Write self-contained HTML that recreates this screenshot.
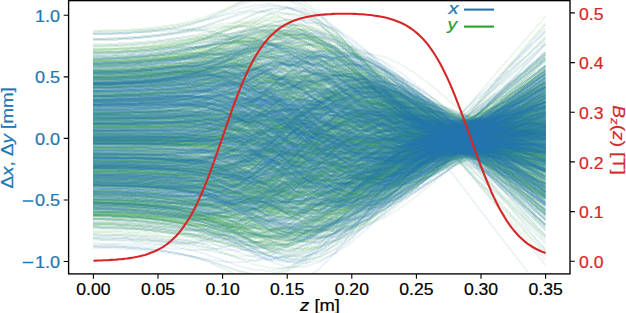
<!DOCTYPE html>
<html><head><meta charset="utf-8"><style>
html,body{margin:0;padding:0;background:#fff;}
svg{display:block;}
.L path{vector-effect:non-scaling-stroke;}
text{font-family:"Liberation Sans",sans-serif;stroke:currentColor;stroke-width:0.2px;}
</style></head><body>
<svg width="626" height="313" viewBox="0 0 626 313">
<rect x="0" y="0" width="626" height="313" fill="#fff"/>
<defs><clipPath id="ax"><rect x="68.6" y="0.65" width="501.4" height="273.25"/></clipPath></defs>
<g clip-path="url(#ax)" fill="none" stroke-width="2.0" stroke-opacity="0.085" stroke-linejoin="round" stroke-linecap="butt" class="L" shape-rendering="crispEdges">
<g stroke="#2ca02c" transform="translate(93.4 138.4) scale(16.1500 0.25)">
<path d="M0 -132l1 0 1-2 1-3 1-4 1-7 1-10 1-16 1-21 1-26 1-27 1-24 1-17 1-8 1 1 1 12 1 20 1 29 1 34 1 36 1 36 1 33 1 27 1 22 1 18 1 15 1 16 1 15 1 17"/>
<path d="M0 -26l1-1 1-1 1 0 1-1 1-1 1 0 1 2 1 5 1 6 1 10 1 12 1 12 1 12 1 12 1 9 1 6 1 3 1-1 1-5 1-7 1-10 1-11 1-11 1-12 1-12 1-12 1-12 1-13"/>
<path d="M0 -169l1-1 1-3 1-3 1-5 1-7 1-8 1-10 1-10 1-9 1-4 1 4 1 13 1 22 1 29 1 34 1 36 1 35 1 31 1 24 1 16 1 7 1-2 1-8 1-13 1-14 1-14 1-13 1-13"/>
<path d="M0 -101l1 0 1-2 1-2 1-2 1-4 1-4 1-5 1-5 1-3 1 1 1 5 1 10 1 13 1 16 1 18 1 18 1 16 1 14 1 10 1 6 1 1 1-3 1-5 1-8 1-8 1-9 1-8 1-8"/>
<path d="M0 255l1 2 1 3 1 5 1 7 1 10 1 14 1 18 1 24 1 24 1 22 1 14 1 1 1-10 1-23 1-34 1-42 1-48 1-48 1-46 1-39 1-30 1-19 1-9 1-3 1 1 1 1 1 2 1 0"/>
<path d="M0 -182l1-1 1-2 1-4 1-5 1-7 1-9 1-11 1-13 1-12 1-9 1-2 1 7 1 16 1 22 1 28 1 32 1 33 1 33 1 28 1 23 1 16 1 8 1 2 1-2 1-5 1-5 1-5 1-5"/>
<path d="M0 -63l1 0 1-1 1-1 1-1 1-2 1-2 1-2 1-1 1 3 1 6 1 9 1 12 1 13 1 13 1 11 1 9 1 7 1 3 1-1 1-3 1-7 1-9 1-10 1-10 1-11 1-10 1-10 1-9"/>
<path d="M0 -296l1-1 1-3 1-5 1-7 1-9 1-11 1-14 1-13 1-13 1-6 1 2 1 12 1 23 1 33 1 40 1 46 1 46 1 44 1 37 1 29 1 18 1 6 1-5 1-13 1-17 1-20 1-21 1-21"/>
<path d="M0 18l1 0 1 1 1 1 1 2 1 2 1 3 1 6 1 7 1 8 1 7 1 6 1 2 1 0 1-3 1-6 1-8 1-9 1-10 1-10 1-10 1-7 1-7 1-6 1-5 1-6 1-6 1-8 1-8"/>
<path d="M0 154l1 1 1 2 1 3 1 5 1 7 1 10 1 16 1 20 1 23 1 24 1 19 1 11 1 1 1-9 1-20 1-27 1-35 1-38 1-39 1-36 1-32 1-25 1-19 1-13 1-12 1-10 1-11 1-12"/>
<path d="M0 88l1 0 1 1 1 1 1 1 1 0 1-2 1-6 1-13 1-20 1-30 1-36 1-40 1-40 1-37 1-31 1-21 1-11 1 0 1 11 1 21 1 29 1 33 1 35 1 34 1 34 1 33 1 33 1 33"/>
<path d="M0 -368l1-1 1-3 1-5 1-6 1-7 1-6 1-4 1 2 1 12 1 26 1 41 1 55 1 65 1 69 1 69 1 62 1 50 1 35 1 17 1-3 1-20 1-35 1-46 1-51 1-54 1-55 1-54 1-54"/>
<path d="M0 -130l1 0 1-2 1-2 1-2 1-2 1 0 1 3 1 10 1 18 1 28 1 35 1 41 1 42 1 40 1 34 1 25 1 13 1 1 1-11 1-22 1-30 1-35 1-37 1-38 1-38 1-38 1-37 1-38"/>
<path d="M0 -320l1-2 1-4 1-6 1-8 1-10 1-15 1-18 1-22 1-23 1-17 1-6 1 8 1 24 1 38 1 50 1 58 1 60 1 58 1 51 1 39 1 25 1 11 1-3 1-11 1-15 1-15 1-16 1-14"/>
<path d="M0 -218l1-1 1-3 1-4 1-6 1-8 1-12 1-16 1-21 1-23 1-22 1-14 1-3 1 10 1 24 1 36 1 45 1 51 1 53 1 51 1 44 1 35 1 24 1 14 1 8 1 4 1 2 1 2 1 2"/>
<path d="M0 58l1 0 1 1 1 1 1 0 1 0 1-2 1-5 1-10 1-15 1-21 1-25 1-27 1-28 1-25 1-23 1-17 1-10 1-3 1 4 1 11 1 16 1 20 1 22 1 23 1 24 1 24 1 24 1 25"/>
<path d="M0 -79l1 0 1-1 1-1 1-2 1-2 1-1 1 1 1 3 1 8 1 14 1 18 1 22 1 24 1 24 1 21 1 18 1 12 1 6 1 0 1-6 1-11 1-15 1-16 1-17 1-17 1-17 1-17 1-16"/>
<path d="M0 -22l1 1 1 0 1 1 1 2 1 3 1 8 1 15 1 24 1 36 1 46 1 51 1 51 1 46 1 34 1 21 1 5 1-12 1-26 1-40 1-48 1-53 1-53 1-51 1-46 1-44 1-42 1-42 1-42"/>
<path d="M0 282l1 1 1 3 1 5 1 8 1 10 1 13 1 18 1 22 1 25 1 21 1 13 1 1 1-15 1-31 1-43 1-53 1-59 1-60 1-56 1-47 1-37 1-23 1-11 1-2 1 3 1 4 1 5 1 4"/>
<path d="M0 201l1 0 1 2 1 3 1 4 1 5 1 3 1 2 1-3 1-12 1-23 1-32 1-41 1-45 1-44 1-41 1-33 1-25 1-13 1 0 1 11 1 21 1 28 1 34 1 35 1 35 1 36 1 34 1 35"/>
<path d="M0 -416l1-1 1-2 1-5 1-6 1-10 1-15 1-23 1-30 1-33 1-28 1-14 1 6 1 28 1 50 1 67 1 79 1 85 1 83 1 75 1 61 1 44 1 25 1 11 1 2 1 0 1 1 1 3 1 5"/>
<path d="M0 -269l1-1 1-2 1-4 1-5 1-6 1-6 1-3 1 0 1 8 1 17 1 27 1 36 1 42 1 46 1 47 1 42 1 36 1 26 1 15 1 2 1-10 1-21 1-29 1-35 1-38 1-39 1-40 1-41"/>
<path d="M0 63l1 0 1 1 1 1 1 0 1 0 1-2 1-7 1-13 1-20 1-28 1-33 1-34 1-33 1-28 1-21 1-11 1-1 1 10 1 18 1 26 1 31 1 32 1 32 1 32 1 30 1 30 1 29 1 30"/>
<path d="M0 -147l1 0 1-2 1-2 1-2 1-1 1 1 1 5 1 13 1 23 1 34 1 42 1 47 1 45 1 41 1 33 1 21 1 8 1-5 1-19 1-29 1-37 1-41 1-43 1-44 1-43 1-43 1-42 1-43"/>
<path d="M0 -13l1 0 1 1 1 1 1 1 1 3 1 5 1 10 1 16 1 25 1 31 1 34 1 34 1 29 1 22 1 11 1 1 1-10 1-19 1-28 1-34 1-36 1-36 1-34 1-31 1-29 1-28 1-27 1-27"/>
<path d="M0 174l1 1 1 2 1 3 1 6 1 8 1 13 1 20 1 29 1 37 1 41 1 36 1 26 1 11 1-7 1-23 1-40 1-52 1-61 1-65 1-64 1-59 1-50 1-41 1-34 1-29 1-28 1-28 1-28"/>
<path d="M0 -270l1 0 1-2 1-4 1-5 1-5 1-4 1-3 1 4 1 11 1 22 1 34 1 43 1 49 1 52 1 50 1 45 1 36 1 24 1 11 1-3 1-16 1-26 1-35 1-39 1-41 1-43 1-42 1-43"/>
<path d="M0 19l1 0 1 1 1 1 1 1 1 3 1 6 1 9 1 14 1 20 1 23 1 23 1 19 1 11 1 4 1-6 1-14 1-22 1-27 1-31 1-31 1-29 1-27 1-22 1-21 1-19 1-19 1-19 1-20"/>
<path d="M0 38l1-1 1 1 1 1 1 2 1 5 1 8 1 15 1 22 1 31 1 37 1 38 1 35 1 28 1 20 1 8 1-4 1-16 1-27 1-34 1-39 1-42 1-39 1-37 1-33 1-32 1-31 1-32 1-31"/>
<path d="M0 -233l1-1 1-2 1-4 1-6 1-8 1-9 1-12 1-12 1-8 1-3 1 6 1 16 1 25 1 32 1 36 1 38 1 36 1 31 1 24 1 14 1 5 1-4 1-13 1-17 1-19 1-20 1-19 1-19"/>
<path d="M0 -268l1-1 1-2 1-3 1-4 1-4 1-2 1 2 1 11 1 23 1 36 1 50 1 59 1 64 1 64 1 59 1 48 1 35 1 19 1 2 1-15 1-30 1-41 1-48 1-51 1-53 1-52 1-52 1-52"/>
<path d="M0 244l1 0 1 2 1 4 1 5 1 9 1 15 1 23 1 32 1 41 1 42 1 38 1 24 1 8 1-11 1-31 1-47 1-59 1-68 1-68 1-65 1-55 1-44 1-31 1-24 1-19 1-19 1-20 1-21"/>
<path d="M0 92l1 0 1 1 1 2 1 2 1 2 1 3 1 3 1 2 1-1 1-3 1-8 1-11 1-14 1-16 1-16 1-16 1-13 1-11 1-7 1-2 1 2 1 6 1 8 1 11 1 12 1 12 1 13 1 12"/>
<path d="M0 159l1 1 1 2 1 3 1 5 1 8 1 11 1 14 1 21 1 25 1 25 1 20 1 10 1-3 1-16 1-30 1-40 1-47 1-50 1-49 1-43 1-35 1-24 1-16 1-9 1-5 1-4 1-4 1-4"/>
<path d="M0 -308l1-2 1-3 1-5 1-7 1-10 1-14 1-18 1-21 1-21 1-16 1-5 1 9 1 25 1 37 1 49 1 56 1 59 1 57 1 50 1 41 1 29 1 15 1 4 1-3 1-6 1-8 1-6 1-6"/>
<path d="M0 -289l1-1 1-3 1-4 1-7 1-9 1-13 1-18 1-24 1-28 1-26 1-18 1-6 1 12 1 29 1 46 1 57 1 66 1 67 1 64 1 56 1 43 1 28 1 15 1 4 1-1 1-4 1-4 1-4"/>
<path d="M0 256l1 1 1 2 1 5 1 6 1 8 1 10 1 11 1 11 1 8 1 1 1-10 1-22 1-33 1-40 1-46 1-47 1-44 1-38 1-29 1-17 1-5 1 7 1 15 1 21 1 23 1 24 1 22 1 23"/>
<path d="M0 -168l1-1 1-2 1-3 1-5 1-6 1-8 1-11 1-12 1-13 1-9 1-5 1 2 1 10 1 16 1 23 1 27 1 28 1 28 1 25 1 20 1 14 1 6 1 0 1-6 1-7 1-9 1-9 1-9"/>
<path d="M0 164l1 1 1 2 1 3 1 4 1 7 1 8 1 11 1 14 1 15 1 14 1 10 1 3 1-6 1-15 1-24 1-30 1-34 1-35 1-33 1-28 1-21 1-13 1-6 1 1 1 4 1 5 1 6 1 6"/>
<path d="M0 33l1 0 1 0 1 0 1-2 1-2 1-7 1-12 1-22 1-32 1-39 1-43 1-39 1-33 1-20 1-8 1 6 1 20 1 32 1 41 1 46 1 47 1 46 1 43 1 39 1 39 1 38 1 38 1 38"/>
<path d="M0 -220l1-1 1-2 1-3 1-6 1-9 1-13 1-20 1-27 1-33 1-34 1-28 1-17 1 0 1 16 1 32 1 46 1 56 1 61 1 62 1 56 1 49 1 36 1 26 1 19 1 14 1 13 1 13 1 13"/>
<path d="M0 131l1 0 1 1 1 2 1 4 1 7 1 9 1 16 1 22 1 31 1 34 1 33 1 26 1 15 1-1 1-16 1-30 1-41 1-50 1-53 1-51 1-47 1-38 1-28 1-21 1-17 1-14 1-14 1-14"/>
<path d="M0 129l1 1 1 2 1 3 1 5 1 7 1 11 1 16 1 21 1 26 1 26 1 20 1 11 1 0 1-12 1-22 1-32 1-38 1-41 1-42 1-37 1-32 1-24 1-17 1-12 1-11 1-11 1-12 1-12"/>
<path d="M0 110l1 0 1 2 1 3 1 3 1 5 1 6 1 8 1 8 1 9 1 8 1 3 1-1 1-7 1-12 1-17 1-19 1-21 1-21 1-19 1-16 1-11 1-7 1-1 1 1 1 4 1 4 1 4 1 5"/>
<path d="M0 34l1 0 1 0 1 0 1-1 1-2 1-6 1-11 1-19 1-29 1-37 1-42 1-43 1-39 1-32 1-22 1-10 1 3 1 16 1 26 1 35 1 40 1 42 1 41 1 39 1 37 1 36 1 37 1 36"/>
<path d="M0 -291l1-1 1-3 1-4 1-6 1-6 1-7 1-4 1 0 1 7 1 17 1 27 1 35 1 42 1 45 1 46 1 42 1 34 1 26 1 13 1 1 1-11 1-22 1-31 1-37 1-41 1-42 1-43 1-43"/>
<path d="M0 129l1 1 1 2 1 3 1 5 1 6 1 7 1 10 1 13 1 15 1 15 1 11 1 5 1-4 1-12 1-20 1-27 1-31 1-34 1-34 1-31 1-26 1-20 1-14 1-8 1-6 1-3 1-3 1-2"/>
<path d="M0 9l1 0 1-1 1-1 1-1 1-2 1-3 1-6 1-10 1-15 1-19 1-21 1-22 1-18 1-13 1-6 1 0 1 7 1 13 1 19 1 21 1 24 1 23 1 21 1 19 1 17 1 17 1 15 1 16"/>
<path d="M0 316l1 1 1 2 1 3 1 4 1 3 1 0 1-5 1-13 1-26 1-38 1-52 1-61 1-66 1-67 1-61 1-51 1-37 1-20 1-2 1 17 1 32 1 46 1 53 1 59 1 61 1 62 1 63 1 63"/>
<path d="M0 58l1 0 1 1 1 0 1-1 1-3 1-6 1-14 1-23 1-36 1-47 1-55 1-57 1-55 1-46 1-34 1-19 1-3 1 14 1 28 1 41 1 50 1 54 1 55 1 53 1 50 1 50 1 48 1 49"/>
<path d="M0 -204l1-1 1-3 1-3 1-6 1-8 1-12 1-16 1-20 1-24 1-23 1-18 1-9 1 2 1 14 1 25 1 34 1 41 1 44 1 44 1 39 1 31 1 23 1 14 1 6 1 3 1 1 1 0 1 1"/>
<path d="M0 21l1 0 1 1 1 0 1 1 1 1 1 1 1 0 1 1 1 1 1 0 1 0 1 0 1 0 1-1 1-2 1-2 1-2 1-3 1-3 1-2 1-1 1-1 1 0 1 1 1 2 1 2 1 3 1 3"/>
<path d="M0 -102l1-1 1-1 1-2 1-1 1-1 1 1 1 5 1 13 1 23 1 33 1 41 1 43 1 41 1 34 1 24 1 12 1-1 1-14 1-26 1-34 1-40 1-43 1-42 1-40 1-39 1-37 1-37 1-36"/>
<path d="M0 -169l1-2 1-2 1-5 1-6 1-8 1-13 1-19 1-25 1-30 1-30 1-25 1-15 1-3 1 9 1 22 1 33 1 41 1 46 1 47 1 43 1 37 1 28 1 19 1 14 1 11 1 10 1 11 1 11"/>
<path d="M0 -59l1-1 1-1 1-1 1-2 1-2 1-2 1-1 1 0 1 2 1 5 1 9 1 11 1 14 1 16 1 17 1 17 1 14 1 12 1 7 1 4 1 0 1-4 1-7 1-8 1-10 1-10 1-10 1-10"/>
<path d="M0 129l1 2 1 2 1 4 1 5 1 7 1 11 1 14 1 21 1 26 1 28 1 28 1 22 1 13 1 1 1-11 1-23 1-31 1-39 1-42 1-42 1-38 1-31 1-23 1-17 1-12 1-10 1-9 1-8"/>
<path d="M0 -45l1 0 1 0 1 0 1 0 1 0 1 3 1 7 1 10 1 16 1 20 1 22 1 22 1 21 1 19 1 14 1 9 1 2 1-4 1-10 1-15 1-19 1-21 1-21 1-22 1-23 1-24 1-24 1-25"/>
<path d="M0 0l1 0 1 0 1-1 1-1 1-2 1-3 1-7 1-10 1-14 1-20 1-22 1-23 1-22 1-19 1-13 1-7 1 0 1 7 1 13 1 17 1 21 1 21 1 20 1 18 1 16 1 15 1 15 1 14"/>
<path d="M0 -98l1 0 1-1 1-2 1-1 1-2 1-2 1 1 1 3 1 8 1 14 1 18 1 21 1 22 1 22 1 19 1 15 1 10 1 3 1-3 1-9 1-13 1-18 1-19 1-21 1-21 1-21 1-22 1-22"/>
<path d="M0 40l1 0 1 0 1 1 1 1 1 3 1 5 1 8 1 12 1 17 1 19 1 18 1 15 1 9 1 3 1-5 1-12 1-17 1-22 1-25 1-26 1-24 1-23 1-20 1-17 1-16 1-16 1-16 1-16"/>
<path d="M0 -216l1-1 1-2 1-4 1-4 1-5 1-3 1-1 1 4 1 12 1 21 1 30 1 38 1 43 1 45 1 44 1 40 1 32 1 22 1 12 1 0 1-11 1-20 1-28 1-31 1-34 1-35 1-36 1-36"/>
<path d="M0 173l1 1 1 2 1 3 1 5 1 6 1 7 1 7 1 8 1 6 1 1 1-6 1-14 1-21 1-29 1-33 1-35 1-35 1-32 1-27 1-20 1-12 1-3 1 2 1 8 1 9 1 11 1 11 1 12"/>
<path d="M0 -240l1-1 1-2 1-4 1-5 1-7 1-6 1-6 1-4 1 0 1 7 1 14 1 22 1 27 1 32 1 33 1 33 1 30 1 25 1 17 1 8 1-1 1-10 1-17 1-24 1-27 1-29 1-30 1-30"/>
<path d="M0 -344l1-1 1-3 1-4 1-7 1-10 1-14 1-19 1-25 1-26 1-22 1-10 1 7 1 24 1 41 1 55 1 64 1 69 1 67 1 61 1 48 1 35 1 19 1 6 1-2 1-5 1-5 1-4 1-3"/>
<path d="M0 148l1 1 1 3 1 3 1 4 1 5 1 6 1 6 1 4 1 1 1-6 1-12 1-19 1-23 1-26 1-27 1-25 1-21 1-15 1-9 1-3 1 5 1 11 1 15 1 17 1 19 1 18 1 18 1 17"/>
<path d="M0 83l1 1 1 1 1 3 1 2 1 4 1 3 1 4 1 3 1 1 1 0 1-3 1-4 1-5 1-6 1-8 1-7 1-8 1-6 1-5 1-3 1-1 1 3 1 5 1 7 1 10 1 11 1 11 1 12"/>
<path d="M0 -214l1-1 1-3 1-4 1-5 1-6 1-7 1-6 1-5 1 0 1 8 1 16 1 26 1 34 1 40 1 42 1 41 1 36 1 28 1 17 1 7 1-5 1-15 1-23 1-27 1-29 1-30 1-31 1-30"/>
<path d="M0 41l1 0 1 0 1 1 1 2 1 4 1 7 1 12 1 20 1 27 1 34 1 35 1 34 1 28 1 20 1 9 1-3 1-13 1-24 1-31 1-37 1-38 1-38 1-35 1-30 1-29 1-27 1-27 1-27"/>
<path d="M0 -272l1-1 1-4 1-5 1-7 1-9 1-12 1-14 1-16 1-13 1-7 1 3 1 16 1 28 1 38 1 45 1 50 1 48 1 43 1 35 1 23 1 10 1-2 1-12 1-19 1-22 1-23 1-22 1-22"/>
<path d="M0 187l1 1 1 1 1 4 1 4 1 6 1 6 1 8 1 9 1 8 1 6 1 0 1-7 1-15 1-24 1-31 1-36 1-37 1-35 1-30 1-24 1-15 1-6 1 3 1 9 1 14 1 15 1 16 1 17"/>
<path d="M0 224l1 0 1 2 1 4 1 5 1 9 1 12 1 17 1 24 1 30 1 32 1 28 1 19 1 6 1-10 1-26 1-39 1-50 1-56 1-57 1-54 1-46 1-36 1-24 1-15 1-9 1-6 1-5 1-5"/>
<path d="M0 -95l1-2 1-1 1-3 1-4 1-5 1-7 1-10 1-12 1-16 1-17 1-15 1-10 1-5 1 4 1 10 1 18 1 23 1 26 1 28 1 26 1 24 1 19 1 13 1 9 1 6 1 4 1 4 1 4"/>
<path d="M0 30l1 0 1 0 1 0 1 0 1 0 1-2 1-4 1-8 1-14 1-17 1-18 1-17 1-14 1-8 1-2 1 5 1 11 1 16 1 19 1 22 1 23 1 22 1 21 1 19 1 19 1 19 1 18 1 19"/>
<path d="M0 4l1 0 1 0 1-1 1 0 1-1 1-3 1-5 1-7 1-12 1-14 1-17 1-18 1-18 1-17 1-13 1-9 1-5 1 1 1 6 1 9 1 13 1 14 1 14 1 14 1 13 1 12 1 12 1 13"/>
<path d="M0 -265l1-2 1-3 1-5 1-7 1-10 1-12 1-16 1-18 1-20 1-16 1-8 1 3 1 16 1 28 1 39 1 46 1 51 1 50 1 45 1 37 1 27 1 15 1 3 1-5 1-9 1-12 1-11 1-12"/>
<path d="M0 165l1 1 1 2 1 3 1 4 1 4 1 2 1 1 1-5 1-11 1-20 1-29 1-36 1-41 1-44 1-41 1-38 1-30 1-20 1-9 1 1 1 12 1 21 1 26 1 30 1 31 1 31 1 32 1 32"/>
<path d="M0 307l1 1 1 4 1 5 1 7 1 9 1 9 1 10 1 8 1 3 1-7 1-21 1-34 1-48 1-58 1-63 1-62 1-58 1-47 1-33 1-17 1 0 1 14 1 26 1 33 1 36 1 37 1 37 1 36"/>
<path d="M0 -89l1 0 1-1 1-1 1-2 1-3 1-2 1-1 1 0 1 6 1 11 1 17 1 22 1 25 1 25 1 23 1 19 1 15 1 8 1 1 1-5 1-11 1-14 1-16 1-17 1-16 1-15 1-14 1-14"/>
<path d="M0 -92l1-1 1-1 1-1 1-2 1-3 1-2 1-1 1 2 1 6 1 11 1 14 1 17 1 17 1 16 1 13 1 9 1 5 1 0 1-6 1-9 1-13 1-16 1-17 1-19 1-18 1-19 1-19 1-19"/>
<path d="M0 -343l1-1 1-3 1-5 1-5 1-5 1-4 1 1 1 9 1 22 1 35 1 50 1 59 1 63 1 63 1 57 1 47 1 34 1 17 1 0 1-17 1-31 1-42 1-51 1-55 1-57 1-57 1-57 1-56"/>
<path d="M0 -138l1 0 1-1 1-1 1-1 1 0 1 4 1 11 1 20 1 32 1 43 1 51 1 55 1 53 1 48 1 37 1 23 1 8 1-8 1-23 1-36 1-45 1-51 1-52 1-53 1-52 1-53 1-52 1-53"/>
<path d="M0 -19l1 0 1 1 1 0 1 2 1 3 1 5 1 11 1 17 1 26 1 31 1 33 1 30 1 22 1 13 1 2 1-10 1-20 1-30 1-35 1-39 1-40 1-37 1-34 1-33 1-30 1-31 1-30 1-30"/>
<path d="M0 229l1 1 1 3 1 4 1 6 1 9 1 13 1 20 1 26 1 30 1 31 1 25 1 14 1 2 1-11 1-25 1-37 1-45 1-50 1-52 1-48 1-42 1-34 1-24 1-17 1-14 1-12 1-13 1-13"/>
<path d="M0 -214l1 0 1-2 1-1 1-2 1-1 1 2 1 7 1 17 1 28 1 39 1 48 1 52 1 52 1 48 1 40 1 28 1 15 1 0 1-15 1-28 1-38 1-46 1-49 1-53 1-53 1-55 1-55 1-56"/>
<path d="M0 -301l1-2 1-3 1-5 1-7 1-11 1-14 1-19 1-24 1-27 1-23 1-13 1 1 1 16 1 33 1 46 1 57 1 62 1 63 1 59 1 49 1 37 1 24 1 11 1 3 1-1 1-3 1-3 1-2"/>
<path d="M0 -316l1-2 1-4 1-6 1-7 1-10 1-11 1-13 1-12 1-9 1-2 1 7 1 17 1 29 1 39 1 46 1 50 1 49 1 46 1 38 1 27 1 15 1 1 1-10 1-19 1-25 1-27 1-28 1-29"/>
<path d="M0 -60l1-1 1-1 1-2 1-3 1-5 1-6 1-10 1-14 1-16 1-16 1-12 1-7 1 1 1 8 1 15 1 20 1 24 1 26 1 25 1 23 1 19 1 14 1 11 1 8 1 8 1 8 1 9 1 10"/>
<path d="M0 -260l1-1 1-3 1-6 1-7 1-10 1-14 1-19 1-24 1-27 1-25 1-17 1-4 1 13 1 27 1 42 1 52 1 58 1 61 1 57 1 50 1 39 1 26 1 14 1 7 1 2 1 0 1 1 1 1"/>
<path d="M0 -221l1-1 1-2 1-4 1-4 1-6 1-6 1-4 1-2 1 6 1 14 1 25 1 34 1 41 1 45 1 44 1 40 1 34 1 23 1 13 1 0 1-11 1-21 1-27 1-30 1-32 1-33 1-32 1-31"/>
<path d="M0 221l1 1 1 2 1 3 1 4 1 4 1 3 1 0 1-7 1-16 1-28 1-40 1-50 1-57 1-58 1-54 1-47 1-34 1-20 1-4 1 12 1 25 1 36 1 43 1 45 1 45 1 46 1 45 1 45"/>
<path d="M0 -274l1-1 1-3 1-4 1-6 1-6 1-7 1-4 1 1 1 11 1 24 1 36 1 48 1 53 1 55 1 51 1 45 1 33 1 20 1 5 1-9 1-22 1-33 1-39 1-42 1-44 1-43 1-42 1-42"/>
<path d="M0 -205l1-1 1-2 1-3 1-4 1-5 1-5 1-4 1 0 1 7 1 16 1 27 1 37 1 46 1 49 1 49 1 45 1 37 1 25 1 13 1-1 1-13 1-23 1-29 1-33 1-33 1-33 1-33 1-32"/>
<path d="M0 233l1 2 1 3 1 4 1 6 1 6 1 8 1 6 1 3 1-3 1-11 1-23 1-31 1-40 1-43 1-45 1-41 1-36 1-27 1-16 1-4 1 7 1 17 1 24 1 29 1 31 1 31 1 32 1 31"/>
<path d="M0 302l1 1 1 3 1 4 1 5 1 7 1 7 1 5 1 1 1-6 1-16 1-26 1-35 1-42 1-46 1-47 1-44 1-38 1-29 1-17 1-5 1 7 1 19 1 27 1 34 1 38 1 39 1 40 1 40"/>
<path d="M0 -247l1-1 1-2 1-3 1-4 1-4 1-3 1 1 1 7 1 17 1 28 1 39 1 49 1 53 1 55 1 52 1 44 1 33 1 20 1 5 1-9 1-23 1-33 1-41 1-44 1-46 1-47 1-47 1-46"/>
<path d="M0 -139l1 0 1-2 1-2 1-3 1-4 1-5 1-4 1-4 1 0 1 6 1 13 1 20 1 26 1 29 1 31 1 30 1 27 1 21 1 15 1 8 1 0 1-6 1-11 1-12 1-14 1-14 1-13 1-13"/>
<path d="M0 -244l1 0 1-3 1-4 1-6 1-8 1-10 1-13 1-14 1-14 1-9 1 0 1 10 1 22 1 33 1 41 1 46 1 47 1 45 1 40 1 31 1 20 1 9 1 0 1-7 1-10 1-12 1-13 1-12"/>
<path d="M0 -62l1-1 1-1 1 0 1-1 1 0 1 1 1 5 1 10 1 19 1 27 1 32 1 37 1 34 1 30 1 22 1 13 1 2 1-9 1-19 1-26 1-31 1-33 1-33 1-30 1-29 1-27 1-27 1-26"/>
<path d="M0 -124l1-1 1-1 1-3 1-4 1-5 1-9 1-11 1-16 1-17 1-17 1-10 1-2 1 9 1 18 1 27 1 33 1 36 1 37 1 35 1 30 1 23 1 16 1 10 1 6 1 4 1 4 1 6 1 5"/>
<path d="M0 39l1 0 1 0 1 0 1 0 1-2 1-5 1-10 1-18 1-27 1-34 1-37 1-36 1-28 1-19 1-7 1 5 1 18 1 28 1 36 1 40 1 42 1 41 1 38 1 35 1 35 1 33 1 34 1 34"/>
<path d="M0 -345l1-1 1-2 1-5 1-7 1-10 1-14 1-18 1-22 1-23 1-17 1-6 1 11 1 29 1 45 1 59 1 68 1 71 1 69 1 60 1 47 1 31 1 15 1 2 1-7 1-11 1-13 1-12 1-11"/>
<path d="M0 222l1 1 1 3 1 4 1 7 1 9 1 14 1 21 1 28 1 36 1 36 1 31 1 17 1 1 1-18 1-36 1-50 1-62 1-68 1-69 1-65 1-56 1-44 1-34 1-25 1-20 1-19 1-18 1-18"/>
<path d="M0 -357l1-2 1-3 1-5 1-7 1-10 1-14 1-19 1-26 1-29 1-27 1-18 1-3 1 14 1 33 1 50 1 63 1 71 1 73 1 68 1 59 1 45 1 30 1 14 1 3 1-3 1-5 1-6 1-5"/>
<path d="M0 259l1 1 1 3 1 4 1 7 1 7 1 10 1 11 1 11 1 11 1 7 1-1 1-10 1-20 1-31 1-40 1-44 1-46 1-44 1-39 1-31 1-20 1-8 1 3 1 10 1 16 1 19 1 20 1 21"/>
<path d="M0 194l1 1 1 2 1 3 1 4 1 5 1 5 1 3 1 0 1-5 1-15 1-24 1-33 1-41 1-44 1-44 1-41 1-36 1-27 1-16 1-5 1 6 1 14 1 22 1 24 1 27 1 26 1 26 1 26"/>
<path d="M0 120l1 1 1 1 1 3 1 4 1 5 1 9 1 12 1 16 1 19 1 19 1 15 1 7 1-3 1-14 1-22 1-30 1-35 1-37 1-36 1-32 1-25 1-18 1-12 1-8 1-5 1-5 1-5 1-5"/>
<path d="M0 -246l1-1 1-2 1-5 1-5 1-7 1-7 1-7 1-6 1-2 1 6 1 17 1 28 1 39 1 48 1 52 1 53 1 49 1 41 1 30 1 18 1 3 1-9 1-19 1-25 1-29 1-29 1-30 1-29"/>
<path d="M0 112l1 0 1 2 1 3 1 4 1 5 1 7 1 9 1 11 1 11 1 9 1 7 1 2 1-2 1-7 1-10 1-14 1-16 1-17 1-16 1-14 1-10 1-6 1-1 1 2 1 3 1 4 1 4 1 4"/>
<path d="M0 -275l1 0 1-2 1-4 1-6 1-9 1-14 1-22 1-30 1-36 1-35 1-28 1-14 1 4 1 22 1 39 1 54 1 63 1 69 1 68 1 63 1 53 1 42 1 30 1 23 1 19 1 19 1 20 1 21"/>
<path d="M0 135l1 1 1 1 1 3 1 4 1 4 1 6 1 7 1 8 1 6 1 4 1-1 1-5 1-11 1-14 1-19 1-20 1-21 1-19 1-17 1-13 1-8 1-3 1 3 1 6 1 8 1 10 1 9 1 10"/>
<path d="M0 180l1 0 1 2 1 3 1 4 1 4 1 4 1 3 1 0 1-4 1-10 1-17 1-25 1-30 1-35 1-36 1-36 1-30 1-25 1-16 1-8 1 3 1 10 1 17 1 21 1 23 1 25 1 25 1 26"/>
<path d="M0 -242l1-1 1-3 1-4 1-7 1-10 1-13 1-19 1-25 1-30 1-29 1-22 1-9 1 8 1 25 1 40 1 53 1 61 1 64 1 62 1 55 1 45 1 32 1 20 1 12 1 7 1 5 1 5 1 6"/>
<path d="M0 -236l1-1 1-3 1-3 1-5 1-5 1-4 1-1 1 4 1 12 1 20 1 29 1 35 1 39 1 41 1 39 1 34 1 26 1 16 1 6 1-6 1-16 1-25 1-32 1-37 1-40 1-41 1-43 1-43"/>
<path d="M0 -18l1-1 1-1 1-1 1-2 1-3 1-4 1-6 1-9 1-10 1-13 1-13 1-13 1-12 1-10 1-6 1-2 1 1 1 5 1 9 1 11 1 12 1 11 1 11 1 9 1 8 1 8 1 8 1 7"/>
<path d="M0 -56l1 0 1-1 1-1 1-3 1-4 1-7 1-12 1-19 1-26 1-30 1-31 1-28 1-21 1-12 1 0 1 10 1 20 1 28 1 35 1 38 1 38 1 35 1 31 1 27 1 24 1 23 1 23 1 22"/>
<path d="M0 256l1 1 1 2 1 5 1 6 1 9 1 13 1 17 1 22 1 24 1 19 1 10 1-4 1-22 1-37 1-49 1-59 1-61 1-60 1-53 1-41 1-27 1-13 1-1 1 6 1 10 1 10 1 10 1 8"/>
<path d="M0 -69l1 0 1 0 1-2 1-2 1-4 1-6 1-10 1-16 1-21 1-25 1-26 1-22 1-17 1-7 1 2 1 12 1 20 1 27 1 32 1 33 1 33 1 29 1 25 1 20 1 17 1 16 1 15 1 15"/>
<path d="M0 124l1 0 1 1 1 2 1 2 1 2 1 1 1-1 1-4 1-10 1-16 1-21 1-25 1-28 1-28 1-25 1-22 1-17 1-9 1-2 1 5 1 11 1 17 1 20 1 22 1 23 1 24 1 25 1 24"/>
<path d="M0 -287l1 0 1-1 1-1 1 0 1 1 1 6 1 14 1 27 1 43 1 58 1 70 1 75 1 73 1 65 1 50 1 30 1 9 1-13 1-34 1-52 1-64 1-72 1-75 1-75 1-76 1-75 1-76 1-75"/>
<path d="M0 -307l1-1 1-3 1-4 1-7 1-8 1-10 1-10 1-9 1-3 1 6 1 18 1 29 1 40 1 47 1 50 1 50 1 46 1 37 1 27 1 14 1 1 1-12 1-20 1-27 1-30 1-31 1-31 1-30"/>
<path d="M0 -13l1 0 1 0 1 1 1 1 1 3 1 6 1 12 1 19 1 27 1 34 1 37 1 37 1 33 1 26 1 18 1 6 1-4 1-16 1-24 1-32 1-36 1-36 1-36 1-34 1-33 1-32 1-33 1-32"/>
<path d="M0 176l1 1 1 2 1 3 1 4 1 6 1 6 1 7 1 7 1 3 1-2 1-10 1-18 1-25 1-29 1-32 1-33 1-30 1-26 1-19 1-11 1-3 1 4 1 10 1 14 1 16 1 16 1 15 1 15"/>
<path d="M0 -3l1 0 1 1 1 0 1 0 1 0 1-1 1-2 1-3 1-5 1-6 1-7 1-9 1-9 1-9 1-8 1-6 1-3 1-2 1 2 1 4 1 5 1 6 1 7 1 6 1 5 1 6 1 5 1 6"/>
<path d="M0 -12l1 0 1-1 1 0 1 0 1 1 1 1 1 2 1 4 1 4 1 5 1 5 1 4 1 3 1 3 1 1 1 0 1-2 1-2 1-3 1-4 1-5 1-4 1-6 1-5 1-7 1-8 1-8 1-8"/>
<path d="M0 116l1 0 1 1 1 2 1 2 1 1 1 1 1-3 1-8 1-14 1-23 1-30 1-35 1-37 1-37 1-33 1-26 1-18 1-8 1 2 1 12 1 19 1 26 1 28 1 30 1 29 1 29 1 29 1 29"/>
<path d="M0 -146l1-1 1-1 1-2 1-2 1-1 1 2 1 7 1 16 1 29 1 41 1 51 1 55 1 54 1 47 1 35 1 20 1 3 1-13 1-28 1-41 1-49 1-52 1-53 1-51 1-50 1-48 1-48 1-48"/>
<path d="M0 294l1 1 1 3 1 5 1 7 1 10 1 13 1 17 1 21 1 23 1 20 1 11 1-2 1-18 1-34 1-47 1-57 1-63 1-63 1-57 1-49 1-35 1-22 1-8 1 0 1 6 1 8 1 8 1 8"/>
<path d="M0 -71l1-1 1-1 1-2 1-2 1-2 1-2 1-1 1 1 1 5 1 7 1 11 1 12 1 13 1 12 1 11 1 8 1 5 1 1 1-3 1-6 1-9 1-11 1-13 1-14 1-15 1-15 1-16 1-16"/>
<path d="M0 338l1 1 1 3 1 6 1 7 1 11 1 13 1 17 1 20 1 22 1 17 1 6 1-7 1-24 1-40 1-53 1-63 1-66 1-65 1-58 1-48 1-33 1-17 1-4 1 7 1 12 1 14 1 15 1 15"/>
<path d="M0 266l1 1 1 2 1 4 1 7 1 8 1 12 1 16 1 19 1 20 1 15 1 5 1-9 1-23 1-36 1-46 1-53 1-57 1-55 1-48 1-40 1-28 1-15 1-5 1 1 1 5 1 6 1 5 1 4"/>
<path d="M0 224l1 1 1 2 1 4 1 6 1 7 1 9 1 10 1 10 1 7 1 0 1-9 1-19 1-29 1-36 1-41 1-41 1-39 1-33 1-25 1-14 1-4 1 7 1 14 1 20 1 21 1 22 1 21 1 21"/>
<path d="M0 -53l1 0 1-1 1-1 1-2 1-1 1-1 1 0 1 1 1 3 1 5 1 6 1 7 1 9 1 10 1 11 1 10 1 9 1 7 1 5 1 3 1-1 1-3 1-6 1-8 1-9 1-10 1-12 1-11"/>
<path d="M0 -136l1-1 1-1 1-2 1-2 1-2 1-1 1 2 1 8 1 15 1 23 1 32 1 37 1 39 1 39 1 35 1 27 1 18 1 7 1-4 1-15 1-22 1-29 1-32 1-33 1-33 1-33 1-33 1-32"/>
<path d="M0 -170l1-1 1-1 1-4 1-5 1-7 1-10 1-14 1-17 1-19 1-17 1-10 1-2 1 8 1 17 1 25 1 32 1 35 1 37 1 34 1 30 1 24 1 15 1 9 1 4 1 2 1 2 1 2 1 2"/>
<path d="M0 177l1 0 1 2 1 4 1 5 1 7 1 10 1 14 1 17 1 18 1 16 1 10 1 1 1-6 1-16 1-22 1-29 1-32 1-33 1-30 1-27 1-19 1-13 1-6 1-1 1 1 1 2 1 1 1 0"/>
<path d="M0 -145l1-1 1-2 1-2 1-3 1-4 1-2 1-1 1 3 1 10 1 17 1 23 1 27 1 29 1 27 1 24 1 18 1 12 1 5 1-4 1-10 1-17 1-22 1-25 1-26 1-28 1-28 1-27 1-28"/>
<path d="M0 251l1 1 1 2 1 4 1 6 1 9 1 13 1 18 1 25 1 31 1 31 1 27 1 18 1 5 1-9 1-23 1-35 1-46 1-52 1-55 1-52 1-47 1-37 1-28 1-19 1-14 1-11 1-11 1-11"/>
<path d="M0 -216l1-2 1-2 1-4 1-6 1-7 1-9 1-9 1-8 1-6 1 0 1 9 1 18 1 27 1 33 1 37 1 39 1 37 1 32 1 24 1 16 1 6 1-4 1-11 1-17 1-19 1-20 1-20 1-20"/>
<path d="M0 123l1 1 1 1 1 3 1 3 1 5 1 6 1 6 1 7 1 4 1 1 1-4 1-8 1-13 1-15 1-17 1-17 1-16 1-14 1-10 1-6 1-1 1 3 1 8 1 9 1 11 1 11 1 11 1 11"/>
<path d="M0 8l1 0 1 1 1 1 1 2 1 4 1 9 1 15 1 25 1 36 1 46 1 51 1 51 1 45 1 34 1 21 1 5 1-11 1-25 1-39 1-48 1-53 1-53 1-51 1-47 1-43 1-41 1-41 1-41"/>
<path d="M0 109l1 1 1 1 1 3 1 3 1 5 1 7 1 10 1 14 1 18 1 19 1 18 1 13 1 6 1-2 1-11 1-18 1-25 1-30 1-31 1-31 1-28 1-23 1-18 1-12 1-10 1-7 1-7 1-6"/>
<path d="M0 253l1 1 1 3 1 5 1 6 1 9 1 12 1 15 1 18 1 19 1 16 1 9 1-3 1-15 1-27 1-39 1-46 1-50 1-51 1-47 1-40 1-29 1-19 1-7 1 0 1 5 1 7 1 8 1 7"/>
<path d="M0 338l1 1 1 3 1 4 1 6 1 8 1 7 1 5 1 1 1-9 1-22 1-36 1-50 1-59 1-64 1-64 1-58 1-48 1-34 1-16 1 0 1 18 1 31 1 40 1 46 1 48 1 48 1 48 1 48"/>
<path d="M0 295l1 1 1 2 1 3 1 5 1 5 1 6 1 2 1-2 1-10 1-21 1-32 1-43 1-50 1-55 1-56 1-50 1-43 1-30 1-17 1-1 1 13 1 25 1 35 1 40 1 44 1 44 1 46 1 45"/>
<path d="M0 307l1 1 1 4 1 5 1 8 1 10 1 14 1 19 1 22 1 24 1 19 1 8 1-6 1-23 1-38 1-51 1-59 1-64 1-62 1-56 1-45 1-31 1-18 1-4 1 3 1 8 1 8 1 8 1 8"/>
<path d="M0 -252l1-1 1-3 1-4 1-7 1-8 1-11 1-13 1-13 1-12 1-5 1 4 1 15 1 26 1 35 1 41 1 44 1 45 1 41 1 34 1 26 1 15 1 6 1-4 1-9 1-11 1-12 1-12 1-12"/>
<path d="M0 -284l1-1 1-3 1-5 1-7 1-9 1-14 1-18 1-23 1-26 1-24 1-15 1-1 1 15 1 32 1 46 1 57 1 64 1 65 1 62 1 53 1 41 1 28 1 15 1 6 1 1 1-1 1-1 1 0"/>
<path d="M0 -190l1-1 1-2 1-3 1-5 1-7 1-9 1-11 1-15 1-17 1-17 1-14 1-8 1 1 1 10 1 19 1 27 1 32 1 36 1 36 1 34 1 29 1 21 1 14 1 6 1 2 1-1 1-3 1-2"/>
<path d="M0 -201l1-1 1-2 1-4 1-4 1-5 1-3 1-1 1 4 1 10 1 18 1 26 1 30 1 34 1 35 1 34 1 30 1 23 1 15 1 5 1-4 1-13 1-21 1-27 1-31 1-35 1-36 1-38 1-37"/>
<path d="M0 -55l1 0 1 0 1-1 1-2 1-1 1-3 1-3 1-2 1 1 1 3 1 7 1 11 1 12 1 13 1 13 1 11 1 8 1 6 1 3 1 0 1-4 1-5 1-7 1-6 1-6 1-6 1-4 1-4"/>
<path d="M0 146l1 0 1 2 1 2 1 5 1 5 1 9 1 12 1 16 1 19 1 19 1 14 1 6 1-5 1-14 1-25 1-33 1-38 1-41 1-40 1-38 1-32 1-24 1-18 1-13 1-10 1-8 1-9 1-8"/>
<path d="M0 162l1 1 1 1 1 3 1 4 1 7 1 9 1 15 1 19 1 23 1 23 1 18 1 10 1-1 1-12 1-22 1-31 1-38 1-40 1-41 1-37 1-32 1-24 1-17 1-12 1-10 1-9 1-9 1-9"/>
<path d="M0 -212l1-1 1-2 1-4 1-5 1-7 1-9 1-11 1-11 1-10 1-6 1 3 1 12 1 22 1 30 1 36 1 40 1 40 1 38 1 32 1 25 1 16 1 7 1 0 1-7 1-9 1-10 1-11 1-10"/>
<path d="M0 118l1 0 1 1 1 2 1 3 1 3 1 3 1 2 1 0 1-3 1-7 1-11 1-17 1-20 1-22 1-24 1-22 1-19 1-14 1-8 1-2 1 4 1 10 1 14 1 16 1 19 1 19 1 20 1 20"/>
<path d="M0 -265l1 0 1-3 1-3 1-6 1-6 1-7 1-6 1-3 1 4 1 12 1 23 1 31 1 39 1 42 1 43 1 41 1 34 1 26 1 15 1 4 1-8 1-18 1-25 1-30 1-34 1-33 1-35 1-33"/>
<path d="M0 308l1 1 1 3 1 3 1 5 1 5 1 3 1 0 1-9 1-20 1-35 1-49 1-59 1-63 1-63 1-57 1-46 1-31 1-15 1 4 1 20 1 35 1 46 1 52 1 56 1 57 1 57 1 56 1 56"/>
<path d="M0 -74l1 0 1-1 1-1 1-3 1-6 1-9 1-15 1-22 1-30 1-33 1-32 1-26 1-16 1-5 1 8 1 20 1 31 1 38 1 42 1 43 1 40 1 35 1 29 1 25 1 24 1 22 1 24 1 24"/>
<path d="M0 13l1 0 1-1 1-1 1-3 1-5 1-9 1-18 1-30 1-42 1-53 1-58 1-54 1-45 1-29 1-13 1 7 1 26 1 42 1 54 1 62 1 64 1 62 1 57 1 51 1 49 1 48 1 47 1 48"/>
<path d="M0 345l1 1 1 4 1 6 1 8 1 10 1 13 1 15 1 17 1 15 1 8 1-4 1-19 1-34 1-47 1-57 1-63 1-63 1-59 1-50 1-37 1-22 1-8 1 6 1 14 1 19 1 20 1 21 1 20"/>
<path d="M0 323l1 2 1 3 1 6 1 7 1 10 1 13 1 16 1 17 1 14 1 7 1-6 1-23 1-39 1-51 1-62 1-66 1-65 1-60 1-49 1-36 1-19 1-5 1 7 1 15 1 18 1 19 1 18 1 18"/>
<path d="M0 -62l1 0 1-1 1-1 1-2 1-3 1-4 1-6 1-8 1-9 1-9 1-5 1-1 1 4 1 9 1 12 1 16 1 17 1 18 1 18 1 15 1 12 1 9 1 6 1 5 1 4 1 4 1 4 1 4"/>
<path d="M0 -214l1 0 1-2 1-3 1-3 1-4 1-2 1 3 1 10 1 21 1 35 1 44 1 50 1 51 1 45 1 37 1 25 1 11 1-4 1-18 1-31 1-40 1-46 1-49 1-50 1-49 1-48 1-48 1-48"/>
<path d="M0 -124l1 0 1-2 1-1 1-2 1-1 1 1 1 6 1 13 1 25 1 36 1 45 1 50 1 51 1 45 1 36 1 24 1 11 1-5 1-18 1-30 1-39 1-44 1-45 1-44 1-43 1-41 1-40 1-40"/>
<path d="M0 -200l1-1 1-2 1-4 1-6 1-7 1-8 1-10 1-10 1-7 1-2 1 6 1 15 1 23 1 30 1 34 1 35 1 34 1 30 1 24 1 15 1 7 1-1 1-9 1-13 1-16 1-16 1-16 1-16"/>
<path d="M0 -244l1 0 1-2 1-4 1-4 1-5 1-5 1-2 1 2 1 10 1 21 1 30 1 40 1 46 1 49 1 49 1 43 1 36 1 25 1 13 1 0 1-12 1-23 1-30 1-34 1-36 1-38 1-37 1-38"/>
<path d="M0 84l1 0 1 1 1 1 1 3 1 4 1 7 1 10 1 14 1 16 1 18 1 16 1 12 1 6 1 0 1-6 1-13 1-18 1-21 1-23 1-23 1-21 1-17 1-13 1-11 1-9 1-8 1-9 1-10"/>
<path d="M0 -257l1-1 1-3 1-5 1-6 1-9 1-12 1-16 1-18 1-21 1-17 1-9 1 2 1 17 1 30 1 43 1 51 1 55 1 56 1 51 1 43 1 32 1 19 1 7 1 0 1-6 1-7 1-8 1-8"/>
<path d="M0 73l1 0 1 1 1 1 1 3 1 3 1 6 1 9 1 14 1 17 1 20 1 18 1 12 1 5 1-4 1-13 1-21 1-28 1-31 1-33 1-33 1-28 1-24 1-20 1-15 1-13 1-12 1-12 1-12"/>
<path d="M0 303l1 1 1 3 1 5 1 7 1 9 1 11 1 13 1 14 1 11 1 3 1-10 1-23 1-38 1-49 1-56 1-60 1-57 1-51 1-39 1-26 1-10 1 3 1 15 1 22 1 25 1 26 1 25 1 25"/>
<path d="M0 113l1 0 1 1 1 2 1 3 1 5 1 8 1 12 1 17 1 22 1 22 1 18 1 10 1-1 1-11 1-21 1-30 1-37 1-40 1-40 1-38 1-31 1-26 1-19 1-15 1-13 1-12 1-13 1-13"/>
<path d="M0 232l1 1 1 3 1 4 1 6 1 7 1 8 1 9 1 8 1 5 1-2 1-11 1-20 1-29 1-36 1-40 1-41 1-38 1-32 1-25 1-14 1-3 1 6 1 15 1 20 1 23 1 24 1 24 1 24"/>
<path d="M0 -47l1 0 1 0 1 0 1-2 1-3 1-5 1-8 1-14 1-18 1-22 1-21 1-17 1-10 1 0 1 8 1 17 1 24 1 30 1 32 1 33 1 30 1 27 1 22 1 19 1 17 1 16 1 16 1 16"/>
<path d="M0 287l1 1 1 3 1 5 1 6 1 7 1 7 1 7 1 5 1 1 1-7 1-16 1-25 1-34 1-42 1-47 1-47 1-45 1-38 1-29 1-19 1-6 1 7 1 16 1 25 1 29 1 33 1 33 1 34"/>
<path d="M0 304l1 0 1 2 1 3 1 3 1 1 1-1 1-7 1-17 1-31 1-44 1-56 1-63 1-66 1-61 1-54 1-40 1-25 1-7 1 11 1 28 1 41 1 52 1 58 1 61 1 63 1 64 1 65 1 64"/>
<path d="M0 190l1 1 1 1 1 2 1 1 1 1 1-4 1-10 1-22 1-35 1-49 1-58 1-59 1-54 1-45 1-31 1-14 1 3 1 21 1 35 1 48 1 56 1 60 1 61 1 61 1 60 1 59 1 60 1 59"/>
<path d="M0 -168l1 0 1-2 1-3 1-5 1-7 1-11 1-15 1-22 1-25 1-25 1-20 1-9 1 3 1 15 1 28 1 38 1 45 1 49 1 48 1 43 1 37 1 28 1 20 1 14 1 11 1 10 1 11 1 11"/>
<path d="M0 215l1 0 1 1 1 2 1 2 1 2 1-1 1-7 1-18 1-31 1-47 1-58 1-66 1-66 1-60 1-48 1-33 1-14 1 4 1 23 1 39 1 50 1 58 1 60 1 59 1 59 1 57 1 57 1 56"/>
<path d="M0 105l1 0 1 2 1 2 1 3 1 5 1 6 1 9 1 10 1 12 1 10 1 8 1 2 1-2 1-8 1-12 1-15 1-19 1-19 1-18 1-16 1-13 1-8 1-4 1-1 1 1 1 1 1 1 1 1"/>
<path d="M0 71l1 1 1 1 1 3 1 4 1 7 1 12 1 19 1 29 1 39 1 46 1 46 1 41 1 31 1 17 1 2 1-13 1-28 1-41 1-49 1-55 1-55 1-52 1-47 1-42 1-39 1-38 1-39 1-38"/>
<path d="M0 306l1 1 1 3 1 5 1 7 1 10 1 15 1 20 1 28 1 31 1 28 1 18 1 2 1-17 1-36 1-52 1-65 1-72 1-74 1-69 1-60 1-46 1-30 1-18 1-9 1-5 1-3 1-4 1-5"/>
<path d="M0 -77l1 0 1-1 1-2 1-3 1-5 1-9 1-15 1-24 1-33 1-39 1-40 1-36 1-26 1-13 1 1 1 16 1 30 1 40 1 48 1 51 1 50 1 45 1 39 1 32 1 28 1 27 1 26 1 26"/>
<path d="M0 110l1 0 1 2 1 2 1 3 1 3 1 3 1 3 1 1 1-3 1-8 1-13 1-17 1-20 1-20 1-19 1-16 1-13 1-8 1-3 1 3 1 7 1 12 1 14 1 15 1 17 1 16 1 16 1 16"/>
<path d="M0 7l1-1 1 0 1 0 1 0 1 0 1 0 1 1 1 1 1 1 1 0 1 1 1 1 1 1 1 0 1 0 1-1 1-1 1-1 1-1 1-1 1-1 1-1 1-1 1 0 1 0 1 0 1 0 1 0"/>
<path d="M0 -266l1 0 1-1 1-1 1-1 1 1 1 4 1 13 1 24 1 40 1 55 1 66 1 73 1 71 1 63 1 50 1 33 1 13 1-8 1-27 1-44 1-57 1-65 1-68 1-70 1-69 1-68 1-69 1-68"/>
<path d="M0 112l1 0 1 1 1 2 1 3 1 5 1 5 1 7 1 9 1 8 1 6 1 1 1-6 1-15 1-20 1-26 1-29 1-30 1-27 1-24 1-17 1-10 1-4 1 2 1 5 1 6 1 6 1 7 1 6"/>
<path d="M0 -234l1-1 1-2 1-5 1-5 1-7 1-9 1-8 1-7 1-3 1 6 1 18 1 29 1 39 1 47 1 49 1 49 1 43 1 35 1 24 1 11 1-2 1-12 1-21 1-25 1-27 1-27 1-27 1-26"/>
<path d="M0 160l1 1 1 2 1 3 1 5 1 7 1 9 1 13 1 16 1 18 1 17 1 11 1 4 1-5 1-14 1-22 1-28 1-33 1-33 1-32 1-28 1-21 1-14 1-8 1-2 1 0 1 1 1 0 1 1"/>
<path d="M0 361l1 1 1 2 1 4 1 6 1 5 1 5 1 2 1-5 1-16 1-29 1-45 1-56 1-65 1-68 1-65 1-57 1-44 1-28 1-10 1 8 1 24 1 38 1 48 1 52 1 55 1 55 1 54 1 55"/>
<path d="M0 -205l1-1 1-2 1-3 1-5 1-6 1-6 1-7 1-5 1-1 1 4 1 12 1 19 1 25 1 30 1 33 1 32 1 30 1 25 1 17 1 10 1 0 1-8 1-15 1-19 1-23 1-23 1-24 1-24"/>
<path d="M0 -299l1-1 1-2 1-5 1-7 1-9 1-12 1-15 1-15 1-14 1-5 1 6 1 22 1 35 1 47 1 54 1 58 1 56 1 51 1 42 1 29 1 14 1 2 1-9 1-15 1-18 1-19 1-17 1-17"/>
<path d="M0 -294l1 0 1-3 1-5 1-6 1-8 1-9 1-9 1-7 1-2 1 7 1 17 1 28 1 35 1 41 1 44 1 42 1 39 1 31 1 22 1 11 1 0 1-11 1-20 1-26 1-28 1-30 1-30 1-29"/>
<path d="M0 -254l1-1 1-2 1-3 1-4 1-4 1-2 1 3 1 11 1 24 1 38 1 51 1 62 1 66 1 64 1 58 1 45 1 30 1 13 1-7 1-23 1-38 1-48 1-54 1-55 1-56 1-55 1-54 1-54"/>
<path d="M0 296l1 0 1 2 1 3 1 4 1 3 1 1 1-5 1-13 1-28 1-43 1-56 1-66 1-68 1-65 1-56 1-43 1-28 1-9 1 10 1 26 1 41 1 51 1 56 1 59 1 59 1 59 1 58 1 58"/>
<path d="M0 175l1 1 1 2 1 4 1 4 1 6 1 6 1 6 1 7 1 5 1 1 1-4 1-10 1-17 1-24 1-29 1-31 1-31 1-29 1-25 1-18 1-10 1-2 1 5 1 10 1 14 1 16 1 17 1 17"/>
<path d="M0 -218l1 0 1-2 1-3 1-4 1-4 1-3 1-1 1 5 1 12 1 23 1 32 1 41 1 46 1 48 1 45 1 40 1 30 1 19 1 7 1-6 1-18 1-27 1-33 1-37 1-38 1-38 1-39 1-38"/>
<path d="M0 256l1 2 1 3 1 5 1 7 1 10 1 14 1 20 1 26 1 30 1 27 1 19 1 3 1-13 1-29 1-45 1-57 1-63 1-65 1-61 1-53 1-40 1-27 1-15 1-7 1-3 1-2 1-2 1-3"/>
<path d="M0 -19l1 0 1 0 1 0 1 0 1 1 1 3 1 5 1 10 1 16 1 21 1 23 1 24 1 20 1 14 1 7 1 0 1-8 1-16 1-20 1-25 1-26 1-26 1-24 1-22 1-21 1-19 1-19 1-19"/>
<path d="M0 -173l1-1 1-2 1-2 1-3 1-2 1-1 1 4 1 11 1 22 1 32 1 43 1 49 1 52 1 49 1 43 1 33 1 20 1 7 1-8 1-21 1-31 1-39 1-43 1-44 1-44 1-44 1-43 1-44"/>
<path d="M0 -40l1 0 1 0 1 0 1-1 1 0 1 0 1 1 1 3 1 6 1 8 1 11 1 11 1 10 1 9 1 6 1 2 1-1 1-4 1-7 1-10 1-11 1-11 1-12 1-11 1-12 1-10 1-11 1-11"/>
<path d="M0 146l1 0 1 1 1 1 1 1 1 1 1-3 1-7 1-16 1-28 1-39 1-50 1-54 1-54 1-48 1-38 1-25 1-10 1 7 1 21 1 34 1 43 1 49 1 49 1 49 1 47 1 47 1 46 1 45"/>
<path d="M0 94l1 1 1 0 1 1 1 1 1-1 1-5 1-10 1-19 1-31 1-42 1-51 1-54 1-53 1-46 1-35 1-21 1-6 1 9 1 25 1 36 1 45 1 50 1 50 1 49 1 47 1 46 1 46 1 45"/>
<path d="M0 94l1 0 1 2 1 2 1 3 1 5 1 8 1 12 1 16 1 21 1 23 1 23 1 20 1 14 1 7 1 0 1-9 1-17 1-22 1-27 1-28 1-28 1-25 1-22 1-17 1-14 1-13 1-13 1-12"/>
<path d="M0 75l1 0 1 2 1 2 1 4 1 6 1 12 1 18 1 28 1 37 1 43 1 42 1 34 1 23 1 9 1-6 1-22 1-35 1-46 1-52 1-54 1-52 1-47 1-40 1-36 1-33 1-32 1-33 1-34"/>
<path d="M0 -218l1-1 1-2 1-5 1-6 1-9 1-14 1-19 1-25 1-32 1-33 1-28 1-19 1-5 1 10 1 26 1 39 1 50 1 55 1 56 1 51 1 44 1 32 1 21 1 12 1 7 1 5 1 4 1 5"/>
<path d="M0 96l1 1 1 1 1 2 1 2 1 2 1 1 1 0 1-4 1-8 1-14 1-21 1-26 1-29 1-31 1-29 1-26 1-21 1-14 1-6 1 2 1 9 1 14 1 18 1 20 1 20 1 20 1 20 1 19"/>
<path d="M0 -74l1-1 1-1 1-1 1-3 1-4 1-7 1-10 1-14 1-17 1-18 1-17 1-12 1-8 1-1 1 5 1 12 1 17 1 21 1 22 1 23 1 20 1 17 1 13 1 11 1 9 1 8 1 10 1 9"/>
<path d="M0 162l1 0 1 2 1 2 1 4 1 4 1 5 1 4 1 2 1-1 1-5 1-12 1-17 1-23 1-26 1-27 1-28 1-24 1-21 1-14 1-8 1 0 1 6 1 12 1 15 1 18 1 19 1 19 1 19"/>
<path d="M0 279l1 1 1 3 1 4 1 6 1 7 1 7 1 6 1 3 1-5 1-16 1-26 1-35 1-42 1-45 1-45 1-41 1-33 1-24 1-13 1 0 1 11 1 21 1 29 1 33 1 36 1 36 1 37 1 35"/>
<path d="M0 -285l1-1 1-3 1-5 1-7 1-10 1-12 1-17 1-20 1-23 1-20 1-14 1-3 1 10 1 24 1 36 1 46 1 52 1 53 1 51 1 45 1 33 1 22 1 10 1 0 1-6 1-8 1-10 1-9"/>
<path d="M0 -241l1-1 1-3 1-4 1-6 1-7 1-9 1-11 1-11 1-8 1-1 1 9 1 20 1 30 1 38 1 43 1 44 1 43 1 37 1 29 1 19 1 7 1-2 1-11 1-16 1-19 1-19 1-18 1-19"/>
<path d="M0 17l1 0 1 1 1 1 1 1 1 3 1 5 1 9 1 14 1 21 1 27 1 28 1 27 1 20 1 10 1 1 1-11 1-20 1-28 1-33 1-35 1-35 1-32 1-27 1-23 1-20 1-19 1-19 1-18"/>
<path d="M0 38l1 1 1 0 1 1 1 1 1 3 1 4 1 7 1 12 1 17 1 20 1 22 1 20 1 14 1 7 1-2 1-10 1-18 1-24 1-28 1-30 1-29 1-27 1-23 1-19 1-16 1-15 1-13 1-14"/>
<path d="M0 -61l1 1 1-1 1 0 1 1 1 2 1 6 1 11 1 21 1 34 1 44 1 51 1 54 1 50 1 40 1 28 1 12 1-5 1-21 1-34 1-45 1-52 1-53 1-51 1-47 1-45 1-43 1-42 1-42"/>
<path d="M0 24l1 1 1 0 1-1 1-2 1-5 1-9 1-19 1-31 1-45 1-57 1-63 1-60 1-51 1-35 1-17 1 3 1 24 1 41 1 56 1 65 1 70 1 69 1 64 1 60 1 57 1 56 1 55 1 54"/>
<path d="M0 -57l1 0 1-1 1-1 1-1 1 0 1 0 1 3 1 6 1 10 1 14 1 18 1 18 1 17 1 16 1 12 1 8 1 2 1-2 1-8 1-12 1-15 1-17 1-18 1-18 1-18 1-18 1-19 1-19"/>
<path d="M0 132l1 0 1 1 1 2 1 2 1 3 1 3 1 1 1-2 1-5 1-9 1-14 1-18 1-20 1-21 1-20 1-18 1-14 1-10 1-4 1 2 1 7 1 12 1 16 1 18 1 21 1 21 1 23 1 22"/>
<path d="M0 -91l1-1 1-2 1-2 1-4 1-7 1-9 1-15 1-21 1-25 1-27 1-24 1-17 1-8 1 2 1 13 1 21 1 29 1 34 1 35 1 35 1 30 1 25 1 20 1 16 1 15 1 15 1 16 1 17"/>
<path d="M0 -225l1-1 1-2 1-4 1-6 1-9 1-12 1-19 1-25 1-30 1-31 1-26 1-18 1-5 1 8 1 22 1 33 1 43 1 48 1 51 1 47 1 42 1 32 1 23 1 15 1 11 1 8 1 9 1 9"/>
<path d="M0 184l1 1 1 2 1 4 1 5 1 7 1 10 1 14 1 17 1 20 1 18 1 12 1 3 1-10 1-22 1-33 1-41 1-45 1-45 1-42 1-35 1-26 1-15 1-5 1 0 1 4 1 6 1 5 1 5"/>
<path d="M0 248l1 0 1 2 1 3 1 3 1 3 1 1 1-4 1-13 1-24 1-38 1-49 1-58 1-59 1-57 1-49 1-37 1-22 1-5 1 11 1 27 1 39 1 48 1 52 1 54 1 55 1 55 1 54 1 55"/>
<path d="M0 301l1 0 1 3 1 3 1 5 1 5 1 5 1 1 1-5 1-13 1-24 1-35 1-46 1-53 1-57 1-56 1-52 1-44 1-32 1-18 1-4 1 12 1 24 1 34 1 40 1 44 1 46 1 47 1 47"/>
<path d="M0 -261l1 0 1-2 1-4 1-7 1-9 1-12 1-18 1-24 1-28 1-27 1-20 1-7 1 10 1 26 1 41 1 53 1 62 1 64 1 62 1 54 1 44 1 31 1 18 1 10 1 5 1 3 1 2 1 3"/>
<path d="M0 200l1 1 1 3 1 4 1 6 1 9 1 12 1 17 1 24 1 29 1 30 1 24 1 15 1 0 1-16 1-31 1-43 1-53 1-58 1-57 1-52 1-43 1-32 1-21 1-12 1-6 1-5 1-5 1-4"/>
<path d="M0 258l1 1 1 3 1 5 1 6 1 10 1 15 1 20 1 28 1 33 1 32 1 26 1 13 1-1 1-18 1-34 1-46 1-55 1-61 1-60 1-56 1-47 1-35 1-24 1-17 1-11 1-11 1-11 1-11"/>
<path d="M0 9l1 0 1 0 1 1 1 1 1 2 1 5 1 9 1 14 1 21 1 26 1 26 1 24 1 18 1 10 1 0 1-8 1-18 1-24 1-29 1-32 1-32 1-30 1-26 1-25 1-23 1-22 1-22 1-23"/>
<path d="M0 -220l1-1 1-2 1-4 1-6 1-9 1-12 1-16 1-21 1-22 1-20 1-13 1-1 1 10 1 22 1 32 1 41 1 45 1 46 1 44 1 38 1 29 1 19 1 10 1 4 1 0 1 0 1 0 1 1"/>
<path d="M0 214l1 1 1 2 1 3 1 4 1 4 1 3 1 0 1-5 1-12 1-21 1-31 1-39 1-45 1-48 1-47 1-41 1-32 1-21 1-9 1 5 1 17 1 27 1 35 1 38 1 41 1 42 1 43 1 43"/>
<path d="M0 -2l1 0 1-1 1-1 1-2 1-3 1-7 1-11 1-20 1-29 1-37 1-41 1-40 1-36 1-25 1-14 1-1 1 13 1 25 1 35 1 41 1 44 1 44 1 40 1 36 1 32 1 30 1 30 1 29"/>
<path d="M0 -53l1 0 1-1 1-1 1-1 1 0 1 0 1 3 1 5 1 10 1 14 1 17 1 19 1 20 1 19 1 17 1 12 1 7 1 2 1-4 1-9 1-13 1-15 1-17 1-17 1-17 1-17 1-17 1-18"/>
<path d="M0 6l1 1 1 0 1 1 1 1 1 3 1 5 1 11 1 15 1 22 1 24 1 25 1 21 1 17 1 11 1 3 1-5 1-11 1-18 1-23 1-26 1-27 1-25 1-25 1-23 1-23 1-24 1-24 1-25"/>
<path d="M0 87l1 0 1 0 1 1 1 0 1 0 1-2 1-6 1-12 1-19 1-25 1-28 1-29 1-25 1-22 1-14 1-7 1 2 1 10 1 17 1 23 1 27 1 29 1 29 1 30 1 31 1 31 1 32 1 32"/>
<path d="M0 178l1 0 1 1 1 2 1 3 1 3 1 2 1-1 1-5 1-11 1-19 1-26 1-31 1-36 1-38 1-35 1-31 1-24 1-15 1-5 1 6 1 14 1 23 1 28 1 31 1 34 1 35 1 35 1 36"/>
<path d="M0 -175l1 0 1-2 1-2 1-2 1-2 1 1 1 6 1 14 1 27 1 40 1 49 1 54 1 52 1 46 1 36 1 22 1 6 1-9 1-24 1-37 1-45 1-50 1-51 1-51 1-50 1-49 1-49 1-48"/>
<path d="M0 95l1 1 1 2 1 2 1 3 1 4 1 5 1 4 1 4 1 4 1 1 1-2 1-4 1-6 1-9 1-11 1-12 1-12 1-11 1-9 1-6 1-4 1 1 1 4 1 7 1 9 1 10 1 11 1 11"/>
<path d="M0 216l1 2 1 2 1 4 1 6 1 6 1 6 1 5 1 2 1-3 1-11 1-20 1-29 1-36 1-41 1-42 1-41 1-34 1-26 1-16 1-5 1 7 1 17 1 24 1 29 1 31 1 33 1 33 1 33"/>
<path d="M0 9l1 0 1 0 1 1 1 1 1 2 1 3 1 7 1 10 1 13 1 16 1 15 1 13 1 7 1 2 1-5 1-10 1-14 1-19 1-20 1-22 1-20 1-18 1-17 1-15 1-15 1-15 1-15 1-15"/>
<path d="M0 86l1 0 1 2 1 2 1 3 1 6 1 9 1 14 1 21 1 29 1 33 1 33 1 29 1 19 1 8 1-5 1-18 1-28 1-38 1-43 1-45 1-44 1-39 1-34 1-28 1-24 1-23 1-22 1-22"/>
<path d="M0 -25l1 0 1-1 1 0 1-2 1-2 1-3 1-5 1-6 1-9 1-9 1-10 1-10 1-10 1-8 1-6 1-3 1-1 1 2 1 5 1 7 1 8 1 8 1 7 1 7 1 5 1 6 1 6 1 5"/>
<path d="M0 -187l1-2 1-2 1-4 1-5 1-6 1-8 1-8 1-9 1-6 1 0 1 6 1 15 1 23 1 29 1 32 1 34 1 32 1 27 1 21 1 12 1 3 1-5 1-12 1-16 1-19 1-19 1-19 1-18"/>
<path d="M0 -112l1-1 1-1 1-3 1-4 1-6 1-9 1-14 1-19 1-23 1-23 1-19 1-12 1-2 1 7 1 17 1 24 1 32 1 35 1 35 1 34 1 30 1 24 1 18 1 15 1 13 1 13 1 14 1 14"/>
<path d="M0 317l1 2 1 3 1 6 1 7 1 10 1 13 1 14 1 16 1 16 1 11 1 2 1-10 1-23 1-35 1-45 1-52 1-55 1-54 1-48 1-39 1-27 1-14 1-1 1 8 1 14 1 18 1 18 1 18"/>
<path d="M0 307l1 0 1 2 1 2 1 4 1 2 1 1 1-5 1-13 1-28 1-42 1-56 1-66 1-70 1-68 1-61 1-49 1-33 1-16 1 4 1 21 1 36 1 48 1 54 1 58 1 58 1 58 1 58 1 57"/>
<path d="M0 352l1 1 1 4 1 6 1 8 1 10 1 11 1 13 1 11 1 5 1-4 1-17 1-30 1-42 1-52 1-56 1-56 1-51 1-43 1-30 1-16 1-1 1 14 1 25 1 32 1 36 1 36 1 37 1 35"/>
<path d="M0 247l1 1 1 4 1 4 1 7 1 8 1 9 1 10 1 8 1 5 1-4 1-14 1-26 1-37 1-45 1-49 1-50 1-47 1-39 1-29 1-17 1-3 1 8 1 17 1 23 1 25 1 26 1 26 1 26"/>
<path d="M0 262l1 1 1 2 1 4 1 7 1 9 1 14 1 20 1 28 1 35 1 36 1 31 1 20 1 4 1-14 1-30 1-46 1-57 1-64 1-65 1-62 1-53 1-41 1-29 1-20 1-14 1-12 1-11 1-12"/>
<path d="M0 -216l1-1 1-2 1-4 1-6 1-9 1-14 1-22 1-31 1-38 1-39 1-33 1-21 1-4 1 13 1 29 1 45 1 56 1 64 1 66 1 63 1 57 1 47 1 38 1 32 1 28 1 27 1 28 1 29"/>
<path d="M0 -6l1-1 1 0 1 0 1 1 1 2 1 5 1 9 1 14 1 21 1 24 1 27 1 25 1 21 1 15 1 9 1 1 1-7 1-14 1-19 1-24 1-26 1-27 1-25 1-24 1-24 1-24 1-25 1-25"/>
<path d="M0 261l1 1 1 1 1 1 1 1 1-2 1-6 1-14 1-28 1-44 1-59 1-69 1-72 1-67 1-56 1-40 1-20 1 1 1 22 1 41 1 56 1 66 1 72 1 74 1 74 1 73 1 72 1 73 1 72"/>
<path d="M0 -130l1-1 1-1 1-1 1-2 1 0 1 3 1 8 1 17 1 30 1 41 1 48 1 51 1 48 1 40 1 28 1 15 1-1 1-15 1-28 1-39 1-46 1-49 1-50 1-49 1-48 1-48 1-47 1-47"/>
<path d="M0 69l1 1 1 1 1 2 1 3 1 5 1 9 1 14 1 21 1 28 1 31 1 31 1 26 1 18 1 8 1-3 1-13 1-24 1-31 1-37 1-39 1-39 1-35 1-32 1-28 1-26 1-25 1-25 1-26"/>
<path d="M0 -135l1-1 1-2 1-3 1-5 1-6 1-8 1-11 1-15 1-16 1-16 1-9 1 0 1 12 1 23 1 33 1 39 1 43 1 41 1 38 1 31 1 21 1 12 1 4 1-1 1-4 1-4 1-4 1-3"/>
<path d="M0 38l1-1 1 0 1-1 1-1 1-3 1-6 1-12 1-21 1-28 1-36 1-39 1-38 1-34 1-26 1-17 1-5 1 6 1 18 1 26 1 34 1 38 1 39 1 39 1 37 1 36 1 37 1 36 1 38"/>
<path d="M0 209l1 1 1 3 1 4 1 6 1 9 1 13 1 20 1 25 1 29 1 28 1 22 1 11 1-2 1-15 1-28 1-38 1-45 1-48 1-48 1-42 1-35 1-25 1-16 1-9 1-7 1-7 1-7 1-8"/>
<path d="M0 98l1 0 1 2 1 2 1 3 1 6 1 7 1 11 1 16 1 19 1 22 1 19 1 14 1 6 1-4 1-14 1-22 1-29 1-33 1-35 1-34 1-30 1-24 1-19 1-14 1-11 1-10 1-10 1-9"/>
<path d="M0 104l1 1 1 2 1 2 1 4 1 4 1 5 1 6 1 6 1 4 1-1 1-5 1-10 1-14 1-16 1-17 1-18 1-16 1-14 1-10 1-6 1-1 1 2 1 6 1 8 1 9 1 8 1 8 1 8"/>
<path d="M0 -299l1-1 1-3 1-4 1-7 1-8 1-9 1-9 1-8 1-3 1 6 1 17 1 31 1 44 1 53 1 60 1 61 1 59 1 51 1 39 1 26 1 10 1-4 1-16 1-23 1-28 1-29 1-30 1-29"/>
<path d="M0 205l1 1 1 3 1 4 1 5 1 7 1 8 1 9 1 8 1 5 1 0 1-9 1-17 1-25 1-31 1-35 1-36 1-34 1-29 1-22 1-14 1-4 1 4 1 12 1 16 1 19 1 20 1 20 1 20"/>
<path d="M0 -44l1-1 1 0 1-1 1-1 1-1 1 1 1 2 1 5 1 10 1 13 1 17 1 20 1 20 1 19 1 16 1 11 1 7 1 0 1-5 1-10 1-13 1-16 1-17 1-16 1-16 1-16 1-16 1-15"/>
<path d="M0 273l1 0 1 0 1 1 1 1 1-1 1-6 1-13 1-25 1-41 1-55 1-64 1-66 1-63 1-54 1-39 1-21 1-3 1 17 1 34 1 49 1 59 1 65 1 69 1 69 1 70 1 69 1 70 1 70"/>
<path d="M0 -9l1 0 1-1 1-1 1 0 1 1 1 2 1 4 1 9 1 12 1 16 1 19 1 18 1 17 1 14 1 9 1 4 1-2 1-7 1-11 1-15 1-18 1-17 1-18 1-16 1-15 1-16 1-16 1-15"/>
<path d="M0 15l1 0 1 0 1 0 1 2 1 3 1 6 1 11 1 19 1 27 1 33 1 35 1 33 1 26 1 15 1 3 1-10 1-21 1-31 1-38 1-42 1-42 1-39 1-35 1-32 1-28 1-28 1-27 1-27"/>
<path d="M0 56l1 0 1 0 1 0 1 1 1-1 1-3 1-7 1-13 1-21 1-27 1-30 1-31 1-26 1-20 1-13 1-2 1 6 1 16 1 23 1 28 1 32 1 32 1 32 1 31 1 29 1 30 1 29 1 30"/>
<path d="M0 -162l1-1 1-2 1-3 1-5 1-6 1-9 1-12 1-14 1-15 1-13 1-7 1 2 1 12 1 20 1 28 1 33 1 36 1 37 1 33 1 28 1 22 1 13 1 7 1 3 1 0 1-1 1 0 1 0"/>
<path d="M0 -184l1-1 1-3 1-4 1-5 1-9 1-11 1-17 1-22 1-27 1-29 1-27 1-22 1-12 1-1 1 11 1 22 1 31 1 38 1 42 1 43 1 40 1 34 1 27 1 20 1 15 1 13 1 11 1 11"/>
<path d="M0 7l1 0 1 0 1 0 1 0 1-1 1-2 1-5 1-8 1-12 1-14 1-15 1-14 1-13 1-10 1-7 1-2 1 1 1 6 1 10 1 12 1 14 1 14 1 14 1 13 1 14 1 14 1 14 1 15"/>
<path d="M0 -287l1-1 1-2 1-4 1-6 1-10 1-14 1-21 1-31 1-37 1-39 1-30 1-16 1 4 1 26 1 45 1 62 1 73 1 78 1 76 1 69 1 57 1 42 1 28 1 18 1 13 1 12 1 13 1 13"/>
<path d="M0 144l1 0 1 1 1 1 1 2 1 0 1-2 1-9 1-16 1-25 1-35 1-43 1-45 1-46 1-42 1-35 1-24 1-12 1 1 1 14 1 26 1 34 1 40 1 44 1 45 1 46 1 47 1 47 1 48"/>
<path d="M0 -141l1-1 1-1 1-1 1-1 1 1 1 4 1 10 1 20 1 32 1 44 1 51 1 55 1 51 1 44 1 33 1 19 1 4 1-12 1-27 1-38 1-46 1-51 1-52 1-52 1-52 1-51 1-52 1-51"/>
<path d="M0 -298l1-1 1-3 1-5 1-7 1-9 1-13 1-16 1-19 1-19 1-16 1-7 1 5 1 17 1 29 1 40 1 48 1 51 1 52 1 48 1 41 1 31 1 19 1 8 1 0 1-5 1-6 1-8 1-7"/>
<path d="M0 184l1 0 1 1 1 2 1 2 1 1 1-1 1-7 1-15 1-27 1-40 1-50 1-58 1-60 1-56 1-47 1-35 1-20 1-3 1 13 1 29 1 41 1 48 1 52 1 52 1 52 1 51 1 51 1 50"/>
<path d="M0 21l1 0 1 1 1 0 1 0 1 1 1 0 1 0 1 0 1 0 1-1 1 0 1 2 1 3 1 4 1 5 1 6 1 5 1 4 1 4 1 3 1 2 1 1 1 2 1 2 1 3 1 4 1 4 1 4"/>
<path d="M0 -294l1-2 1-3 1-4 1-7 1-7 1-8 1-7 1-4 1 2 1 11 1 21 1 32 1 41 1 49 1 52 1 51 1 46 1 38 1 27 1 14 1 0 1-12 1-23 1-30 1-34 1-36 1-37 1-37"/>
<path d="M0 -251l1-2 1-3 1-5 1-6 1-9 1-12 1-16 1-19 1-19 1-18 1-10 1 0 1 12 1 23 1 34 1 42 1 46 1 46 1 44 1 37 1 27 1 17 1 6 1-2 1-6 1-9 1-9 1-9"/>
<path d="M0 -101l1-1 1-1 1-2 1-2 1-3 1-1 1-1 1 3 1 4 1 9 1 12 1 14 1 17 1 19 1 19 1 18 1 16 1 11 1 7 1 1 1-4 1-8 1-12 1-16 1-18 1-19 1-20 1-21"/>
<path d="M0 273l1 1 1 3 1 4 1 7 1 9 1 13 1 17 1 19 1 21 1 18 1 9 1-2 1-15 1-26 1-37 1-45 1-48 1-49 1-44 1-37 1-27 1-15 1-4 1 3 1 7 1 9 1 9 1 9"/>
<path d="M0 -277l1-1 1-2 1-4 1-3 1-3 1-1 1 6 1 13 1 25 1 37 1 48 1 54 1 58 1 57 1 51 1 42 1 29 1 14 1-2 1-17 1-31 1-42 1-49 1-54 1-57 1-59 1-59 1-60"/>
<path d="M0 94l1 0 1 1 1 1 1 1 1-1 1-2 1-8 1-16 1-28 1-37 1-45 1-47 1-44 1-37 1-26 1-13 1 1 1 14 1 27 1 36 1 43 1 45 1 45 1 43 1 42 1 40 1 40 1 39"/>
<path d="M0 277l1 1 1 2 1 5 1 7 1 9 1 12 1 16 1 18 1 20 1 17 1 7 1-5 1-19 1-34 1-45 1-54 1-59 1-59 1-54 1-45 1-34 1-20 1-9 1 0 1 5 1 7 1 8 1 8"/>
<path d="M0 -111l1 0 1-1 1-1 1-1 1 1 1 3 1 9 1 18 1 30 1 42 1 50 1 54 1 50 1 42 1 30 1 15 1-1 1-18 1-31 1-43 1-49 1-52 1-51 1-48 1-47 1-45 1-44 1-44"/>
<path d="M0 -128l1-1 1-2 1-3 1-4 1-6 1-7 1-11 1-13 1-14 1-13 1-9 1-3 1 6 1 12 1 19 1 25 1 28 1 29 1 28 1 25 1 20 1 14 1 9 1 5 1 3 1 2 1 2 1 2"/>
<path d="M0 -392l1-2 1-3 1-6 1-7 1-9 1-11 1-11 1-9 1-2 1 9 1 24 1 40 1 54 1 63 1 68 1 69 1 64 1 55 1 42 1 26 1 9 1-7 1-18 1-26 1-29 1-31 1-30 1-29"/>
<path d="M0 -14l1 0 1 1 1 0 1 0 1-1 1-1 1-2 1-4 1-5 1-5 1-5 1-4 1-1 1 1 1 3 1 5 1 6 1 8 1 8 1 8 1 8 1 6 1 6 1 4 1 5 1 5 1 4 1 5"/>
<path d="M0 -102l1 0 1-2 1-2 1-4 1-7 1-10 1-16 1-24 1-30 1-35 1-32 1-24 1-14 1 0 1 13 1 26 1 36 1 44 1 48 1 48 1 45 1 38 1 31 1 26 1 24 1 22 1 22 1 23"/>
<path d="M0 -213l1-1 1-2 1-4 1-6 1-9 1-10 1-15 1-17 1-17 1-13 1-4 1 9 1 20 1 31 1 39 1 45 1 46 1 45 1 39 1 31 1 20 1 10 1 3 1-4 1-5 1-5 1-5 1-4"/>
<path d="M0 157l1 0 1 2 1 2 1 3 1 3 1 3 1 2 1-1 1-5 1-12 1-17 1-23 1-27 1-28 1-27 1-25 1-20 1-14 1-6 1 1 1 8 1 15 1 18 1 22 1 24 1 24 1 25 1 24"/>
<path d="M0 88l1 0 1 1 1 1 1 1 1 0 1-3 1-7 1-14 1-24 1-32 1-38 1-39 1-35 1-28 1-19 1-7 1 4 1 16 1 25 1 33 1 37 1 40 1 38 1 38 1 37 1 37 1 36 1 37"/>
<path d="M0 141l1 0 1 2 1 2 1 5 1 7 1 10 1 15 1 21 1 26 1 27 1 24 1 16 1 4 1-7 1-19 1-29 1-37 1-42 1-44 1-42 1-36 1-29 1-23 1-16 1-14 1-13 1-13 1-13"/>
<path d="M0 -2l1 0 1 0 1 1 1 1 1 3 1 5 1 8 1 15 1 23 1 30 1 34 1 34 1 31 1 24 1 14 1 4 1-6 1-17 1-26 1-32 1-34 1-35 1-33 1-29 1-26 1-25 1-23 1-24"/>
<path d="M0 -207l1-1 1-2 1-4 1-6 1-7 1-10 1-13 1-15 1-17 1-13 1-5 1 4 1 17 1 28 1 38 1 43 1 47 1 45 1 41 1 32 1 21 1 11 1 1 1-5 1-9 1-10 1-10 1-10"/>
<path d="M0 -181l1-1 1-1 1-3 1-4 1-5 1-5 1-6 1-5 1-2 1 3 1 10 1 19 1 27 1 34 1 37 1 38 1 36 1 30 1 24 1 15 1 5 1-3 1-10 1-14 1-17 1-18 1-17 1-18"/>
<path d="M0 33l1 0 1 0 1 0 1 1 1-1 1-1 1-3 1-6 1-8 1-10 1-12 1-13 1-14 1-13 1-12 1-10 1-7 1-3 1 1 1 5 1 7 1 9 1 11 1 12 1 12 1 13 1 14 1 14"/>
<path d="M0 -165l1-1 1-2 1-2 1-4 1-4 1-4 1-3 1 1 1 6 1 15 1 24 1 32 1 38 1 40 1 40 1 35 1 29 1 20 1 9 1-1 1-10 1-18 1-23 1-25 1-25 1-25 1-24 1-24"/>
<path d="M0 -374l1 0 1-3 1-5 1-6 1-7 1-8 1-6 1-1 1 8 1 22 1 38 1 52 1 64 1 70 1 71 1 65 1 54 1 40 1 23 1 3 1-14 1-29 1-39 1-46 1-47 1-48 1-47 1-46"/>
<path d="M0 311l1 1 1 3 1 4 1 7 1 9 1 12 1 13 1 13 1 9 1 3 1-9 1-20 1-30 1-40 1-44 1-47 1-46 1-40 1-31 1-20 1-8 1 4 1 15 1 21 1 25 1 25 1 25 1 25"/>
<path d="M0 197l1 1 1 1 1 3 1 4 1 4 1 3 1 2 1-2 1-9 1-16 1-24 1-30 1-35 1-36 1-36 1-32 1-25 1-18 1-8 1 1 1 11 1 18 1 24 1 27 1 30 1 31 1 32 1 31"/>
<path d="M0 96l1 0 1 0 1 2 1 1 1 1 1 0 1-2 1-6 1-13 1-18 1-24 1-25 1-26 1-24 1-19 1-13 1-6 1 2 1 9 1 15 1 20 1 23 1 24 1 25 1 25 1 25 1 24 1 25"/>
<path d="M0 274l1 1 1 3 1 5 1 7 1 9 1 15 1 20 1 26 1 29 1 26 1 15 1 0 1-16 1-33 1-46 1-56 1-62 1-61 1-57 1-46 1-34 1-21 1-9 1-2 1 0 1 1 1-1 1-2"/>
<path d="M0 247l1 0 1 3 1 5 1 6 1 9 1 12 1 16 1 20 1 23 1 20 1 11 1-1 1-15 1-30 1-42 1-51 1-56 1-56 1-52 1-43 1-31 1-19 1-7 1 1 1 5 1 6 1 6 1 7"/>
<path d="M0 123l1 1 1 1 1 2 1 3 1 5 1 6 1 7 1 9 1 8 1 6 1-1 1-9 1-17 1-24 1-29 1-33 1-32 1-31 1-26 1-21 1-13 1-6 1 0 1 2 1 4 1 4 1 3 1 4"/>
<path d="M0 -428l1-1 1-2 1-2 1-3 1-3 1 0 1 6 1 17 1 33 1 52 1 70 1 84 1 88 1 86 1 75 1 58 1 36 1 11 1-14 1-38 1-56 1-70 1-76 1-79 1-78 1-77 1-75 1-75"/>
<path d="M0 165l1 0 1 2 1 3 1 4 1 7 1 8 1 10 1 13 1 11 1 8 1 1 1-8 1-16 1-23 1-28 1-32 1-32 1-32 1-27 1-22 1-15 1-8 1-2 1 1 1 3 1 3 1 2 1 2"/>
<path d="M0 261l1 1 1 3 1 4 1 4 1 5 1 4 1 0 1-7 1-19 1-32 1-45 1-55 1-61 1-59 1-55 1-46 1-32 1-17 1-1 1 15 1 28 1 39 1 44 1 48 1 48 1 48 1 47 1 47"/>
<path d="M0 -128l1-1 1-1 1-1 1-1 1-1 1 3 1 8 1 17 1 26 1 35 1 41 1 43 1 40 1 35 1 27 1 15 1 3 1-10 1-21 1-30 1-37 1-41 1-43 1-43 1-44 1-44 1-46 1-45"/>
<path d="M0 -164l1-1 1-2 1-4 1-4 1-5 1-6 1-7 1-6 1-3 1 2 1 8 1 16 1 21 1 27 1 30 1 30 1 28 1 24 1 18 1 10 1 2 1-5 1-11 1-16 1-17 1-18 1-18 1-18"/>
<path d="M0 -92l1 0 1-1 1-1 1-1 1 0 1 2 1 6 1 11 1 17 1 23 1 27 1 29 1 28 1 27 1 22 1 16 1 9 1 0 1-7 1-14 1-21 1-24 1-27 1-28 1-30 1-31 1-32 1-32"/>
<path d="M0 254l1 1 1 2 1 5 1 6 1 8 1 11 1 12 1 14 1 12 1 7 1-1 1-12 1-23 1-31 1-39 1-43 1-44 1-41 1-35 1-26 1-16 1-6 1 3 1 11 1 13 1 16 1 15 1 15"/>
<path d="M0 80l1 1 1 1 1 1 1 1 1 0 1-3 1-6 1-14 1-22 1-32 1-38 1-41 1-39 1-34 1-25 1-15 1-4 1 9 1 18 1 28 1 34 1 37 1 37 1 36 1 35 1 34 1 33 1 34"/>
<path d="M0 217l1 2 1 3 1 4 1 6 1 9 1 12 1 17 1 22 1 26 1 25 1 22 1 12 1 0 1-13 1-25 1-36 1-45 1-49 1-49 1-47 1-40 1-30 1-21 1-13 1-8 1-5 1-5 1-4"/>
<path d="M0 -354l1-1 1-3 1-6 1-7 1-10 1-13 1-16 1-18 1-17 1-11 1 0 1 13 1 26 1 38 1 48 1 54 1 56 1 53 1 47 1 37 1 25 1 12 1 0 1-8 1-14 1-14 1-15 1-15"/>
<path d="M0 -174l1-1 1-2 1-3 1-6 1-8 1-12 1-19 1-27 1-32 1-34 1-30 1-20 1-7 1 7 1 22 1 35 1 45 1 52 1 53 1 51 1 44 1 35 1 26 1 19 1 15 1 15 1 15 1 15"/>
<path d="M0 7l1 0 1 0 1-1 1-1 1-3 1-5 1-10 1-17 1-24 1-29 1-32 1-31 1-27 1-20 1-10 1-1 1 9 1 19 1 26 1 31 1 34 1 32 1 31 1 28 1 27 1 26 1 26 1 27"/>
<path d="M0 -250l1-1 1-3 1-4 1-6 1-7 1-7 1-7 1-3 1 2 1 11 1 21 1 30 1 37 1 42 1 43 1 41 1 35 1 28 1 17 1 5 1-6 1-16 1-23 1-29 1-32 1-32 1-33 1-33"/>
<path d="M0 64l1 1 1 1 1 2 1 3 1 5 1 8 1 11 1 18 1 22 1 25 1 25 1 21 1 13 1 5 1-4 1-14 1-22 1-29 1-32 1-33 1-31 1-28 1-23 1-19 1-17 1-17 1-16 1-16"/>
<path d="M0 -31l1 0 1-1 1-1 1-2 1-4 1-6 1-11 1-18 1-27 1-33 1-34 1-32 1-23 1-12 1 1 1 15 1 26 1 35 1 42 1 44 1 42 1 39 1 32 1 28 1 25 1 22 1 23 1 22"/>
<path d="M0 -65l1-1 1 0 1-1 1-1 1 0 1 1 1 5 1 10 1 17 1 25 1 30 1 33 1 30 1 26 1 18 1 9 1-1 1-11 1-19 1-26 1-30 1-31 1-31 1-29 1-27 1-26 1-26 1-26"/>
<path d="M0 159l1 1 1 1 1 3 1 4 1 5 1 5 1 6 1 6 1 5 1 2 1-2 1-8 1-15 1-21 1-26 1-28 1-28 1-27 1-23 1-17 1-10 1-3 1 4 1 9 1 12 1 14 1 15 1 15"/>
<path d="M0 193l1 1 1 1 1 2 1 2 1 3 1 0 1-4 1-11 1-19 1-29 1-38 1-43 1-46 1-46 1-41 1-32 1-23 1-10 1 3 1 15 1 25 1 33 1 39 1 41 1 43 1 44 1 45 1 44"/>
<path d="M0 166l1 1 1 3 1 4 1 6 1 8 1 12 1 18 1 25 1 31 1 33 1 30 1 22 1 10 1-6 1-20 1-34 1-45 1-52 1-55 1-53 1-48 1-39 1-29 1-22 1-17 1-14 1-14 1-13"/>
<path d="M0 -152l1-1 1-2 1-4 1-4 1-7 1-8 1-12 1-13 1-15 1-11 1-6 1 2 1 12 1 20 1 27 1 33 1 35 1 35 1 33 1 28 1 22 1 15 1 8 1 4 1 2 1 2 1 1 1 2"/>
<path d="M0 177l1 1 1 1 1 4 1 5 1 8 1 11 1 18 1 25 1 32 1 34 1 30 1 23 1 10 1-4 1-18 1-31 1-42 1-49 1-53 1-52 1-47 1-39 1-31 1-23 1-20 1-17 1-17 1-18"/>
<path d="M0 -110l1 0 1-2 1-2 1-4 1-5 1-7 1-10 1-13 1-14 1-14 1-12 1-7 1-2 1 4 1 10 1 16 1 19 1 22 1 22 1 21 1 17 1 13 1 8 1 5 1 2 1 2 1 2 1 2"/>
<path d="M0 -123l1 0 1 0 1-2 1-2 1-3 1-4 1-3 1-1 1 1 1 6 1 10 1 15 1 18 1 19 1 20 1 19 1 16 1 12 1 7 1 2 1-4 1-8 1-12 1-14 1-16 1-16 1-16 1-16"/>
<path d="M0 128l1 0 1 2 1 2 1 4 1 6 1 10 1 14 1 20 1 26 1 28 1 27 1 22 1 12 1 2 1-11 1-21 1-31 1-37 1-41 1-41 1-38 1-31 1-24 1-19 1-14 1-13 1-12 1-13"/>
<path d="M0 297l1 1 1 4 1 5 1 7 1 9 1 12 1 15 1 17 1 17 1 13 1 6 1-4 1-17 1-30 1-41 1-48 1-52 1-52 1-47 1-40 1-28 1-16 1-3 1 6 1 13 1 15 1 17 1 17"/>
<path d="M0 -307l1-2 1-3 1-4 1-6 1-7 1-5 1-3 1 4 1 12 1 24 1 36 1 47 1 55 1 59 1 58 1 52 1 41 1 28 1 12 1-4 1-19 1-32 1-42 1-47 1-51 1-51 1-53 1-52"/>
<path d="M0 -39l1-1 1 0 1 0 1 0 1 2 1 4 1 10 1 17 1 27 1 35 1 39 1 37 1 30 1 21 1 9 1-4 1-16 1-27 1-36 1-41 1-44 1-42 1-41 1-37 1-36 1-35 1-35 1-35"/>
<path d="M0 110l1 1 1 1 1 2 1 2 1 3 1 1 1-1 1-5 1-11 1-19 1-26 1-31 1-34 1-33 1-29 1-22 1-13 1-4 1 6 1 15 1 21 1 26 1 28 1 28 1 28 1 26 1 27 1 26"/>
<path d="M0 -306l1-1 1-3 1-5 1-7 1-9 1-12 1-14 1-16 1-12 1-4 1 8 1 23 1 35 1 46 1 54 1 56 1 55 1 50 1 41 1 28 1 15 1 2 1-8 1-14 1-17 1-18 1-17 1-16"/>
<path d="M0 -311l1-2 1-3 1-5 1-7 1-10 1-12 1-14 1-16 1-15 1-8 1 2 1 14 1 29 1 40 1 50 1 56 1 57 1 54 1 48 1 36 1 24 1 11 1-2 1-9 1-14 1-16 1-17 1-16"/>
<path d="M0 262l1 1 1 2 1 4 1 7 1 9 1 13 1 17 1 22 1 25 1 23 1 16 1 4 1-10 1-26 1-39 1-49 1-56 1-57 1-55 1-47 1-36 1-24 1-12 1-3 1 2 1 3 1 4 1 4"/>
<path d="M0 -101l1 0 1-2 1-2 1-4 1-5 1-7 1-12 1-17 1-22 1-26 1-26 1-22 1-14 1-3 1 8 1 19 1 28 1 34 1 39 1 40 1 38 1 32 1 26 1 20 1 15 1 13 1 12 1 11"/>
<path d="M0 -53l1 0 1 0 1 0 1 1 1 1 1 4 1 8 1 15 1 22 1 27 1 30 1 28 1 24 1 18 1 11 1 2 1-7 1-15 1-22 1-27 1-29 1-30 1-30 1-30 1-30 1-31 1-31 1-32"/>
<path d="M0 265l1 1 1 3 1 5 1 6 1 6 1 7 1 5 1 0 1-8 1-21 1-33 1-45 1-51 1-53 1-50 1-44 1-34 1-21 1-7 1 8 1 21 1 31 1 38 1 41 1 42 1 42 1 41 1 40"/>
<path d="M0 0l1 1 1 0 1 0 1 0 1 1 1 0 1 1 1 1 1 3 1 3 1 4 1 5 1 4 1 3 1 2 1-1 1-2 1-3 1-5 1-5 1-5 1-5 1-4 1-4 1-2 1-2 1-1 1-1"/>
<path d="M0 247l1 1 1 2 1 4 1 4 1 5 1 5 1 1 1-3 1-9 1-20 1-28 1-37 1-43 1-47 1-46 1-42 1-33 1-24 1-11 1 2 1 14 1 24 1 33 1 37 1 40 1 42 1 43 1 43"/>
<path d="M0 270l1 1 1 3 1 5 1 6 1 10 1 14 1 20 1 26 1 31 1 31 1 25 1 14 1-2 1-18 1-33 1-47 1-56 1-61 1-61 1-56 1-47 1-35 1-22 1-14 1-7 1-6 1-5 1-6"/>
<path d="M0 -75l1 0 1 0 1-1 1-2 1-2 1-2 1-2 1-1 1 0 1 4 1 6 1 11 1 13 1 15 1 16 1 15 1 14 1 11 1 7 1 3 1-1 1-5 1-7 1-8 1-10 1-10 1-9 1-10"/>
<path d="M0 64l1 0 1 1 1 0 1-1 1-3 1-6 1-13 1-23 1-34 1-44 1-49 1-49 1-43 1-33 1-20 1-5 1 10 1 24 1 37 1 45 1 50 1 51 1 50 1 47 1 46 1 46 1 45 1 46"/>
<path d="M0 300l1 0 1 2 1 3 1 3 1 2 1 0 1-6 1-15 1-28 1-42 1-55 1-64 1-69 1-68 1-61 1-49 1-33 1-16 1 5 1 22 1 38 1 50 1 57 1 61 1 62 1 63 1 62 1 63"/>
<path d="M0 288l1 1 1 3 1 5 1 6 1 9 1 10 1 11 1 11 1 7 1 1 1-10 1-22 1-35 1-45 1-52 1-54 1-52 1-47 1-36 1-24 1-11 1 3 1 14 1 21 1 25 1 26 1 27 1 27"/>
<path d="M0 251l1 0 1 2 1 3 1 4 1 4 1 2 1-3 1-10 1-21 1-32 1-43 1-49 1-52 1-50 1-43 1-34 1-22 1-7 1 7 1 20 1 32 1 41 1 46 1 49 1 51 1 52 1 52 1 52"/>
<path d="M0 -108l1-1 1 0 1-1 1-1 1 1 1 4 1 10 1 19 1 30 1 41 1 48 1 49 1 47 1 39 1 29 1 14 1 0 1-15 1-28 1-38 1-45 1-48 1-48 1-47 1-47 1-45 1-46 1-46"/>
<path d="M0 115l1 0 1 1 1 2 1 2 1 1 1 1 1-2 1-7 1-13 1-20 1-28 1-32 1-34 1-33 1-29 1-22 1-14 1-5 1 5 1 13 1 20 1 25 1 27 1 28 1 27 1 28 1 26 1 27"/>
<path d="M0 -158l1 0 1-2 1-2 1-4 1-3 1-2 1 0 1 4 1 11 1 18 1 26 1 31 1 34 1 35 1 32 1 26 1 19 1 11 1 1 1-8 1-17 1-22 1-27 1-29 1-30 1-31 1-30 1-31"/>
<path d="M0 -50l1 1 1-1 1-1 1-2 1-4 1-6 1-12 1-18 1-25 1-31 1-31 1-29 1-24 1-14 1-5 1 6 1 16 1 25 1 31 1 35 1 36 1 35 1 30 1 27 1 24 1 24 1 23 1 22"/>
<path d="M0 378l1 2 1 3 1 6 1 7 1 8 1 10 1 10 1 7 1 1 1-11 1-27 1-42 1-56 1-66 1-70 1-70 1-61 1-50 1-32 1-14 1 5 1 21 1 34 1 41 1 45 1 46 1 45 1 45"/>
<path d="M0 124l1 1 1 2 1 3 1 5 1 7 1 11 1 17 1 24 1 31 1 35 1 31 1 24 1 13 1-1 1-15 1-28 1-38 1-46 1-49 1-50 1-45 1-38 1-30 1-25 1-21 1-20 1-20 1-20"/>
<path d="M0 42l1 0 1 0 1 1 1 1 1 2 1 2 1 2 1 3 1 4 1 3 1 2 1-2 1-4 1-7 1-10 1-12 1-13 1-13 1-11 1-10 1-7 1-5 1-3 1-1 1 0 1 0 1 0 1 0"/>
<path d="M0 75l1 1 1 1 1 3 1 3 1 6 1 8 1 14 1 19 1 23 1 26 1 26 1 22 1 17 1 9 1 1 1-8 1-16 1-22 1-28 1-29 1-29 1-27 1-23 1-20 1-18 1-18 1-18 1-18"/>
<path d="M0 264l1 1 1 2 1 5 1 6 1 9 1 11 1 15 1 17 1 17 1 13 1 6 1-5 1-15 1-26 1-34 1-40 1-43 1-42 1-39 1-31 1-22 1-11 1-2 1 5 1 10 1 11 1 11 1 12"/>
<path d="M0 323l1 1 1 4 1 4 1 6 1 6 1 5 1 2 1-5 1-15 1-28 1-40 1-49 1-56 1-57 1-55 1-47 1-36 1-22 1-7 1 9 1 23 1 34 1 43 1 49 1 52 1 53 1 53 1 54"/>
<path d="M0 -73l1-1 1-1 1-1 1 0 1 0 1 4 1 8 1 15 1 23 1 32 1 37 1 38 1 36 1 32 1 22 1 12 1 1 1-10 1-21 1-29 1-34 1-37 1-36 1-36 1-35 1-36 1-35 1-36"/>
<path d="M0 23l1 0 1 0 1 1 1 1 1 1 1 1 1 2 1 4 1 5 1 6 1 6 1 7 1 6 1 3 1 2 1-2 1-3 1-5 1-7 1-8 1-8 1-7 1-5 1-4 1-3 1-2 1-2 1-1"/>
<path d="M0 -148l1 0 1 0 1-2 1-1 1 0 1 2 1 7 1 16 1 24 1 34 1 40 1 42 1 41 1 37 1 29 1 19 1 9 1-4 1-15 1-25 1-32 1-38 1-40 1-42 1-44 1-44 1-44 1-46"/>
<path d="M0 270l1 1 1 2 1 5 1 6 1 9 1 12 1 15 1 17 1 16 1 10 1 2 1-9 1-21 1-30 1-39 1-43 1-45 1-42 1-38 1-29 1-20 1-9 1 1 1 7 1 11 1 11 1 11 1 11"/>
<path d="M0 -326l1-1 1-3 1-5 1-7 1-8 1-11 1-11 1-11 1-8 1 1 1 14 1 28 1 42 1 53 1 61 1 64 1 63 1 55 1 45 1 32 1 16 1 1 1-11 1-19 1-23 1-25 1-26 1-25"/>
<path d="M0 -72l1 0 1-1 1-1 1-2 1-1 1-1 1 1 1 3 1 6 1 9 1 11 1 11 1 13 1 12 1 12 1 9 1 7 1 3 1 1 1-4 1-6 1-9 1-11 1-13 1-14 1-16 1-16 1-16"/>
<path d="M0 106l1 1 1 1 1 3 1 3 1 4 1 5 1 5 1 5 1 2 1-2 1-9 1-16 1-23 1-27 1-30 1-30 1-27 1-23 1-16 1-9 1-2 1 5 1 9 1 11 1 12 1 11 1 11 1 11"/>
<path d="M0 -156l1 0 1-1 1-1 1-1 1 0 1 4 1 11 1 21 1 33 1 43 1 50 1 50 1 46 1 38 1 26 1 13 1-3 1-18 1-30 1-40 1-48 1-51 1-52 1-53 1-53 1-54 1-55 1-54"/>
<path d="M0 -99l1-1 1-1 1-1 1-2 1-1 1-1 1 3 1 6 1 13 1 18 1 24 1 26 1 27 1 25 1 21 1 15 1 8 1 0 1-7 1-14 1-19 1-22 1-25 1-25 1-26 1-26 1-27 1-26"/>
<path d="M0 384l1 1 1 1 1 3 1 3 1 2 1 0 1-5 1-17 1-31 1-48 1-63 1-74 1-77 1-73 1-63 1-48 1-30 1-9 1 12 1 32 1 47 1 60 1 65 1 69 1 69 1 68 1 67 1 67"/>
<path d="M0 -183l1-1 1-2 1-3 1-5 1-6 1-7 1-10 1-9 1-6 1-2 1 6 1 13 1 19 1 25 1 27 1 28 1 27 1 23 1 17 1 11 1 2 1-4 1-11 1-14 1-16 1-16 1-16 1-15"/>
<path d="M0 -248l1-1 1-2 1-3 1-5 1-5 1-4 1-2 1 4 1 12 1 23 1 32 1 40 1 43 1 44 1 40 1 33 1 24 1 13 1 1 1-11 1-22 1-29 1-36 1-40 1-41 1-42 1-42 1-42"/>
<path d="M0 -13l1 0 1-1 1 0 1-2 1-3 1-4 1-9 1-14 1-19 1-22 1-25 1-25 1-22 1-17 1-11 1-4 1 4 1 12 1 17 1 22 1 23 1 25 1 22 1 21 1 20 1 19 1 19 1 19"/>
<path d="M0 -149l1-1 1-2 1-3 1-5 1-7 1-12 1-17 1-23 1-29 1-30 1-25 1-16 1-5 1 8 1 21 1 31 1 40 1 45 1 47 1 45 1 40 1 32 1 26 1 20 1 18 1 17 1 18 1 18"/>
<path d="M0 -253l1-1 1-3 1-3 1-3 1-3 1 0 1 6 1 15 1 28 1 42 1 54 1 61 1 64 1 61 1 52 1 39 1 22 1 4 1-14 1-30 1-44 1-52 1-58 1-60 1-60 1-61 1-60 1-61"/>
<path d="M0 -37l1-1 1 0 1 0 1 0 1 2 1 3 1 8 1 12 1 18 1 22 1 25 1 24 1 22 1 18 1 13 1 7 1 0 1-8 1-13 1-19 1-22 1-23 1-23 1-24 1-25 1-25 1-26 1-26"/>
<path d="M0 -76l1 0 1 0 1-1 1-1 1-1 1 1 1 1 1 5 1 9 1 11 1 14 1 14 1 12 1 10 1 7 1 4 1 0 1-4 1-8 1-10 1-13 1-15 1-15 1-17 1-19 1-18 1-20 1-20"/>
<path d="M0 -317l1-2 1-3 1-6 1-7 1-10 1-11 1-12 1-11 1-9 1 1 1 12 1 28 1 41 1 54 1 61 1 63 1 61 1 53 1 41 1 26 1 10 1-6 1-19 1-26 1-31 1-32 1-32 1-32"/>
<path d="M0 73l1 0 1 1 1 2 1 3 1 5 1 7 1 12 1 17 1 22 1 26 1 24 1 19 1 8 1-2 1-15 1-24 1-33 1-39 1-40 1-39 1-34 1-27 1-21 1-16 1-14 1-12 1-12 1-13"/>
<path d="M0 88l1 1 1 1 1 3 1 4 1 6 1 9 1 15 1 21 1 29 1 31 1 29 1 22 1 9 1-4 1-18 1-30 1-40 1-46 1-49 1-46 1-41 1-34 1-26 1-20 1-18 1-17 1-17 1-17"/>
<path d="M0 63l1 1 1 1 1 2 1 3 1 4 1 8 1 12 1 18 1 24 1 29 1 29 1 25 1 17 1 6 1-5 1-16 1-26 1-34 1-39 1-40 1-38 1-35 1-29 1-25 1-21 1-20 1-20 1-19"/>
<path d="M0 4l1 1 1 0 1 1 1 1 1 1 1 1 1 3 1 2 1 3 1 2 1 1 1 0 1-2 1-3 1-4 1-5 1-4 1-4 1-4 1-3 1-2 1-2 1-1 1-2 1-1 1-3 1-2 1-3"/>
<path d="M0 285l1 1 1 3 1 5 1 7 1 9 1 13 1 16 1 18 1 19 1 15 1 5 1-8 1-23 1-37 1-47 1-55 1-59 1-56 1-51 1-41 1-29 1-15 1-4 1 5 1 8 1 10 1 11 1 10"/>
<path d="M0 -357l1-1 1-2 1-5 1-6 1-9 1-9 1-10 1-8 1-1 1 9 1 23 1 38 1 51 1 59 1 62 1 62 1 55 1 44 1 30 1 13 1-3 1-17 1-29 1-35 1-39 1-38 1-39 1-38"/>
<path d="M0 70l1 1 1 1 1 1 1 0 1 0 1-3 1-7 1-13 1-22 1-28 1-33 1-33 1-30 1-25 1-17 1-8 1 3 1 12 1 20 1 27 1 31 1 32 1 33 1 32 1 33 1 32 1 32 1 33"/>
<path d="M0 46l1 1 1 0 1 1 1 0 1-1 1-3 1-7 1-14 1-22 1-28 1-33 1-34 1-32 1-26 1-19 1-8 1 1 1 12 1 20 1 27 1 32 1 33 1 32 1 30 1 30 1 29 1 30 1 29"/>
<path d="M0 46l1 0 1 0 1-1 1-1 1-3 1-7 1-13 1-24 1-35 1-47 1-52 1-53 1-46 1-35 1-21 1-5 1 12 1 28 1 40 1 50 1 55 1 55 1 53 1 49 1 46 1 44 1 44 1 43"/>
<path d="M0 242l1 1 1 2 1 4 1 5 1 6 1 6 1 4 1 1 1-6 1-16 1-26 1-35 1-40 1-42 1-42 1-37 1-31 1-22 1-11 1 0 1 11 1 19 1 27 1 30 1 31 1 33 1 32 1 32"/>
<path d="M0 282l1 2 1 2 1 5 1 5 1 6 1 5 1 2 1-4 1-15 1-30 1-43 1-56 1-63 1-64 1-61 1-52 1-38 1-22 1-5 1 14 1 28 1 41 1 47 1 50 1 52 1 50 1 51 1 49"/>
<path d="M0 -237l1-1 1-3 1-3 1-4 1-4 1-3 1 1 1 9 1 20 1 30 1 40 1 46 1 48 1 45 1 40 1 31 1 20 1 7 1-5 1-18 1-28 1-36 1-41 1-45 1-46 1-47 1-48 1-47"/>
<path d="M0 16l1-1 1 0 1 0 1-1 1 0 1-2 1-3 1-6 1-9 1-12 1-13 1-12 1-9 1-4 1 0 1 5 1 10 1 14 1 16 1 17 1 17 1 17 1 14 1 14 1 12 1 12 1 12 1 11"/>
<path d="M0 9l1-1 1 0 1 0 1-1 1-1 1-2 1-3 1-6 1-9 1-12 1-16 1-17 1-19 1-17 1-15 1-12 1-7 1-2 1 3 1 7 1 10 1 12 1 13 1 11 1 11 1 10 1 9 1 9"/>
<path d="M0 218l1 1 1 2 1 4 1 6 1 7 1 11 1 14 1 17 1 18 1 15 1 5 1-6 1-19 1-31 1-40 1-47 1-51 1-48 1-44 1-36 1-25 1-14 1-5 1 1 1 4 1 4 1 4 1 4"/>
<path d="M0 57l1 1 1 1 1 2 1 3 1 5 1 10 1 16 1 26 1 37 1 43 1 46 1 40 1 29 1 14 1-3 1-20 1-36 1-47 1-56 1-58 1-57 1-51 1-43 1-38 1-33 1-31 1-31 1-31"/>
<path d="M0 132l1 0 1 2 1 3 1 3 1 4 1 5 1 4 1 2 1-1 1-6 1-10 1-16 1-20 1-22 1-23 1-22 1-19 1-15 1-9 1-3 1 4 1 9 1 13 1 17 1 18 1 19 1 20 1 19"/>
<path d="M0 187l1 1 1 2 1 3 1 4 1 3 1 3 1-1 1-7 1-16 1-27 1-37 1-43 1-45 1-42 1-37 1-28 1-17 1-4 1 9 1 20 1 30 1 36 1 40 1 41 1 41 1 41 1 41 1 41"/>
<path d="M0 307l1 1 1 3 1 5 1 7 1 8 1 9 1 9 1 7 1 0 1-9 1-21 1-34 1-43 1-50 1-54 1-53 1-49 1-40 1-29 1-17 1-3 1 10 1 19 1 25 1 29 1 30 1 30 1 30"/>
<path d="M0 247l1 0 1 1 1 2 1 2 1 1 1-2 1-8 1-19 1-32 1-47 1-57 1-65 1-66 1-60 1-51 1-34 1-17 1 3 1 21 1 38 1 51 1 58 1 63 1 63 1 64 1 63 1 64 1 64"/>
<path d="M0 13l1 0 1 0 1 0 1 1 1 2 1 2 1 5 1 6 1 9 1 9 1 9 1 7 1 4 1 2 1-1 1-4 1-6 1-9 1-10 1-10 1-10 1-10 1-8 1-8 1-8 1-8 1-9 1-9"/>
<path d="M0 -102l1 0 1-2 1-2 1-3 1-5 1-5 1-6 1-5 1-4 1 1 1 4 1 10 1 13 1 15 1 16 1 16 1 14 1 12 1 8 1 3 1-1 1-4 1-8 1-9 1-10 1-10 1-9 1-9"/>
<path d="M0 190l1 0 1 1 1 1 1 2 1 0 1-3 1-8 1-18 1-30 1-41 1-49 1-51 1-51 1-44 1-36 1-23 1-9 1 6 1 19 1 31 1 41 1 47 1 50 1 51 1 52 1 53 1 54 1 53"/>
<path d="M0 -242l1 0 1-2 1-4 1-6 1-7 1-8 1-9 1-9 1-6 1 1 1 12 1 22 1 34 1 42 1 48 1 49 1 48 1 42 1 34 1 22 1 11 1-1 1-10 1-15 1-18 1-20 1-19 1-19"/>
<path d="M0 404l1 1 1 2 1 3 1 3 1 2 1 0 1-6 1-16 1-30 1-46 1-62 1-72 1-77 1-76 1-68 1-55 1-37 1-17 1 4 1 25 1 43 1 55 1 63 1 69 1 69 1 70 1 69 1 69"/>
<path d="M0 271l1 1 1 3 1 4 1 6 1 7 1 8 1 6 1 4 1-2 1-11 1-21 1-33 1-43 1-50 1-54 1-53 1-48 1-39 1-28 1-13 1 0 1 13 1 24 1 30 1 33 1 35 1 36 1 36"/>
<path d="M0 168l1 2 1 2 1 4 1 4 1 5 1 5 1 4 1 1 1-5 1-11 1-21 1-29 1-36 1-40 1-40 1-39 1-33 1-25 1-16 1-5 1 4 1 14 1 19 1 23 1 24 1 25 1 25 1 24"/>
<path d="M0 -329l1-2 1-3 1-5 1-7 1-9 1-9 1-9 1-7 1-2 1 7 1 18 1 30 1 43 1 51 1 57 1 59 1 55 1 48 1 36 1 23 1 9 1-7 1-18 1-27 1-32 1-34 1-35 1-35"/>
<path d="M0 -245l1-1 1-2 1-4 1-6 1-9 1-15 1-21 1-30 1-35 1-36 1-29 1-17 1-2 1 15 1 31 1 44 1 55 1 60 1 60 1 55 1 47 1 35 1 25 1 17 1 13 1 13 1 14 1 15"/>
<path d="M0 -106l1 0 1-1 1-2 1-3 1-5 1-6 1-8 1-10 1-11 1-10 1-5 1 2 1 10 1 17 1 24 1 28 1 30 1 29 1 27 1 22 1 17 1 10 1 4 1 2 1 0 1-1 1 0 1 0"/>
<path d="M0 -160l1-1 1-2 1-2 1-3 1-3 1-2 1 1 1 7 1 15 1 24 1 30 1 36 1 37 1 35 1 30 1 23 1 14 1 4 1-7 1-16 1-25 1-29 1-33 1-35 1-36 1-37 1-36 1-37"/>
<path d="M0 228l1 1 1 3 1 3 1 5 1 4 1 4 1-1 1-8 1-20 1-32 1-43 1-51 1-53 1-51 1-43 1-32 1-18 1-2 1 14 1 27 1 39 1 45 1 50 1 51 1 51 1 51 1 51 1 50"/>
<path d="M0 50l1-1 1 0 1 1 1 2 1 3 1 6 1 10 1 16 1 22 1 25 1 25 1 20 1 13 1 3 1-5 1-16 1-23 1-30 1-33 1-34 1-33 1-29 1-25 1-22 1-20 1-20 1-20 1-21"/>
<path d="M0 -87l1 0 1-1 1-1 1 0 1 0 1 4 1 9 1 18 1 29 1 40 1 47 1 51 1 49 1 42 1 32 1 19 1 4 1-11 1-25 1-36 1-44 1-47 1-47 1-45 1-44 1-42 1-42 1-42"/>
<path d="M0 -261l1 0 1-1 1-1 1 0 1 1 1 5 1 14 1 25 1 40 1 54 1 63 1 66 1 64 1 54 1 42 1 25 1 7 1-11 1-29 1-44 1-55 1-62 1-65 1-68 1-68 1-68 1-68 1-68"/>
<path d="M0 223l1 0 1 3 1 4 1 6 1 8 1 10 1 12 1 13 1 12 1 6 1-2 1-12 1-21 1-29 1-35 1-38 1-38 1-36 1-29 1-21 1-12 1-2 1 5 1 11 1 13 1 14 1 14 1 13"/>
<path d="M0 -80l1-1 1-1 1-1 1-3 1-3 1-4 1-4 1-4 1-2 1 2 1 7 1 13 1 18 1 21 1 22 1 22 1 20 1 16 1 11 1 5 1 0 1-4 1-7 1-8 1-8 1-8 1-7 1-6"/>
<path d="M0 -1l1 0 1 1 1 1 1 1 1 2 1 2 1 4 1 6 1 8 1 10 1 10 1 9 1 6 1 3 1 0 1-5 1-7 1-10 1-12 1-12 1-12 1-11 1-9 1-9 1-7 1-8 1-8 1-7"/>
<path d="M0 191l1 1 1 2 1 2 1 3 1 3 1 2 1-3 1-9 1-19 1-29 1-39 1-46 1-49 1-47 1-42 1-33 1-22 1-10 1 4 1 17 1 27 1 35 1 39 1 41 1 42 1 42 1 43 1 42"/>
<path d="M0 -431l1-1 1-2 1-5 1-6 1-10 1-13 1-20 1-25 1-28 1-21 1-8 1 13 1 35 1 55 1 73 1 83 1 89 1 85 1 77 1 62 1 43 1 24 1 9 1-1 1-5 1-6 1-4 1-4"/>
<path d="M0 -206l1 0 1-2 1-2 1-3 1-2 1 0 1 4 1 11 1 23 1 34 1 46 1 53 1 56 1 54 1 47 1 38 1 25 1 10 1-6 1-19 1-32 1-40 1-45 1-47 1-47 1-47 1-47 1-47"/>
<path d="M0 104l1 0 1 1 1 3 1 3 1 5 1 8 1 12 1 16 1 22 1 22 1 19 1 12 1 1 1-9 1-20 1-29 1-36 1-39 1-39 1-37 1-31 1-25 1-18 1-14 1-11 1-10 1-11 1-11"/>
<path d="M0 249l1 1 1 1 1 4 1 4 1 4 1 3 1-1 1-7 1-18 1-30 1-42 1-50 1-55 1-54 1-49 1-39 1-27 1-12 1 3 1 18 1 31 1 39 1 45 1 48 1 49 1 48 1 48 1 48"/>
<path d="M0 356l1 1 1 3 1 5 1 6 1 6 1 7 1 5 1-1 1-10 1-23 1-38 1-51 1-61 1-65 1-65 1-59 1-49 1-35 1-18 1-1 1 16 1 30 1 40 1 45 1 49 1 49 1 48 1 48"/>
<path d="M0 124l1 0 1 1 1 2 1 4 1 5 1 8 1 11 1 16 1 20 1 20 1 18 1 10 1 0 1-9 1-19 1-28 1-34 1-38 1-37 1-36 1-30 1-23 1-17 1-12 1-9 1-9 1-8 1-8"/>
<path d="M0 63l1 0 1 1 1 1 1 2 1 3 1 3 1 3 1 3 1 2 1-3 1-7 1-13 1-17 1-20 1-21 1-21 1-18 1-15 1-9 1-4 1 1 1 5 1 8 1 8 1 8 1 8 1 7 1 7"/>
<path d="M0 88l1 1 1 1 1 2 1 3 1 5 1 6 1 8 1 10 1 11 1 8 1 5 1 0 1-5 1-10 1-14 1-18 1-18 1-19 1-17 1-14 1-11 1-6 1-3 1 0 1 0 1 0 1 0 1 0"/>
<path d="M0 130l1 0 1 1 1 1 1 1 1 1 1 0 1-3 1-10 1-17 1-26 1-32 1-35 1-34 1-31 1-25 1-18 1-7 1 1 1 12 1 19 1 26 1 30 1 32 1 33 1 33 1 33 1 32 1 33"/>
<path d="M0 156l1 0 1 1 1 2 1 1 1 0 1-2 1-9 1-18 1-31 1-44 1-53 1-56 1-53 1-45 1-33 1-18 1-2 1 15 1 29 1 41 1 50 1 53 1 54 1 53 1 53 1 51 1 51 1 51"/>
<path d="M0 -135l1 0 1-2 1-3 1-5 1-6 1-9 1-13 1-17 1-20 1-20 1-15 1-7 1 3 1 14 1 23 1 31 1 36 1 38 1 38 1 33 1 28 1 19 1 13 1 8 1 6 1 4 1 5 1 5"/>
<path d="M0 10l1 1 1 0 1 0 1 0 1 0 1-1 1-2 1-5 1-10 1-14 1-16 1-19 1-17 1-13 1-9 1-3 1 2 1 8 1 13 1 16 1 18 1 18 1 16 1 14 1 13 1 11 1 10 1 10"/>
<path d="M0 207l1 1 1 2 1 4 1 5 1 6 1 7 1 6 1 4 1 2 1-5 1-11 1-20 1-27 1-34 1-39 1-39 1-38 1-32 1-26 1-17 1-6 1 3 1 11 1 18 1 22 1 23 1 25 1 25"/>
<path d="M0 -242l1 0 1-3 1-3 1-3 1-4 1-2 1 3 1 11 1 24 1 38 1 49 1 58 1 61 1 57 1 49 1 36 1 21 1 3 1-14 1-29 1-41 1-50 1-54 1-55 1-55 1-55 1-54 1-53"/>
<path d="M0 179l1 1 1 2 1 3 1 4 1 6 1 6 1 7 1 7 1 4 1 0 1-5 1-11 1-16 1-20 1-23 1-24 1-22 1-20 1-15 1-9 1-3 1 3 1 10 1 14 1 17 1 18 1 18 1 18"/>
<path d="M0 -47l1 0 1-1 1-2 1-3 1-4 1-7 1-13 1-19 1-27 1-31 1-34 1-31 1-25 1-16 1-6 1 7 1 16 1 27 1 33 1 38 1 38 1 36 1 33 1 28 1 25 1 24 1 24 1 23"/>
<path d="M0 158l1 1 1 2 1 3 1 5 1 5 1 6 1 7 1 6 1 5 1 0 1-6 1-13 1-20 1-25 1-29 1-31 1-29 1-25 1-20 1-12 1-4 1 3 1 9 1 13 1 16 1 17 1 17 1 16"/>
<path d="M0 -221l1-1 1-2 1-3 1-5 1-6 1-7 1-8 1-5 1 0 1 8 1 18 1 30 1 39 1 44 1 47 1 47 1 42 1 34 1 24 1 13 1 1 1-8 1-16 1-20 1-22 1-22 1-21 1-21"/>
<path d="M0 227l1 1 1 2 1 4 1 4 1 5 1 4 1 0 1-5 1-15 1-26 1-36 1-44 1-47 1-47 1-42 1-35 1-23 1-11 1 3 1 15 1 26 1 34 1 40 1 43 1 44 1 44 1 44 1 45"/>
<path d="M0 -16l1 0 1-1 1 0 1-2 1-2 1-5 1-9 1-14 1-18 1-21 1-22 1-20 1-16 1-10 1-5 1 3 1 9 1 15 1 20 1 22 1 23 1 22 1 21 1 18 1 19 1 18 1 19 1 19"/>
<path d="M0 -242l1 0 1-2 1-4 1-6 1-6 1-8 1-9 1-8 1-6 1-1 1 6 1 16 1 26 1 34 1 40 1 43 1 43 1 38 1 31 1 21 1 10 1-1 1-11 1-18 1-22 1-25 1-25 1-25"/>
<path d="M0 74l1 0 1 1 1 1 1 1 1 1 1 1 1-1 1-3 1-8 1-14 1-19 1-24 1-27 1-27 1-26 1-22 1-17 1-10 1-4 1 4 1 9 1 14 1 16 1 17 1 17 1 16 1 15 1 16"/>
<path d="M0 134l1 1 1 1 1 2 1 2 1 2 1 0 1-3 1-9 1-17 1-25 1-31 1-33 1-33 1-30 1-23 1-15 1-6 1 4 1 14 1 21 1 28 1 31 1 34 1 34 1 35 1 36 1 35 1 36"/>
<path d="M0 323l1 2 1 4 1 5 1 8 1 10 1 14 1 16 1 20 1 18 1 13 1 3 1-13 1-27 1-41 1-52 1-59 1-61 1-57 1-50 1-37 1-23 1-9 1 5 1 13 1 18 1 19 1 19 1 19"/>
<path d="M0 -144l1-1 1-2 1-2 1-4 1-5 1-6 1-7 1-6 1-6 1-1 1 4 1 10 1 16 1 22 1 25 1 27 1 26 1 23 1 18 1 12 1 5 1-2 1-7 1-11 1-13 1-14 1-14 1-14"/>
<path d="M0 -304l1-1 1-2 1-5 1-6 1-8 1-9 1-9 1-7 1 0 1 8 1 21 1 31 1 40 1 46 1 49 1 47 1 42 1 34 1 22 1 10 1-3 1-15 1-24 1-30 1-34 1-34 1-34 1-33"/>
<path d="M0 21l1 0 1 0 1 0 1-1 1-1 1-3 1-5 1-8 1-11 1-13 1-14 1-11 1-10 1-7 1-4 1 0 1 3 1 7 1 10 1 12 1 13 1 13 1 13 1 13 1 14 1 15 1 16 1 17"/>
<path d="M0 41l1 0 1 0 1 1 1 1 1 1 1 2 1 1 1 1 1 1 1 0 1 0 1-1 1-2 1-1 1-3 1-2 1-3 1-3 1-2 1-2 1-1 1 0 1 2 1 3 1 5 1 5 1 5 1 6"/>
<path d="M0 17l1 1 1 0 1 1 1 2 1 2 1 4 1 5 1 9 1 13 1 14 1 14 1 11 1 5 1 0 1-7 1-12 1-17 1-20 1-21 1-21 1-19 1-17 1-13 1-12 1-11 1-10 1-11 1-10"/>
<path d="M0 -296l1-1 1-3 1-4 1-7 1-7 1-9 1-9 1-6 1-2 1 6 1 19 1 32 1 43 1 53 1 58 1 58 1 55 1 47 1 36 1 22 1 7 1-6 1-18 1-24 1-29 1-30 1-30 1-30"/>
<path d="M0 -177l1 0 1-2 1-3 1-3 1-3 1-2 1 1 1 8 1 18 1 29 1 39 1 48 1 50 1 49 1 44 1 33 1 22 1 7 1-6 1-20 1-30 1-38 1-40 1-42 1-41 1-41 1-39 1-40"/>
<path d="M0 152l1 1 1 2 1 3 1 5 1 7 1 9 1 12 1 16 1 19 1 21 1 17 1 10 1 1 1-9 1-21 1-29 1-36 1-40 1-41 1-37 1-33 1-24 1-17 1-10 1-6 1-3 1-3 1-2"/>
<path d="M0 248l1 1 1 3 1 5 1 6 1 9 1 10 1 14 1 14 1 14 1 8 1-1 1-13 1-25 1-36 1-43 1-48 1-49 1-45 1-38 1-28 1-16 1-4 1 5 1 11 1 15 1 15 1 16 1 15"/>
<path d="M0 -30l1-1 1-1 1-1 1-1 1-1 1-2 1-1 1 0 1 1 1 2 1 4 1 5 1 5 1 3 1 3 1 1 1 1 1-2 1-2 1-4 1-5 1-5 1-5 1-6 1-6 1-6 1-6 1-5"/>
<path d="M0 133l1 0 1 2 1 3 1 4 1 6 1 8 1 11 1 14 1 16 1 16 1 12 1 6 1 0 1-7 1-14 1-19 1-23 1-26 1-25 1-24 1-19 1-14 1-8 1-4 1-2 1-1 1-2 1-1"/>
<path d="M0 26l1 0 1 0 1 0 1-2 1-2 1-7 1-12 1-21 1-31 1-41 1-43 1-42 1-34 1-22 1-8 1 8 1 22 1 34 1 44 1 48 1 50 1 47 1 43 1 39 1 37 1 36 1 35 1 36"/>
<path d="M0 -4l1 0 1 0 1 0 1-1 1-1 1-2 1-5 1-7 1-11 1-15 1-17 1-16 1-14 1-10 1-4 1 1 1 8 1 12 1 16 1 19 1 19 1 18 1 16 1 14 1 12 1 11 1 10 1 10"/>
<path d="M0 -152l1 0 1-2 1-2 1-3 1-2 1-2 1 1 1 5 1 12 1 20 1 25 1 30 1 31 1 30 1 27 1 21 1 14 1 6 1-3 1-10 1-17 1-23 1-26 1-29 1-30 1-31 1-31 1-31"/>
<path d="M0 395l1 1 1 3 1 6 1 7 1 9 1 12 1 14 1 14 1 9 1-1 1-14 1-31 1-45 1-56 1-63 1-65 1-63 1-57 1-45 1-31 1-16 1 0 1 11 1 19 1 23 1 23 1 23 1 22"/>
<path d="M0 139l1 2 1 1 1 3 1 2 1 2 1-1 1-6 1-15 1-26 1-39 1-48 1-54 1-53 1-47 1-38 1-24 1-9 1 8 1 22 1 34 1 44 1 49 1 49 1 49 1 47 1 47 1 46 1 45"/>
<path d="M0 169l1 1 1 2 1 3 1 2 1 3 1 0 1-4 1-12 1-24 1-38 1-48 1-56 1-56 1-52 1-43 1-30 1-14 1 2 1 17 1 32 1 42 1 48 1 50 1 49 1 48 1 47 1 45 1 45"/>
<path d="M0 75l1 1 1 2 1 2 1 3 1 5 1 7 1 10 1 15 1 21 1 23 1 24 1 21 1 14 1 7 1-3 1-12 1-20 1-26 1-30 1-31 1-30 1-27 1-21 1-16 1-13 1-11 1-10 1-11"/>
<path d="M0 109l1 1 1 2 1 3 1 4 1 6 1 10 1 14 1 19 1 24 1 24 1 22 1 16 1 8 1-1 1-11 1-20 1-26 1-32 1-33 1-32 1-28 1-23 1-17 1-12 1-10 1-10 1-10 1-11"/>
<path d="M0 30l1 1 1 0 1 0 1 0 1-1 1-4 1-8 1-16 1-23 1-31 1-33 1-31 1-26 1-17 1-7 1 4 1 14 1 24 1 31 1 35 1 38 1 37 1 35 1 33 1 32 1 32 1 31 1 30"/>
<path d="M0 -82l1-1 1-1 1-2 1-2 1-2 1-1 1 0 1 4 1 9 1 11 1 15 1 15 1 15 1 13 1 11 1 7 1 4 1-1 1-5 1-8 1-12 1-14 1-17 1-18 1-20 1-20 1-22 1-21"/>
<path d="M0 150l1 0 1 2 1 2 1 2 1 2 1 0 1-4 1-11 1-21 1-32 1-42 1-49 1-50 1-48 1-40 1-30 1-16 1-3 1 12 1 25 1 34 1 40 1 43 1 43 1 41 1 41 1 40 1 39"/>
<path d="M0 -232l1-1 1-2 1-5 1-6 1-9 1-13 1-18 1-22 1-25 1-24 1-17 1-8 1 3 1 15 1 27 1 35 1 42 1 45 1 44 1 40 1 33 1 24 1 14 1 8 1 4 1 2 1 3 1 3"/>
<path d="M0 151l1 1 1 2 1 3 1 5 1 6 1 9 1 12 1 16 1 17 1 16 1 12 1 4 1-5 1-14 1-22 1-28 1-33 1-34 1-32 1-27 1-21 1-14 1-6 1-1 1 2 1 3 1 2 1 3"/>
<path d="M0 297l1 1 1 3 1 6 1 7 1 10 1 13 1 15 1 18 1 15 1 11 1 0 1-11 1-23 1-33 1-42 1-47 1-49 1-46 1-41 1-33 1-22 1-10 1 0 1 7 1 12 1 13 1 12 1 13"/>
<path d="M0 267l1 1 1 3 1 5 1 7 1 10 1 13 1 18 1 23 1 26 1 23 1 14 1 1 1-16 1-31 1-45 1-56 1-62 1-63 1-59 1-51 1-39 1-26 1-14 1-6 1-1 1 0 1 1 1 0"/>
<path d="M0 141l1 1 1 1 1 3 1 4 1 5 1 7 1 8 1 11 1 10 1 7 1 2 1-7 1-16 1-23 1-30 1-33 1-35 1-34 1-31 1-24 1-18 1-10 1-5 1 0 1 1 1 2 1 2 1 2"/>
<path d="M0 295l1 1 1 3 1 4 1 5 1 6 1 5 1 2 1-5 1-14 1-27 1-40 1-49 1-55 1-57 1-53 1-47 1-35 1-23 1-7 1 7 1 22 1 32 1 40 1 44 1 47 1 47 1 47 1 47"/>
<path d="M0 -73l1-1 1 0 1-1 1-1 1 0 1 3 1 8 1 15 1 24 1 32 1 38 1 41 1 38 1 32 1 24 1 13 1 1 1-11 1-22 1-31 1-36 1-38 1-38 1-36 1-36 1-36 1-35 1-36"/>
<path d="M0 159l1 0 1 2 1 2 1 2 1 3 1 2 1-2 1-7 1-15 1-25 1-33 1-38 1-39 1-37 1-31 1-23 1-13 1-2 1 8 1 19 1 26 1 32 1 34 1 35 1 36 1 35 1 34 1 35"/>
<path d="M0 62l1 1 1 1 1 3 1 3 1 4 1 7 1 10 1 15 1 18 1 20 1 18 1 13 1 6 1-4 1-11 1-19 1-26 1-29 1-31 1-31 1-27 1-23 1-19 1-15 1-13 1-12 1-13 1-12"/>
<path d="M0 312l1 0 1 3 1 4 1 6 1 10 1 12 1 15 1 18 1 20 1 15 1 5 1-9 1-25 1-40 1-52 1-61 1-65 1-63 1-57 1-47 1-33 1-19 1-7 1 3 1 8 1 10 1 10 1 10"/>
<path d="M0 310l1 2 1 3 1 5 1 6 1 7 1 8 1 5 1 0 1-10 1-22 1-37 1-51 1-59 1-63 1-62 1-55 1-44 1-29 1-12 1 5 1 22 1 34 1 43 1 47 1 49 1 49 1 48 1 48"/>
<path d="M0 -52l1 0 1-1 1-1 1-2 1-4 1-5 1-8 1-13 1-17 1-20 1-20 1-18 1-12 1-5 1 2 1 11 1 17 1 22 1 26 1 28 1 25 1 23 1 19 1 14 1 13 1 11 1 11 1 10"/>
<path d="M0 246l1 0 1 3 1 4 1 6 1 10 1 13 1 19 1 25 1 27 1 24 1 15 1 1 1-15 1-29 1-41 1-52 1-56 1-57 1-52 1-44 1-32 1-20 1-10 1-3 1 0 1 0 1-1 1-3"/>
<path d="M0 119l1 1 1 1 1 2 1 3 1 2 1 2 1 1 1-5 1-11 1-18 1-26 1-32 1-33 1-31 1-28 1-21 1-14 1-5 1 4 1 12 1 19 1 24 1 25 1 27 1 25 1 25 1 25 1 24"/>
<path d="M0 60l1 1 1 1 1 2 1 2 1 2 1 3 1 1 1 1 1-2 1-6 1-10 1-14 1-18 1-20 1-20 1-19 1-17 1-13 1-8 1-2 1 2 1 6 1 9 1 10 1 10 1 11 1 10 1 11"/>
<path d="M0 301l1 0 1 2 1 4 1 5 1 5 1 5 1 3 1-3 1-13 1-24 1-35 1-45 1-51 1-54 1-53 1-47 1-39 1-27 1-13 1 0 1 14 1 25 1 33 1 39 1 41 1 43 1 43 1 43"/>
<path d="M0 175l1 0 1 2 1 1 1 0 1-1 1-5 1-13 1-26 1-42 1-58 1-68 1-71 1-66 1-54 1-36 1-17 1 6 1 26 1 45 1 59 1 69 1 71 1 71 1 68 1 65 1 64 1 63 1 62"/>
<path d="M0 5l1-1 1 0 1 0 1 1 1 3 1 6 1 11 1 19 1 29 1 35 1 37 1 34 1 25 1 13 1 0 1-13 1-25 1-36 1-42 1-45 1-45 1-41 1-37 1-33 1-31 1-30 1-30 1-30"/>
<path d="M0 114l1 0 1 1 1 1 1 1 1 1 1-1 1-4 1-10 1-18 1-26 1-33 1-38 1-40 1-38 1-33 1-25 1-16 1-6 1 6 1 15 1 23 1 29 1 31 1 32 1 32 1 32 1 31 1 31"/>
<path d="M0 89l1 0 1 2 1 2 1 3 1 4 1 8 1 10 1 15 1 18 1 19 1 16 1 10 1 2 1-6 1-14 1-21 1-27 1-30 1-30 1-29 1-26 1-20 1-15 1-12 1-11 1-10 1-10 1-10"/>
<path d="M0 374l1 0 1 3 1 4 1 6 1 10 1 13 1 19 1 25 1 27 1 24 1 14 1 1 1-16 1-33 1-48 1-59 1-65 1-67 1-61 1-53 1-39 1-24 1-10 1-1 1 5 1 6 1 6 1 5"/>
<path d="M0 -214l1-2 1-3 1-4 1-7 1-9 1-13 1-17 1-24 1-28 1-29 1-22 1-11 1 4 1 21 1 36 1 48 1 57 1 62 1 60 1 54 1 45 1 33 1 21 1 13 1 7 1 5 1 5 1 5"/>
<path d="M0 301l1 1 1 3 1 5 1 7 1 10 1 14 1 19 1 25 1 26 1 23 1 14 1 0 1-16 1-30 1-43 1-53 1-59 1-60 1-57 1-49 1-38 1-26 1-14 1-7 1-3 1-3 1-2 1-4"/>
<path d="M0 -283l1 0 1-2 1-4 1-5 1-5 1-6 1-4 1 2 1 11 1 21 1 33 1 42 1 48 1 49 1 48 1 41 1 32 1 20 1 7 1-6 1-19 1-28 1-36 1-41 1-42 1-43 1-43 1-43"/>
<path d="M0 -358l1-1 1-1 1-3 1-2 1-2 1 2 1 9 1 21 1 37 1 54 1 67 1 76 1 77 1 70 1 57 1 40 1 19 1-4 1-25 1-45 1-59 1-69 1-74 1-75 1-76 1-75 1-74 1-74"/>
<path d="M0 -272l1-2 1-3 1-5 1-7 1-10 1-14 1-19 1-26 1-31 1-30 1-25 1-12 1 3 1 20 1 37 1 50 1 60 1 64 1 64 1 59 1 49 1 36 1 23 1 14 1 7 1 5 1 5 1 4"/>
<path d="M0 -206l1 0 1-2 1-2 1-3 1-2 1-2 1 3 1 9 1 19 1 30 1 38 1 44 1 45 1 44 1 38 1 29 1 19 1 7 1-6 1-17 1-26 1-34 1-38 1-41 1-41 1-42 1-43 1-42"/>
<path d="M0 243l1 0 1 2 1 4 1 4 1 6 1 5 1 4 1 1 1-7 1-16 1-26 1-37 1-44 1-48 1-48 1-43 1-34 1-23 1-10 1 3 1 17 1 26 1 34 1 37 1 40 1 40 1 40 1 40"/>
<path d="M0 430l1 1 1 3 1 5 1 7 1 10 1 13 1 17 1 22 1 21 1 14 1-1 1-19 1-40 1-59 1-72 1-82 1-84 1-79 1-69 1-54 1-35 1-17 1-1 1 8 1 13 1 14 1 13 1 12"/>
<path d="M0 221l1 1 1 3 1 5 1 7 1 9 1 14 1 20 1 28 1 35 1 37 1 33 1 24 1 8 1-8 1-27 1-42 1-53 1-61 1-64 1-60 1-52 1-41 1-28 1-19 1-14 1-10 1-10 1-10"/>
<path d="M0 80l1 1 1 1 1 2 1 2 1 3 1 3 1 2 1 0 1 0 1-4 1-8 1-11 1-15 1-18 1-20 1-20 1-19 1-15 1-12 1-7 1-1 1 3 1 7 1 9 1 12 1 12 1 13 1 13"/>
<path d="M0 117l1 0 1 0 1 1 1 1 1 0 1-2 1-6 1-14 1-24 1-33 1-39 1-40 1-38 1-32 1-23 1-13 1-1 1 11 1 21 1 29 1 36 1 38 1 40 1 40 1 39 1 39 1 38 1 39"/>
<path d="M0 124l1 0 1 1 1 3 1 3 1 5 1 7 1 10 1 14 1 16 1 15 1 12 1 5 1-4 1-11 1-19 1-24 1-30 1-31 1-31 1-28 1-24 1-19 1-13 1-9 1-8 1-7 1-7 1-7"/>
<path d="M0 147l1 0 1 0 1 1 1 1 1 0 1-2 1-9 1-18 1-30 1-42 1-50 1-53 1-50 1-43 1-32 1-19 1-4 1 11 1 24 1 36 1 44 1 49 1 50 1 49 1 49 1 48 1 48 1 47"/>
<path d="M0 -276l1-1 1-3 1-4 1-6 1-6 1-6 1-5 1-1 1 6 1 16 1 27 1 36 1 46 1 50 1 53 1 50 1 44 1 35 1 23 1 11 1-3 1-15 1-24 1-31 1-34 1-35 1-37 1-36"/>
<path d="M0 -309l1 0 1-2 1-4 1-3 1-4 1-2 1 4 1 13 1 28 1 45 1 59 1 69 1 71 1 67 1 57 1 40 1 22 1 1 1-20 1-37 1-52 1-61 1-65 1-66 1-66 1-63 1-63 1-63"/>
<path d="M0 -121l1-1 1-2 1-2 1-4 1-5 1-7 1-9 1-13 1-16 1-16 1-15 1-11 1-4 1 5 1 13 1 20 1 25 1 29 1 30 1 28 1 24 1 18 1 11 1 6 1 1 1-1 1-1 1-2"/>
<path d="M0 -176l1-1 1-2 1-3 1-6 1-7 1-11 1-15 1-22 1-25 1-28 1-23 1-16 1-4 1 9 1 21 1 33 1 42 1 46 1 49 1 45 1 40 1 32 1 22 1 15 1 11 1 9 1 8 1 8"/>
<path d="M0 20l1 0 1 1 1 1 1 3 1 4 1 9 1 16 1 25 1 36 1 43 1 44 1 40 1 30 1 18 1 3 1-12 1-25 1-38 1-47 1-51 1-53 1-50 1-45 1-42 1-40 1-38 1-39 1-39"/>
<path d="M0 -93l1 0 1-1 1-1 1-1 1-1 1 0 1 3 1 8 1 13 1 17 1 22 1 22 1 21 1 17 1 14 1 8 1 1 1-5 1-10 1-16 1-19 1-22 1-23 1-24 1-25 1-26 1-26 1-27"/>
<path d="M0 24l1 0 1 0 1 1 1 1 1 2 1 4 1 5 1 8 1 12 1 15 1 16 1 15 1 10 1 6 1-1 1-7 1-12 1-17 1-20 1-21 1-21 1-19 1-16 1-14 1-12 1-10 1-10 1-10"/>
<path d="M0 9l1 0 1 1 1 0 1 1 1 0 1-1 1-2 1-4 1-8 1-12 1-13 1-13 1-12 1-9 1-4 1 0 1 4 1 8 1 12 1 13 1 15 1 15 1 14 1 13 1 12 1 10 1 10 1 10"/>
<path d="M0 259l1 1 1 2 1 4 1 5 1 5 1 4 1 0 1-5 1-13 1-24 1-34 1-41 1-47 1-50 1-48 1-44 1-35 1-24 1-12 1 1 1 15 1 25 1 34 1 39 1 43 1 46 1 45 1 47"/>
<path d="M0 -85l1 0 1-1 1-1 1 0 1 0 1 2 1 7 1 14 1 24 1 34 1 41 1 47 1 45 1 41 1 33 1 21 1 9 1-4 1-16 1-27 1-35 1-40 1-40 1-39 1-37 1-36 1-35 1-35"/>
<path d="M0 189l1 1 1 2 1 3 1 6 1 7 1 9 1 13 1 17 1 19 1 18 1 13 1 4 1-6 1-18 1-28 1-36 1-41 1-43 1-41 1-35 1-28 1-17 1-9 1-2 1 2 1 4 1 4 1 5"/>
<path d="M0 64l1 1 1 0 1 1 1 1 1-1 1-2 1-6 1-11 1-19 1-27 1-33 1-36 1-36 1-33 1-27 1-19 1-10 1 1 1 10 1 18 1 25 1 29 1 30 1 30 1 28 1 29 1 27 1 28"/>
<path d="M0 347l1 0 1 1 1 3 1 2 1 1 1-1 1-8 1-18 1-31 1-46 1-57 1-63 1-65 1-61 1-51 1-36 1-20 1-1 1 17 1 35 1 47 1 58 1 63 1 66 1 68 1 69 1 69 1 69"/>
<path d="M0 6l1-1 1 0 1 0 1 0 1-1 1 0 1 0 1 0 1 0 1 1 1 1 1 2 1 1 1 2 1 2 1 2 1 1 1 1 1 0 1 0 1-1 1-1 1 0 1 0 1 0 1 0 1 1 1 1"/>
<path d="M0 79l1 0 1 2 1 1 1 2 1 1 1 1 1-2 1-6 1-10 1-17 1-21 1-24 1-26 1-26 1-22 1-18 1-11 1-4 1 4 1 11 1 17 1 20 1 22 1 22 1 23 1 23 1 24 1 23"/>
<path d="M0 -99l1 0 1-2 1-1 1-3 1-3 1-3 1-3 1-1 1 1 1 6 1 10 1 17 1 20 1 23 1 24 1 23 1 20 1 14 1 9 1 2 1-4 1-9 1-12 1-15 1-15 1-15 1-16 1-15"/>
<path d="M0 152l1 0 1 2 1 3 1 5 1 6 1 9 1 12 1 17 1 21 1 22 1 20 1 13 1 4 1-7 1-18 1-28 1-34 1-39 1-41 1-38 1-33 1-25 1-18 1-11 1-7 1-5 1-4 1-3"/>
<path d="M0 114l1 0 1 2 1 1 1 3 1 1 1 1 1-2 1-8 1-15 1-21 1-27 1-29 1-27 1-24 1-17 1-11 1-3 1 5 1 13 1 19 1 24 1 27 1 29 1 30 1 30 1 30 1 30 1 30"/>
<path d="M0 181l1 0 1 2 1 2 1 5 1 7 1 10 1 15 1 19 1 23 1 21 1 15 1 5 1-6 1-19 1-29 1-38 1-43 1-45 1-43 1-37 1-29 1-20 1-11 1-6 1-3 1-2 1-3 1-4"/>
<path d="M0 209l1 1 1 3 1 5 1 6 1 8 1 10 1 11 1 12 1 10 1 7 1-1 1-8 1-17 1-24 1-30 1-33 1-34 1-31 1-26 1-20 1-11 1-2 1 6 1 12 1 16 1 16 1 17 1 17"/>
<path d="M0 111l1 1 1 1 1 3 1 4 1 6 1 10 1 15 1 22 1 30 1 35 1 33 1 26 1 15 1 2 1-14 1-27 1-39 1-47 1-51 1-52 1-48 1-41 1-33 1-27 1-22 1-20 1-19 1-19"/>
<path d="M0 240l1 1 1 3 1 4 1 6 1 7 1 8 1 9 1 8 1 2 1-5 1-15 1-24 1-32 1-37 1-38 1-37 1-32 1-25 1-17 1-5 1 4 1 14 1 21 1 26 1 27 1 28 1 27 1 27"/>
<path d="M0 -49l1 0 1 0 1 0 1 1 1 3 1 6 1 12 1 20 1 29 1 36 1 39 1 36 1 30 1 22 1 11 1-1 1-12 1-24 1-32 1-37 1-40 1-41 1-39 1-38 1-37 1-38 1-39 1-39"/>
<path d="M0 -22l1 1 1 0 1 0 1 0 1 2 1 3 1 6 1 11 1 17 1 23 1 27 1 30 1 28 1 24 1 18 1 10 1 1 1-8 1-16 1-22 1-26 1-27 1-25 1-24 1-21 1-21 1-20 1-19"/>
<path d="M0 -269l1-1 1-2 1-4 1-6 1-7 1-8 1-9 1-6 1-2 1 6 1 16 1 27 1 35 1 42 1 46 1 45 1 43 1 35 1 27 1 15 1 4 1-7 1-16 1-21 1-25 1-25 1-26 1-26"/>
<path d="M0 40l1 0 1 1 1 0 1 2 1 1 1 2 1 1 1 3 1 2 1 3 1 0 1-1 1-5 1-8 1-10 1-13 1-13 1-12 1-12 1-9 1-7 1-3 1-2 1 1 1 1 1 3 1 3 1 3"/>
<path d="M0 -201l1-1 1-3 1-4 1-6 1-8 1-11 1-14 1-19 1-21 1-21 1-16 1-7 1 5 1 18 1 29 1 39 1 45 1 49 1 48 1 44 1 36 1 26 1 17 1 8 1 4 1 2 1 0 1 0"/>
<path d="M0 -398l1-1 1-3 1-5 1-7 1-9 1-11 1-13 1-11 1-7 1 4 1 17 1 32 1 44 1 52 1 58 1 59 1 53 1 45 1 33 1 17 1 2 1-13 1-24 1-31 1-35 1-34 1-34 1-33"/>
<path d="M0 -22l1 0 1 0 1-1 1 0 1-1 1-2 1-2 1-2 1-2 1-3 1-2 1-2 1-3 1-3 1-2 1-2 1-2 1-1 1 0 1 0 1 1 1 1 1 0 1 0 1-1 1-1 1-1 1 0"/>
<path d="M0 2l1 0 1 0 1 0 1 1 1 1 1 4 1 6 1 11 1 17 1 21 1 23 1 21 1 16 1 10 1 1 1-6 1-14 1-21 1-25 1-28 1-27 1-27 1-24 1-21 1-19 1-19 1-18 1-18"/>
<path d="M0 -47l1-1 1-1 1 0 1-1 1 0 1 1 1 5 1 9 1 17 1 22 1 26 1 27 1 23 1 18 1 11 1 2 1-6 1-13 1-21 1-25 1-27 1-28 1-28 1-26 1-25 1-25 1-24 1-23"/>
<path d="M0 -342l1-2 1-3 1-5 1-7 1-10 1-12 1-16 1-15 1-13 1-4 1 10 1 26 1 40 1 51 1 60 1 62 1 61 1 54 1 43 1 30 1 14 1-1 1-11 1-19 1-22 1-22 1-21 1-20"/>
<path d="M0 -87l1-1 1-2 1-2 1-3 1-4 1-5 1-7 1-8 1-8 1-6 1-3 1 2 1 6 1 11 1 14 1 16 1 18 1 18 1 16 1 13 1 10 1 5 1 2 1-1 1-2 1-3 1-2 1-3"/>
<path d="M0 -45l1 0 1 0 1 0 1 0 1-1 1 1 1 1 1 4 1 8 1 11 1 15 1 15 1 16 1 13 1 11 1 6 1 2 1-2 1-7 1-10 1-13 1-14 1-15 1-14 1-13 1-13 1-13 1-12"/>
<path d="M0 325l1 1 1 3 1 5 1 7 1 9 1 11 1 13 1 13 1 8 1-2 1-15 1-29 1-41 1-49 1-54 1-55 1-50 1-41 1-30 1-15 1 0 1 13 1 23 1 29 1 32 1 31 1 30 1 30"/>
<path d="M0 211l1 1 1 1 1 2 1 2 1 0 1-3 1-11 1-22 1-38 1-53 1-65 1-70 1-68 1-59 1-44 1-27 1-7 1 14 1 33 1 48 1 59 1 66 1 67 1 66 1 64 1 64 1 63 1 62"/>
<path d="M0 -232l1-2 1-2 1-5 1-7 1-9 1-12 1-15 1-20 1-23 1-20 1-13 1-2 1 12 1 24 1 37 1 46 1 51 1 53 1 49 1 42 1 31 1 20 1 10 1 1 1-3 1-4 1-5 1-5"/>
<path d="M0 146l1 1 1 1 1 3 1 5 1 6 1 10 1 15 1 21 1 24 1 24 1 19 1 10 1-2 1-12 1-24 1-32 1-39 1-42 1-42 1-39 1-33 1-26 1-19 1-14 1-13 1-12 1-12 1-13"/>
<path d="M0 136l1 0 1 2 1 2 1 3 1 3 1 3 1 1 1-1 1-3 1-9 1-13 1-18 1-22 1-25 1-26 1-24 1-22 1-16 1-10 1-4 1 4 1 10 1 15 1 18 1 21 1 22 1 23 1 23"/>
<path d="M0 -9l1 0 1 1 1 1 1 1 1 5 1 8 1 14 1 25 1 36 1 45 1 47 1 43 1 33 1 19 1 3 1-14 1-29 1-43 1-50 1-55 1-55 1-50 1-44 1-40 1-38 1-36 1-37 1-36"/>
<path d="M0 -10l1 0 1 0 1 0 1 0 1 0 1 0 1 2 1 3 1 7 1 9 1 9 1 9 1 6 1 3 1-1 1-6 1-8 1-12 1-13 1-15 1-14 1-13 1-11 1-11 1-9 1-9 1-8 1-8"/>
<path d="M0 -81l1-1 1-1 1-1 1-2 1-2 1-2 1 0 1 2 1 5 1 9 1 12 1 15 1 17 1 17 1 16 1 13 1 11 1 6 1 2 1-3 1-7 1-10 1-13 1-14 1-16 1-15 1-16 1-17"/>
<path d="M0 -118l1 0 1-1 1-2 1-1 1-2 1 0 1 4 1 9 1 17 1 24 1 30 1 33 1 32 1 27 1 22 1 13 1 5 1-5 1-14 1-21 1-27 1-31 1-31 1-33 1-32 1-33 1-32 1-32"/>
<path d="M0 -223l1-1 1-3 1-4 1-6 1-9 1-13 1-20 1-27 1-32 1-34 1-27 1-15 1 2 1 20 1 37 1 51 1 60 1 65 1 64 1 57 1 47 1 33 1 22 1 13 1 8 1 7 1 7 1 7"/>
<path d="M0 225l1 1 1 3 1 4 1 5 1 7 1 7 1 7 1 5 1-2 1-10 1-19 1-29 1-34 1-38 1-37 1-35 1-29 1-22 1-12 1-2 1 8 1 16 1 23 1 26 1 28 1 28 1 27 1 27"/>
<path d="M0 214l1 0 1 2 1 3 1 5 1 6 1 6 1 7 1 4 1 0 1-7 1-16 1-23 1-29 1-34 1-34 1-33 1-29 1-23 1-14 1-6 1 3 1 11 1 17 1 22 1 24 1 24 1 25 1 24"/>
<path d="M0 -262l1-1 1-3 1-5 1-7 1-10 1-13 1-17 1-23 1-25 1-24 1-16 1-4 1 10 1 26 1 40 1 50 1 57 1 59 1 56 1 49 1 39 1 26 1 14 1 6 1 1 1-2 1-2 1-2"/>
<path d="M0 294l1 1 1 3 1 4 1 7 1 7 1 8 1 6 1 3 1-3 1-13 1-25 1-36 1-47 1-54 1-57 1-54 1-48 1-38 1-24 1-9 1 6 1 19 1 30 1 36 1 39 1 41 1 41 1 41"/>
<path d="M0 246l1 1 1 2 1 3 1 4 1 4 1 3 1 0 1-6 1-16 1-25 1-36 1-43 1-47 1-48 1-46 1-38 1-29 1-18 1-5 1 8 1 20 1 29 1 35 1 40 1 42 1 44 1 43 1 44"/>
<path d="M0 184l1 1 1 2 1 4 1 4 1 5 1 6 1 6 1 5 1 2 1-3 1-8 1-14 1-19 1-23 1-27 1-27 1-25 1-23 1-17 1-11 1-4 1 3 1 10 1 14 1 18 1 19 1 20 1 20"/>
<path d="M0 238l1 1 1 2 1 4 1 5 1 6 1 6 1 4 1 1 1-5 1-14 1-24 1-32 1-40 1-43 1-43 1-40 1-33 1-24 1-12 1-1 1 11 1 21 1 28 1 33 1 35 1 35 1 36 1 36"/>
<path d="M0 -38l1 0 1-1 1-1 1-1 1-1 1 0 1 1 1 2 1 2 1 4 1 4 1 4 1 5 1 4 1 5 1 4 1 4 1 3 1 1 1 1 1-2 1-3 1-5 1-6 1-8 1-10 1-10 1-11"/>
<path d="M0 -3l1 0 1-1 1 0 1-1 1-1 1-4 1-6 1-10 1-16 1-21 1-23 1-23 1-20 1-16 1-9 1-2 1 6 1 12 1 17 1 22 1 24 1 23 1 22 1 20 1 18 1 17 1 16 1 16"/>
<path d="M0 -260l1-1 1-3 1-5 1-7 1-9 1-11 1-15 1-15 1-14 1-7 1 1 1 13 1 23 1 31 1 38 1 42 1 41 1 37 1 31 1 22 1 11 1 1 1-9 1-14 1-18 1-17 1-17 1-17"/>
<path d="M0 107l1 0 1 0 1 1 1 1 1 0 1-3 1-7 1-15 1-24 1-34 1-41 1-45 1-46 1-40 1-32 1-22 1-8 1 6 1 19 1 29 1 37 1 41 1 41 1 41 1 41 1 40 1 39 1 40"/>
<path d="M0 164l1 0 1 1 1 3 1 4 1 7 1 9 1 14 1 17 1 20 1 19 1 14 1 6 1-4 1-12 1-21 1-27 1-33 1-35 1-34 1-31 1-25 1-18 1-12 1-6 1-5 1-4 1-5 1-5"/>
<path d="M0 124l1 0 1 1 1 2 1 1 1 2 1-1 1-4 1-10 1-18 1-26 1-31 1-32 1-32 1-26 1-21 1-12 1-3 1 6 1 15 1 22 1 28 1 31 1 33 1 34 1 35 1 35 1 36 1 36"/>
<path d="M0 -151l1-1 1-1 1-2 1-2 1 0 1 3 1 10 1 20 1 33 1 46 1 56 1 61 1 60 1 55 1 43 1 28 1 10 1-8 1-25 1-39 1-50 1-56 1-58 1-57 1-57 1-56 1-57 1-56"/>
<path d="M0 -51l1 0 1-1 1-1 1-1 1-3 1-4 1-5 1-8 1-12 1-12 1-12 1-8 1-4 1 3 1 10 1 14 1 19 1 22 1 23 1 23 1 19 1 17 1 12 1 10 1 7 1 7 1 5 1 6"/>
<path d="M0 282l1 1 1 3 1 4 1 5 1 7 1 6 1 4 1-1 1-10 1-22 1-33 1-43 1-49 1-50 1-47 1-41 1-32 1-19 1-6 1 7 1 20 1 30 1 37 1 41 1 43 1 43 1 43 1 43"/>
<path d="M0 65l1 0 1 1 1 2 1 2 1 4 1 6 1 9 1 14 1 16 1 18 1 16 1 12 1 6 1 0 1-7 1-13 1-19 1-22 1-24 1-24 1-22 1-19 1-15 1-13 1-12 1-11 1-12 1-12"/>
<path d="M0 168l1 2 1 2 1 4 1 6 1 9 1 14 1 20 1 28 1 35 1 36 1 31 1 21 1 5 1-10 1-25 1-39 1-51 1-56 1-59 1-57 1-51 1-41 1-33 1-26 1-24 1-22 1-22 1-24"/>
<path d="M0 -31l1 0 1-1 1 0 1 0 1 2 1 4 1 8 1 15 1 23 1 28 1 33 1 32 1 29 1 22 1 14 1 4 1-6 1-16 1-24 1-29 1-33 1-32 1-31 1-30 1-28 1-28 1-28 1-29"/>
<path d="M0 259l1 1 1 2 1 5 1 5 1 7 1 7 1 7 1 4 1-3 1-11 1-22 1-31 1-39 1-42 1-42 1-40 1-33 1-23 1-13 1 0 1 10 1 21 1 29 1 33 1 35 1 37 1 36 1 35"/>
<path d="M0 -355l1-1 1-2 1-5 1-6 1-8 1-8 1-8 1-5 1 4 1 14 1 27 1 39 1 50 1 56 1 58 1 55 1 49 1 39 1 25 1 10 1-4 1-18 1-29 1-35 1-38 1-40 1-39 1-40"/>
<path d="M0 -233l1-1 1-2 1-4 1-3 1-4 1-1 1 3 1 12 1 22 1 33 1 43 1 49 1 50 1 49 1 43 1 33 1 22 1 7 1-6 1-20 1-30 1-40 1-44 1-48 1-50 1-51 1-52 1-52"/>
<path d="M0 -344l1-1 1-4 1-5 1-8 1-10 1-12 1-15 1-15 1-14 1-8 1 4 1 17 1 31 1 44 1 53 1 60 1 60 1 56 1 47 1 35 1 20 1 5 1-9 1-17 1-23 1-26 1-26 1-25"/>
<path d="M0 -201l1 0 1-2 1-4 1-6 1-8 1-13 1-18 1-26 1-33 1-36 1-31 1-21 1-6 1 12 1 29 1 44 1 56 1 62 1 64 1 60 1 52 1 41 1 30 1 21 1 15 1 13 1 12 1 12"/>
<path d="M0 187l1 0 1 2 1 3 1 3 1 4 1 3 1 1 1-5 1-14 1-25 1-34 1-42 1-45 1-46 1-41 1-34 1-26 1-13 1-2 1 9 1 20 1 27 1 32 1 34 1 34 1 33 1 33 1 33"/>
<path d="M0 158l1 0 1 2 1 2 1 3 1 3 1 2 1 0 1-4 1-10 1-18 1-26 1-34 1-39 1-42 1-41 1-37 1-31 1-22 1-12 1-1 1 9 1 17 1 24 1 26 1 29 1 28 1 29 1 29"/>
<path d="M0 5l1 0 1 0 1-1 1-2 1-4 1-8 1-14 1-26 1-37 1-47 1-51 1-50 1-40 1-28 1-13 1 5 1 20 1 36 1 47 1 54 1 58 1 56 1 52 1 47 1 45 1 43 1 42 1 42"/>
<path d="M0 -252l1-1 1-3 1-5 1-7 1-9 1-12 1-17 1-19 1-21 1-18 1-9 1 3 1 17 1 31 1 42 1 51 1 55 1 55 1 51 1 41 1 30 1 18 1 7 1-1 1-6 1-7 1-7 1-7"/>
<path d="M0 195l1 2 1 2 1 3 1 4 1 4 1 2 1-1 1-6 1-13 1-21 1-29 1-35 1-39 1-41 1-40 1-36 1-28 1-20 1-10 1 1 1 12 1 20 1 28 1 33 1 36 1 38 1 39 1 40"/>
<path d="M0 103l1 0 1 1 1 2 1 2 1 3 1 3 1 2 1 1 1-3 1-6 1-9 1-12 1-12 1-11 1-11 1-9 1-5 1-3 1 1 1 4 1 8 1 10 1 13 1 15 1 16 1 16 1 17 1 16"/>
<path d="M0 -92l1 0 1-1 1-2 1-3 1-4 1-7 1-10 1-14 1-16 1-15 1-12 1-6 1 2 1 10 1 17 1 22 1 26 1 29 1 28 1 25 1 21 1 16 1 12 1 9 1 8 1 8 1 8 1 9"/>
<path d="M0 -126l1-1 1-2 1-3 1-5 1-8 1-12 1-18 1-27 1-36 1-41 1-40 1-34 1-21 1-5 1 12 1 28 1 42 1 52 1 57 1 58 1 54 1 46 1 37 1 29 1 24 1 22 1 21 1 22"/>
<path d="M0 -32l1-1 1-2 1-1 1-3 1-3 1-5 1-7 1-11 1-16 1-19 1-22 1-20 1-15 1-9 1-1 1 6 1 15 1 20 1 25 1 27 1 27 1 24 1 21 1 17 1 14 1 12 1 10 1 11"/>
<path d="M0 -233l1-1 1-3 1-5 1-6 1-9 1-12 1-16 1-19 1-21 1-17 1-9 1 4 1 18 1 31 1 42 1 51 1 55 1 55 1 51 1 42 1 32 1 20 1 10 1 3 1-1 1-2 1-3 1-2"/>
<path d="M0 -324l1-1 1-2 1-3 1-4 1-4 1-3 1 2 1 9 1 20 1 34 1 48 1 60 1 68 1 70 1 66 1 59 1 45 1 30 1 11 1-7 1-24 1-38 1-47 1-52 1-54 1-55 1-54 1-55"/>
<path d="M0 -263l1-2 1-2 1-5 1-7 1-10 1-14 1-20 1-26 1-30 1-29 1-21 1-7 1 9 1 26 1 41 1 53 1 61 1 63 1 62 1 54 1 43 1 29 1 19 1 9 1 6 1 4 1 4 1 4"/>
<path d="M0 -298l1-1 1-3 1-5 1-7 1-10 1-13 1-17 1-20 1-22 1-18 1-7 1 8 1 23 1 39 1 51 1 60 1 65 1 63 1 57 1 47 1 34 1 20 1 7 1-1 1-5 1-7 1-8 1-7"/>
<path d="M0 23l1 0 1 0 1 0 1 1 1 1 1 3 1 4 1 4 1 5 1 5 1 4 1 3 1 2 1 2 1 1 1 0 1-1 1-1 1-3 1-3 1-2 1-3 1-3 1-2 1-2 1-3 1-4 1-4"/>
<path d="M0 -45l1-1 1-1 1-2 1-2 1-2 1-3 1-3 1-5 1-4 1-5 1-1 1 2 1 6 1 12 1 15 1 18 1 19 1 18 1 17 1 12 1 9 1 5 1 1 1-2 1-2 1-3 1-4 1-3"/>
<path d="M0 -16l1 0 1 1 1 0 1 0 1 1 1 1 1 3 1 5 1 9 1 14 1 17 1 20 1 20 1 19 1 14 1 10 1 5 1-2 1-7 1-12 1-15 1-17 1-15 1-14 1-12 1-11 1-10 1-9"/>
<path d="M0 83l1 0 1 2 1 1 1 1 1 0 1-3 1-8 1-16 1-27 1-35 1-41 1-42 1-39 1-31 1-21 1-9 1 4 1 15 1 26 1 34 1 40 1 42 1 41 1 41 1 40 1 40 1 39 1 40"/>
<path d="M0 110l1 1 1 1 1 3 1 3 1 5 1 8 1 9 1 14 1 16 1 18 1 15 1 12 1 6 1-2 1-10 1-17 1-22 1-26 1-28 1-27 1-23 1-18 1-12 1-7 1-4 1-3 1-1 1-2"/>
<path d="M0 135l1 0 1 2 1 3 1 5 1 7 1 10 1 15 1 22 1 26 1 28 1 24 1 15 1 3 1-11 1-23 1-35 1-43 1-47 1-48 1-44 1-37 1-28 1-21 1-14 1-12 1-10 1-11 1-11"/>
<path d="M0 189l1 1 1 2 1 4 1 6 1 8 1 10 1 14 1 17 1 20 1 17 1 10 1 1 1-12 1-24 1-35 1-42 1-47 1-48 1-45 1-39 1-30 1-20 1-11 1-5 1-1 1 0 1 1 1 1"/>
<path d="M0 -40l1 0 1-1 1-1 1-3 1-5 1-7 1-14 1-21 1-29 1-36 1-36 1-31 1-23 1-12 1 2 1 14 1 26 1 36 1 42 1 46 1 45 1 41 1 37 1 32 1 30 1 29 1 28 1 29"/>
<path d="M0 226l1 1 1 2 1 4 1 6 1 6 1 8 1 7 1 6 1 1 1-6 1-17 1-26 1-36 1-42 1-46 1-45 1-41 1-34 1-25 1-13 1-2 1 8 1 16 1 21 1 24 1 24 1 24 1 24"/>
<path d="M0 12l1 1 1 0 1 1 1 1 1 4 1 5 1 11 1 17 1 23 1 29 1 31 1 29 1 26 1 19 1 11 1 1 1-7 1-16 1-23 1-29 1-31 1-31 1-29 1-27 1-26 1-25 1-25 1-25"/>
<path d="M0 284l1 1 1 3 1 5 1 7 1 9 1 11 1 12 1 14 1 10 1 3 1-8 1-23 1-36 1-47 1-54 1-58 1-55 1-50 1-39 1-27 1-12 1 1 1 12 1 18 1 21 1 22 1 21 1 21"/>
<path d="M0 -147l1-1 1-1 1-2 1-4 1-4 1-5 1-6 1-5 1-3 1 2 1 9 1 17 1 24 1 29 1 33 1 33 1 31 1 26 1 21 1 12 1 5 1-2 1-8 1-11 1-12 1-12 1-13 1-11"/>
<path d="M0 -35l1-1 1-1 1-1 1-2 1-3 1-3 1-5 1-5 1-6 1-6 1-6 1-6 1-4 1-4 1-2 1 0 1 1 1 2 1 4 1 5 1 5 1 4 1 3 1 2 1 1 1 1 1 1 1 1"/>
<path d="M0 -68l1-1 1 0 1-1 1-1 1 0 1 2 1 5 1 10 1 18 1 25 1 30 1 31 1 31 1 26 1 19 1 12 1 1 1-7 1-16 1-23 1-27 1-30 1-29 1-29 1-28 1-27 1-27 1-27"/>
<path d="M0 298l1 1 1 4 1 5 1 7 1 10 1 12 1 14 1 16 1 14 1 8 1-1 1-12 1-24 1-35 1-42 1-47 1-48 1-46 1-38 1-29 1-18 1-6 1 6 1 13 1 17 1 19 1 19 1 19"/>
<path d="M0 -46l1-1 1-1 1-1 1-2 1-3 1-3 1-3 1-3 1-5 1-3 1-3 1 0 1 2 1 4 1 7 1 9 1 11 1 10 1 10 1 8 1 6 1 4 1 1 1-1 1-3 1-4 1-4 1-4"/>
<path d="M0 209l1 1 1 3 1 4 1 6 1 9 1 13 1 18 1 25 1 29 1 31 1 25 1 16 1 3 1-12 1-26 1-39 1-48 1-53 1-54 1-50 1-42 1-31 1-21 1-12 1-8 1-6 1-5 1-5"/>
<path d="M0 -226l1-1 1-1 1-3 1-4 1-3 1-4 1 0 1 6 1 14 1 26 1 38 1 49 1 54 1 55 1 53 1 45 1 33 1 20 1 6 1-10 1-22 1-33 1-38 1-41 1-42 1-42 1-41 1-40"/>
<path d="M0 65l1 0 1 1 1 1 1 3 1 3 1 6 1 7 1 11 1 11 1 12 1 9 1 6 1 1 1-4 1-8 1-12 1-15 1-16 1-16 1-15 1-13 1-10 1-6 1-5 1-3 1-4 1-4 1-5"/>
<path d="M0 84l1 0 1 1 1 2 1 1 1 2 1 0 1-2 1-6 1-12 1-17 1-21 1-23 1-21 1-19 1-13 1-8 1 0 1 5 1 12 1 17 1 20 1 22 1 24 1 23 1 24 1 25 1 24 1 25"/>
<path d="M0 -191l1 0 1-2 1-2 1-3 1-3 1-1 1 2 1 10 1 20 1 32 1 41 1 48 1 48 1 43 1 35 1 24 1 11 1-4 1-17 1-29 1-37 1-43 1-45 1-46 1-45 1-44 1-43 1-43"/>
<path d="M0 244l1 0 1 2 1 3 1 4 1 5 1 3 1 1 1-4 1-13 1-24 1-34 1-44 1-51 1-54 1-51 1-45 1-35 1-22 1-7 1 8 1 21 1 32 1 39 1 43 1 44 1 46 1 45 1 45"/>
<path d="M0 -349l1-2 1-3 1-5 1-7 1-10 1-13 1-17 1-22 1-22 1-19 1-7 1 9 1 26 1 44 1 59 1 69 1 73 1 72 1 65 1 53 1 38 1 21 1 6 1-4 1-9 1-11 1-12 1-11"/>
<path d="M0 292l1 1 1 2 1 3 1 4 1 4 1 2 1-2 1-11 1-23 1-38 1-50 1-59 1-63 1-62 1-55 1-43 1-29 1-12 1 5 1 22 1 36 1 47 1 52 1 56 1 57 1 58 1 57 1 57"/>
<path d="M0 276l1 1 1 3 1 4 1 7 1 9 1 11 1 14 1 17 1 18 1 15 1 6 1-7 1-20 1-35 1-46 1-54 1-57 1-55 1-48 1-37 1-24 1-9 1 3 1 12 1 18 1 19 1 21 1 19"/>
<path d="M0 -52l1 0 1 0 1 0 1 0 1 1 1 4 1 7 1 12 1 20 1 27 1 30 1 32 1 29 1 24 1 16 1 7 1-3 1-13 1-20 1-27 1-30 1-31 1-30 1-28 1-28 1-27 1-26 1-27"/>
<path d="M0 123l1 0 1 2 1 2 1 4 1 6 1 9 1 14 1 18 1 22 1 22 1 21 1 14 1 8 1 0 1-9 1-17 1-23 1-28 1-30 1-30 1-27 1-23 1-18 1-13 1-12 1-11 1-10 1-12"/>
<path d="M0 135l1 1 1 1 1 2 1 3 1 3 1 2 1 2 1-3 1-9 1-16 1-23 1-29 1-30 1-30 1-26 1-22 1-15 1-7 1 1 1 8 1 16 1 20 1 23 1 24 1 24 1 24 1 23 1 24"/>
<path d="M0 259l1 0 1 3 1 4 1 6 1 10 1 13 1 18 1 24 1 25 1 21 1 10 1-5 1-20 1-36 1-48 1-57 1-59 1-59 1-52 1-41 1-28 1-15 1-4 1 3 1 5 1 5 1 3 1 3"/>
<path d="M0 274l1 1 1 3 1 5 1 6 1 10 1 12 1 16 1 20 1 22 1 19 1 10 1-3 1-19 1-34 1-49 1-57 1-63 1-63 1-58 1-48 1-36 1-21 1-8 1 0 1 6 1 8 1 9 1 8"/>
<path d="M0 -184l1-1 1-2 1-3 1-5 1-5 1-5 1-6 1-4 1-1 1 5 1 13 1 22 1 30 1 38 1 41 1 43 1 39 1 34 1 25 1 15 1 4 1-5 1-14 1-18 1-21 1-23 1-22 1-23"/>
<path d="M0 -65l1-1 1 0 1-1 1 0 1 2 1 4 1 10 1 19 1 29 1 40 1 46 1 48 1 43 1 35 1 22 1 8 1-7 1-21 1-33 1-42 1-47 1-47 1-46 1-44 1-41 1-39 1-39 1-40"/>
<path d="M0 -212l1-1 1-3 1-3 1-6 1-6 1-8 1-9 1-8 1-5 1 1 1 8 1 16 1 23 1 30 1 32 1 34 1 32 1 28 1 21 1 14 1 4 1-4 1-11 1-17 1-19 1-20 1-21 1-20"/>
<path d="M0 -80l1 0 1 0 1-1 1-1 1 0 1 0 1 3 1 6 1 12 1 16 1 19 1 19 1 18 1 16 1 11 1 7 1 0 1-5 1-10 1-14 1-18 1-19 1-21 1-21 1-22 1-23 1-23 1-23"/>
<path d="M0 119l1 1 1 1 1 2 1 2 1 3 1 2 1 0 1-3 1-8 1-12 1-18 1-21 1-26 1-27 1-26 1-24 1-20 1-14 1-6 1 0 1 7 1 13 1 17 1 19 1 22 1 22 1 23 1 23"/>
<path d="M0 -57l1 0 1-1 1-1 1-2 1-2 1-3 1-4 1-4 1-3 1-2 1-1 1 2 1 5 1 6 1 8 1 8 1 9 1 8 1 7 1 5 1 3 1 0 1-1 1-4 1-4 1-5 1-4 1-5"/>
<path d="M0 -249l1-1 1-2 1-4 1-4 1-5 1-4 1-2 1 5 1 15 1 27 1 40 1 50 1 57 1 59 1 54 1 47 1 34 1 21 1 4 1-11 1-25 1-35 1-42 1-44 1-45 1-44 1-44 1-44"/>
<path d="M0 255l1 1 1 2 1 4 1 5 1 5 1 4 1 0 1-4 1-13 1-25 1-35 1-46 1-54 1-57 1-56 1-51 1-42 1-28 1-14 1 1 1 16 1 28 1 37 1 42 1 44 1 46 1 46 1 46"/>
<path d="M0 103l1 0 1 1 1 2 1 2 1 2 1 1 1-1 1-4 1-7 1-11 1-16 1-20 1-24 1-25 1-26 1-24 1-20 1-15 1-8 1-2 1 4 1 11 1 14 1 18 1 19 1 20 1 21 1 22"/>
<path d="M0 -18l1-1 1 0 1 0 1 0 1 0 1 2 1 5 1 8 1 12 1 16 1 18 1 20 1 20 1 17 1 13 1 8 1 3 1-4 1-9 1-13 1-16 1-17 1-17 1-16 1-16 1-15 1-16 1-15"/>
<path d="M0 -152l1-1 1-1 1-2 1-2 1-3 1-1 1 2 1 8 1 16 1 25 1 35 1 42 1 45 1 45 1 42 1 34 1 24 1 13 1 0 1-12 1-22 1-29 1-34 1-35 1-35 1-35 1-35 1-35"/>
<path d="M0 -161l1 0 1-1 1-2 1-2 1-2 1 0 1 3 1 12 1 23 1 33 1 42 1 47 1 46 1 39 1 30 1 18 1 5 1-10 1-22 1-33 1-40 1-44 1-46 1-44 1-44 1-43 1-42 1-42"/>
<path d="M0 207l1 1 1 3 1 4 1 6 1 9 1 12 1 19 1 23 1 28 1 29 1 23 1 15 1 4 1-8 1-21 1-31 1-39 1-44 1-45 1-42 1-36 1-27 1-19 1-11 1-8 1-6 1-6 1-7"/>
<path d="M0 280l1 2 1 3 1 4 1 7 1 9 1 11 1 13 1 15 1 14 1 9 1 0 1-12 1-24 1-37 1-45 1-52 1-53 1-50 1-44 1-34 1-21 1-9 1 3 1 11 1 16 1 18 1 19 1 18"/>
<path d="M0 23l1 1 1 0 1 1 1 0 1 0 1 0 1-2 1-3 1-5 1-7 1-9 1-10 1-10 1-11 1-10 1-8 1-7 1-3 1 0 1 2 1 5 1 6 1 8 1 8 1 8 1 9 1 9 1 10"/>
<path d="M0 -170l1-2 1-2 1-4 1-5 1-8 1-11 1-14 1-20 1-21 1-22 1-18 1-9 1-1 1 11 1 20 1 28 1 35 1 38 1 39 1 36 1 31 1 23 1 16 1 9 1 6 1 5 1 4 1 4"/>
<path d="M0 -97l1 0 1-2 1-2 1-4 1-6 1-10 1-15 1-21 1-27 1-28 1-26 1-18 1-8 1 3 1 15 1 24 1 33 1 39 1 41 1 39 1 36 1 30 1 24 1 19 1 19 1 17 1 19 1 19"/>
<path d="M0 148l1 0 1 2 1 2 1 3 1 5 1 5 1 7 1 6 1 6 1 3 1-2 1-6 1-11 1-16 1-18 1-21 1-20 1-20 1-17 1-14 1-8 1-3 1 2 1 5 1 8 1 10 1 9 1 10"/>
<path d="M0 188l1 1 1 2 1 3 1 5 1 6 1 8 1 9 1 9 1 7 1 1 1-8 1-18 1-26 1-34 1-37 1-39 1-37 1-32 1-25 1-16 1-6 1 3 1 9 1 12 1 15 1 14 1 13 1 13"/>
<path d="M0 369l1 1 1 2 1 3 1 4 1 3 1 1 1-3 1-13 1-28 1-43 1-58 1-69 1-74 1-72 1-64 1-52 1-35 1-15 1 5 1 24 1 40 1 53 1 60 1 64 1 65 1 64 1 64 1 64"/>
<path d="M0 46l1 0 1 0 1 1 1 2 1 5 1 7 1 12 1 19 1 25 1 29 1 28 1 25 1 19 1 11 1 2 1-7 1-16 1-23 1-29 1-31 1-33 1-30 1-27 1-26 1-24 1-24 1-24 1-25"/>
<path d="M0 -181l1-1 1-1 1-3 1-5 1-8 1-14 1-21 1-33 1-42 1-45 1-42 1-28 1-12 1 8 1 28 1 46 1 60 1 70 1 74 1 72 1 66 1 56 1 46 1 39 1 35 1 34 1 34 1 34"/>
<path d="M0 -337l1-1 1-3 1-5 1-7 1-10 1-14 1-20 1-26 1-30 1-27 1-18 1-3 1 14 1 32 1 48 1 61 1 68 1 70 1 67 1 58 1 45 1 31 1 18 1 8 1 4 1 2 1 3 1 3"/>
<path d="M0 -144l1-1 1-3 1-3 1-5 1-7 1-9 1-13 1-16 1-17 1-16 1-10 1-1 1 7 1 16 1 23 1 29 1 33 1 34 1 32 1 28 1 23 1 16 1 9 1 6 1 3 1 4 1 3 1 5"/>
<path d="M0 -179l1-1 1-2 1-3 1-3 1-2 1-1 1 4 1 10 1 21 1 32 1 40 1 45 1 47 1 44 1 38 1 27 1 16 1 3 1-11 1-22 1-31 1-38 1-42 1-43 1-43 1-44 1-44 1-44"/>
<path d="M0 258l1 2 1 3 1 5 1 6 1 9 1 11 1 14 1 17 1 17 1 14 1 7 1-4 1-17 1-29 1-41 1-48 1-51 1-52 1-47 1-38 1-28 1-15 1-4 1 5 1 10 1 13 1 14 1 14"/>
<path d="M0 -172l1 0 1-1 1-1 1 0 1 2 1 6 1 13 1 26 1 40 1 53 1 63 1 66 1 63 1 54 1 40 1 24 1 4 1-15 1-32 1-48 1-57 1-63 1-64 1-64 1-63 1-63 1-62 1-63"/>
<path d="M0 61l1 1 1 0 1 2 1 2 1 3 1 3 1 5 1 5 1 7 1 5 1 3 1 0 1-5 1-10 1-14 1-17 1-19 1-19 1-18 1-15 1-11 1-8 1-5 1-1 1-1 1 1 1 1 1 1"/>
<path d="M0 140l1 1 1 1 1 4 1 4 1 8 1 12 1 18 1 27 1 34 1 38 1 37 1 29 1 17 1 3 1-13 1-27 1-39 1-49 1-54 1-55 1-52 1-44 1-37 1-30 1-26 1-24 1-24 1-24"/>
<path d="M0 256l1 1 1 3 1 5 1 6 1 8 1 10 1 10 1 11 1 7 1 0 1-10 1-20 1-31 1-37 1-43 1-43 1-41 1-35 1-26 1-15 1-4 1 7 1 16 1 22 1 25 1 26 1 25 1 25"/>
<path d="M0 -154l1 0 1-2 1-2 1-2 1-3 1-1 1 3 1 8 1 19 1 29 1 39 1 46 1 50 1 48 1 42 1 35 1 23 1 11 1-2 1-15 1-25 1-32 1-36 1-38 1-36 1-36 1-36 1-35"/>
<path d="M0 -23l1 1 1 0 1 1 1 1 1 1 1 3 1 5 1 9 1 13 1 16 1 19 1 18 1 17 1 13 1 9 1 3 1-2 1-8 1-12 1-15 1-18 1-18 1-18 1-17 1-16 1-16 1-15 1-16"/>
<path d="M0 -71l1-1 1-1 1-2 1-4 1-4 1-8 1-11 1-16 1-24 1-28 1-29 1-26 1-20 1-9 1 2 1 12 1 23 1 31 1 36 1 39 1 38 1 34 1 29 1 23 1 19 1 17 1 15 1 15"/>
<path d="M0 -308l1-1 1-3 1-4 1-5 1-5 1-3 1 0 1 10 1 21 1 36 1 49 1 57 1 61 1 59 1 52 1 42 1 28 1 12 1-4 1-19 1-33 1-44 1-50 1-53 1-55 1-55 1-54 1-54"/>
<path d="M0 -225l1-1 1-3 1-5 1-6 1-8 1-11 1-13 1-15 1-17 1-12 1-5 1 7 1 19 1 32 1 43 1 49 1 53 1 51 1 47 1 37 1 27 1 14 1 4 1-4 1-8 1-10 1-10 1-11"/>
<path d="M0 2l1 0 1-1 1 0 1-1 1 0 1-1 1-3 1-2 1-3 1-2 1-1 1 1 1 2 1 3 1 3 1 4 1 3 1 4 1 3 1 2 1 2 1 2 1 1 1 3 1 3 1 4 1 4 1 5"/>
<path d="M0 15l1 0 1 1 1 0 1 1 1 0 1 0 1 0 1-3 1-4 1-6 1-9 1-10 1-9 1-9 1-7 1-5 1-3 1 1 1 3 1 5 1 7 1 8 1 7 1 8 1 6 1 7 1 6 1 5"/>
<path d="M0 -194l1-1 1-2 1-4 1-5 1-8 1-9 1-12 1-14 1-16 1-15 1-10 1-3 1 6 1 15 1 23 1 31 1 36 1 37 1 36 1 33 1 26 1 18 1 10 1 4 1-1 1-4 1-4 1-5"/>
<path d="M0 -98l1-1 1-3 1-3 1-5 1-6 1-9 1-13 1-17 1-20 1-20 1-17 1-11 1-5 1 3 1 9 1 17 1 22 1 25 1 27 1 25 1 23 1 19 1 14 1 11 1 9 1 8 1 10 1 9"/>
<path d="M0 94l1 1 1 1 1 1 1 1 1 1 1-1 1-6 1-13 1-23 1-32 1-39 1-42 1-39 1-32 1-23 1-11 1 2 1 15 1 25 1 34 1 39 1 41 1 40 1 39 1 37 1 35 1 35 1 35"/>
<path d="M0 9l1 0 1 0 1 0 1 1 1 3 1 6 1 11 1 18 1 28 1 35 1 40 1 39 1 33 1 23 1 10 1-3 1-17 1-28 1-37 1-43 1-44 1-42 1-38 1-33 1-30 1-28 1-27 1-27"/>
<path d="M0 -257l1-1 1-2 1-4 1-5 1-6 1-6 1-4 1-1 1 6 1 16 1 27 1 39 1 49 1 54 1 56 1 54 1 48 1 37 1 25 1 10 1-3 1-17 1-25 1-32 1-34 1-35 1-35 1-35"/>
<path d="M0 42l1 1 1 1 1 1 1 1 1 2 1 0 1-1 1-5 1-9 1-13 1-19 1-21 1-21 1-20 1-16 1-11 1-5 1 1 1 7 1 12 1 16 1 18 1 18 1 17 1 16 1 16 1 15 1 14"/>
<path d="M0 -163l1-1 1-2 1-3 1-4 1-6 1-8 1-9 1-11 1-10 1-6 1 0 1 9 1 17 1 24 1 30 1 32 1 33 1 30 1 26 1 19 1 11 1 3 1-3 1-7 1-9 1-9 1-9 1-8"/>
<path d="M0 -111l1-1 1-1 1-3 1-5 1-7 1-10 1-16 1-24 1-31 1-36 1-37 1-32 1-24 1-13 1 0 1 14 1 25 1 36 1 43 1 46 1 46 1 41 1 36 1 29 1 26 1 23 1 22 1 22"/>
<path d="M0 -50l1 0 1 0 1 1 1 0 1 3 1 5 1 11 1 19 1 30 1 40 1 46 1 48 1 44 1 36 1 26 1 12 1-3 1-16 1-28 1-39 1-44 1-46 1-45 1-42 1-40 1-39 1-38 1-38"/>
<path d="M0 -423l1-2 1-3 1-5 1-8 1-9 1-12 1-14 1-16 1-13 1-5 1 10 1 27 1 45 1 60 1 71 1 77 1 76 1 68 1 57 1 40 1 21 1 3 1-12 1-22 1-26 1-28 1-27 1-27"/>
<path d="M0 -301l1-1 1-3 1-4 1-5 1-5 1-5 1-1 1 7 1 19 1 33 1 47 1 60 1 66 1 66 1 61 1 51 1 36 1 19 1 0 1-18 1-33 1-45 1-51 1-55 1-56 1-55 1-54 1-54"/>
<path d="M0 -81l1-1 1 0 1-1 1 0 1 1 1 4 1 11 1 19 1 29 1 39 1 45 1 47 1 44 1 37 1 28 1 15 1 1 1-11 1-24 1-34 1-41 1-44 1-45 1-44 1-43 1-43 1-43 1-43"/>
<path d="M0 -43l1 0 1-1 1-1 1-1 1-3 1-3 1-5 1-8 1-11 1-13 1-15 1-14 1-12 1-8 1-2 1 3 1 8 1 12 1 16 1 17 1 17 1 15 1 12 1 8 1 6 1 4 1 4 1 3"/>
<path d="M0 -165l1-1 1-2 1-4 1-6 1-8 1-12 1-19 1-27 1-35 1-38 1-37 1-31 1-18 1-4 1 13 1 27 1 40 1 49 1 55 1 55 1 50 1 42 1 33 1 24 1 20 1 17 1 16 1 17"/>
<path d="M0 338l1 1 1 1 1 1 1 0 1-1 1-5 1-14 1-28 1-45 1-64 1-78 1-86 1-86 1-78 1-62 1-42 1-19 1 7 1 30 1 51 1 67 1 77 1 82 1 82 1 81 1 80 1 79 1 79"/>
<path d="M0 -241l1-1 1-3 1-4 1-7 1-9 1-13 1-19 1-24 1-27 1-25 1-18 1-6 1 8 1 22 1 35 1 46 1 52 1 56 1 54 1 49 1 40 1 29 1 19 1 13 1 8 1 7 1 7 1 7"/>
<path d="M0 -370l1-2 1-3 1-6 1-7 1-10 1-12 1-14 1-13 1-11 1-3 1 10 1 24 1 38 1 51 1 58 1 62 1 60 1 54 1 43 1 29 1 13 1-2 1-15 1-24 1-29 1-31 1-31 1-30"/>
<path d="M0 129l1 1 1 2 1 3 1 4 1 6 1 8 1 12 1 15 1 19 1 20 1 18 1 11 1 3 1-7 1-16 1-24 1-31 1-35 1-35 1-34 1-28 1-23 1-15 1-10 1-6 1-5 1-4 1-3"/>
<path d="M0 50l1 1 1 1 1 2 1 4 1 6 1 10 1 19 1 29 1 39 1 47 1 50 1 46 1 37 1 24 1 8 1-9 1-25 1-38 1-49 1-56 1-56 1-54 1-48 1-44 1-40 1-38 1-39 1-39"/>
<path d="M0 61l1 0 1 0 1 2 1 3 1 5 1 9 1 15 1 23 1 31 1 36 1 35 1 28 1 16 1 3 1-12 1-26 1-38 1-45 1-50 1-51 1-46 1-40 1-34 1-28 1-27 1-25 1-26 1-26"/>
<path d="M0 -72l1-1 1-1 1-3 1-3 1-5 1-7 1-11 1-15 1-19 1-21 1-21 1-18 1-13 1-7 1-1 1 6 1 12 1 18 1 22 1 23 1 23 1 22 1 18 1 15 1 13 1 13 1 13 1 12"/>
<path d="M0 -204l1-1 1-2 1-2 1-4 1-2 1-1 1 4 1 13 1 25 1 38 1 48 1 55 1 56 1 50 1 42 1 30 1 15 1 0 1-15 1-30 1-39 1-47 1-49 1-51 1-51 1-50 1-49 1-49"/>
<path d="M0 342l1 1 1 2 1 4 1 5 1 6 1 4 1 2 1-4 1-12 1-24 1-35 1-43 1-51 1-54 1-53 1-48 1-39 1-27 1-14 1 2 1 15 1 27 1 37 1 44 1 49 1 50 1 50 1 51"/>
<path d="M0 170l1 1 1 2 1 3 1 5 1 8 1 11 1 16 1 21 1 25 1 26 1 22 1 15 1 4 1-7 1-18 1-29 1-36 1-42 1-42 1-41 1-36 1-28 1-21 1-14 1-11 1-10 1-9 1-9"/>
<path d="M0 231l1 1 1 2 1 4 1 4 1 6 1 5 1 3 1-2 1-10 1-21 1-31 1-40 1-47 1-48 1-47 1-41 1-31 1-21 1-7 1 6 1 18 1 27 1 33 1 37 1 39 1 38 1 39 1 38"/>
<path d="M0 -170l1-1 1-2 1-3 1-4 1-4 1-4 1-3 1 1 1 6 1 15 1 23 1 31 1 36 1 37 1 38 1 33 1 27 1 19 1 9 1-1 1-11 1-17 1-23 1-25 1-26 1-27 1-26 1-26"/>
<path d="M0 -100l1 0 1-1 1-1 1 0 1 1 1 5 1 11 1 22 1 34 1 46 1 54 1 56 1 52 1 43 1 31 1 15 1 0 1-17 1-31 1-42 1-50 1-54 1-54 1-52 1-51 1-49 1-49 1-48"/>
<path d="M0 92l1 0 1 0 1 1 1-1 1-2 1-5 1-13 1-24 1-36 1-48 1-55 1-54 1-49 1-37 1-22 1-5 1 12 1 28 1 41 1 51 1 57 1 58 1 55 1 54 1 51 1 51 1 50 1 50"/>
<path d="M0 51l1 0 1 1 1 1 1 2 1 2 1 3 1 2 1 3 1 3 1 2 1 0 1 0 1-3 1-5 1-6 1-8 1-8 1-8 1-7 1-6 1-4 1-1 1 0 1 3 1 4 1 5 1 6 1 5"/>
<path d="M0 86l1 1 1 1 1 2 1 4 1 6 1 11 1 17 1 27 1 35 1 40 1 38 1 29 1 16 1 0 1-16 1-31 1-43 1-52 1-57 1-55 1-51 1-43 1-35 1-30 1-27 1-26 1-26 1-27"/>
<path d="M0 134l1 1 1 2 1 3 1 5 1 5 1 8 1 11 1 12 1 13 1 10 1 5 1-3 1-11 1-19 1-25 1-30 1-32 1-32 1-30 1-25 1-19 1-13 1-8 1-5 1-2 1-3 1-2 1-3"/>
<path d="M0 29l1 0 1 1 1-1 1-1 1-3 1-6 1-13 1-22 1-31 1-39 1-43 1-40 1-36 1-26 1-15 1-1 1 13 1 24 1 34 1 41 1 44 1 43 1 40 1 39 1 37 1 37 1 38 1 38"/>
<path d="M0 -246l1-1 1-3 1-5 1-6 1-10 1-13 1-17 1-23 1-24 1-21 1-12 1-1 1 12 1 24 1 36 1 44 1 48 1 50 1 46 1 39 1 30 1 19 1 9 1 2 1-1 1-2 1-2 1 0"/>
<path d="M0 -118l1 0 1-1 1-2 1-2 1-3 1-4 1-3 1 0 1 3 1 8 1 13 1 17 1 19 1 18 1 18 1 14 1 10 1 6 1 1 1-4 1-9 1-13 1-15 1-17 1-17 1-17 1-17 1-17"/>
<path d="M0 187l1 1 1 1 1 1 1 2 1 0 1-3 1-10 1-21 1-34 1-49 1-58 1-63 1-60 1-52 1-38 1-22 1-3 1 16 1 32 1 46 1 56 1 60 1 61 1 60 1 59 1 59 1 58 1 58"/>
<path d="M0 9l1 1 1 0 1 1 1 1 1 2 1 4 1 6 1 9 1 13 1 17 1 19 1 21 1 20 1 18 1 13 1 8 1 3 1-4 1-9 1-13 1-16 1-17 1-17 1-15 1-14 1-12 1-13 1-12"/>
<path d="M0 -309l1-2 1-3 1-5 1-7 1-10 1-13 1-17 1-20 1-22 1-16 1-8 1 6 1 20 1 34 1 45 1 54 1 58 1 57 1 52 1 44 1 31 1 19 1 7 1-1 1-6 1-8 1-7 1-8"/>
<path d="M0 72l1 0 1 1 1 2 1 3 1 5 1 9 1 14 1 22 1 30 1 36 1 37 1 32 1 25 1 14 1 1 1-11 1-24 1-33 1-40 1-44 1-45 1-41 1-37 1-32 1-28 1-27 1-27 1-26"/>
<path d="M0 -81l1 0 1-1 1-1 1-2 1-2 1-3 1-2 1-1 1 0 1 2 1 5 1 6 1 8 1 10 1 11 1 11 1 11 1 9 1 6 1 4 1 1 1-3 1-5 1-8 1-10 1-11 1-11 1-12"/>
<path d="M0 -270l1-1 1-2 1-3 1-4 1-4 1-1 1 3 1 13 1 25 1 38 1 51 1 57 1 61 1 57 1 49 1 36 1 22 1 4 1-13 1-28 1-41 1-49 1-55 1-57 1-59 1-58 1-58 1-59"/>
<path d="M0 -271l1-1 1-3 1-4 1-7 1-10 1-13 1-18 1-24 1-26 1-26 1-18 1-5 1 9 1 24 1 38 1 49 1 57 1 60 1 59 1 53 1 43 1 32 1 21 1 13 1 7 1 6 1 5 1 5"/>
<path d="M0 -234l1-1 1-3 1-4 1-6 1-6 1-7 1-5 1-2 1 5 1 13 1 24 1 31 1 36 1 39 1 38 1 33 1 28 1 18 1 9 1-2 1-12 1-20 1-26 1-31 1-33 1-33 1-33 1-33"/>
<path d="M0 103l1 1 1 1 1 2 1 3 1 4 1 6 1 8 1 11 1 13 1 15 1 13 1 10 1 5 1-1 1-9 1-14 1-20 1-22 1-24 1-24 1-20 1-16 1-10 1-6 1-2 1-1 1 0 1 0"/>
<path d="M0 -5l1-1 1-1 1-1 1-2 1-3 1-6 1-11 1-17 1-25 1-33 1-36 1-36 1-30 1-22 1-10 1 3 1 14 1 25 1 33 1 39 1 40 1 39 1 35 1 31 1 28 1 25 1 24 1 24"/>
<path d="M0 -41l1 0 1-2 1-1 1-2 1-2 1-3 1-3 1-3 1-1 1 0 1 3 1 4 1 5 1 5 1 4 1 4 1 3 1 2 1 1 1-1 1-2 1-4 1-4 1-5 1-5 1-5 1-5 1-4"/>
<path d="M0 310l1 1 1 3 1 5 1 7 1 10 1 13 1 17 1 21 1 21 1 17 1 6 1-7 1-22 1-37 1-50 1-57 1-62 1-60 1-55 1-44 1-31 1-17 1-5 1 3 1 9 1 10 1 10 1 10"/>
<path d="M0 345l1 2 1 4 1 5 1 8 1 11 1 12 1 15 1 15 1 13 1 3 1-10 1-28 1-44 1-57 1-67 1-70 1-67 1-60 1-46 1-30 1-11 1 5 1 18 1 26 1 29 1 31 1 30 1 29"/>
<path d="M0 -171l1-1 1-1 1-3 1-4 1-4 1-3 1-2 1 2 1 7 1 13 1 20 1 25 1 30 1 34 1 34 1 32 1 27 1 21 1 12 1 3 1-5 1-14 1-20 1-25 1-27 1-29 1-30 1-30"/>
<path d="M0 -6l1 0 1 0 1 0 1 2 1 4 1 8 1 15 1 26 1 37 1 46 1 50 1 47 1 38 1 27 1 11 1-5 1-22 1-35 1-46 1-52 1-55 1-53 1-49 1-46 1-42 1-43 1-42 1-42"/>
<path d="M0 194l1 1 1 3 1 4 1 5 1 9 1 11 1 16 1 22 1 27 1 28 1 25 1 17 1 5 1-7 1-21 1-32 1-41 1-47 1-48 1-46 1-41 1-31 1-22 1-14 1-8 1-7 1-5 1-5"/>
<path d="M0 -58l1-1 1 0 1-2 1-2 1-2 1-4 1-5 1-7 1-10 1-10 1-10 1-7 1-2 1 4 1 8 1 14 1 17 1 20 1 20 1 20 1 16 1 13 1 9 1 6 1 4 1 2 1 1 1 1"/>
<path d="M0 0l1 0 1 0 1 0 1 0 1 0 1-2 1-2 1-4 1-7 1-9 1-11 1-12 1-13 1-10 1-8 1-6 1-1 1 2 1 6 1 8 1 10 1 10 1 9 1 9 1 7 1 7 1 6 1 6"/>
<path d="M0 11l1 0 1 1 1 1 1 3 1 5 1 10 1 18 1 30 1 41 1 50 1 53 1 50 1 42 1 28 1 12 1-6 1-23 1-38 1-50 1-57 1-59 1-57 1-52 1-48 1-45 1-44 1-45 1-46"/>
<path d="M0 302l1 1 1 3 1 5 1 6 1 8 1 10 1 9 1 8 1 3 1-6 1-18 1-33 1-45 1-54 1-60 1-61 1-58 1-50 1-39 1-25 1-11 1 4 1 15 1 22 1 25 1 27 1 27 1 27"/>
<path d="M0 318l1 1 1 3 1 5 1 6 1 6 1 7 1 4 1 1 1-7 1-17 1-29 1-39 1-49 1-54 1-56 1-54 1-48 1-38 1-25 1-10 1 4 1 17 1 29 1 36 1 40 1 43 1 44 1 43"/>
<path d="M0 352l1 2 1 3 1 6 1 7 1 9 1 9 1 8 1 5 1-1 1-11 1-24 1-37 1-47 1-55 1-59 1-57 1-52 1-42 1-29 1-14 1 1 1 17 1 28 1 35 1 41 1 42 1 42 1 43"/>
<path d="M0 -321l1-1 1-2 1-3 1-5 1-5 1-3 1 1 1 8 1 17 1 30 1 41 1 50 1 55 1 56 1 53 1 45 1 33 1 19 1 3 1-12 1-26 1-37 1-46 1-52 1-55 1-56 1-56 1-57"/>
<path d="M0 -80l1-1 1 0 1-1 1-2 1-1 1 0 1 2 1 7 1 13 1 20 1 26 1 27 1 26 1 22 1 16 1 8 1 0 1-9 1-15 1-22 1-25 1-27 1-27 1-26 1-25 1-25 1-23 1-24"/>
<path d="M0 184l1 1 1 2 1 3 1 6 1 7 1 11 1 14 1 20 1 22 1 22 1 18 1 9 1-2 1-14 1-24 1-34 1-41 1-43 1-44 1-39 1-32 1-23 1-15 1-8 1-5 1-2 1-3 1-2"/>
<path d="M0 -315l1-1 1-3 1-4 1-7 1-10 1-14 1-18 1-23 1-25 1-22 1-13 1-2 1 12 1 24 1 37 1 46 1 51 1 54 1 51 1 45 1 35 1 24 1 13 1 5 1 1 1-2 1-1 1-1"/>
<path d="M0 -225l1-1 1-2 1-5 1-6 1-8 1-10 1-14 1-17 1-19 1-17 1-10 1-1 1 12 1 25 1 36 1 44 1 49 1 50 1 45 1 38 1 28 1 16 1 6 1-3 1-8 1-9 1-11 1-10"/>
<path d="M0 -199l1 0 1-3 1-3 1-5 1-5 1-7 1-8 1-7 1-6 1-2 1 2 1 9 1 16 1 22 1 28 1 30 1 30 1 29 1 25 1 19 1 12 1 4 1-4 1-10 1-14 1-16 1-18 1-17"/>
<path d="M0 -89l1 0 1-1 1-2 1-2 1-2 1-3 1-2 1 0 1 4 1 8 1 15 1 19 1 24 1 24 1 24 1 21 1 18 1 11 1 5 1-1 1-7 1-11 1-13 1-15 1-14 1-14 1-13 1-13"/>
<path d="M0 -21l1 0 1 0 1 0 1 0 1 1 1 2 1 5 1 8 1 13 1 15 1 18 1 18 1 16 1 14 1 10 1 5 1 0 1-5 1-9 1-13 1-16 1-16 1-17 1-16 1-15 1-16 1-16 1-17"/>
</g>
<g stroke="#1f77b4" transform="translate(93.4 138.4) scale(16.1500 0.25)">
<path d="M0 241l1 1 1 3 1 4 1 5 1 5 1 5 1 2 1-2 1-10 1-18 1-27 1-34 1-37 1-39 1-37 1-33 1-25 1-17 1-6 1 5 1 14 1 23 1 29 1 35 1 37 1 39 1 39 1 40"/>
<path d="M0 -75l1 0 1-1 1-1 1-3 1-3 1-3 1-5 1-6 1-5 1-5 1-3 1 0 1 4 1 7 1 9 1 12 1 12 1 13 1 11 1 10 1 7 1 3 1 0 1-2 1-4 1-4 1-5 1-5"/>
<path d="M0 61l1 1 1 0 1 1 1 0 1 0 1-2 1-6 1-13 1-20 1-28 1-31 1-32 1-29 1-21 1-13 1-2 1 8 1 17 1 25 1 31 1 34 1 33 1 33 1 31 1 30 1 29 1 29 1 29"/>
<path d="M0 19l1 0 1 1 1 0 1 0 1-1 1-1 1-4 1-8 1-11 1-13 1-15 1-15 1-11 1-7 1-3 1 1 1 7 1 10 1 14 1 16 1 17 1 17 1 16 1 15 1 15 1 16 1 15 1 15"/>
<path d="M0 -215l1-1 1-2 1-3 1-4 1-2 1-1 1 5 1 13 1 24 1 35 1 44 1 48 1 48 1 44 1 37 1 26 1 13 1 0 1-14 1-27 1-35 1-43 1-47 1-50 1-51 1-52 1-53 1-53"/>
<path d="M0 100l1 0 1 0 1 1 1 1 1 1 1-2 1-5 1-11 1-18 1-26 1-31 1-31 1-30 1-26 1-18 1-11 1-2 1 8 1 15 1 23 1 27 1 30 1 31 1 32 1 32 1 32 1 33 1 32"/>
<path d="M0 -15l1-1 1-1 1-1 1-1 1-2 1-3 1-4 1-6 1-7 1-8 1-7 1-3 1-1 1 3 1 7 1 9 1 11 1 12 1 13 1 12 1 11 1 9 1 8 1 6 1 7 1 7 1 6 1 8"/>
<path d="M0 64l1 0 1 0 1 0 1-1 1-2 1-5 1-12 1-20 1-30 1-37 1-43 1-43 1-40 1-33 1-24 1-11 1 0 1 13 1 25 1 33 1 39 1 41 1 42 1 42 1 41 1 41 1 42 1 42"/>
<path d="M0 -79l1-1 1-1 1-2 1-2 1-3 1-3 1-2 1-2 1 2 1 5 1 8 1 10 1 11 1 10 1 9 1 7 1 4 1 1 1-2 1-4 1-7 1-9 1-11 1-13 1-13 1-12 1-13 1-13"/>
<path d="M0 -218l1 0 1-2 1-2 1-4 1-3 1-3 1 0 1 6 1 14 1 23 1 32 1 38 1 40 1 39 1 36 1 30 1 20 1 11 1-1 1-11 1-20 1-28 1-33 1-36 1-38 1-39 1-39 1-39"/>
<path d="M0 198l1 1 1 2 1 4 1 5 1 8 1 9 1 11 1 15 1 15 1 14 1 9 1 0 1-10 1-20 1-29 1-37 1-40 1-42 1-39 1-34 1-26 1-16 1-8 1 0 1 4 1 7 1 7 1 8"/>
<path d="M0 -136l1-1 1-2 1-3 1-5 1-8 1-13 1-21 1-32 1-41 1-48 1-46 1-38 1-23 1-6 1 14 1 32 1 47 1 59 1 66 1 67 1 62 1 53 1 45 1 36 1 32 1 31 1 30 1 30"/>
<path d="M0 -180l1 0 1-2 1-3 1-5 1-7 1-10 1-13 1-17 1-19 1-19 1-14 1-6 1 5 1 17 1 27 1 36 1 41 1 42 1 41 1 34 1 27 1 16 1 8 1 0 1-3 1-5 1-5 1-5"/>
<path d="M0 190l1 0 1 1 1 1 1 1 1 0 1-4 1-10 1-21 1-34 1-47 1-55 1-58 1-56 1-48 1-35 1-20 1-3 1 15 1 30 1 43 1 52 1 56 1 58 1 58 1 58 1 59 1 58 1 59"/>
<path d="M0 185l1 0 1 1 1 2 1 3 1 2 1 0 1-4 1-12 1-24 1-35 1-45 1-51 1-52 1-49 1-40 1-29 1-16 1-1 1 13 1 26 1 36 1 43 1 45 1 46 1 46 1 46 1 45 1 45"/>
<path d="M0 170l1 1 1 2 1 3 1 5 1 5 1 8 1 9 1 11 1 11 1 10 1 6 1 1 1-5 1-12 1-18 1-24 1-26 1-28 1-27 1-24 1-19 1-14 1-6 1-2 1 3 1 5 1 6 1 7"/>
<path d="M0 -78l1 0 1-1 1-2 1-3 1-4 1-5 1-7 1-10 1-12 1-12 1-10 1-6 1-1 1 6 1 11 1 17 1 21 1 23 1 24 1 22 1 19 1 15 1 11 1 8 1 5 1 5 1 4 1 3"/>
<path d="M0 -317l1-1 1-4 1-5 1-8 1-9 1-11 1-12 1-12 1-8 1-1 1 10 1 23 1 36 1 48 1 56 1 59 1 58 1 51 1 42 1 28 1 13 1-1 1-13 1-23 1-27 1-29 1-30 1-30"/>
<path d="M0 -190l1 0 1-1 1-2 1-2 1-1 1 1 1 8 1 17 1 29 1 42 1 53 1 58 1 58 1 53 1 44 1 29 1 14 1-2 1-19 1-33 1-44 1-50 1-54 1-53 1-54 1-54 1-53 1-53"/>
<path d="M0 115l1 1 1 2 1 2 1 5 1 6 1 9 1 14 1 19 1 25 1 26 1 22 1 15 1 3 1-8 1-20 1-30 1-37 1-43 1-43 1-42 1-37 1-29 1-23 1-19 1-15 1-15 1-14 1-15"/>
<path d="M0 420l1 1 1 1 1 2 1 1 1-1 1-4 1-14 1-27 1-45 1-64 1-76 1-83 1-81 1-71 1-54 1-34 1-9 1 14 1 38 1 57 1 71 1 80 1 84 1 85 1 85 1 83 1 84 1 83"/>
<path d="M0 -119l1 0 1-2 1-2 1-4 1-6 1-10 1-17 1-23 1-30 1-33 1-33 1-26 1-17 1-6 1 6 1 19 1 29 1 37 1 42 1 44 1 41 1 37 1 30 1 25 1 22 1 21 1 21 1 21"/>
<path d="M0 185l1 1 1 2 1 4 1 5 1 6 1 8 1 10 1 12 1 11 1 8 1 2 1-7 1-16 1-25 1-31 1-35 1-37 1-36 1-30 1-24 1-16 1-6 1 2 1 7 1 10 1 11 1 12 1 11"/>
<path d="M0 -221l1-1 1-2 1-4 1-6 1-8 1-10 1-15 1-18 1-19 1-16 1-9 1 2 1 15 1 26 1 37 1 44 1 47 1 47 1 44 1 36 1 26 1 16 1 6 1 0 1-4 1-4 1-5 1-4"/>
<path d="M0 -203l1-2 1-2 1-4 1-6 1-6 1-8 1-8 1-8 1-5 1 1 1 9 1 19 1 28 1 34 1 39 1 41 1 39 1 35 1 28 1 19 1 9 1 0 1-8 1-12 1-16 1-16 1-17 1-16"/>
<path d="M0 -340l1-1 1-3 1-4 1-5 1-6 1-4 1-2 1 6 1 17 1 33 1 47 1 59 1 66 1 68 1 63 1 55 1 43 1 26 1 9 1-8 1-24 1-37 1-45 1-49 1-51 1-51 1-50 1-50"/>
<path d="M0 -144l1-1 1-1 1-3 1-4 1-7 1-11 1-17 1-24 1-31 1-34 1-32 1-25 1-14 1-1 1 13 1 26 1 37 1 45 1 48 1 49 1 45 1 39 1 31 1 25 1 21 1 19 1 19 1 19"/>
<path d="M0 -167l1-1 1-3 1-3 1-4 1-5 1-6 1-5 1-4 1 2 1 9 1 17 1 25 1 30 1 33 1 32 1 29 1 23 1 17 1 7 1-1 1-9 1-16 1-20 1-23 1-24 1-23 1-22 1-22"/>
<path d="M0 -293l1-1 1-3 1-4 1-7 1-7 1-9 1-8 1-6 1-2 1 6 1 16 1 25 1 33 1 41 1 44 1 45 1 42 1 35 1 26 1 14 1 3 1-9 1-19 1-26 1-30 1-32 1-33 1-34"/>
<path d="M0 65l1 1 1 0 1 1 1 0 1-1 1-4 1-9 1-16 1-24 1-31 1-34 1-33 1-28 1-20 1-11 1-1 1 10 1 19 1 27 1 33 1 35 1 36 1 35 1 35 1 34 1 35 1 35 1 36"/>
<path d="M0 -237l1-1 1-2 1-4 1-7 1-9 1-13 1-19 1-26 1-33 1-34 1-28 1-18 1-3 1 13 1 30 1 44 1 55 1 61 1 64 1 60 1 53 1 43 1 31 1 23 1 17 1 15 1 14 1 14"/>
<path d="M0 -421l1 0 1-2 1-2 1-4 1-3 1-1 1 4 1 13 1 24 1 40 1 53 1 63 1 70 1 70 1 65 1 53 1 37 1 19 1-2 1-21 1-39 1-52 1-61 1-67 1-69 1-69 1-70 1-70"/>
<path d="M0 19l1 0 1 0 1 1 1 1 1 2 1 4 1 5 1 8 1 11 1 13 1 13 1 11 1 8 1 4 1 0 1-5 1-8 1-12 1-14 1-16 1-15 1-13 1-12 1-10 1-10 1-9 1-9 1-10"/>
<path d="M0 -182l1-1 1-1 1-3 1-4 1-3 1-2 1 1 1 8 1 18 1 29 1 40 1 47 1 51 1 48 1 42 1 32 1 19 1 5 1-10 1-22 1-33 1-40 1-42 1-44 1-43 1-42 1-42 1-41"/>
<path d="M0 191l1 0 1 2 1 2 1 3 1 1 1-2 1-8 1-19 1-31 1-44 1-54 1-56 1-54 1-46 1-34 1-21 1-4 1 12 1 27 1 40 1 48 1 53 1 56 1 56 1 57 1 56 1 56 1 56"/>
<path d="M0 206l1 0 1 2 1 2 1 2 1 2 1-1 1-8 1-17 1-30 1-45 1-56 1-65 1-67 1-61 1-52 1-37 1-20 1-1 1 18 1 35 1 47 1 56 1 59 1 59 1 59 1 57 1 57 1 57"/>
<path d="M0 -57l1 1 1 0 1 0 1 0 1 2 1 5 1 11 1 19 1 29 1 37 1 41 1 40 1 33 1 24 1 12 1-2 1-14 1-27 1-35 1-42 1-44 1-44 1-41 1-39 1-38 1-37 1-38 1-37"/>
<path d="M0 92l1 0 1 1 1 1 1 0 1 1 1-2 1-5 1-10 1-17 1-22 1-27 1-28 1-27 1-24 1-19 1-12 1-3 1 4 1 12 1 19 1 23 1 26 1 28 1 28 1 29 1 30 1 30 1 30"/>
<path d="M0 -103l1-1 1-1 1-1 1-1 1-1 1 1 1 4 1 10 1 17 1 24 1 30 1 34 1 35 1 32 1 27 1 19 1 10 1 0 1-10 1-18 1-25 1-29 1-30 1-31 1-31 1-32 1-31 1-31"/>
<path d="M0 278l1 2 1 3 1 6 1 7 1 9 1 11 1 12 1 10 1 6 1-3 1-14 1-28 1-38 1-46 1-50 1-49 1-46 1-38 1-26 1-14 1 0 1 11 1 21 1 27 1 28 1 30 1 28 1 28"/>
<path d="M0 293l1 1 1 2 1 3 1 4 1 4 1 3 1-2 1-10 1-22 1-36 1-49 1-59 1-63 1-62 1-55 1-44 1-30 1-13 1 5 1 22 1 35 1 46 1 52 1 55 1 57 1 56 1 56 1 55"/>
<path d="M0 -226l1-1 1-2 1-4 1-5 1-5 1-4 1-2 1 3 1 12 1 22 1 35 1 45 1 52 1 55 1 53 1 46 1 36 1 22 1 7 1-8 1-21 1-32 1-38 1-42 1-42 1-43 1-42 1-42"/>
<path d="M0 -231l1 0 1-2 1-3 1-5 1-4 1-4 1-1 1 4 1 14 1 24 1 33 1 41 1 42 1 42 1 37 1 29 1 19 1 7 1-6 1-16 1-27 1-34 1-38 1-42 1-42 1-43 1-42 1-42"/>
<path d="M0 -61l1 0 1-1 1 0 1-1 1-1 1 1 1 3 1 7 1 11 1 16 1 20 1 20 1 21 1 18 1 14 1 9 1 3 1-2 1-8 1-13 1-17 1-18 1-19 1-20 1-20 1-20 1-20 1-20"/>
<path d="M0 269l1 2 1 3 1 4 1 7 1 8 1 10 1 11 1 11 1 10 1 4 1-4 1-15 1-25 1-35 1-43 1-46 1-48 1-44 1-37 1-28 1-17 1-6 1 6 1 12 1 18 1 19 1 21 1 20"/>
<path d="M0 -113l1-1 1-1 1-3 1-4 1-7 1-11 1-17 1-25 1-31 1-34 1-33 1-26 1-17 1-6 1 7 1 18 1 29 1 36 1 42 1 43 1 41 1 36 1 30 1 25 1 23 1 23 1 23 1 24"/>
<path d="M0 -98l1 0 1-1 1-1 1-1 1-1 1 0 1 3 1 7 1 14 1 22 1 28 1 33 1 34 1 33 1 28 1 23 1 15 1 6 1-3 1-11 1-19 1-22 1-25 1-26 1-25 1-24 1-24 1-24"/>
<path d="M0 120l1 0 1 1 1 1 1 3 1 4 1 4 1 5 1 4 1 2 1-1 1-6 1-13 1-18 1-22 1-25 1-26 1-25 1-22 1-17 1-12 1-5 1 0 1 4 1 8 1 8 1 9 1 9 1 9"/>
<path d="M0 281l1 1 1 3 1 4 1 7 1 9 1 15 1 20 1 29 1 35 1 37 1 32 1 21 1 6 1-12 1-29 1-44 1-57 1-63 1-66 1-63 1-54 1-44 1-31 1-21 1-15 1-13 1-12 1-13"/>
<path d="M0 342l1 1 1 4 1 5 1 7 1 10 1 12 1 13 1 15 1 13 1 8 1-2 1-15 1-29 1-42 1-53 1-60 1-62 1-61 1-54 1-43 1-30 1-15 1-2 1 8 1 16 1 18 1 19 1 20"/>
<path d="M0 186l1 1 1 1 1 3 1 3 1 2 1 1 1-3 1-10 1-19 1-29 1-37 1-42 1-45 1-44 1-38 1-30 1-19 1-6 1 5 1 18 1 27 1 35 1 39 1 41 1 43 1 44 1 44 1 44"/>
<path d="M0 7l1 0 1 0 1 0 1 0 1 1 1 1 1 1 1 2 1 2 1 2 1 3 1 2 1 3 1 2 1 2 1 2 1 1 1 0 1 0 1-1 1-1 1-1 1-2 1-1 1-1 1-1 1-1 1-1"/>
<path d="M0 -191l1-1 1-3 1-4 1-6 1-8 1-10 1-12 1-15 1-15 1-11 1-1 1 9 1 22 1 32 1 41 1 45 1 46 1 44 1 38 1 29 1 18 1 8 1-1 1-5 1-8 1-9 1-8 1-7"/>
<path d="M0 262l1 1 1 2 1 3 1 5 1 4 1 4 1 0 1-7 1-16 1-27 1-37 1-44 1-48 1-47 1-44 1-35 1-25 1-11 1 2 1 15 1 27 1 35 1 42 1 47 1 48 1 49 1 49 1 50"/>
<path d="M0 -41l1-1 1-1 1-2 1-2 1-3 1-4 1-6 1-8 1-10 1-12 1-12 1-10 1-9 1-4 1 0 1 5 1 8 1 12 1 14 1 15 1 15 1 13 1 10 1 8 1 5 1 5 1 3 1 3"/>
<path d="M0 -189l1 0 1-2 1-3 1-3 1-4 1-3 1 0 1 5 1 10 1 20 1 28 1 36 1 42 1 44 1 43 1 39 1 31 1 20 1 9 1-3 1-15 1-24 1-30 1-33 1-36 1-36 1-37 1-37"/>
<path d="M0 -165l1-1 1-2 1-3 1-5 1-6 1-7 1-8 1-10 1-8 1-6 1-2 1 3 1 9 1 14 1 19 1 21 1 23 1 23 1 19 1 16 1 9 1 3 1-3 1-8 1-11 1-13 1-13 1-14"/>
<path d="M0 121l1 0 1 1 1 3 1 3 1 4 1 4 1 5 1 5 1 5 1 3 1-1 1-6 1-12 1-18 1-22 1-25 1-26 1-25 1-21 1-17 1-10 1-5 1 2 1 5 1 9 1 10 1 11 1 11"/>
<path d="M0 -82l1-1 1-1 1-2 1-3 1-5 1-6 1-8 1-11 1-13 1-12 1-10 1-4 1 0 1 7 1 12 1 17 1 20 1 22 1 22 1 19 1 17 1 11 1 8 1 4 1 3 1 3 1 2 1 3"/>
<path d="M0 -155l1 0 1-2 1-2 1-3 1-3 1-4 1-4 1-1 1 3 1 9 1 16 1 21 1 25 1 27 1 27 1 25 1 20 1 15 1 8 1 1 1-6 1-11 1-16 1-18 1-19 1-20 1-19 1-19"/>
<path d="M0 -155l1 0 1-2 1-3 1-5 1-7 1-10 1-16 1-21 1-26 1-29 1-26 1-20 1-11 1 0 1 11 1 22 1 32 1 38 1 42 1 42 1 40 1 34 1 28 1 21 1 17 1 16 1 14 1 15"/>
<path d="M0 -21l1 0 1 0 1 0 1 1 1 1 1 4 1 8 1 13 1 20 1 27 1 30 1 31 1 28 1 21 1 13 1 5 1-6 1-14 1-21 1-28 1-30 1-31 1-30 1-27 1-26 1-25 1-24 1-23"/>
<path d="M0 -50l1 0 1-1 1-2 1-2 1-5 1-7 1-13 1-19 1-25 1-28 1-29 1-24 1-19 1-12 1-3 1 5 1 15 1 22 1 27 1 30 1 30 1 29 1 27 1 23 1 23 1 23 1 23 1 24"/>
<path d="M0 276l1 1 1 1 1 2 1 2 1 0 1-2 1-10 1-22 1-36 1-51 1-62 1-67 1-64 1-57 1-43 1-27 1-7 1 12 1 31 1 46 1 57 1 63 1 67 1 67 1 67 1 67 1 66 1 67"/>
<path d="M0 4l1 0 1 1 1 0 1 1 1 2 1 4 1 7 1 12 1 17 1 20 1 20 1 18 1 11 1 6 1-2 1-9 1-15 1-21 1-24 1-25 1-25 1-23 1-20 1-20 1-18 1-19 1-19 1-19"/>
<path d="M0 18l1 0 1 0 1 0 1 1 1 2 1 2 1 5 1 7 1 8 1 8 1 8 1 7 1 5 1 4 1 2 1 1 1-2 1-3 1-5 1-6 1-6 1-7 1-6 1-6 1-7 1-7 1-7 1-9"/>
<path d="M0 -33l1-1 1 0 1-2 1-2 1-4 1-7 1-12 1-19 1-27 1-32 1-33 1-31 1-23 1-13 1-2 1 10 1 21 1 30 1 37 1 39 1 39 1 34 1 30 1 26 1 23 1 22 1 22 1 22"/>
<path d="M0 -251l1-1 1-2 1-4 1-5 1-6 1-7 1-7 1-6 1-1 1 6 1 14 1 22 1 32 1 38 1 42 1 43 1 41 1 35 1 26 1 17 1 6 1-5 1-13 1-21 1-24 1-25 1-27 1-27"/>
<path d="M0 97l1 0 1 1 1 0 1 1 1-2 1-4 1-11 1-19 1-30 1-39 1-45 1-45 1-40 1-32 1-19 1-7 1 9 1 21 1 33 1 41 1 45 1 47 1 45 1 44 1 44 1 43 1 44 1 44"/>
<path d="M0 -25l1 0 1 0 1 1 1 1 1 2 1 4 1 8 1 15 1 21 1 27 1 33 1 34 1 32 1 28 1 20 1 11 1 1 1-9 1-18 1-25 1-30 1-31 1-31 1-28 1-27 1-25 1-26 1-25"/>
<path d="M0 -221l1-1 1-2 1-3 1-4 1-3 1-2 1 3 1 10 1 20 1 32 1 44 1 52 1 58 1 58 1 54 1 45 1 31 1 17 1 0 1-15 1-29 1-40 1-46 1-49 1-51 1-51 1-50 1-51"/>
<path d="M0 102l1 1 1 1 1 2 1 2 1 3 1 2 1-1 1-3 1-9 1-15 1-20 1-25 1-28 1-29 1-27 1-23 1-17 1-11 1-3 1 5 1 11 1 17 1 19 1 21 1 22 1 21 1 22 1 22"/>
<path d="M0 109l1 1 1 1 1 2 1 3 1 4 1 5 1 5 1 6 1 2 1-1 1-8 1-14 1-19 1-22 1-24 1-22 1-21 1-17 1-11 1-6 1 0 1 4 1 8 1 9 1 10 1 8 1 8 1 8"/>
<path d="M0 98l1 1 1 2 1 3 1 4 1 4 1 5 1 5 1 6 1 6 1 4 1 2 1-1 1-5 1-11 1-14 1-17 1-19 1-19 1-18 1-15 1-11 1-7 1-2 1 3 1 5 1 8 1 8 1 8"/>
<path d="M0 138l1 0 1 1 1 1 1 1 1 0 1-3 1-9 1-17 1-27 1-38 1-46 1-49 1-48 1-43 1-34 1-22 1-8 1 6 1 20 1 31 1 39 1 44 1 46 1 47 1 46 1 46 1 47 1 47"/>
<path d="M0 139l1 1 1 2 1 3 1 4 1 6 1 9 1 13 1 18 1 24 1 26 1 24 1 19 1 10 1 0 1-12 1-23 1-31 1-38 1-41 1-40 1-38 1-32 1-24 1-18 1-13 1-11 1-10 1-10"/>
<path d="M0 18l1 0 1 0 1 1 1 3 1 4 1 9 1 15 1 26 1 38 1 47 1 51 1 49 1 40 1 25 1 9 1-9 1-26 1-41 1-51 1-58 1-59 1-56 1-49 1-43 1-40 1-37 1-37 1-37"/>
<path d="M0 -43l1 0 1 0 1-1 1-2 1-3 1-3 1-6 1-10 1-12 1-14 1-12 1-9 1-3 1 4 1 11 1 16 1 20 1 24 1 25 1 24 1 21 1 18 1 14 1 12 1 10 1 9 1 9 1 9"/>
<path d="M0 -58l1 0 1-1 1-1 1-2 1-3 1-5 1-7 1-9 1-10 1-9 1-7 1-1 1 3 1 8 1 11 1 15 1 16 1 17 1 16 1 14 1 11 1 7 1 5 1 4 1 3 1 4 1 4 1 5"/>
<path d="M0 -223l1-1 1-2 1-4 1-5 1-9 1-14 1-20 1-29 1-35 1-36 1-30 1-17 1-3 1 14 1 30 1 43 1 54 1 61 1 62 1 59 1 51 1 42 1 32 1 26 1 22 1 21 1 22 1 22"/>
<path d="M0 -313l1-2 1-3 1-6 1-7 1-11 1-13 1-16 1-20 1-20 1-17 1-8 1 4 1 19 1 32 1 45 1 52 1 57 1 56 1 50 1 41 1 28 1 15 1 1 1-8 1-14 1-16 1-17 1-17"/>
<path d="M0 -223l1-1 1-3 1-4 1-5 1-7 1-8 1-9 1-8 1-2 1 6 1 16 1 26 1 35 1 39 1 42 1 40 1 35 1 29 1 18 1 9 1-3 1-11 1-19 1-22 1-23 1-23 1-22 1-22"/>
<path d="M0 -287l1-1 1-2 1-3 1-4 1-4 1-2 1 2 1 10 1 20 1 32 1 42 1 50 1 53 1 52 1 48 1 39 1 28 1 15 1 0 1-14 1-27 1-36 1-44 1-49 1-51 1-52 1-53 1-54"/>
<path d="M0 -293l1-1 1-3 1-5 1-6 1-10 1-14 1-18 1-23 1-24 1-22 1-13 1-2 1 11 1 25 1 37 1 46 1 51 1 53 1 50 1 43 1 33 1 21 1 9 1 2 1-3 1-5 1-5 1-4"/>
<path d="M0 226l1 1 1 2 1 2 1 3 1 2 1-1 1-7 1-18 1-31 1-44 1-56 1-62 1-61 1-55 1-45 1-31 1-13 1 4 1 21 1 36 1 47 1 55 1 58 1 59 1 59 1 59 1 59 1 59"/>
<path d="M0 17l1 0 1 0 1-1 1-1 1-3 1-8 1-14 1-23 1-33 1-41 1-45 1-44 1-41 1-32 1-20 1-8 1 5 1 19 1 30 1 39 1 44 1 45 1 45 1 42 1 42 1 41 1 41 1 42"/>
<path d="M0 144l1 1 1 1 1 3 1 3 1 3 1 4 1 2 1-1 1-8 1-14 1-20 1-25 1-27 1-25 1-23 1-17 1-10 1-3 1 5 1 12 1 17 1 22 1 25 1 26 1 27 1 26 1 26 1 25"/>
<path d="M0 218l1 1 1 2 1 3 1 4 1 2 1 0 1-5 1-14 1-27 1-41 1-52 1-59 1-60 1-55 1-45 1-33 1-17 1 0 1 16 1 31 1 43 1 50 1 54 1 55 1 55 1 55 1 54 1 55"/>
<path d="M0 -66l1 0 1-2 1-2 1-4 1-5 1-8 1-14 1-20 1-28 1-31 1-31 1-25 1-17 1-5 1 7 1 19 1 30 1 37 1 41 1 43 1 40 1 35 1 29 1 25 1 21 1 21 1 20 1 21"/>
<path d="M0 167l1 1 1 2 1 4 1 5 1 8 1 12 1 16 1 24 1 31 1 33 1 31 1 23 1 10 1-6 1-22 1-35 1-47 1-54 1-57 1-54 1-48 1-38 1-27 1-19 1-14 1-11 1-10 1-10"/>
<path d="M0 -109l1 0 1-2 1-2 1-5 1-6 1-11 1-16 1-25 1-32 1-35 1-32 1-22 1-10 1 4 1 19 1 32 1 43 1 50 1 52 1 52 1 47 1 39 1 32 1 26 1 24 1 23 1 23 1 24"/>
<path d="M0 -75l1-1 1-1 1-2 1-4 1-5 1-8 1-13 1-20 1-28 1-32 1-33 1-28 1-19 1-5 1 9 1 22 1 33 1 41 1 47 1 47 1 45 1 38 1 30 1 25 1 20 1 19 1 18 1 17"/>
<path d="M0 53l1 1 1 1 1 2 1 3 1 5 1 9 1 13 1 21 1 28 1 33 1 33 1 28 1 20 1 8 1-3 1-15 1-26 1-34 1-39 1-42 1-41 1-36 1-32 1-27 1-25 1-24 1-23 1-24"/>
<path d="M0 101l1 0 1 2 1 2 1 4 1 6 1 11 1 17 1 25 1 32 1 35 1 34 1 29 1 19 1 8 1-4 1-16 1-27 1-36 1-41 1-44 1-42 1-39 1-34 1-29 1-27 1-26 1-26 1-27"/>
<path d="M0 -189l1-1 1-2 1-4 1-5 1-9 1-12 1-17 1-25 1-30 1-33 1-29 1-21 1-9 1 6 1 20 1 33 1 44 1 50 1 53 1 51 1 46 1 37 1 27 1 20 1 14 1 13 1 12 1 12"/>
<path d="M0 -12l1 0 1 0 1-1 1-1 1-2 1-4 1-7 1-12 1-17 1-22 1-23 1-21 1-16 1-9 1-1 1 7 1 15 1 21 1 26 1 29 1 29 1 26 1 25 1 21 1 20 1 18 1 18 1 18"/>
<path d="M0 87l1 1 1 0 1 1 1 1 1-1 1-3 1-8 1-17 1-26 1-36 1-42 1-45 1-41 1-36 1-25 1-13 1-1 1 12 1 24 1 34 1 39 1 42 1 42 1 41 1 39 1 39 1 39 1 38"/>
<path d="M0 -151l1-1 1-2 1-3 1-4 1-5 1-7 1-9 1-10 1-12 1-8 1-3 1 6 1 15 1 25 1 32 1 37 1 38 1 37 1 33 1 26 1 18 1 9 1 2 1-3 1-6 1-7 1-7 1-7"/>
<path d="M0 153l1 0 1 2 1 2 1 2 1 3 1 2 1-1 1-6 1-15 1-24 1-31 1-37 1-37 1-33 1-27 1-19 1-9 1 2 1 13 1 21 1 28 1 32 1 35 1 35 1 34 1 34 1 33 1 32"/>
<path d="M0 235l1 0 1 3 1 4 1 6 1 7 1 9 1 11 1 9 1 6 1-2 1-12 1-24 1-33 1-40 1-44 1-44 1-40 1-33 1-24 1-13 1 0 1 9 1 17 1 22 1 23 1 23 1 23 1 22"/>
<path d="M0 202l1 0 1 1 1 2 1 1 1 0 1-3 1-11 1-22 1-38 1-52 1-63 1-68 1-64 1-56 1-40 1-23 1-3 1 17 1 35 1 49 1 60 1 65 1 66 1 64 1 64 1 62 1 61 1 62"/>
<path d="M0 -303l1-1 1-3 1-5 1-5 1-5 1-3 1 1 1 10 1 24 1 39 1 54 1 66 1 70 1 69 1 62 1 50 1 34 1 17 1-3 1-21 1-36 1-48 1-54 1-57 1-57 1-56 1-56 1-55"/>
<path d="M0 252l1 0 1 1 1 2 1 2 1 0 1-4 1-11 1-21 1-36 1-51 1-63 1-70 1-71 1-66 1-54 1-39 1-20 1 1 1 21 1 39 1 53 1 62 1 66 1 67 1 67 1 68 1 67 1 67"/>
<path d="M0 -33l1 0 1 0 1 0 1 1 1 2 1 5 1 11 1 19 1 27 1 36 1 41 1 43 1 40 1 35 1 25 1 14 1 1 1-11 1-22 1-31 1-37 1-40 1-40 1-38 1-36 1-36 1-36 1-36"/>
<path d="M0 78l1 0 1 1 1 2 1 3 1 5 1 8 1 12 1 18 1 26 1 29 1 30 1 26 1 17 1 7 1-5 1-17 1-27 1-34 1-40 1-42 1-41 1-36 1-31 1-26 1-21 1-20 1-19 1-18"/>
<path d="M0 -154l1-1 1-1 1-3 1-3 1-3 1-2 1 0 1 6 1 13 1 22 1 30 1 36 1 37 1 35 1 31 1 23 1 14 1 2 1-7 1-18 1-25 1-30 1-33 1-34 1-34 1-33 1-34 1-33"/>
<path d="M0 -34l1 0 1 0 1-1 1-2 1-4 1-7 1-13 1-21 1-31 1-39 1-42 1-42 1-34 1-23 1-9 1 6 1 20 1 32 1 41 1 48 1 48 1 46 1 41 1 36 1 31 1 30 1 28 1 28"/>
<path d="M0 -81l1 0 1-2 1-1 1-2 1-1 1-1 1 2 1 5 1 10 1 13 1 16 1 17 1 17 1 16 1 14 1 10 1 6 1 1 1-3 1-9 1-12 1-15 1-17 1-20 1-21 1-22 1-23 1-23"/>
<path d="M0 399l1 0 1 1 1 3 1 3 1 2 1 0 1-5 1-15 1-29 1-44 1-58 1-67 1-71 1-67 1-60 1-47 1-30 1-11 1 8 1 26 1 41 1 53 1 61 1 65 1 66 1 66 1 66 1 66"/>
<path d="M0 -35l1 0 1 0 1 0 1 0 1 1 1 3 1 5 1 9 1 14 1 17 1 20 1 19 1 18 1 15 1 11 1 5 1 0 1-5 1-11 1-15 1-17 1-18 1-19 1-18 1-19 1-19 1-19 1-19"/>
<path d="M0 77l1 0 1 1 1 2 1 2 1 4 1 7 1 11 1 17 1 22 1 26 1 26 1 24 1 18 1 9 1 1 1-10 1-18 1-26 1-31 1-33 1-33 1-29 1-25 1-21 1-17 1-16 1-15 1-15"/>
<path d="M0 241l1 1 1 1 1 3 1 3 1 3 1 1 1-4 1-13 1-26 1-41 1-53 1-62 1-64 1-61 1-52 1-39 1-22 1-5 1 13 1 29 1 42 1 51 1 54 1 57 1 55 1 56 1 54 1 54"/>
<path d="M0 -155l1-1 1-2 1-3 1-5 1-7 1-11 1-17 1-22 1-27 1-28 1-24 1-18 1-8 1 2 1 12 1 23 1 30 1 36 1 38 1 38 1 34 1 27 1 21 1 16 1 13 1 12 1 13 1 13"/>
<path d="M0 87l1 1 1 1 1 2 1 3 1 3 1 4 1 3 1 3 1 1 1 0 1-2 1-6 1-8 1-11 1-14 1-15 1-14 1-14 1-11 1-8 1-4 1-1 1 4 1 7 1 9 1 11 1 12 1 12"/>
<path d="M0 215l1 1 1 3 1 4 1 5 1 7 1 6 1 6 1 4 1-2 1-10 1-19 1-28 1-35 1-39 1-42 1-40 1-36 1-28 1-20 1-10 1 1 1 10 1 18 1 21 1 25 1 25 1 26 1 25"/>
<path d="M0 -187l1 0 1-2 1-2 1-2 1-2 1 1 1 7 1 16 1 29 1 44 1 54 1 59 1 58 1 50 1 38 1 23 1 4 1-14 1-30 1-43 1-53 1-57 1-57 1-56 1-55 1-54 1-53 1-53"/>
<path d="M0 176l1 0 1 1 1 2 1 4 1 3 1 4 1 3 1 0 1-4 1-11 1-18 1-25 1-32 1-35 1-36 1-34 1-30 1-23 1-14 1-5 1 4 1 12 1 18 1 21 1 24 1 23 1 24 1 24"/>
<path d="M0 117l1 1 1 1 1 2 1 3 1 5 1 6 1 10 1 13 1 15 1 16 1 14 1 9 1 3 1-4 1-12 1-18 1-22 1-26 1-27 1-26 1-22 1-18 1-13 1-9 1-6 1-5 1-4 1-5"/>
<path d="M0 -417l1-2 1-3 1-5 1-8 1-10 1-14 1-20 1-25 1-28 1-23 1-11 1 6 1 25 1 45 1 61 1 72 1 78 1 76 1 69 1 55 1 38 1 20 1 4 1-6 1-12 1-12 1-11 1-11"/>
<path d="M0 4l1 0 1 0 1 0 1-2 1-3 1-8 1-14 1-23 1-32 1-40 1-42 1-39 1-30 1-20 1-6 1 7 1 21 1 32 1 41 1 46 1 47 1 46 1 42 1 39 1 38 1 38 1 37 1 38"/>
<path d="M0 -260l1-1 1-2 1-5 1-5 1-8 1-9 1-9 1-10 1-7 1-2 1 6 1 14 1 24 1 32 1 38 1 41 1 41 1 38 1 31 1 23 1 12 1 2 1-8 1-16 1-20 1-22 1-23 1-24"/>
<path d="M0 -15l1 0 1 0 1 1 1 1 1 2 1 4 1 8 1 14 1 20 1 25 1 27 1 26 1 21 1 14 1 6 1-3 1-12 1-19 1-26 1-29 1-30 1-30 1-27 1-26 1-25 1-24 1-24 1-24"/>
<path d="M0 52l1-1 1 1 1 0 1 2 1 1 1 2 1 2 1 2 1 4 1 3 1 2 1 2 1-1 1-3 1-5 1-8 1-9 1-9 1-9 1-8 1-6 1-3 1-1 1 2 1 3 1 5 1 5 1 6"/>
<path d="M0 -59l1 0 1-1 1-1 1-2 1-2 1-2 1-4 1-2 1-2 1-1 1 1 1 3 1 3 1 4 1 5 1 4 1 4 1 4 1 2 1 1 1 0 1-1 1-4 1-5 1-5 1-6 1-6 1-5"/>
<path d="M0 146l1 1 1 2 1 3 1 5 1 6 1 8 1 12 1 14 1 18 1 18 1 15 1 8 1 0 1-10 1-20 1-28 1-34 1-36 1-37 1-34 1-29 1-21 1-15 1-7 1-4 1-2 1-1 1-1"/>
<path d="M0 -246l1-2 1-3 1-4 1-7 1-9 1-12 1-16 1-19 1-21 1-17 1-7 1 6 1 21 1 36 1 47 1 55 1 59 1 56 1 49 1 39 1 26 1 11 1 1 1-7 1-11 1-11 1-12 1-10"/>
<path d="M0 -170l1-1 1-1 1-2 1-1 1-1 1 3 1 8 1 18 1 32 1 44 1 55 1 61 1 60 1 54 1 44 1 28 1 12 1-6 1-22 1-37 1-48 1-54 1-56 1-55 1-55 1-53 1-54 1-53"/>
<path d="M0 -56l1 0 1 0 1-1 1-2 1-3 1-4 1-6 1-7 1-8 1-8 1-6 1-2 1 1 1 5 1 8 1 10 1 11 1 13 1 12 1 11 1 8 1 6 1 4 1 3 1 2 1 2 1 3 1 3"/>
<path d="M0 -150l1-1 1-1 1-1 1-1 1 0 1 4 1 11 1 22 1 36 1 49 1 58 1 64 1 61 1 54 1 41 1 25 1 8 1-12 1-28 1-43 1-53 1-59 1-60 1-59 1-57 1-58 1-56 1-57"/>
<path d="M0 -168l1 0 1-1 1-1 1-1 1-1 1 3 1 7 1 17 1 29 1 41 1 50 1 54 1 51 1 45 1 33 1 20 1 4 1-11 1-26 1-38 1-45 1-51 1-51 1-51 1-51 1-49 1-49 1-49"/>
<path d="M0 -43l1 0 1 0 1 0 1 0 1 2 1 5 1 9 1 17 1 26 1 33 1 36 1 34 1 30 1 20 1 10 1-1 1-14 1-23 1-32 1-37 1-39 1-38 1-36 1-34 1-32 1-32 1-33 1-32"/>
<path d="M0 -57l1-1 1 0 1-2 1-2 1-3 1-4 1-5 1-7 1-8 1-8 1-7 1-7 1-5 1-3 1 0 1 3 1 5 1 7 1 9 1 9 1 9 1 7 1 5 1 3 1 1 1 0 1 1 1 0"/>
<path d="M0 -152l1-1 1-2 1-3 1-4 1-6 1-9 1-12 1-16 1-19 1-20 1-16 1-9 1 0 1 11 1 22 1 30 1 36 1 39 1 38 1 36 1 29 1 21 1 13 1 8 1 3 1 2 1 2 1 1"/>
<path d="M0 161l1 1 1 1 1 3 1 3 1 2 1 2 1-3 1-8 1-16 1-26 1-32 1-36 1-37 1-33 1-28 1-20 1-10 1 0 1 10 1 19 1 26 1 32 1 34 1 37 1 37 1 38 1 37 1 38"/>
<path d="M0 -155l1-1 1-1 1-3 1-2 1-3 1-1 1 3 1 8 1 17 1 24 1 29 1 33 1 33 1 30 1 25 1 18 1 9 1 0 1-10 1-17 1-25 1-29 1-32 1-35 1-36 1-38 1-38 1-38"/>
<path d="M0 -105l1-1 1-1 1-1 1-4 1-4 1-7 1-11 1-13 1-16 1-15 1-12 1-5 1 2 1 10 1 16 1 22 1 25 1 28 1 27 1 25 1 22 1 16 1 12 1 10 1 8 1 8 1 8 1 9"/>
<path d="M0 -262l1-1 1-2 1-3 1-4 1-3 1-2 1 4 1 10 1 21 1 32 1 44 1 50 1 56 1 56 1 52 1 44 1 32 1 19 1 5 1-11 1-24 1-35 1-43 1-48 1-51 1-51 1-53 1-53"/>
<path d="M0 18l1 0 1 0 1 0 1-1 1-2 1-5 1-9 1-17 1-24 1-31 1-33 1-32 1-28 1-20 1-10 1 0 1 11 1 20 1 28 1 33 1 35 1 35 1 33 1 30 1 29 1 29 1 29 1 29"/>
<path d="M0 -34l1 0 1 0 1 0 1 0 1 1 1 2 1 4 1 9 1 12 1 15 1 16 1 15 1 12 1 8 1 4 1 0 1-6 1-10 1-13 1-15 1-17 1-17 1-16 1-18 1-17 1-18 1-19 1-19"/>
<path d="M0 -328l1-1 1-2 1-5 1-7 1-8 1-10 1-10 1-10 1-6 1 1 1 12 1 25 1 37 1 48 1 56 1 60 1 58 1 53 1 43 1 30 1 16 1 1 1-13 1-21 1-27 1-30 1-30 1-31"/>
<path d="M0 -128l1-1 1-1 1-2 1-2 1-2 1-2 1 1 1 4 1 9 1 16 1 23 1 29 1 31 1 33 1 32 1 27 1 22 1 14 1 6 1-3 1-11 1-17 1-20 1-23 1-23 1-24 1-24 1-24"/>
<path d="M0 -131l1-1 1-1 1-1 1-1 1 0 1 2 1 7 1 16 1 26 1 37 1 46 1 49 1 49 1 43 1 36 1 23 1 11 1-4 1-17 1-29 1-37 1-43 1-45 1-44 1-44 1-44 1-44 1-43"/>
<path d="M0 100l1 1 1 1 1 3 1 4 1 7 1 11 1 19 1 29 1 39 1 45 1 45 1 36 1 24 1 7 1-11 1-28 1-43 1-53 1-61 1-61 1-58 1-51 1-42 1-36 1-32 1-30 1-31 1-30"/>
<path d="M0 131l1 1 1 2 1 4 1 5 1 7 1 12 1 19 1 26 1 35 1 38 1 38 1 32 1 20 1 7 1-8 1-23 1-36 1-45 1-51 1-53 1-49 1-44 1-35 1-29 1-24 1-22 1-22 1-23"/>
<path d="M0 -200l1-1 1-1 1-2 1-2 1-1 1 3 1 8 1 20 1 33 1 46 1 57 1 61 1 60 1 52 1 40 1 24 1 6 1-11 1-28 1-41 1-52 1-57 1-59 1-59 1-59 1-58 1-58 1-58"/>
<path d="M0 91l1 0 1 0 1 1 1 1 1-1 1-3 1-9 1-16 1-27 1-35 1-40 1-40 1-37 1-29 1-18 1-8 1 5 1 16 1 26 1 35 1 39 1 41 1 41 1 41 1 40 1 40 1 40 1 40"/>
<path d="M0 210l1 0 1 1 1 2 1 2 1 1 1-1 1-7 1-18 1-30 1-45 1-56 1-63 1-64 1-58 1-48 1-34 1-17 1 1 1 19 1 35 1 46 1 54 1 57 1 57 1 56 1 56 1 55 1 54"/>
<path d="M0 108l1 0 1 1 1 1 1 1 1 1 1-1 1-5 1-10 1-17 1-24 1-31 1-34 1-37 1-36 1-33 1-27 1-19 1-9 1 0 1 10 1 18 1 24 1 28 1 30 1 31 1 32 1 32 1 32"/>
<path d="M0 -146l1-1 1-1 1-3 1-5 1-7 1-10 1-15 1-19 1-23 1-24 1-21 1-15 1-8 1 2 1 11 1 19 1 26 1 31 1 33 1 32 1 29 1 24 1 19 1 13 1 11 1 10 1 10 1 10"/>
<path d="M0 12l1 0 1-1 1 0 1 0 1 0 1-2 1-2 1-4 1-7 1-8 1-8 1-6 1-4 1 0 1 4 1 6 1 9 1 12 1 12 1 13 1 12 1 11 1 11 1 10 1 10 1 10 1 9 1 10"/>
<path d="M0 -147l1 0 1-2 1-2 1-3 1-3 1-2 1 1 1 7 1 15 1 25 1 34 1 39 1 42 1 39 1 35 1 26 1 18 1 6 1-4 1-15 1-23 1-29 1-32 1-32 1-33 1-31 1-31 1-31"/>
<path d="M0 -202l1-1 1-2 1-2 1-4 1-4 1-2 1 0 1 7 1 15 1 25 1 33 1 40 1 42 1 41 1 36 1 29 1 19 1 8 1-3 1-15 1-23 1-31 1-35 1-38 1-39 1-39 1-40 1-39"/>
<path d="M0 60l1 1 1 0 1 1 1 0 1-1 1-3 1-7 1-15 1-23 1-31 1-36 1-36 1-34 1-28 1-19 1-9 1 2 1 13 1 22 1 29 1 34 1 36 1 35 1 34 1 33 1 32 1 32 1 32"/>
<path d="M0 59l1 0 1 0 1 1 1 2 1 2 1 5 1 8 1 11 1 15 1 17 1 17 1 15 1 11 1 5 1-1 1-8 1-13 1-18 1-21 1-21 1-21 1-18 1-14 1-11 1-8 1-8 1-8 1-8"/>
<path d="M0 -57l1-1 1-1 1-1 1-3 1-5 1-9 1-15 1-21 1-29 1-33 1-32 1-27 1-18 1-8 1 3 1 15 1 25 1 34 1 38 1 41 1 39 1 36 1 31 1 27 1 26 1 25 1 25 1 26"/>
<path d="M0 201l1 1 1 2 1 4 1 6 1 8 1 14 1 20 1 28 1 35 1 36 1 30 1 19 1 3 1-14 1-31 1-45 1-55 1-62 1-62 1-58 1-49 1-39 1-28 1-20 1-17 1-15 1-16 1-16"/>
<path d="M0 264l1 1 1 3 1 4 1 6 1 7 1 7 1 6 1 2 1-5 1-15 1-26 1-35 1-42 1-45 1-45 1-41 1-33 1-22 1-11 1 2 1 14 1 24 1 31 1 36 1 38 1 39 1 39 1 39"/>
<path d="M0 388l1 2 1 3 1 5 1 7 1 9 1 10 1 11 1 10 1 4 1-7 1-21 1-36 1-51 1-61 1-68 1-68 1-63 1-53 1-38 1-21 1-4 1 14 1 26 1 34 1 38 1 40 1 39 1 39"/>
<path d="M0 -106l1 0 1 0 1 0 1 1 1 2 1 6 1 14 1 24 1 37 1 50 1 56 1 58 1 53 1 43 1 29 1 13 1-5 1-22 1-36 1-48 1-55 1-58 1-57 1-55 1-53 1-53 1-52 1-52"/>
<path d="M0 -114l1-1 1 0 1-1 1 0 1 1 1 5 1 11 1 23 1 37 1 50 1 58 1 59 1 54 1 42 1 26 1 9 1-10 1-27 1-42 1-53 1-60 1-61 1-59 1-57 1-54 1-53 1-52 1-52"/>
<path d="M0 78l1 0 1 1 1 1 1 2 1 1 1 2 1 0 1-2 1-7 1-12 1-15 1-18 1-18 1-16 1-14 1-9 1-6 1 0 1 5 1 9 1 13 1 15 1 17 1 17 1 17 1 16 1 17 1 16"/>
<path d="M0 -195l1-1 1-2 1-3 1-5 1-8 1-12 1-16 1-22 1-24 1-22 1-14 1-2 1 13 1 25 1 37 1 46 1 51 1 51 1 48 1 40 1 29 1 19 1 10 1 5 1 2 1 2 1 3 1 4"/>
<path d="M0 -218l1-1 1-2 1-4 1-5 1-8 1-10 1-14 1-17 1-19 1-16 1-10 1 2 1 15 1 28 1 39 1 48 1 52 1 52 1 49 1 41 1 30 1 19 1 8 1 2 1-4 1-5 1-5 1-5"/>
<path d="M0 45l1 0 1 0 1 0 1 0 1-1 1-4 1-8 1-14 1-22 1-29 1-31 1-30 1-27 1-19 1-12 1-1 1 8 1 17 1 24 1 30 1 33 1 32 1 32 1 30 1 30 1 30 1 30 1 30"/>
<path d="M0 -127l1-1 1-2 1-3 1-4 1-7 1-11 1-15 1-23 1-30 1-32 1-31 1-25 1-15 1-2 1 10 1 23 1 34 1 41 1 45 1 47 1 43 1 38 1 31 1 24 1 21 1 19 1 19 1 18"/>
<path d="M0 -155l1 0 1-2 1-2 1-3 1-4 1-3 1-2 1 2 1 5 1 12 1 16 1 21 1 24 1 25 1 24 1 21 1 16 1 11 1 4 1-2 1-10 1-15 1-19 1-23 1-24 1-26 1-26 1-27"/>
<path d="M0 135l1 0 1 2 1 1 1 2 1 1 1-2 1-7 1-16 1-28 1-40 1-48 1-54 1-54 1-47 1-38 1-26 1-10 1 5 1 21 1 32 1 42 1 48 1 49 1 48 1 47 1 47 1 45 1 46"/>
<path d="M0 -139l1-1 1-1 1-2 1-2 1-3 1-3 1-2 1 2 1 8 1 16 1 23 1 30 1 34 1 33 1 32 1 27 1 20 1 12 1 2 1-6 1-14 1-19 1-23 1-24 1-23 1-24 1-22 1-22"/>
<path d="M0 -71l1 0 1 0 1 0 1 0 1 3 1 5 1 13 1 22 1 35 1 46 1 51 1 52 1 45 1 34 1 19 1 3 1-14 1-30 1-42 1-51 1-55 1-54 1-52 1-49 1-46 1-45 1-45 1-45"/>
<path d="M0 -181l1 0 1-2 1-3 1-4 1-4 1-3 1-2 1 4 1 12 1 22 1 31 1 39 1 41 1 40 1 35 1 29 1 19 1 7 1-3 1-14 1-23 1-29 1-33 1-34 1-34 1-34 1-33 1-32"/>
<path d="M0 -11l1 1 1 0 1 1 1 1 1 3 1 6 1 12 1 18 1 26 1 33 1 35 1 33 1 28 1 19 1 9 1-2 1-13 1-23 1-31 1-36 1-38 1-36 1-34 1-31 1-30 1-29 1-29 1-29"/>
<path d="M0 150l1 1 1 1 1 3 1 4 1 4 1 4 1 4 1 1 1-4 1-12 1-20 1-28 1-32 1-34 1-33 1-29 1-24 1-15 1-7 1 2 1 10 1 17 1 20 1 22 1 23 1 22 1 21 1 21"/>
<path d="M0 60l1 0 1 1 1 2 1 3 1 6 1 9 1 15 1 23 1 32 1 37 1 40 1 37 1 31 1 21 1 10 1-2 1-15 1-26 1-34 1-40 1-43 1-42 1-38 1-34 1-32 1-30 1-30 1-30"/>
<path d="M0 322l1 1 1 3 1 4 1 6 1 10 1 14 1 20 1 27 1 30 1 30 1 21 1 8 1-8 1-24 1-40 1-53 1-61 1-65 1-63 1-57 1-47 1-34 1-22 1-13 1-8 1-6 1-7 1-7"/>
<path d="M0 342l1 1 1 3 1 6 1 7 1 10 1 14 1 18 1 20 1 20 1 12 1 0 1-17 1-32 1-46 1-56 1-62 1-63 1-59 1-50 1-38 1-23 1-9 1 2 1 10 1 13 1 13 1 13 1 11"/>
<path d="M0 214l1 1 1 2 1 4 1 3 1 5 1 3 1-1 1-7 1-17 1-29 1-39 1-47 1-50 1-47 1-42 1-32 1-21 1-7 1 6 1 19 1 30 1 36 1 42 1 43 1 43 1 43 1 43 1 42"/>
<path d="M0 276l1 2 1 4 1 5 1 8 1 10 1 14 1 19 1 24 1 27 1 24 1 15 1 0 1-18 1-35 1-50 1-60 1-68 1-67 1-64 1-53 1-41 1-26 1-13 1-5 1 0 1 2 1 2 1 1"/>
<path d="M0 -92l1 0 1-1 1-2 1-1 1-2 1-1 1 2 1 4 1 9 1 14 1 17 1 19 1 20 1 18 1 16 1 12 1 7 1 2 1-4 1-9 1-13 1-17 1-19 1-20 1-21 1-23 1-23 1-23"/>
<path d="M0 -377l1-1 1-3 1-5 1-6 1-8 1-8 1-7 1-4 1 4 1 15 1 27 1 40 1 50 1 57 1 59 1 58 1 52 1 42 1 28 1 14 1-1 1-16 1-27 1-35 1-40 1-41 1-42 1-41"/>
<path d="M0 -294l1 0 1-2 1-2 1-2 1-2 1 1 1 7 1 19 1 34 1 50 1 64 1 72 1 72 1 66 1 54 1 37 1 18 1-3 1-23 1-40 1-54 1-63 1-67 1-67 1-67 1-66 1-65 1-64"/>
<path d="M0 266l1 1 1 3 1 5 1 6 1 7 1 7 1 6 1 3 1-4 1-14 1-25 1-37 1-47 1-52 1-55 1-52 1-45 1-35 1-22 1-7 1 6 1 19 1 28 1 33 1 36 1 37 1 37 1 37"/>
<path d="M0 33l1 0 1 1 1 1 1 2 1 2 1 5 1 6 1 10 1 13 1 13 1 13 1 8 1 4 1-1 1-6 1-11 1-15 1-18 1-19 1-19 1-18 1-15 1-13 1-11 1-11 1-10 1-11 1-11"/>
<path d="M0 1l1-1 1 0 1-1 1 0 1-1 1 0 1-1 1 0 1 0 1 0 1 1 1 1 1 1 1 1 1 1 1 2 1 1 1 0 1 1 1 0 1 0 1-1 1-1 1-1 1-1 1-1 1-1 1-2"/>
<path d="M0 -398l1 0 1-2 1-4 1-7 1-9 1-13 1-18 1-23 1-26 1-21 1-10 1 6 1 24 1 42 1 57 1 69 1 74 1 75 1 68 1 58 1 44 1 27 1 14 1 4 1-2 1-2 1-3 1-2"/>
<path d="M0 -56l1 0 1 0 1 0 1-1 1 0 1 1 1 4 1 8 1 15 1 21 1 25 1 27 1 26 1 21 1 15 1 7 1-2 1-10 1-18 1-22 1-26 1-27 1-26 1-24 1-23 1-22 1-21 1-21"/>
<path d="M0 -1l1-1 1 0 1-1 1-1 1-4 1-6 1-12 1-19 1-30 1-36 1-40 1-36 1-29 1-18 1-4 1 10 1 22 1 34 1 42 1 46 1 46 1 43 1 39 1 34 1 32 1 30 1 30 1 29"/>
<path d="M0 -150l1 0 1-1 1-1 1-2 1-2 1-1 1 3 1 8 1 16 1 23 1 29 1 33 1 34 1 31 1 27 1 20 1 11 1 1 1-8 1-17 1-24 1-28 1-32 1-33 1-35 1-35 1-35 1-36"/>
<path d="M0 159l1 1 1 2 1 3 1 5 1 9 1 13 1 21 1 31 1 39 1 44 1 41 1 31 1 16 1-2 1-20 1-36 1-51 1-60 1-64 1-64 1-59 1-49 1-40 1-32 1-28 1-27 1-27 1-27"/>
<path d="M0 -19l1 0 1 0 1-1 1-2 1-3 1-6 1-11 1-16 1-23 1-26 1-28 1-25 1-21 1-13 1-5 1 5 1 13 1 20 1 26 1 29 1 31 1 28 1 26 1 24 1 22 1 22 1 22 1 22"/>
<path d="M0 107l1 0 1 1 1 1 1 0 1-1 1-4 1-10 1-21 1-33 1-44 1-51 1-51 1-46 1-35 1-22 1-5 1 10 1 26 1 38 1 48 1 53 1 54 1 53 1 51 1 49 1 48 1 48 1 48"/>
<path d="M0 -9l1 0 1-1 1 0 1-2 1-4 1-8 1-13 1-22 1-30 1-35 1-36 1-32 1-24 1-15 1-4 1 8 1 19 1 28 1 35 1 40 1 40 1 39 1 37 1 34 1 33 1 34 1 33 1 35"/>
<path d="M0 -226l1-1 1-2 1-5 1-6 1-9 1-13 1-19 1-27 1-32 1-34 1-27 1-16 1 0 1 18 1 35 1 49 1 59 1 65 1 65 1 60 1 49 1 38 1 25 1 16 1 11 1 9 1 9 1 9"/>
<path d="M0 263l1 2 1 2 1 5 1 7 1 10 1 14 1 20 1 28 1 32 1 32 1 23 1 10 1-7 1-24 1-41 1-54 1-63 1-67 1-67 1-60 1-51 1-38 1-27 1-19 1-14 1-13 1-13 1-13"/>
<path d="M0 6l1 0 1 0 1 1 1 1 1 2 1 5 1 8 1 14 1 19 1 25 1 28 1 28 1 25 1 21 1 13 1 6 1-3 1-11 1-18 1-23 1-26 1-27 1-26 1-24 1-21 1-22 1-20 1-21"/>
<path d="M0 -144l1-1 1-1 1-3 1-5 1-6 1-10 1-15 1-22 1-27 1-29 1-27 1-20 1-9 1 2 1 16 1 27 1 36 1 43 1 46 1 45 1 40 1 33 1 26 1 19 1 15 1 13 1 13 1 13"/>
<path d="M0 -254l1-1 1-1 1-3 1-3 1-2 1-1 1 5 1 15 1 29 1 43 1 56 1 63 1 64 1 59 1 49 1 34 1 17 1-1 1-20 1-35 1-48 1-55 1-59 1-60 1-60 1-59 1-58 1-58"/>
<path d="M0 -125l1-1 1-1 1-2 1-4 1-4 1-6 1-6 1-6 1-4 1 1 1 6 1 13 1 20 1 25 1 27 1 29 1 27 1 24 1 18 1 12 1 5 1-2 1-6 1-8 1-10 1-11 1-9 1-10"/>
<path d="M0 -214l1-1 1-2 1-4 1-6 1-8 1-12 1-15 1-21 1-24 1-24 1-18 1-8 1 4 1 18 1 31 1 41 1 48 1 51 1 50 1 46 1 36 1 27 1 16 1 9 1 3 1 2 1 1 1 1"/>
<path d="M0 -42l1 0 1-1 1-1 1-2 1-2 1-4 1-4 1-4 1-5 1-3 1 0 1 3 1 7 1 9 1 10 1 12 1 12 1 12 1 9 1 7 1 5 1 2 1 0 1 0 1-1 1-1 1 0 1 0"/>
<path d="M0 248l1 1 1 3 1 4 1 6 1 9 1 12 1 15 1 19 1 20 1 18 1 9 1-2 1-18 1-31 1-43 1-52 1-56 1-56 1-52 1-43 1-31 1-19 1-7 1 1 1 5 1 6 1 8 1 6"/>
<path d="M0 287l1 1 1 3 1 5 1 7 1 9 1 12 1 14 1 17 1 17 1 13 1 4 1-8 1-22 1-35 1-47 1-54 1-57 1-57 1-50 1-41 1-29 1-16 1-3 1 6 1 12 1 14 1 15 1 15"/>
<path d="M0 -175l1 0 1-2 1-3 1-3 1-4 1-3 1-2 1 0 1 5 1 11 1 17 1 23 1 27 1 31 1 31 1 31 1 27 1 21 1 14 1 6 1-2 1-9 1-16 1-20 1-24 1-25 1-25 1-27"/>
<path d="M0 -349l1 0 1-3 1-5 1-6 1-7 1-8 1-7 1-2 1 6 1 18 1 30 1 43 1 52 1 56 1 57 1 53 1 44 1 32 1 18 1 3 1-13 1-26 1-35 1-42 1-44 1-45 1-45 1-45"/>
<path d="M0 246l1 0 1 2 1 3 1 4 1 3 1 2 1-3 1-11 1-20 1-32 1-43 1-52 1-57 1-57 1-52 1-42 1-30 1-14 1 2 1 18 1 31 1 42 1 48 1 51 1 54 1 54 1 54 1 54"/>
<path d="M0 92l1 1 1 2 1 2 1 3 1 5 1 6 1 9 1 12 1 16 1 17 1 17 1 13 1 6 1-1 1-9 1-17 1-23 1-27 1-29 1-29 1-27 1-21 1-17 1-11 1-8 1-6 1-5 1-4"/>
<path d="M0 156l1 0 1 1 1 2 1 3 1 4 1 3 1 1 1-1 1-5 1-10 1-16 1-19 1-23 1-24 1-24 1-21 1-17 1-11 1-5 1 2 1 9 1 14 1 19 1 23 1 24 1 26 1 26 1 26"/>
<path d="M0 35l1 1 1 1 1 2 1 2 1 4 1 5 1 10 1 14 1 18 1 22 1 22 1 20 1 16 1 9 1 3 1-5 1-12 1-18 1-22 1-25 1-25 1-23 1-21 1-18 1-16 1-16 1-15 1-16"/>
<path d="M0 66l1 1 1 1 1 2 1 3 1 5 1 9 1 15 1 23 1 29 1 34 1 31 1 25 1 16 1 4 1-7 1-20 1-29 1-37 1-41 1-43 1-41 1-37 1-32 1-28 1-27 1-27 1-27 1-27"/>
<path d="M0 153l1 0 1 2 1 1 1 2 1 1 1-3 1-8 1-17 1-27 1-38 1-47 1-52 1-53 1-49 1-41 1-30 1-16 1-2 1 14 1 27 1 37 1 44 1 48 1 50 1 49 1 51 1 50 1 51"/>
<path d="M0 48l1 1 1 0 1 1 1 0 1-1 1-5 1-9 1-17 1-27 1-34 1-39 1-37 1-33 1-23 1-13 1 0 1 11 1 23 1 32 1 38 1 41 1 41 1 39 1 37 1 37 1 35 1 36 1 35"/>
<path d="M0 -163l1 0 1-1 1-2 1-3 1-4 1-4 1-4 1-3 1 0 1 7 1 16 1 24 1 31 1 36 1 38 1 36 1 32 1 24 1 16 1 5 1-4 1-12 1-17 1-20 1-21 1-21 1-21 1-20"/>
<path d="M0 -118l1 0 1-1 1-3 1-3 1-3 1-4 1-3 1-2 1 3 1 8 1 16 1 22 1 28 1 31 1 32 1 30 1 27 1 20 1 14 1 6 1-2 1-8 1-12 1-14 1-15 1-15 1-14 1-14"/>
<path d="M0 -281l1-1 1-3 1-5 1-7 1-9 1-11 1-12 1-14 1-13 1-7 1 3 1 17 1 30 1 44 1 53 1 58 1 59 1 55 1 46 1 34 1 20 1 6 1-7 1-15 1-19 1-22 1-22 1-22"/>
<path d="M0 438l1 1 1 3 1 5 1 7 1 8 1 10 1 11 1 9 1 4 1-6 1-22 1-38 1-54 1-67 1-73 1-75 1-71 1-61 1-47 1-30 1-12 1 7 1 20 1 29 1 34 1 34 1 35 1 34"/>
<path d="M0 -104l1 0 1-1 1-2 1-2 1-4 1-5 1-6 1-8 1-8 1-6 1-3 1 2 1 7 1 11 1 14 1 18 1 18 1 19 1 16 1 14 1 9 1 5 1 1 1-2 1-3 1-4 1-4 1-4"/>
<path d="M0 77l1 0 1 0 1 1 1 2 1 4 1 6 1 8 1 12 1 14 1 15 1 14 1 10 1 5 1 1 1-6 1-10 1-15 1-17 1-20 1-19 1-18 1-14 1-11 1-9 1-7 1-7 1-8 1-7"/>
<path d="M0 233l1 1 1 2 1 4 1 5 1 5 1 6 1 4 1-1 1-8 1-16 1-26 1-32 1-36 1-37 1-36 1-30 1-23 1-13 1-3 1 8 1 18 1 25 1 31 1 36 1 37 1 38 1 39 1 38"/>
<path d="M0 254l1 1 1 3 1 3 1 4 1 4 1 2 1-2 1-9 1-18 1-30 1-40 1-47 1-51 1-52 1-47 1-41 1-29 1-16 1-2 1 12 1 25 1 35 1 42 1 48 1 49 1 52 1 52 1 53"/>
<path d="M0 -138l1-1 1-1 1-2 1-2 1-2 1 0 1 4 1 11 1 20 1 31 1 39 1 44 1 45 1 41 1 33 1 23 1 9 1-3 1-16 1-27 1-35 1-40 1-41 1-41 1-40 1-40 1-39 1-39"/>
<path d="M0 234l1 1 1 3 1 5 1 6 1 10 1 14 1 19 1 25 1 30 1 29 1 22 1 9 1-5 1-22 1-36 1-48 1-56 1-59 1-58 1-51 1-41 1-29 1-18 1-10 1-6 1-5 1-4 1-5"/>
<path d="M0 180l1 0 1 2 1 3 1 5 1 8 1 12 1 18 1 27 1 34 1 38 1 37 1 30 1 19 1 5 1-10 1-24 1-37 1-46 1-52 1-54 1-52 1-46 1-37 1-31 1-25 1-23 1-23 1-22"/>
<path d="M0 221l1 1 1 2 1 2 1 3 1 2 1 1 1-6 1-14 1-27 1-41 1-54 1-62 1-63 1-60 1-51 1-38 1-21 1-4 1 14 1 29 1 43 1 51 1 54 1 56 1 55 1 54 1 54 1 54"/>
<path d="M0 -211l1-1 1-2 1-2 1-4 1-3 1-1 1 3 1 10 1 21 1 34 1 45 1 54 1 59 1 57 1 51 1 40 1 26 1 10 1-6 1-21 1-35 1-43 1-48 1-49 1-49 1-49 1-48 1-48"/>
<path d="M0 -302l1-1 1-2 1-3 1-4 1-3 1-1 1 4 1 13 1 24 1 39 1 51 1 58 1 62 1 61 1 53 1 43 1 28 1 11 1-5 1-22 1-36 1-46 1-52 1-57 1-58 1-59 1-60 1-59"/>
<path d="M0 -184l1-1 1-1 1-3 1-5 1-5 1-6 1-6 1-5 1 0 1 6 1 14 1 22 1 29 1 32 1 34 1 33 1 29 1 22 1 15 1 6 1-3 1-11 1-16 1-19 1-21 1-21 1-21 1-21"/>
<path d="M0 188l1 1 1 1 1 3 1 3 1 2 1 0 1-4 1-11 1-22 1-33 1-41 1-45 1-46 1-42 1-35 1-25 1-13 1 1 1 13 1 25 1 33 1 40 1 43 1 44 1 46 1 46 1 46 1 46"/>
<path d="M0 161l1 0 1 2 1 3 1 4 1 7 1 11 1 15 1 22 1 28 1 31 1 29 1 23 1 13 1 1 1-13 1-24 1-35 1-42 1-45 1-45 1-40 1-33 1-25 1-17 1-12 1-10 1-10 1-9"/>
<path d="M0 236l1 0 1 3 1 3 1 6 1 6 1 8 1 8 1 8 1 4 1-2 1-12 1-22 1-33 1-42 1-48 1-49 1-47 1-42 1-33 1-22 1-9 1 2 1 11 1 18 1 21 1 23 1 22 1 23"/>
<path d="M0 -96l1-1 1-1 1-3 1-3 1-5 1-5 1-7 1-9 1-10 1-8 1-7 1-2 1 2 1 8 1 13 1 16 1 19 1 20 1 20 1 16 1 14 1 8 1 4 1 0 1-2 1-4 1-3 1-4"/>
<path d="M0 -212l1-1 1-2 1-4 1-5 1-7 1-7 1-8 1-6 1-2 1 3 1 11 1 18 1 23 1 27 1 29 1 28 1 26 1 21 1 14 1 8 1 0 1-8 1-14 1-19 1-22 1-22 1-23 1-22"/>
<path d="M0 187l1 1 1 2 1 4 1 5 1 6 1 9 1 11 1 12 1 10 1 7 1-1 1-8 1-16 1-22 1-27 1-30 1-30 1-28 1-24 1-18 1-10 1-3 1 4 1 7 1 10 1 11 1 10 1 9"/>
<path d="M0 143l1 0 1 1 1 3 1 4 1 6 1 9 1 13 1 19 1 22 1 24 1 21 1 16 1 8 1-1 1-12 1-21 1-28 1-34 1-35 1-35 1-30 1-24 1-18 1-11 1-8 1-7 1-5 1-6"/>
<path d="M0 -237l1-2 1-2 1-5 1-6 1-9 1-13 1-16 1-21 1-21 1-18 1-9 1 4 1 20 1 32 1 45 1 52 1 56 1 54 1 50 1 40 1 28 1 16 1 6 1-1 1-4 1-5 1-4 1-4"/>
<path d="M0 4l1 0 1 0 1 0 1 0 1 1 1 2 1 5 1 7 1 10 1 11 1 11 1 11 1 10 1 8 1 6 1 2 1-1 1-3 1-7 1-9 1-10 1-10 1-10 1-10 1-10 1-10 1-11 1-11"/>
<path d="M0 69l1 0 1 1 1 2 1 3 1 5 1 8 1 14 1 19 1 27 1 32 1 32 1 28 1 20 1 10 1-2 1-13 1-23 1-32 1-38 1-39 1-38 1-34 1-28 1-24 1-20 1-20 1-19 1-19"/>
<path d="M0 -122l1-1 1-1 1-2 1-3 1-4 1-4 1-5 1-3 1 1 1 6 1 12 1 18 1 21 1 22 1 21 1 20 1 16 1 11 1 6 1-1 1-6 1-10 1-14 1-15 1-16 1-15 1-15 1-15"/>
<path d="M0 -238l1-1 1-2 1-3 1-5 1-5 1-6 1-4 1 0 1 6 1 16 1 26 1 35 1 44 1 47 1 48 1 45 1 39 1 28 1 18 1 5 1-7 1-17 1-25 1-29 1-31 1-32 1-31 1-32"/>
<path d="M0 76l1 1 1 0 1 2 1 2 1 2 1 3 1 2 1 2 1 2 1 0 1-1 1-3 1-6 1-7 1-10 1-10 1-12 1-10 1-10 1-7 1-5 1-1 1 2 1 4 1 7 1 9 1 10 1 10"/>
<path d="M0 28l1 0 1 1 1 0 1 0 1-2 1-4 1-8 1-14 1-21 1-27 1-29 1-29 1-24 1-18 1-9 1 1 1 10 1 18 1 25 1 30 1 31 1 31 1 29 1 28 1 26 1 26 1 27 1 27"/>
<path d="M0 209l1 0 1 2 1 4 1 4 1 5 1 4 1 2 1-2 1-11 1-19 1-28 1-34 1-37 1-37 1-33 1-28 1-19 1-10 1 0 1 10 1 19 1 26 1 31 1 34 1 36 1 36 1 36 1 35"/>
<path d="M0 -80l1-1 1 0 1-1 1 0 1 2 1 5 1 12 1 21 1 32 1 42 1 50 1 52 1 50 1 43 1 32 1 20 1 5 1-10 1-24 1-35 1-44 1-48 1-49 1-49 1-47 1-47 1-48 1-47"/>
<path d="M0 270l1 1 1 2 1 4 1 7 1 9 1 14 1 20 1 27 1 34 1 34 1 27 1 14 1-2 1-20 1-37 1-51 1-62 1-69 1-68 1-65 1-55 1-44 1-32 1-24 1-18 1-16 1-15 1-16"/>
<path d="M0 -32l1 1 1 0 1 1 1 2 1 4 1 8 1 17 1 26 1 38 1 46 1 49 1 45 1 36 1 25 1 9 1-6 1-22 1-35 1-45 1-52 1-53 1-52 1-48 1-45 1-44 1-44 1-45 1-45"/>
<path d="M0 -6l1 0 1 1 1 0 1 2 1 3 1 7 1 11 1 21 1 30 1 38 1 42 1 40 1 33 1 23 1 9 1-4 1-18 1-30 1-39 1-45 1-47 1-45 1-40 1-37 1-34 1-33 1-32 1-32"/>
<path d="M0 -300l1-1 1-2 1-4 1-4 1-4 1-2 1 4 1 12 1 24 1 38 1 51 1 61 1 66 1 66 1 60 1 50 1 34 1 18 1-1 1-19 1-34 1-46 1-54 1-57 1-60 1-60 1-61 1-60"/>
<path d="M0 400l1 1 1 2 1 4 1 4 1 5 1 3 1-2 1-9 1-23 1-38 1-52 1-62 1-68 1-67 1-62 1-51 1-38 1-20 1-3 1 15 1 30 1 44 1 52 1 57 1 59 1 59 1 59 1 58"/>
<path d="M0 -202l1-1 1-2 1-4 1-6 1-6 1-8 1-8 1-7 1-5 1 0 1 7 1 13 1 19 1 25 1 27 1 29 1 28 1 25 1 19 1 12 1 5 1-3 1-10 1-15 1-19 1-19 1-20 1-21"/>
<path d="M0 433l1 1 1 2 1 5 1 6 1 10 1 13 1 18 1 22 1 22 1 15 1 1 1-17 1-36 1-52 1-67 1-74 1-76 1-72 1-63 1-48 1-31 1-14 1 1 1 9 1 13 1 12 1 12 1 10"/>
<path d="M0 -269l1-1 1-4 1-5 1-7 1-10 1-12 1-16 1-18 1-17 1-12 1-1 1 13 1 26 1 37 1 47 1 53 1 54 1 52 1 45 1 34 1 23 1 10 1 1 1-7 1-10 1-11 1-10 1-10"/>
<path d="M0 -258l1-1 1-3 1-4 1-5 1-7 1-7 1-6 1-2 1 4 1 13 1 22 1 31 1 38 1 42 1 42 1 40 1 35 1 27 1 17 1 7 1-4 1-14 1-21 1-26 1-29 1-30 1-31 1-30"/>
<path d="M0 119l1 0 1 0 1 2 1 1 1 1 1 0 1-3 1-9 1-18 1-28 1-35 1-41 1-41 1-36 1-29 1-18 1-5 1 7 1 18 1 28 1 35 1 37 1 38 1 36 1 35 1 33 1 32 1 32"/>
<path d="M0 282l1 1 1 3 1 4 1 7 1 8 1 10 1 11 1 11 1 9 1 2 1-7 1-16 1-26 1-35 1-40 1-43 1-42 1-38 1-32 1-22 1-11 1-1 1 10 1 16 1 21 1 23 1 23 1 23"/>
<path d="M0 -263l1-1 1-3 1-3 1-5 1-4 1-3 1 2 1 9 1 19 1 31 1 41 1 47 1 50 1 48 1 42 1 33 1 20 1 7 1-8 1-21 1-32 1-40 1-47 1-50 1-52 1-53 1-54 1-54"/>
<path d="M0 -154l1-1 1-1 1-2 1-3 1-3 1-2 1-1 1 4 1 9 1 18 1 25 1 31 1 36 1 36 1 34 1 28 1 22 1 12 1 3 1-6 1-15 1-22 1-25 1-27 1-27 1-28 1-27 1-28"/>
<path d="M0 -28l1 0 1 0 1 0 1 0 1 1 1 2 1 4 1 7 1 12 1 14 1 16 1 14 1 11 1 8 1 2 1-1 1-7 1-11 1-14 1-16 1-17 1-17 1-17 1-16 1-17 1-16 1-17 1-17"/>
<path d="M0 -23l1 0 1-1 1-1 1-2 1-5 1-8 1-14 1-24 1-36 1-45 1-50 1-49 1-42 1-29 1-14 1 2 1 18 1 32 1 45 1 52 1 56 1 54 1 51 1 44 1 41 1 38 1 36 1 37"/>
<path d="M0 -20l1 0 1 0 1 0 1 1 1 2 1 5 1 9 1 16 1 23 1 28 1 32 1 29 1 26 1 18 1 9 1-1 1-11 1-19 1-27 1-31 1-33 1-33 1-30 1-29 1-28 1-27 1-28 1-27"/>
<path d="M0 -88l1 0 1-1 1-2 1-3 1-3 1-5 1-6 1-8 1-9 1-8 1-5 1-2 1 3 1 9 1 13 1 17 1 20 1 21 1 19 1 17 1 13 1 8 1 4 1 0 1-2 1-3 1-4 1-3"/>
<path d="M0 406l1 1 1 3 1 5 1 7 1 9 1 14 1 19 1 23 1 23 1 16 1 4 1-14 1-30 1-47 1-59 1-66 1-70 1-67 1-59 1-47 1-31 1-16 1-3 1 5 1 9 1 8 1 8 1 6"/>
<path d="M0 -117l1-1 1-2 1-2 1-4 1-4 1-5 1-6 1-6 1-5 1-2 1 2 1 6 1 11 1 15 1 18 1 20 1 20 1 19 1 16 1 11 1 6 1 1 1-3 1-7 1-9 1-11 1-10 1-11"/>
<path d="M0 -222l1-1 1-2 1-4 1-5 1-7 1-7 1-8 1-5 1-1 1 6 1 18 1 27 1 37 1 43 1 45 1 44 1 40 1 32 1 21 1 11 1-1 1-12 1-18 1-23 1-25 1-25 1-24 1-24"/>
<path d="M0 188l1 1 1 2 1 3 1 5 1 6 1 8 1 9 1 10 1 7 1 3 1-6 1-14 1-22 1-28 1-33 1-35 1-34 1-30 1-25 1-17 1-9 1-1 1 5 1 9 1 12 1 12 1 11 1 11"/>
<path d="M0 118l1 1 1 1 1 2 1 2 1 2 1 0 1-3 1-9 1-17 1-26 1-32 1-36 1-35 1-31 1-25 1-16 1-7 1 4 1 13 1 21 1 27 1 32 1 32 1 34 1 33 1 33 1 32 1 32"/>
<path d="M0 215l1 1 1 2 1 3 1 3 1 4 1 2 1-1 1-6 1-13 1-23 1-31 1-38 1-43 1-46 1-44 1-41 1-33 1-24 1-12 1 0 1 11 1 21 1 30 1 35 1 38 1 40 1 41 1 41"/>
<path d="M0 117l1 0 1 2 1 2 1 3 1 4 1 5 1 5 1 6 1 4 1 1 1-2 1-6 1-9 1-12 1-15 1-16 1-16 1-14 1-12 1-8 1-4 1 0 1 5 1 8 1 10 1 11 1 11 1 12"/>
<path d="M0 359l1 1 1 2 1 2 1 3 1 3 1-1 1-6 1-16 1-31 1-49 1-63 1-75 1-78 1-76 1-66 1-51 1-31 1-10 1 13 1 33 1 50 1 62 1 68 1 70 1 70 1 70 1 69 1 69"/>
<path d="M0 268l1 1 1 3 1 6 1 7 1 10 1 13 1 16 1 19 1 21 1 18 1 11 1 1 1-11 1-23 1-33 1-41 1-46 1-46 1-44 1-37 1-27 1-16 1-6 1 4 1 8 1 10 1 11 1 11"/>
<path d="M0 -314l1-2 1-3 1-5 1-7 1-10 1-13 1-17 1-19 1-18 1-13 1-3 1 10 1 25 1 37 1 47 1 55 1 57 1 55 1 49 1 39 1 27 1 14 1 2 1-6 1-11 1-13 1-12 1-13"/>
<path d="M0 145l1 1 1 1 1 2 1 2 1 0 1-2 1-8 1-18 1-28 1-39 1-48 1-50 1-50 1-44 1-35 1-24 1-10 1 4 1 17 1 29 1 38 1 44 1 47 1 47 1 48 1 48 1 49 1 48"/>
<path d="M0 257l1 1 1 3 1 4 1 7 1 9 1 13 1 16 1 23 1 25 1 25 1 18 1 6 1-8 1-25 1-39 1-50 1-58 1-60 1-58 1-50 1-40 1-27 1-14 1-5 1 0 1 4 1 3 1 4"/>
<path d="M0 7l1 0 1 1 1 0 1 1 1 0 1 2 1 1 1 1 1 0 1-1 1-3 1-5 1-4 1-3 1-1 1 0 1 1 1 3 1 4 1 5 1 5 1 5 1 3 1 3 1 2 1 0 1 0 1 0"/>
<path d="M0 -68l1-1 1-1 1-3 1-4 1-6 1-10 1-17 1-25 1-34 1-40 1-41 1-38 1-29 1-19 1-5 1 10 1 22 1 33 1 42 1 47 1 48 1 45 1 39 1 35 1 31 1 30 1 29 1 30"/>
<path d="M0 140l1 1 1 1 1 1 1 1 1 1 1-2 1-8 1-15 1-24 1-35 1-42 1-46 1-45 1-42 1-34 1-24 1-11 1 2 1 14 1 26 1 34 1 40 1 43 1 43 1 44 1 44 1 45 1 45"/>
<path d="M0 -84l1-1 1-1 1-2 1-4 1-4 1-7 1-9 1-11 1-14 1-14 1-13 1-11 1-8 1-3 1 2 1 7 1 12 1 15 1 16 1 18 1 16 1 13 1 10 1 7 1 5 1 3 1 3 1 3"/>
<path d="M0 -163l1-1 1-1 1-2 1-2 1-1 1 2 1 7 1 16 1 26 1 37 1 45 1 48 1 47 1 42 1 34 1 22 1 9 1-5 1-17 1-30 1-38 1-43 1-46 1-48 1-48 1-49 1-50 1-49"/>
<path d="M0 -288l1-1 1-3 1-5 1-7 1-10 1-15 1-20 1-26 1-31 1-31 1-24 1-14 1 0 1 14 1 29 1 42 1 50 1 56 1 57 1 53 1 45 1 35 1 24 1 15 1 10 1 8 1 8 1 8"/>
<path d="M0 236l1 1 1 3 1 5 1 6 1 9 1 10 1 13 1 15 1 14 1 9 1 0 1-13 1-25 1-36 1-44 1-50 1-51 1-49 1-42 1-33 1-21 1-10 1-1 1 5 1 9 1 10 1 10 1 9"/>
<path d="M0 -133l1 0 1-1 1-1 1-1 1 0 1 2 1 9 1 17 1 30 1 42 1 52 1 56 1 56 1 49 1 39 1 26 1 10 1-6 1-21 1-35 1-44 1-49 1-51 1-51 1-48 1-48 1-47 1-47"/>
<path d="M0 -258l1-1 1-2 1-4 1-6 1-9 1-11 1-13 1-17 1-16 1-12 1-1 1 11 1 26 1 39 1 50 1 55 1 58 1 54 1 46 1 35 1 21 1 8 1-3 1-10 1-14 1-16 1-15 1-15"/>
<path d="M0 118l1 1 1 1 1 1 1 2 1 2 1 0 1-2 1-6 1-13 1-20 1-26 1-28 1-29 1-27 1-23 1-17 1-10 1-2 1 6 1 14 1 19 1 23 1 26 1 27 1 27 1 27 1 28 1 27"/>
<path d="M0 7l1-1 1 0 1-1 1-2 1-4 1-10 1-17 1-28 1-42 1-52 1-56 1-52 1-43 1-28 1-11 1 7 1 25 1 40 1 53 1 61 1 64 1 63 1 59 1 55 1 52 1 50 1 50 1 49"/>
<path d="M0 45l1 0 1 0 1 1 1 1 1 1 1 2 1 1 1 1 1-1 1-4 1-5 1-8 1-8 1-9 1-8 1-6 1-5 1-3 1-1 1 1 1 4 1 5 1 6 1 6 1 7 1 7 1 6 1 6"/>
<path d="M0 268l1 1 1 2 1 4 1 5 1 6 1 6 1 4 1-1 1-9 1-20 1-32 1-42 1-48 1-51 1-49 1-44 1-34 1-23 1-10 1 5 1 16 1 27 1 34 1 38 1 40 1 40 1 40 1 39"/>
<path d="M0 148l1 0 1 1 1 2 1 2 1 1 1-1 1-5 1-13 1-24 1-34 1-41 1-45 1-42 1-35 1-26 1-14 1-1 1 11 1 24 1 33 1 39 1 44 1 44 1 44 1 43 1 43 1 43 1 42"/>
<path d="M0 73l1 0 1 1 1 2 1 3 1 4 1 7 1 10 1 14 1 18 1 20 1 19 1 14 1 8 1 2 1-6 1-13 1-20 1-24 1-26 1-26 1-24 1-21 1-17 1-13 1-12 1-11 1-11 1-11"/>
<path d="M0 216l1 1 1 2 1 4 1 6 1 7 1 10 1 12 1 13 1 12 1 7 1-2 1-13 1-22 1-32 1-38 1-42 1-42 1-38 1-32 1-24 1-13 1-4 1 5 1 9 1 12 1 13 1 12 1 11"/>
<path d="M0 -221l1-1 1-2 1-3 1-4 1-5 1-4 1-1 1 5 1 13 1 23 1 33 1 41 1 44 1 45 1 42 1 34 1 26 1 13 1 2 1-11 1-21 1-29 1-35 1-38 1-40 1-39 1-40 1-39"/>
<path d="M0 -185l1-1 1-2 1-3 1-4 1-6 1-6 1-7 1-7 1-5 1 0 1 7 1 15 1 24 1 33 1 37 1 40 1 39 1 36 1 29 1 21 1 12 1 1 1-6 1-11 1-15 1-16 1-17 1-16"/>
<path d="M0 106l1 1 1 0 1 2 1 1 1 0 1-2 1-6 1-14 1-23 1-34 1-40 1-45 1-43 1-38 1-29 1-17 1-4 1 10 1 21 1 31 1 38 1 42 1 41 1 40 1 39 1 38 1 38 1 38"/>
<path d="M0 -6l1 0 1-1 1-1 1-1 1-3 1-5 1-9 1-15 1-22 1-29 1-31 1-30 1-26 1-18 1-8 1 2 1 12 1 21 1 28 1 33 1 34 1 33 1 30 1 27 1 24 1 23 1 22 1 22"/>
<path d="M0 95l1 1 1 1 1 2 1 3 1 3 1 5 1 6 1 6 1 7 1 6 1 5 1 3 1-1 1-4 1-8 1-10 1-12 1-14 1-13 1-12 1-9 1-6 1-2 1 1 1 4 1 5 1 6 1 6"/>
<path d="M0 -67l1-1 1-1 1-1 1-3 1-4 1-7 1-10 1-16 1-22 1-25 1-25 1-20 1-12 1-2 1 9 1 20 1 28 1 34 1 38 1 39 1 36 1 31 1 26 1 21 1 18 1 16 1 16 1 15"/>
<path d="M0 -86l1 0 1-1 1-3 1-3 1-7 1-12 1-19 1-30 1-42 1-49 1-50 1-42 1-28 1-10 1 9 1 27 1 44 1 57 1 65 1 67 1 65 1 58 1 50 1 43 1 40 1 37 1 37 1 37"/>
<path d="M0 -71l1 0 1 0 1 1 1 0 1 3 1 6 1 13 1 21 1 32 1 39 1 43 1 41 1 35 1 27 1 15 1 2 1-11 1-23 1-33 1-39 1-44 1-44 1-43 1-43 1-42 1-43 1-43 1-44"/>
<path d="M0 110l1 1 1 1 1 3 1 4 1 6 1 8 1 14 1 18 1 23 1 25 1 23 1 17 1 10 1 0 1-9 1-18 1-25 1-31 1-34 1-34 1-32 1-27 1-21 1-17 1-14 1-13 1-13 1-14"/>
<path d="M0 115l1 0 1 2 1 2 1 4 1 4 1 7 1 9 1 11 1 12 1 10 1 7 1 0 1-7 1-14 1-19 1-24 1-26 1-27 1-24 1-21 1-16 1-10 1-5 1-1 1 0 1 1 1 0 1 0"/>
<path d="M0 -278l1 0 1-2 1-3 1-4 1-2 1-1 1 6 1 15 1 30 1 44 1 55 1 61 1 60 1 55 1 43 1 29 1 11 1-6 1-24 1-39 1-50 1-57 1-61 1-62 1-63 1-62 1-61 1-62"/>
<path d="M0 -164l1-1 1-1 1-1 1-2 1-1 1 1 1 7 1 15 1 27 1 39 1 49 1 55 1 54 1 49 1 40 1 26 1 10 1-5 1-21 1-34 1-43 1-49 1-51 1-50 1-49 1-49 1-48 1-48"/>
<path d="M0 -62l1 0 1 0 1 0 1-1 1 0 1 1 1 3 1 9 1 16 1 23 1 28 1 30 1 28 1 22 1 16 1 7 1-3 1-11 1-18 1-25 1-28 1-29 1-29 1-27 1-25 1-24 1-23 1-22"/>
<path d="M0 -285l1-1 1-1 1-4 1-5 1-9 1-15 1-23 1-34 1-42 1-45 1-37 1-20 1 2 1 27 1 49 1 68 1 82 1 87 1 87 1 78 1 64 1 48 1 33 1 22 1 17 1 17 1 17 1 18"/>
<path d="M0 -103l1 0 1-1 1-2 1-1 1-1 1 0 1 4 1 9 1 18 1 24 1 30 1 31 1 28 1 24 1 18 1 9 1 0 1-8 1-17 1-23 1-28 1-30 1-31 1-32 1-32 1-31 1-31 1-32"/>
<path d="M0 181l1 1 1 2 1 4 1 6 1 9 1 13 1 18 1 26 1 32 1 33 1 29 1 18 1 3 1-12 1-27 1-41 1-52 1-57 1-59 1-57 1-49 1-40 1-31 1-23 1-19 1-17 1-17 1-17"/>
<path d="M0 -261l1-2 1-3 1-5 1-7 1-9 1-13 1-15 1-18 1-17 1-13 1-4 1 6 1 18 1 28 1 36 1 43 1 44 1 42 1 38 1 29 1 19 1 8 1-2 1-9 1-13 1-14 1-14 1-13"/>
<path d="M0 -1l1 0 1 0 1-1 1-1 1-2 1-4 1-8 1-13 1-19 1-24 1-25 1-25 1-20 1-14 1-7 1 2 1 11 1 17 1 24 1 26 1 28 1 27 1 24 1 23 1 20 1 21 1 20 1 21"/>
<path d="M0 -192l1-1 1-2 1-4 1-5 1-7 1-9 1-11 1-13 1-14 1-11 1-7 1-1 1 6 1 14 1 20 1 25 1 28 1 29 1 27 1 24 1 17 1 10 1 4 1-3 1-6 1-8 1-8 1-9"/>
<path d="M0 -82l1 0 1 0 1-1 1 0 1 1 1 4 1 9 1 17 1 27 1 35 1 39 1 41 1 37 1 31 1 22 1 10 1-2 1-14 1-23 1-33 1-37 1-40 1-39 1-39 1-39 1-38 1-39 1-39"/>
<path d="M0 206l1 1 1 2 1 4 1 6 1 7 1 9 1 12 1 13 1 13 1 10 1 2 1-7 1-18 1-28 1-36 1-41 1-43 1-42 1-38 1-31 1-22 1-12 1-4 1 3 1 5 1 8 1 7 1 8"/>
<path d="M0 -189l1-1 1-2 1-3 1-3 1-3 1-1 1 3 1 10 1 20 1 31 1 40 1 48 1 50 1 50 1 45 1 37 1 26 1 13 1-1 1-14 1-26 1-34 1-40 1-42 1-43 1-44 1-44 1-45"/>
<path d="M0 139l1 0 1 1 1 1 1 1 1-1 1-5 1-12 1-21 1-34 1-45 1-51 1-53 1-49 1-42 1-30 1-17 1-2 1 14 1 26 1 38 1 46 1 51 1 52 1 53 1 53 1 54 1 54 1 54"/>
<path d="M0 280l1 1 1 3 1 4 1 5 1 5 1 5 1 1 1-6 1-16 1-28 1-40 1-49 1-54 1-54 1-51 1-43 1-31 1-17 1-1 1 14 1 26 1 37 1 44 1 49 1 50 1 51 1 51 1 51"/>
<path d="M0 217l1 1 1 1 1 4 1 4 1 6 1 8 1 7 1 8 1 4 1-1 1-8 1-16 1-25 1-31 1-35 1-37 1-35 1-31 1-24 1-15 1-6 1 4 1 11 1 17 1 20 1 22 1 21 1 22"/>
<path d="M0 -49l1-1 1-1 1-2 1-4 1-5 1-9 1-14 1-22 1-28 1-33 1-33 1-29 1-20 1-11 1 2 1 13 1 23 1 32 1 38 1 40 1 40 1 35 1 32 1 27 1 25 1 25 1 24 1 25"/>
<path d="M0 -184l1-1 1-2 1-4 1-4 1-6 1-5 1-4 1-1 1 4 1 12 1 19 1 27 1 32 1 35 1 35 1 32 1 27 1 20 1 11 1 1 1-7 1-16 1-21 1-24 1-26 1-28 1-27 1-27"/>
<path d="M0 201l1 1 1 2 1 3 1 5 1 6 1 6 1 6 1 4 1-1 1-10 1-20 1-30 1-40 1-45 1-46 1-44 1-38 1-29 1-18 1-5 1 7 1 16 1 24 1 27 1 28 1 28 1 27 1 27"/>
<path d="M0 -136l1-1 1-3 1-3 1-4 1-6 1-8 1-9 1-10 1-11 1-7 1-2 1 8 1 16 1 24 1 30 1 34 1 35 1 33 1 28 1 21 1 14 1 5 1-1 1-5 1-6 1-8 1-7 1-7"/>
<path d="M0 1l1 0 1 0 1 1 1 1 1 2 1 4 1 8 1 12 1 18 1 22 1 26 1 25 1 24 1 20 1 14 1 6 1-2 1-8 1-16 1-21 1-23 1-24 1-23 1-22 1-19 1-20 1-18 1-19"/>
<path d="M0 217l1 0 1 2 1 4 1 6 1 8 1 11 1 16 1 20 1 25 1 24 1 19 1 11 1 1 1-13 1-23 1-34 1-41 1-45 1-45 1-41 1-35 1-26 1-17 1-9 1-4 1-3 1-2 1-2"/>
<path d="M0 -240l1 0 1-2 1-3 1-4 1-5 1-3 1 0 1 7 1 16 1 28 1 39 1 50 1 55 1 57 1 53 1 46 1 34 1 21 1 6 1-9 1-23 1-33 1-40 1-43 1-44 1-45 1-44 1-44"/>
<path d="M0 114l1 0 1 1 1 2 1 2 1 1 1 0 1-3 1-8 1-17 1-25 1-31 1-35 1-34 1-30 1-24 1-16 1-6 1 2 1 12 1 21 1 26 1 29 1 32 1 31 1 31 1 31 1 30 1 30"/>
<path d="M0 -272l1 0 1-2 1-4 1-4 1-5 1-3 1-1 1 6 1 15 1 27 1 38 1 48 1 54 1 55 1 52 1 45 1 36 1 22 1 8 1-7 1-19 1-31 1-38 1-43 1-45 1-45 1-46 1-46"/>
<path d="M0 120l1 0 1 1 1 2 1 2 1 2 1 1 1-1 1-4 1-9 1-14 1-19 1-21 1-23 1-23 1-21 1-17 1-13 1-6 1 0 1 6 1 12 1 17 1 20 1 22 1 24 1 25 1 26 1 26"/>
<path d="M0 -23l1-1 1-1 1-1 1-2 1-3 1-4 1-7 1-11 1-14 1-15 1-15 1-13 1-8 1-4 1 1 1 7 1 12 1 15 1 18 1 19 1 18 1 17 1 14 1 13 1 12 1 12 1 12 1 12"/>
<path d="M0 -202l1-1 1-2 1-3 1-4 1-5 1-4 1-1 1 3 1 9 1 19 1 27 1 36 1 41 1 43 1 43 1 38 1 30 1 21 1 9 1-2 1-14 1-22 1-29 1-33 1-34 1-36 1-36 1-36"/>
<path d="M0 -93l1 0 1-1 1-1 1 0 1 1 1 4 1 11 1 19 1 30 1 39 1 47 1 51 1 49 1 44 1 34 1 23 1 9 1-6 1-19 1-31 1-40 1-45 1-47 1-47 1-46 1-47 1-46 1-47"/>
<path d="M0 -155l1-1 1-2 1-4 1-5 1-9 1-13 1-20 1-28 1-37 1-40 1-39 1-30 1-18 1-4 1 14 1 28 1 41 1 51 1 55 1 56 1 51 1 44 1 34 1 26 1 22 1 21 1 21 1 20"/>
<path d="M0 -232l1-1 1-3 1-5 1-6 1-8 1-9 1-11 1-10 1-6 1 2 1 12 1 24 1 35 1 41 1 46 1 46 1 43 1 36 1 27 1 17 1 4 1-5 1-13 1-18 1-20 1-19 1-19 1-18"/>
<path d="M0 101l1 0 1 2 1 2 1 4 1 4 1 7 1 10 1 13 1 17 1 17 1 14 1 7 1-1 1-10 1-19 1-26 1-32 1-33 1-33 1-29 1-24 1-17 1-10 1-6 1-3 1-2 1-2 1-2"/>
<path d="M0 101l1 0 1 1 1 1 1 0 1-1 1-4 1-11 1-21 1-33 1-44 1-49 1-50 1-43 1-34 1-20 1-5 1 11 1 25 1 37 1 47 1 51 1 53 1 52 1 50 1 49 1 48 1 48 1 48"/>
<path d="M0 92l1 0 1 1 1 0 1 0 1-1 1-5 1-12 1-21 1-33 1-44 1-51 1-52 1-50 1-41 1-29 1-14 1 0 1 16 1 30 1 40 1 48 1 51 1 50 1 50 1 48 1 47 1 46 1 47"/>
<path d="M0 -188l1-1 1-1 1-2 1-3 1-1 1 1 1 6 1 15 1 27 1 39 1 49 1 56 1 56 1 53 1 44 1 32 1 17 1 0 1-15 1-30 1-40 1-48 1-51 1-51 1-52 1-51 1-52 1-51"/>
<path d="M0 160l1 1 1 1 1 2 1 3 1 3 1 3 1 1 1-3 1-8 1-17 1-25 1-33 1-39 1-42 1-41 1-38 1-31 1-23 1-12 1-2 1 8 1 17 1 23 1 25 1 27 1 27 1 27 1 27"/>
<path d="M0 -214l1-1 1-3 1-4 1-6 1-7 1-9 1-11 1-10 1-8 1-2 1 5 1 13 1 21 1 27 1 30 1 33 1 30 1 28 1 21 1 15 1 6 1-3 1-9 1-15 1-16 1-18 1-17 1-17"/>
<path d="M0 90l1 0 1 1 1 3 1 3 1 6 1 10 1 16 1 24 1 31 1 35 1 33 1 24 1 13 1-2 1-15 1-30 1-40 1-47 1-51 1-50 1-46 1-38 1-32 1-26 1-24 1-22 1-24 1-23"/>
<path d="M0 -4l1-1 1 0 1 0 1 0 1-1 1 0 1-1 1 0 1 0 1 0 1 1 1 3 1 4 1 5 1 6 1 6 1 6 1 5 1 4 1 2 1 1 1 1 1-1 1 0 1-1 1 0 1 0 1 0"/>
<path d="M0 138l1 0 1 2 1 3 1 5 1 7 1 10 1 17 1 23 1 29 1 33 1 31 1 25 1 15 1 3 1-9 1-21 1-32 1-39 1-43 1-44 1-41 1-34 1-27 1-20 1-17 1-16 1-15 1-15"/>
<path d="M0 -259l1 0 1-2 1-3 1-3 1-2 1 0 1 5 1 13 1 26 1 39 1 51 1 58 1 63 1 60 1 54 1 43 1 28 1 12 1-6 1-22 1-36 1-46 1-52 1-55 1-57 1-58 1-57 1-58"/>
<path d="M0 -16l1 0 1-1 1-1 1-1 1-2 1-3 1-5 1-7 1-10 1-11 1-12 1-12 1-8 1-5 1 0 1 4 1 8 1 11 1 14 1 15 1 14 1 13 1 12 1 9 1 8 1 8 1 7 1 8"/>
<path d="M0 323l1 1 1 3 1 5 1 7 1 10 1 11 1 13 1 14 1 10 1 2 1-9 1-22 1-35 1-45 1-53 1-56 1-54 1-49 1-41 1-28 1-14 1-2 1 10 1 17 1 22 1 22 1 23 1 22"/>
<path d="M0 293l1 1 1 2 1 4 1 6 1 9 1 14 1 20 1 28 1 34 1 34 1 29 1 17 1 1 1-18 1-35 1-50 1-61 1-68 1-68 1-63 1-54 1-40 1-28 1-18 1-12 1-10 1-9 1-9"/>
<path d="M0 -28l1 0 1 0 1 1 1 1 1 3 1 7 1 13 1 22 1 33 1 42 1 46 1 47 1 41 1 30 1 17 1 3 1-13 1-26 1-38 1-45 1-49 1-49 1-46 1-42 1-40 1-39 1-39 1-38"/>
<path d="M0 226l1 1 1 1 1 4 1 5 1 9 1 12 1 18 1 24 1 28 1 27 1 21 1 10 1-2 1-17 1-29 1-40 1-47 1-50 1-50 1-45 1-37 1-27 1-18 1-10 1-8 1-6 1-6 1-8"/>
<path d="M0 -279l1-2 1-3 1-5 1-8 1-9 1-12 1-15 1-17 1-17 1-11 1-2 1 11 1 23 1 36 1 45 1 52 1 52 1 50 1 43 1 33 1 20 1 7 1-4 1-12 1-17 1-17 1-18 1-18"/>
<path d="M0 123l1 1 1 1 1 2 1 4 1 5 1 7 1 10 1 13 1 16 1 16 1 13 1 6 1-2 1-11 1-19 1-27 1-32 1-34 1-33 1-30 1-25 1-18 1-12 1-7 1-4 1-3 1-2 1-2"/>
<path d="M0 -118l1-1 1-2 1-3 1-5 1-6 1-8 1-13 1-16 1-21 1-20 1-18 1-12 1-4 1 6 1 15 1 22 1 29 1 32 1 33 1 32 1 28 1 21 1 16 1 10 1 8 1 7 1 7 1 7"/>
<path d="M0 218l1 1 1 3 1 4 1 5 1 6 1 7 1 7 1 4 1 0 1-7 1-16 1-24 1-31 1-37 1-40 1-39 1-36 1-30 1-22 1-12 1-2 1 7 1 15 1 20 1 24 1 24 1 25 1 26"/>
<path d="M0 18l1 1 1 1 1 2 1 3 1 6 1 11 1 20 1 30 1 44 1 54 1 56 1 53 1 41 1 25 1 5 1-14 1-34 1-49 1-60 1-66 1-66 1-61 1-55 1-48 1-45 1-42 1-43 1-43"/>
<path d="M0 -265l1-1 1-2 1-4 1-5 1-5 1-5 1-3 1 2 1 11 1 23 1 33 1 44 1 50 1 52 1 50 1 44 1 35 1 22 1 9 1-5 1-18 1-28 1-36 1-39 1-42 1-42 1-41 1-42"/>
<path d="M0 -15l1-1 1 0 1-1 1-1 1 0 1 0 1 1 1 2 1 6 1 8 1 10 1 12 1 12 1 11 1 8 1 5 1 2 1-2 1-5 1-7 1-10 1-10 1-10 1-9 1-8 1-8 1-7 1-7"/>
<path d="M0 -214l1-1 1-2 1-4 1-4 1-6 1-5 1-4 1-2 1 3 1 9 1 17 1 22 1 27 1 32 1 32 1 32 1 28 1 22 1 15 1 7 1-3 1-11 1-18 1-23 1-28 1-29 1-30 1-31"/>
<path d="M0 -132l1 1 1-1 1-1 1 0 1 0 1 3 1 9 1 16 1 25 1 34 1 41 1 42 1 40 1 36 1 28 1 18 1 6 1-6 1-17 1-27 1-34 1-38 1-41 1-42 1-42 1-44 1-43 1-45"/>
<path d="M0 177l1 1 1 2 1 4 1 6 1 8 1 14 1 20 1 28 1 36 1 37 1 34 1 23 1 11 1-3 1-19 1-33 1-44 1-51 1-55 1-53 1-49 1-40 1-32 1-24 1-22 1-21 1-21 1-21"/>
<path d="M0 -226l1-1 1-3 1-4 1-5 1-8 1-10 1-11 1-14 1-13 1-9 1-2 1 7 1 17 1 27 1 34 1 39 1 41 1 39 1 33 1 25 1 16 1 5 1-4 1-11 1-14 1-17 1-16 1-17"/>
<path d="M0 -27l1-1 1-1 1-1 1-1 1-1 1-1 1 0 1 0 1 0 1 2 1 3 1 5 1 7 1 8 1 9 1 9 1 8 1 7 1 5 1 3 1 1 1-1 1-2 1-4 1-4 1-4 1-5 1-5"/>
<path d="M0 -260l1-1 1-3 1-5 1-7 1-9 1-12 1-15 1-19 1-18 1-14 1-7 1 3 1 14 1 24 1 33 1 39 1 42 1 43 1 39 1 33 1 24 1 14 1 5 1-2 1-6 1-8 1-8 1-7"/>
<path d="M0 -128l1-1 1-1 1-2 1-2 1 0 1 2 1 8 1 16 1 26 1 35 1 42 1 42 1 40 1 34 1 25 1 14 1 1 1-11 1-22 1-31 1-38 1-41 1-43 1-44 1-44 1-45 1-45 1-45"/>
<path d="M0 23l1 0 1 0 1-1 1-1 1-3 1-8 1-14 1-24 1-37 1-48 1-54 1-54 1-47 1-35 1-21 1-3 1 14 1 29 1 43 1 52 1 57 1 58 1 55 1 50 1 46 1 45 1 44 1 43"/>
<path d="M0 -79l1-1 1-1 1-2 1-2 1-4 1-5 1-7 1-8 1-9 1-8 1-6 1-3 1 0 1 3 1 6 1 8 1 10 1 12 1 12 1 11 1 9 1 7 1 4 1 1 1 1 1 0 1 0 1 0"/>
<path d="M0 -6l1 0 1 0 1 0 1 1 1 1 1 3 1 5 1 10 1 16 1 21 1 23 1 23 1 19 1 12 1 5 1-5 1-12 1-19 1-25 1-27 1-28 1-27 1-23 1-21 1-18 1-17 1-16 1-15"/>
<path d="M0 -333l1-1 1-3 1-5 1-8 1-10 1-13 1-16 1-19 1-17 1-10 1 1 1 15 1 27 1 39 1 48 1 53 1 53 1 50 1 43 1 32 1 19 1 6 1-5 1-12 1-15 1-16 1-16 1-14"/>
<path d="M0 -134l1 1 1-1 1-2 1-3 1-4 1-7 1-8 1-12 1-13 1-12 1-8 1-2 1 4 1 12 1 18 1 23 1 26 1 27 1 25 1 22 1 17 1 10 1 5 1 1 1-1 1-2 1-2 1-2"/>
<path d="M0 279l1 1 1 3 1 4 1 6 1 10 1 15 1 22 1 31 1 37 1 36 1 28 1 12 1-7 1-27 1-46 1-60 1-71 1-76 1-75 1-67 1-57 1-43 1-30 1-23 1-18 1-17 1-18 1-19"/>
<path d="M0 56l1-1 1 0 1 0 1 0 1-2 1-3 1-7 1-13 1-20 1-24 1-25 1-25 1-20 1-15 1-7 1 0 1 8 1 16 1 21 1 25 1 27 1 27 1 27 1 27 1 26 1 27 1 28 1 29"/>
<path d="M0 -135l1 0 1-2 1-3 1-4 1-7 1-11 1-16 1-22 1-27 1-27 1-24 1-15 1-4 1 7 1 19 1 28 1 36 1 41 1 42 1 40 1 36 1 28 1 22 1 17 1 15 1 15 1 16 1 16"/>
<path d="M0 176l1 1 1 1 1 3 1 4 1 5 1 5 1 6 1 5 1 3 1 0 1-5 1-10 1-17 1-22 1-26 1-28 1-28 1-25 1-20 1-15 1-7 1 0 1 7 1 13 1 16 1 17 1 19 1 19"/>
<path d="M0 259l1 2 1 3 1 4 1 6 1 5 1 6 1 2 1-4 1-13 1-25 1-36 1-44 1-48 1-49 1-44 1-37 1-27 1-15 1-2 1 11 1 22 1 32 1 37 1 42 1 44 1 44 1 43 1 44"/>
<path d="M0 -279l1-1 1-3 1-5 1-7 1-10 1-14 1-20 1-26 1-31 1-30 1-22 1-9 1 7 1 24 1 40 1 52 1 61 1 64 1 62 1 54 1 43 1 29 1 16 1 7 1 2 1 0 1 1 1 0"/>
<path d="M0 -189l1-1 1-2 1-3 1-4 1-6 1-8 1-8 1-9 1-8 1-4 1 1 1 6 1 12 1 18 1 23 1 25 1 25 1 24 1 20 1 15 1 8 1 2 1-6 1-10 1-14 1-16 1-15 1-16"/>
<path d="M0 -96l1 0 1 0 1-1 1-3 1-3 1-5 1-7 1-7 1-7 1-5 1-2 1 3 1 7 1 10 1 12 1 13 1 13 1 13 1 11 1 8 1 5 1 2 1-2 1-3 1-3 1-3 1-2 1-2"/>
<path d="M0 24l1 0 1 0 1-1 1-2 1-4 1-7 1-15 1-25 1-38 1-48 1-55 1-53 1-47 1-34 1-19 1 0 1 16 1 34 1 46 1 54 1 59 1 57 1 53 1 48 1 45 1 43 1 42 1 42"/>
<path d="M0 -171l1 0 1-2 1-2 1-4 1-4 1-4 1-2 1 2 1 8 1 17 1 26 1 35 1 40 1 41 1 39 1 33 1 25 1 14 1 2 1-9 1-19 1-26 1-30 1-31 1-32 1-31 1-30 1-30"/>
<path d="M0 -225l1-1 1-2 1-3 1-5 1-5 1-5 1-4 1 2 1 9 1 21 1 33 1 43 1 48 1 50 1 46 1 40 1 29 1 17 1 2 1-11 1-23 1-32 1-37 1-39 1-40 1-39 1-38 1-38"/>
<path d="M0 -193l1-1 1-3 1-3 1-5 1-6 1-5 1-5 1-1 1 4 1 13 1 23 1 32 1 38 1 42 1 42 1 39 1 34 1 24 1 15 1 3 1-7 1-16 1-21 1-25 1-27 1-26 1-27 1-26"/>
<path d="M0 -28l1 0 1-1 1-1 1-1 1-1 1-1 1-1 1 0 1 1 1 3 1 4 1 4 1 5 1 3 1 3 1 1 1 0 1-2 1-2 1-4 1-4 1-4 1-5 1-6 1-5 1-5 1-5 1-6"/>
<path d="M0 -140l1-1 1 0 1-2 1-1 1 0 1 4 1 8 1 19 1 31 1 43 1 51 1 56 1 53 1 46 1 35 1 21 1 5 1-11 1-26 1-38 1-47 1-51 1-52 1-51 1-51 1-49 1-49 1-49"/>
<path d="M0 1l1-1 1-1 1-1 1-3 1-5 1-10 1-17 1-28 1-40 1-48 1-51 1-46 1-37 1-21 1-5 1 12 1 29 1 43 1 53 1 58 1 59 1 55 1 50 1 46 1 43 1 42 1 42 1 42"/>
<path d="M0 202l1 1 1 3 1 4 1 6 1 8 1 9 1 11 1 13 1 11 1 6 1 0 1-10 1-18 1-25 1-32 1-35 1-35 1-33 1-27 1-21 1-11 1-3 1 5 1 10 1 13 1 14 1 14 1 14"/>
<path d="M0 196l1 1 1 3 1 4 1 5 1 6 1 8 1 10 1 11 1 9 1 6 1-1 1-9 1-18 1-27 1-32 1-37 1-36 1-35 1-30 1-22 1-13 1-4 1 4 1 9 1 13 1 14 1 15 1 14"/>
<path d="M0 307l1 1 1 4 1 5 1 7 1 10 1 11 1 12 1 13 1 9 1 1 1-11 1-25 1-39 1-50 1-58 1-62 1-60 1-54 1-43 1-31 1-16 1-2 1 9 1 17 1 22 1 22 1 23 1 22"/>
<path d="M0 77l1 1 1 1 1 2 1 4 1 5 1 9 1 14 1 21 1 27 1 29 1 28 1 22 1 13 1 2 1-9 1-20 1-28 1-36 1-39 1-40 1-38 1-34 1-29 1-25 1-23 1-23 1-23 1-23"/>
<path d="M0 153l1 1 1 1 1 3 1 5 1 8 1 12 1 18 1 27 1 36 1 39 1 36 1 27 1 11 1-5 1-24 1-39 1-52 1-60 1-62 1-61 1-54 1-43 1-33 1-26 1-21 1-19 1-19 1-19"/>
<path d="M0 -208l1-1 1-3 1-4 1-6 1-9 1-13 1-18 1-23 1-26 1-24 1-19 1-7 1 5 1 16 1 28 1 37 1 43 1 47 1 46 1 42 1 35 1 27 1 18 1 13 1 10 1 9 1 10 1 10"/>
<path d="M0 66l1 0 1 1 1 1 1 2 1 2 1 3 1 4 1 3 1 1 1-3 1-7 1-12 1-16 1-17 1-18 1-17 1-15 1-12 1-7 1-3 1 1 1 5 1 6 1 7 1 7 1 6 1 5 1 5"/>
<path d="M0 76l1 1 1 0 1 2 1 2 1 2 1 3 1 4 1 4 1 6 1 5 1 5 1 1 1-3 1-7 1-12 1-16 1-17 1-19 1-19 1-16 1-14 1-9 1-5 1-1 1 2 1 3 1 5 1 4"/>
<path d="M0 -140l1-1 1-1 1-2 1-2 1-1 1 1 1 5 1 13 1 25 1 35 1 44 1 48 1 46 1 40 1 31 1 18 1 5 1-10 1-22 1-33 1-41 1-44 1-45 1-45 1-43 1-43 1-42 1-42"/>
<path d="M0 -299l1-1 1-2 1-5 1-6 1-7 1-8 1-7 1-4 1 4 1 15 1 28 1 43 1 53 1 60 1 62 1 58 1 50 1 37 1 23 1 5 1-10 1-23 1-33 1-38 1-40 1-41 1-40 1-39"/>
<path d="M0 34l1 1 1 0 1 1 1 2 1 3 1 5 1 8 1 12 1 15 1 18 1 19 1 15 1 12 1 6 1-1 1-6 1-13 1-17 1-20 1-22 1-21 1-18 1-16 1-14 1-12 1-12 1-12 1-13"/>
<path d="M0 154l1 1 1 2 1 3 1 5 1 8 1 10 1 15 1 20 1 23 1 23 1 18 1 8 1-3 1-16 1-27 1-36 1-42 1-44 1-43 1-39 1-31 1-22 1-14 1-8 1-6 1-5 1-5 1-6"/>
<path d="M0 30l1 1 1 0 1 2 1 3 1 4 1 9 1 15 1 24 1 34 1 41 1 43 1 39 1 31 1 19 1 5 1-8 1-22 1-34 1-43 1-49 1-49 1-48 1-44 1-40 1-37 1-36 1-35 1-36"/>
<path d="M0 311l1 1 1 3 1 5 1 7 1 11 1 14 1 19 1 26 1 29 1 28 1 18 1 5 1-13 1-30 1-46 1-59 1-65 1-67 1-62 1-52 1-39 1-23 1-10 1 1 1 5 1 7 1 7 1 7"/>
<path d="M0 -77l1-1 1-1 1-2 1-3 1-3 1-4 1-3 1-2 1-1 1 3 1 6 1 8 1 10 1 11 1 11 1 10 1 9 1 6 1 4 1 1 1-2 1-6 1-7 1-9 1-11 1-10 1-11 1-11"/>
<path d="M0 28l1 0 1 1 1 0 1 0 1 0 1-2 1-3 1-7 1-11 1-13 1-14 1-13 1-10 1-6 1-1 1 3 1 7 1 11 1 13 1 16 1 16 1 15 1 16 1 15 1 16 1 16 1 16 1 17"/>
<path d="M0 308l1 1 1 3 1 4 1 7 1 10 1 13 1 17 1 21 1 21 1 17 1 7 1-4 1-19 1-30 1-41 1-49 1-53 1-52 1-48 1-41 1-29 1-18 1-7 1 1 1 5 1 6 1 6 1 6"/>
<path d="M0 20l1 0 1 0 1-1 1-1 1-3 1-6 1-10 1-19 1-29 1-37 1-41 1-42 1-35 1-26 1-14 1-1 1 13 1 24 1 35 1 41 1 45 1 44 1 42 1 38 1 35 1 33 1 33 1 32"/>
<path d="M0 292l1 1 1 2 1 4 1 6 1 9 1 14 1 23 1 31 1 39 1 40 1 33 1 20 1 1 1-20 1-39 1-56 1-68 1-76 1-76 1-71 1-60 1-48 1-35 1-26 1-22 1-20 1-20 1-21"/>
<path d="M0 72l1 0 1 1 1 2 1 3 1 5 1 9 1 15 1 24 1 33 1 40 1 42 1 39 1 30 1 19 1 5 1-10 1-24 1-36 1-44 1-49 1-49 1-47 1-40 1-34 1-30 1-29 1-27 1-27"/>
<path d="M0 66l1 0 1 2 1 2 1 2 1 5 1 7 1 11 1 17 1 23 1 28 1 28 1 25 1 18 1 8 1-3 1-14 1-23 1-31 1-36 1-39 1-37 1-33 1-28 1-22 1-20 1-17 1-16 1-16"/>
<path d="M0 -38l1 0 1-2 1-2 1-3 1-6 1-10 1-16 1-27 1-37 1-45 1-49 1-46 1-39 1-27 1-13 1 3 1 18 1 32 1 43 1 50 1 53 1 53 1 48 1 43 1 40 1 38 1 38 1 37"/>
<path d="M0 353l1 1 1 2 1 3 1 4 1 3 1 2 1-4 1-12 1-23 1-38 1-49 1-58 1-62 1-61 1-55 1-44 1-29 1-13 1 5 1 22 1 37 1 47 1 56 1 60 1 62 1 64 1 64 1 63"/>
<path d="M0 82l1 0 1 1 1 1 1 1 1 2 1 0 1-2 1-7 1-13 1-19 1-26 1-29 1-28 1-25 1-20 1-12 1-4 1 5 1 12 1 19 1 24 1 26 1 26 1 26 1 25 1 23 1 23 1 23"/>
<path d="M0 -153l1-1 1-2 1-3 1-5 1-7 1-10 1-13 1-18 1-20 1-19 1-14 1-6 1 3 1 13 1 22 1 30 1 34 1 36 1 36 1 31 1 25 1 18 1 10 1 6 1 3 1 2 1 2 1 3"/>
<path d="M0 181l1 0 1 3 1 3 1 6 1 8 1 12 1 17 1 24 1 28 1 28 1 22 1 10 1-5 1-19 1-33 1-44 1-50 1-53 1-51 1-44 1-34 1-23 1-13 1-7 1-3 1-4 1-4 1-5"/>
<path d="M0 -195l1-1 1-2 1-3 1-4 1-5 1-5 1-5 1-2 1 4 1 11 1 20 1 28 1 33 1 36 1 35 1 32 1 27 1 19 1 10 1 1 1-9 1-16 1-22 1-25 1-26 1-26 1-26 1-25"/>
<path d="M0 -264l1-1 1-3 1-4 1-6 1-8 1-11 1-12 1-16 1-15 1-12 1-4 1 8 1 22 1 34 1 44 1 51 1 54 1 53 1 46 1 37 1 25 1 12 1 1 1-8 1-12 1-15 1-15 1-16"/>
<path d="M0 -417l1-1 1-3 1-5 1-6 1-9 1-14 1-18 1-21 1-23 1-16 1-4 1 12 1 28 1 44 1 56 1 66 1 69 1 67 1 61 1 51 1 37 1 22 1 9 1 0 1-4 1-5 1-4 1-3"/>
<path d="M0 -85l1 0 1-1 1-1 1-1 1 0 1 2 1 8 1 14 1 23 1 31 1 35 1 35 1 33 1 25 1 18 1 6 1-3 1-15 1-23 1-30 1-35 1-36 1-36 1-36 1-36 1-37 1-36 1-37"/>
<path d="M0 12l1 0 1 0 1 1 1 0 1-1 1-1 1-3 1-7 1-12 1-15 1-17 1-16 1-13 1-8 1-1 1 4 1 11 1 15 1 19 1 21 1 21 1 20 1 18 1 17 1 15 1 14 1 13 1 14"/>
<path d="M0 -62l1 0 1-1 1-1 1-2 1-2 1-3 1-2 1-3 1 0 1 3 1 5 1 9 1 11 1 12 1 13 1 13 1 10 1 8 1 5 1 1 1-3 1-5 1-7 1-8 1-9 1-9 1-8 1-8"/>
<path d="M0 195l1 1 1 2 1 4 1 5 1 8 1 12 1 15 1 21 1 25 1 24 1 20 1 10 1-1 1-14 1-27 1-36 1-44 1-47 1-48 1-43 1-37 1-27 1-19 1-11 1-8 1-5 1-6 1-5"/>
<path d="M0 311l1 1 1 1 1 2 1 1 1-1 1-5 1-14 1-27 1-47 1-64 1-78 1-85 1-80 1-70 1-52 1-30 1-6 1 18 1 42 1 59 1 73 1 80 1 83 1 82 1 79 1 78 1 77 1 77"/>
<path d="M0 -225l1-1 1-3 1-4 1-7 1-9 1-12 1-17 1-23 1-27 1-27 1-21 1-10 1 3 1 17 1 31 1 43 1 50 1 55 1 55 1 50 1 42 1 32 1 20 1 13 1 7 1 6 1 4 1 5"/>
<path d="M0 -168l1-1 1-2 1-2 1-4 1-4 1-3 1-1 1 3 1 11 1 21 1 30 1 37 1 40 1 40 1 36 1 28 1 20 1 8 1-2 1-14 1-22 1-29 1-32 1-33 1-33 1-33 1-32 1-31"/>
<path d="M0 179l1 0 1 2 1 3 1 5 1 8 1 12 1 17 1 25 1 29 1 31 1 26 1 16 1 2 1-12 1-27 1-39 1-48 1-53 1-53 1-50 1-42 1-32 1-23 1-16 1-12 1-11 1-11 1-11"/>
<path d="M0 116l1 1 1 1 1 3 1 4 1 7 1 12 1 20 1 30 1 39 1 46 1 44 1 36 1 23 1 7 1-11 1-28 1-43 1-54 1-61 1-63 1-59 1-52 1-44 1-38 1-33 1-32 1-32 1-32"/>
<path d="M0 -154l1-1 1-2 1-2 1-3 1-4 1-2 1 0 1 5 1 12 1 21 1 29 1 36 1 39 1 38 1 34 1 27 1 19 1 9 1-2 1-12 1-21 1-26 1-30 1-31 1-32 1-31 1-31 1-30"/>
<path d="M0 -8l1 0 1 0 1 1 1 0 1 1 1 1 1 3 1 6 1 11 1 14 1 16 1 15 1 12 1 7 1 1 1-5 1-11 1-16 1-18 1-21 1-20 1-18 1-16 1-14 1-12 1-11 1-11 1-10"/>
<path d="M0 -89l1 0 1-1 1-1 1-2 1-1 1-1 1 1 1 4 1 9 1 14 1 17 1 19 1 18 1 17 1 13 1 9 1 4 1-2 1-7 1-12 1-15 1-18 1-19 1-21 1-21 1-21 1-22 1-22"/>
<path d="M0 163l1 1 1 3 1 3 1 6 1 7 1 10 1 12 1 15 1 16 1 14 1 7 1-2 1-10 1-19 1-27 1-32 1-35 1-36 1-33 1-28 1-22 1-15 1-8 1-4 1-1 1 0 1 0 1-1"/>
<path d="M0 289l1 1 1 2 1 5 1 6 1 9 1 13 1 16 1 19 1 19 1 14 1 3 1-11 1-25 1-39 1-50 1-57 1-59 1-57 1-50 1-39 1-26 1-13 1-3 1 6 1 9 1 9 1 10 1 9"/>
<path d="M0 156l1 1 1 2 1 2 1 3 1 3 1 2 1 0 1-6 1-15 1-23 1-31 1-37 1-39 1-37 1-32 1-25 1-15 1-4 1 7 1 17 1 25 1 30 1 34 1 34 1 35 1 35 1 34 1 35"/>
<path d="M0 58l1 1 1 1 1 1 1 2 1 3 1 3 1 4 1 4 1 3 1 2 1-1 1-6 1-12 1-16 1-18 1-21 1-21 1-19 1-16 1-12 1-7 1-3 1 0 1 2 1 4 1 3 1 4 1 3"/>
<path d="M0 46l1 1 1 1 1 1 1 3 1 4 1 7 1 12 1 18 1 25 1 30 1 32 1 32 1 27 1 19 1 10 1-1 1-11 1-20 1-28 1-32 1-35 1-34 1-30 1-27 1-24 1-23 1-21 1-22"/>
<path d="M0 -218l1-1 1-3 1-4 1-6 1-10 1-13 1-19 1-25 1-30 1-29 1-22 1-10 1 7 1 22 1 38 1 49 1 58 1 60 1 58 1 51 1 41 1 27 1 17 1 9 1 5 1 5 1 4 1 5"/>
<path d="M0 -11l1 0 1 0 1 0 1 1 1 2 1 5 1 8 1 13 1 17 1 21 1 22 1 20 1 17 1 13 1 7 1 1 1-6 1-12 1-16 1-20 1-22 1-21 1-21 1-20 1-21 1-21 1-22 1-22"/>
<path d="M0 224l1 1 1 2 1 4 1 5 1 6 1 6 1 6 1 4 1-1 1-7 1-16 1-26 1-33 1-39 1-42 1-42 1-39 1-32 1-23 1-13 1-3 1 8 1 15 1 21 1 24 1 26 1 26 1 26"/>
<path d="M0 -7l1-1 1 0 1 0 1 1 1 2 1 3 1 8 1 12 1 19 1 23 1 27 1 26 1 22 1 17 1 8 1 1 1-8 1-16 1-21 1-26 1-28 1-27 1-25 1-22 1-22 1-20 1-21 1-20"/>
<path d="M0 -7l1-1 1-1 1-2 1-2 1-4 1-6 1-12 1-19 1-27 1-34 1-36 1-34 1-26 1-16 1-3 1 9 1 22 1 31 1 39 1 44 1 44 1 41 1 38 1 34 1 30 1 29 1 28 1 27"/>
<path d="M0 155l1 1 1 2 1 4 1 5 1 8 1 11 1 17 1 23 1 27 1 28 1 23 1 14 1 3 1-11 1-22 1-33 1-41 1-46 1-46 1-43 1-36 1-28 1-19 1-14 1-11 1-10 1-10 1-11"/>
<path d="M0 178l1 1 1 1 1 3 1 4 1 4 1 6 1 5 1 4 1 2 1-4 1-9 1-14 1-19 1-23 1-25 1-26 1-23 1-19 1-15 1-8 1-1 1 6 1 11 1 16 1 18 1 20 1 19 1 20"/>
<path d="M0 -2l1 0 1 0 1 0 1-1 1-3 1-5 1-11 1-19 1-27 1-33 1-38 1-38 1-34 1-26 1-17 1-4 1 7 1 19 1 28 1 34 1 38 1 39 1 36 1 32 1 31 1 30 1 30 1 29"/>
<path d="M0 78l1 0 1 1 1 2 1 2 1 3 1 5 1 7 1 9 1 13 1 14 1 13 1 10 1 4 1-4 1-10 1-17 1-22 1-25 1-27 1-26 1-24 1-19 1-14 1-10 1-7 1-5 1-4 1-3"/>
<path d="M0 165l1 1 1 2 1 3 1 4 1 7 1 9 1 13 1 15 1 16 1 14 1 8 1-1 1-10 1-18 1-26 1-31 1-34 1-33 1-31 1-25 1-18 1-10 1-3 1 2 1 4 1 4 1 3 1 3"/>
<path d="M0 -137l1 0 1-1 1-2 1 0 1 0 1 4 1 11 1 22 1 34 1 47 1 55 1 57 1 54 1 45 1 33 1 16 1 0 1-17 1-33 1-45 1-52 1-56 1-56 1-55 1-54 1-54 1-54 1-54"/>
<path d="M0 21l1 0 1 0 1 0 1 0 1-1 1-3 1-6 1-11 1-16 1-21 1-24 1-23 1-21 1-16 1-9 1-2 1 6 1 12 1 19 1 22 1 24 1 24 1 23 1 21 1 21 1 20 1 20 1 21"/>
<path d="M0 -22l1 0 1-1 1-1 1-2 1-5 1-8 1-15 1-23 1-33 1-38 1-39 1-35 1-26 1-15 1-3 1 11 1 23 1 34 1 41 1 45 1 45 1 43 1 38 1 36 1 33 1 34 1 34 1 34"/>
<path d="M0 119l1 0 1 2 1 2 1 3 1 4 1 5 1 5 1 5 1 4 1 1 1-3 1-7 1-9 1-12 1-13 1-13 1-13 1-11 1-8 1-5 1 0 1 3 1 7 1 9 1 11 1 12 1 12 1 12"/>
<path d="M0 4l1 1 1 1 1 1 1 1 1 2 1 2 1 3 1 3 1 4 1 4 1 3 1 3 1 3 1 2 1 2 1 1 1 0 1 0 1-1 1-1 1-2 1-2 1-2 1-2 1-2 1-2 1-3 1-3"/>
<path d="M0 -95l1 0 1-1 1-2 1-2 1-3 1-3 1-3 1-1 1 2 1 8 1 13 1 18 1 21 1 22 1 21 1 19 1 14 1 8 1 3 1-3 1-9 1-12 1-15 1-15 1-16 1-14 1-15 1-13"/>
<path d="M0 -30l1 0 1-1 1-1 1-2 1-5 1-8 1-15 1-24 1-35 1-44 1-47 1-46 1-38 1-26 1-11 1 5 1 19 1 34 1 44 1 52 1 53 1 52 1 48 1 42 1 38 1 36 1 35 1 35"/>
<path d="M0 -165l1-1 1-1 1-3 1-5 1-7 1-10 1-14 1-20 1-24 1-25 1-20 1-11 1 2 1 15 1 28 1 39 1 47 1 50 1 49 1 45 1 37 1 27 1 19 1 11 1 7 1 6 1 6 1 5"/>
<path d="M0 -125l1-1 1-1 1-2 1-2 1-2 1-1 1 2 1 8 1 15 1 24 1 32 1 38 1 41 1 40 1 37 1 30 1 21 1 11 1-1 1-11 1-20 1-27 1-30 1-32 1-31 1-32 1-31 1-31"/>
<path d="M0 -94l1 0 1-1 1 0 1-1 1 1 1 4 1 8 1 18 1 27 1 38 1 43 1 45 1 42 1 34 1 22 1 11 1-4 1-17 1-28 1-38 1-42 1-45 1-44 1-42 1-42 1-41 1-40 1-41"/>
<path d="M0 -5l1-1 1 0 1-1 1-1 1-1 1-1 1-2 1-3 1-3 1-3 1-1 1 0 1 2 1 3 1 4 1 4 1 5 1 4 1 4 1 3 1 3 1 1 1 1 1 2 1 2 1 2 1 3 1 3"/>
<path d="M0 -132l1-1 1-1 1-2 1-2 1-3 1-1 1 1 1 6 1 11 1 17 1 22 1 25 1 27 1 26 1 23 1 19 1 13 1 5 1-2 1-9 1-15 1-20 1-24 1-26 1-28 1-29 1-29 1-30"/>
<path d="M0 264l1 1 1 3 1 4 1 6 1 8 1 9 1 11 1 9 1 5 1-3 1-15 1-29 1-40 1-48 1-52 1-53 1-47 1-39 1-28 1-13 1 0 1 13 1 22 1 27 1 28 1 29 1 29 1 28"/>
<path d="M0 77l1 1 1 1 1 1 1 2 1 3 1 3 1 4 1 3 1 1 1-1 1-5 1-11 1-15 1-18 1-21 1-21 1-19 1-17 1-12 1-8 1-2 1 2 1 6 1 7 1 8 1 9 1 8 1 8"/>
<path d="M0 -135l1-1 1-1 1-3 1-5 1-6 1-8 1-12 1-16 1-18 1-17 1-13 1-6 1 2 1 9 1 17 1 23 1 27 1 30 1 30 1 28 1 23 1 17 1 12 1 8 1 6 1 5 1 5 1 5"/>
<path d="M0 -91l1 0 1 0 1 0 1 1 1 4 1 7 1 15 1 27 1 41 1 51 1 57 1 55 1 48 1 35 1 19 1 2 1-15 1-31 1-45 1-55 1-60 1-61 1-59 1-58 1-56 1-55 1-55 1-55"/>
<path d="M0 234l1 2 1 3 1 5 1 7 1 9 1 12 1 16 1 20 1 21 1 18 1 10 1-2 1-16 1-31 1-43 1-51 1-55 1-56 1-50 1-41 1-29 1-17 1-6 1 3 1 6 1 8 1 8 1 8"/>
<path d="M0 213l1 1 1 2 1 4 1 6 1 8 1 11 1 16 1 20 1 24 1 22 1 15 1 2 1-12 1-27 1-40 1-51 1-57 1-58 1-54 1-46 1-36 1-23 1-13 1-4 1-1 1 1 1 1 1 1"/>
<path d="M0 -149l1 0 1-2 1-2 1-4 1-3 1-3 1-2 1 1 1 5 1 11 1 17 1 24 1 30 1 33 1 34 1 32 1 27 1 20 1 12 1 4 1-6 1-13 1-18 1-22 1-23 1-24 1-25 1-24"/>
<path d="M0 -201l1-1 1-1 1-3 1-4 1-5 1-3 1-2 1 3 1 8 1 17 1 24 1 29 1 34 1 35 1 33 1 29 1 22 1 13 1 4 1-7 1-15 1-23 1-28 1-33 1-34 1-36 1-37 1-36"/>
<path d="M0 210l1 1 1 2 1 4 1 5 1 7 1 8 1 10 1 8 1 5 1-2 1-12 1-22 1-31 1-36 1-39 1-40 1-37 1-32 1-24 1-14 1-5 1 4 1 11 1 14 1 17 1 16 1 15 1 15"/>
<path d="M0 -103l1 0 1-1 1-2 1-3 1-4 1-6 1-8 1-10 1-9 1-7 1-4 1 0 1 4 1 8 1 11 1 14 1 14 1 15 1 14 1 11 1 9 1 5 1 2 1 0 1-2 1-1 1-1 1 0"/>
<path d="M0 187l1 1 1 2 1 4 1 5 1 8 1 10 1 14 1 19 1 22 1 21 1 16 1 6 1-7 1-21 1-33 1-42 1-49 1-52 1-49 1-43 1-34 1-23 1-13 1-6 1-1 1 0 1 1 1 1"/>
<path d="M0 214l1 1 1 2 1 2 1 4 1 2 1 1 1-3 1-11 1-21 1-31 1-39 1-44 1-46 1-44 1-39 1-30 1-19 1-7 1 5 1 18 1 28 1 36 1 41 1 44 1 47 1 48 1 48 1 49"/>
<path d="M0 -132l1-1 1-1 1-1 1-2 1-2 1 0 1 3 1 8 1 15 1 23 1 29 1 33 1 34 1 32 1 27 1 19 1 11 1 0 1-9 1-17 1-25 1-29 1-31 1-32 1-34 1-33 1-34 1-34"/>
<path d="M0 -125l1 0 1 0 1-1 1 0 1 1 1 4 1 10 1 18 1 30 1 39 1 45 1 46 1 43 1 36 1 27 1 14 1 2 1-12 1-23 1-33 1-40 1-44 1-46 1-46 1-46 1-47 1-47 1-47"/>
<path d="M0 -204l1-1 1-1 1-3 1-2 1-2 1 1 1 6 1 15 1 29 1 43 1 55 1 61 1 61 1 56 1 46 1 32 1 15 1-3 1-19 1-34 1-46 1-52 1-56 1-55 1-55 1-54 1-54 1-53"/>
<path d="M0 -77l1 0 1 0 1-1 1 0 1 0 1 1 1 4 1 10 1 17 1 25 1 30 1 33 1 31 1 27 1 19 1 11 1 2 1-8 1-16 1-23 1-28 1-30 1-30 1-29 1-28 1-26 1-26 1-25"/>
<path d="M0 159l1 1 1 2 1 4 1 5 1 9 1 12 1 19 1 27 1 33 1 36 1 32 1 23 1 10 1-4 1-19 1-33 1-43 1-51 1-55 1-53 1-48 1-41 1-32 1-26 1-23 1-21 1-21 1-22"/>
<path d="M0 -220l1-1 1-3 1-4 1-6 1-8 1-10 1-12 1-14 1-13 1-10 1-2 1 8 1 18 1 28 1 36 1 41 1 43 1 40 1 35 1 27 1 17 1 6 1-3 1-11 1-13 1-16 1-16 1-15"/>
<path d="M0 144l1 1 1 2 1 3 1 4 1 6 1 10 1 12 1 17 1 19 1 19 1 13 1 4 1-6 1-16 1-26 1-33 1-37 1-40 1-37 1-34 1-27 1-19 1-13 1-8 1-6 1-5 1-6 1-6"/>
<path d="M0 -145l1 0 1-2 1-3 1-3 1-4 1-3 1-3 1 1 1 7 1 14 1 22 1 28 1 32 1 32 1 30 1 26 1 19 1 12 1 3 1-5 1-13 1-19 1-22 1-24 1-24 1-24 1-24 1-23"/>
<path d="M0 -134l1-1 1-1 1-2 1-1 1 0 1 3 1 10 1 19 1 34 1 46 1 56 1 62 1 59 1 51 1 39 1 24 1 7 1-11 1-27 1-41 1-50 1-56 1-56 1-56 1-53 1-52 1-51 1-51"/>
<path d="M0 105l1 1 1 1 1 2 1 4 1 7 1 12 1 18 1 28 1 37 1 43 1 42 1 33 1 20 1 3 1-14 1-31 1-45 1-55 1-61 1-60 1-56 1-47 1-38 1-32 1-28 1-26 1-27 1-27"/>
<path d="M0 128l1 0 1 1 1 2 1 3 1 3 1 3 1 2 1 0 1-3 1-9 1-15 1-20 1-26 1-28 1-29 1-27 1-23 1-17 1-10 1-2 1 5 1 10 1 15 1 18 1 18 1 19 1 19 1 19"/>
<path d="M0 -245l1-1 1-2 1-3 1-4 1-3 1-1 1 4 1 13 1 26 1 40 1 50 1 56 1 56 1 51 1 40 1 28 1 11 1-4 1-21 1-35 1-45 1-51 1-56 1-56 1-57 1-56 1-56 1-56"/>
<path d="M0 99l1 0 1 1 1 2 1 3 1 5 1 6 1 10 1 13 1 15 1 16 1 12 1 6 1-2 1-11 1-19 1-26 1-30 1-33 1-32 1-30 1-25 1-19 1-14 1-10 1-9 1-7 1-7 1-8"/>
<path d="M0 34l1 1 1 0 1 1 1 2 1 2 1 3 1 5 1 8 1 11 1 13 1 14 1 13 1 9 1 4 1-1 1-7 1-12 1-16 1-18 1-19 1-19 1-16 1-13 1-10 1-7 1-7 1-5 1-5"/>
<path d="M0 152l1 0 1 2 1 3 1 4 1 8 1 11 1 18 1 26 1 33 1 35 1 34 1 25 1 14 1 1 1-13 1-26 1-37 1-46 1-50 1-51 1-48 1-42 1-35 1-29 1-25 1-24 1-23 1-24"/>
<path d="M0 385l1 1 1 3 1 5 1 6 1 10 1 13 1 16 1 20 1 19 1 11 1-2 1-21 1-40 1-56 1-69 1-77 1-77 1-72 1-61 1-46 1-28 1-11 1 4 1 13 1 16 1 18 1 17 1 15"/>
<path d="M0 -245l1 0 1-3 1-4 1-5 1-7 1-8 1-9 1-6 1-1 1 8 1 19 1 31 1 40 1 45 1 48 1 46 1 39 1 31 1 19 1 6 1-6 1-17 1-24 1-29 1-29 1-30 1-29 1-28"/>
<path d="M0 174l1 1 1 2 1 3 1 5 1 7 1 9 1 11 1 15 1 17 1 17 1 12 1 6 1-5 1-15 1-24 1-32 1-37 1-40 1-39 1-35 1-29 1-21 1-13 1-6 1-2 1 0 1 1 1 1"/>
<path d="M0 -154l1-1 1-2 1-3 1-3 1-4 1-3 1-1 1 2 1 9 1 16 1 23 1 29 1 31 1 32 1 28 1 23 1 17 1 8 1 0 1-9 1-16 1-22 1-25 1-27 1-28 1-28 1-28 1-28"/>
<path d="M0 -269l1-1 1-1 1-1 1-2 1 0 1 4 1 11 1 22 1 36 1 49 1 60 1 65 1 64 1 59 1 48 1 33 1 16 1-4 1-21 1-38 1-51 1-58 1-64 1-65 1-67 1-68 1-68 1-68"/>
<path d="M0 202l1 1 1 2 1 3 1 4 1 3 1 2 1-3 1-11 1-23 1-37 1-49 1-59 1-61 1-59 1-51 1-40 1-25 1-8 1 9 1 24 1 38 1 45 1 50 1 51 1 51 1 49 1 49 1 48"/>
<path d="M0 -255l1-1 1-1 1-3 1-2 1-2 1 1 1 6 1 17 1 30 1 43 1 54 1 59 1 59 1 54 1 43 1 31 1 15 1-1 1-18 1-32 1-43 1-51 1-56 1-57 1-59 1-59 1-59 1-59"/>
<path d="M0 -119l1 0 1-1 1-3 1-4 1-6 1-10 1-17 1-24 1-30 1-34 1-30 1-22 1-11 1 1 1 15 1 27 1 37 1 44 1 47 1 47 1 42 1 36 1 30 1 24 1 22 1 21 1 22 1 22"/>
<path d="M0 -341l1-1 1-3 1-4 1-6 1-10 1-15 1-22 1-30 1-34 1-32 1-21 1-4 1 16 1 36 1 54 1 69 1 76 1 78 1 72 1 62 1 46 1 31 1 16 1 6 1 3 1 3 1 4 1 5"/>
<path d="M0 240l1 0 1 3 1 2 1 4 1 2 1 1 1-6 1-14 1-27 1-40 1-54 1-61 1-66 1-63 1-55 1-44 1-28 1-11 1 7 1 24 1 38 1 49 1 54 1 56 1 57 1 57 1 57 1 57"/>
<path d="M0 -193l1-1 1-3 1-4 1-6 1-8 1-12 1-16 1-21 1-23 1-23 1-16 1-7 1 4 1 16 1 27 1 35 1 42 1 44 1 45 1 40 1 33 1 26 1 17 1 11 1 8 1 7 1 7 1 8"/>
<path d="M0 78l1 1 1 2 1 2 1 4 1 6 1 9 1 15 1 23 1 30 1 34 1 34 1 28 1 18 1 5 1-9 1-22 1-33 1-41 1-46 1-45 1-42 1-35 1-28 1-23 1-19 1-18 1-18 1-19"/>
<path d="M0 -220l1-1 1-1 1-1 1 0 1 1 1 6 1 15 1 28 1 46 1 62 1 74 1 78 1 74 1 60 1 43 1 22 1-1 1-24 1-45 1-61 1-72 1-76 1-77 1-76 1-73 1-71 1-70 1-70"/>
<path d="M0 -270l1-1 1-3 1-4 1-4 1-4 1-3 1 2 1 10 1 20 1 34 1 47 1 57 1 64 1 65 1 60 1 50 1 37 1 19 1 2 1-16 1-31 1-44 1-50 1-55 1-56 1-57 1-57 1-56"/>
<path d="M0 40l1 1 1 0 1 2 1 2 1 3 1 4 1 6 1 9 1 13 1 14 1 16 1 15 1 13 1 8 1 3 1-2 1-8 1-12 1-16 1-17 1-18 1-16 1-13 1-11 1-8 1-6 1-7 1-5"/>
<path d="M0 226l1 1 1 2 1 4 1 6 1 8 1 10 1 13 1 15 1 14 1 9 1 0 1-11 1-21 1-30 1-38 1-42 1-43 1-42 1-36 1-30 1-20 1-12 1-3 1 1 1 5 1 5 1 4 1 4"/>
<path d="M0 -136l1 0 1-2 1-2 1-3 1-3 1-2 1 0 1 5 1 12 1 19 1 27 1 30 1 32 1 30 1 27 1 20 1 13 1 5 1-4 1-11 1-19 1-23 1-26 1-28 1-28 1-28 1-28 1-28"/>
<path d="M0 283l1 2 1 3 1 5 1 8 1 10 1 12 1 17 1 18 1 18 1 12 1 2 1-12 1-26 1-37 1-47 1-54 1-56 1-55 1-49 1-40 1-30 1-18 1-8 1 0 1 2 1 4 1 4 1 4"/>
<path d="M0 -113l1 0 1-1 1-2 1-3 1-6 1-10 1-16 1-24 1-32 1-37 1-37 1-33 1-24 1-13 1 2 1 14 1 28 1 37 1 44 1 48 1 48 1 44 1 38 1 32 1 28 1 27 1 25 1 25"/>
<path d="M0 -240l1-1 1-2 1-4 1-7 1-9 1-15 1-21 1-28 1-35 1-34 1-25 1-10 1 9 1 29 1 46 1 60 1 69 1 72 1 68 1 59 1 46 1 31 1 19 1 10 1 7 1 6 1 7 1 8"/>
<path d="M0 92l1 1 1 1 1 1 1 2 1 1 1 0 1-2 1-6 1-11 1-17 1-23 1-27 1-30 1-31 1-28 1-24 1-18 1-9 1-1 1 8 1 14 1 20 1 22 1 24 1 25 1 25 1 25 1 25"/>
<path d="M0 196l1 1 1 1 1 3 1 4 1 3 1 2 1-1 1-8 1-16 1-27 1-37 1-45 1-49 1-49 1-45 1-38 1-27 1-15 1-1 1 11 1 23 1 31 1 37 1 39 1 40 1 41 1 40 1 40"/>
<path d="M0 -326l1-1 1-4 1-5 1-7 1-8 1-10 1-10 1-7 1-1 1 10 1 24 1 36 1 46 1 54 1 56 1 55 1 49 1 40 1 28 1 13 1 0 1-13 1-23 1-29 1-32 1-33 1-33 1-32"/>
<path d="M0 -139l1 0 1-1 1-2 1-3 1-5 1-7 1-9 1-10 1-10 1-7 1-2 1 4 1 9 1 15 1 19 1 21 1 23 1 22 1 19 1 15 1 11 1 5 1 1 1-3 1-3 1-4 1-3 1-3"/>
<path d="M0 -78l1-1 1-2 1-2 1-2 1-4 1-3 1-3 1-2 1 1 1 6 1 10 1 16 1 19 1 22 1 23 1 21 1 19 1 15 1 10 1 5 1-2 1-5 1-8 1-10 1-10 1-10 1-10 1-10"/>
<path d="M0 56l1 1 1 1 1 1 1 2 1 2 1 3 1 4 1 3 1 2 1 0 1-4 1-8 1-12 1-14 1-16 1-17 1-16 1-14 1-12 1-8 1-5 1-2 1 0 1 2 1 2 1 2 1 2 1 1"/>
<path d="M0 185l1 1 1 2 1 4 1 6 1 8 1 13 1 18 1 25 1 30 1 33 1 30 1 24 1 13 1 0 1-12 1-24 1-35 1-42 1-46 1-47 1-43 1-37 1-30 1-22 1-18 1-16 1-15 1-16"/>
<path d="M0 -206l1-2 1-3 1-4 1-6 1-8 1-10 1-12 1-15 1-16 1-13 1-7 1 3 1 16 1 26 1 37 1 44 1 48 1 48 1 45 1 38 1 28 1 18 1 7 1 0 1-5 1-7 1-8 1-8"/>
<path d="M0 -126l1-1 1-1 1-2 1-2 1-1 1 0 1 4 1 11 1 19 1 29 1 36 1 41 1 43 1 39 1 34 1 25 1 13 1 2 1-11 1-21 1-29 1-34 1-37 1-37 1-37 1-37 1-37 1-37"/>
<path d="M0 184l1 1 1 2 1 3 1 5 1 6 1 8 1 10 1 11 1 13 1 11 1 5 1-1 1-10 1-20 1-27 1-34 1-36 1-38 1-36 1-31 1-24 1-16 1-8 1-1 1 2 1 5 1 6 1 6"/>
<path d="M0 305l1 1 1 3 1 5 1 7 1 10 1 15 1 22 1 29 1 33 1 30 1 22 1 7 1-10 1-27 1-42 1-55 1-63 1-64 1-62 1-53 1-41 1-28 1-15 1-8 1-4 1-4 1-5 1-7"/>
<path d="M0 4l1 0 1-1 1 0 1 0 1 0 1 0 1 0 1 0 1-1 1-1 1 0 1-1 1 0 1 0 1 1 1 1 1 2 1 2 1 2 1 2 1 2 1 1 1 2 1 1 1 1 1 0 1 1 1 0"/>
<path d="M0 109l1 1 1 1 1 3 1 4 1 5 1 6 1 9 1 11 1 14 1 13 1 11 1 6 1 0 1-7 1-15 1-20 1-24 1-26 1-26 1-22 1-18 1-12 1-5 1-2 1 2 1 3 1 4 1 4"/>
<path d="M0 -27l1-1 1 0 1-2 1-1 1-3 1-4 1-6 1-10 1-14 1-17 1-18 1-16 1-12 1-5 1 1 1 7 1 14 1 19 1 21 1 23 1 22 1 19 1 16 1 12 1 11 1 10 1 9 1 10"/>
<path d="M0 -146l1 0 1-2 1-2 1-2 1-3 1-1 1 2 1 7 1 14 1 23 1 31 1 37 1 41 1 41 1 37 1 32 1 23 1 12 1 2 1-10 1-19 1-26 1-30 1-32 1-32 1-33 1-33 1-32"/>
<path d="M0 146l1 0 1 1 1 3 1 4 1 5 1 8 1 10 1 12 1 13 1 9 1 4 1-5 1-12 1-18 1-24 1-28 1-30 1-28 1-26 1-22 1-15 1-9 1-4 1-1 1 0 1 0 1 0 1-1"/>
<path d="M0 -190l1 0 1-1 1-3 1-3 1-2 1-1 1 2 1 9 1 19 1 29 1 38 1 43 1 45 1 42 1 36 1 25 1 14 1 2 1-12 1-23 1-31 1-38 1-41 1-42 1-43 1-43 1-43 1-42"/>
<path d="M0 -58l1 0 1 0 1 0 1 0 1 1 1 4 1 8 1 15 1 21 1 28 1 32 1 31 1 29 1 24 1 17 1 8 1-1 1-11 1-19 1-25 1-29 1-31 1-31 1-30 1-31 1-31 1-32 1-32"/>
<path d="M0 -231l1 0 1-3 1-3 1-5 1-5 1-5 1-3 1 2 1 10 1 22 1 33 1 44 1 52 1 54 1 53 1 47 1 38 1 26 1 11 1-2 1-16 1-26 1-33 1-37 1-37 1-37 1-37 1-36"/>
<path d="M0 -10l1 0 1 1 1 0 1 2 1 3 1 6 1 12 1 19 1 26 1 31 1 31 1 28 1 21 1 12 1 1 1-9 1-19 1-28 1-33 1-36 1-36 1-34 1-31 1-29 1-29 1-29 1-29 1-31"/>
<path d="M0 -290l1-1 1-2 1-4 1-6 1-8 1-10 1-12 1-11 1-6 1 0 1 10 1 21 1 31 1 38 1 42 1 43 1 41 1 35 1 26 1 17 1 5 1-6 1-15 1-22 1-24 1-25 1-24 1-25"/>
<path d="M0 -135l1-1 1-2 1-3 1-4 1-5 1-6 1-7 1-8 1-8 1-6 1-2 1 5 1 13 1 20 1 27 1 30 1 32 1 30 1 26 1 20 1 13 1 5 1-3 1-7 1-11 1-13 1-13 1-14"/>
<path d="M0 -13l1 0 1-1 1-1 1-3 1-4 1-7 1-13 1-21 1-30 1-35 1-38 1-35 1-28 1-19 1-7 1 5 1 17 1 28 1 35 1 41 1 42 1 41 1 37 1 35 1 32 1 32 1 31 1 31"/>
<path d="M0 -3l1 0 1 1 1 0 1 0 1 1 1 1 1 2 1 4 1 6 1 9 1 10 1 12 1 12 1 10 1 8 1 5 1 1 1-2 1-6 1-8 1-10 1-10 1-9 1-8 1-7 1-6 1-5 1-5"/>
<path d="M0 141l1 1 1 1 1 2 1 2 1 1 1 0 1-5 1-11 1-21 1-31 1-40 1-47 1-49 1-47 1-40 1-32 1-20 1-7 1 7 1 18 1 28 1 35 1 39 1 40 1 39 1 39 1 38 1 39"/>
<path d="M0 69l1 0 1-1 1 0 1-2 1-4 1-8 1-17 1-28 1-39 1-49 1-51 1-47 1-39 1-26 1-10 1 6 1 21 1 36 1 46 1 54 1 55 1 55 1 53 1 50 1 50 1 51 1 51 1 52"/>
<path d="M0 23l1 0 1 0 1 0 1 1 1 0 1 0 1 0 1-1 1 0 1 0 1 0 1 0 1 0 1 0 1-2 1-2 1-3 1-2 1-3 1-3 1-2 1-1 1 0 1 2 1 2 1 4 1 4 1 4"/>
<path d="M0 -128l1-1 1-2 1-3 1-4 1-5 1-5 1-6 1-5 1-1 1 4 1 11 1 19 1 24 1 28 1 30 1 29 1 26 1 21 1 15 1 7 1-1 1-6 1-11 1-13 1-14 1-13 1-14 1-12"/>
<path d="M0 -139l1-1 1-1 1-3 1-4 1-5 1-6 1-8 1-9 1-6 1-3 1 4 1 12 1 19 1 25 1 28 1 31 1 29 1 27 1 22 1 15 1 8 1 2 1-4 1-6 1-8 1-7 1-7 1-7"/>
<path d="M0 110l1 1 1 0 1 1 1 0 1-2 1-5 1-13 1-23 1-37 1-49 1-55 1-54 1-48 1-36 1-21 1-4 1 14 1 29 1 43 1 52 1 58 1 59 1 57 1 56 1 53 1 53 1 53 1 52"/>
<path d="M0 53l1 0 1 1 1 1 1 1 1 1 1 1 1-2 1-5 1-9 1-14 1-16 1-17 1-17 1-15 1-12 1-8 1-2 1 2 1 8 1 11 1 14 1 16 1 17 1 17 1 17 1 18 1 17 1 17"/>
<path d="M0 -60l1-1 1-1 1-1 1-2 1-3 1-4 1-5 1-5 1-7 1-5 1-2 1 2 1 6 1 9 1 13 1 16 1 16 1 16 1 15 1 12 1 9 1 6 1 3 1 1 1 0 1-1 1 0 1 0"/>
<path d="M0 -66l1 1 1-1 1 1 1 0 1 3 1 7 1 13 1 24 1 35 1 44 1 48 1 45 1 36 1 24 1 10 1-6 1-22 1-34 1-45 1-50 1-53 1-51 1-48 1-46 1-44 1-44 1-45 1-46"/>
<path d="M0 356l1 1 1 2 1 5 1 7 1 10 1 13 1 18 1 22 1 23 1 19 1 7 1-10 1-28 1-46 1-60 1-69 1-74 1-72 1-64 1-53 1-37 1-21 1-7 1 2 1 6 1 8 1 8 1 7"/>
<path d="M0 157l1 1 1 1 1 3 1 2 1 2 1-1 1-5 1-14 1-24 1-36 1-45 1-51 1-51 1-47 1-39 1-27 1-13 1 1 1 16 1 28 1 38 1 44 1 46 1 47 1 46 1 46 1 46 1 46"/>
<path d="M0 -218l1-1 1-2 1-3 1-4 1-4 1-4 1-1 1 6 1 14 1 25 1 35 1 41 1 43 1 43 1 37 1 30 1 19 1 8 1-4 1-15 1-25 1-33 1-37 1-39 1-41 1-40 1-40 1-40"/>
<path d="M0 76l1 0 1 1 1 1 1 2 1 4 1 6 1 9 1 13 1 17 1 19 1 19 1 17 1 12 1 6 1-1 1-7 1-14 1-20 1-22 1-24 1-22 1-20 1-16 1-12 1-9 1-9 1-8 1-8"/>
<path d="M0 -299l1-1 1-4 1-5 1-7 1-9 1-10 1-11 1-9 1-3 1 8 1 21 1 35 1 46 1 55 1 58 1 57 1 49 1 39 1 24 1 8 1-7 1-21 1-31 1-35 1-38 1-38 1-37 1-37"/>
<path d="M0 -40l1 0 1 0 1-1 1-2 1-1 1-2 1-2 1-2 1 0 1 2 1 7 1 10 1 13 1 15 1 14 1 14 1 11 1 9 1 6 1 2 1-2 1-4 1-4 1-5 1-4 1-4 1-2 1-2"/>
<path d="M0 -63l1-1 1-1 1-2 1-3 1-3 1-5 1-7 1-9 1-11 1-11 1-9 1-7 1-2 1 2 1 6 1 10 1 13 1 15 1 17 1 15 1 14 1 11 1 8 1 5 1 4 1 3 1 4 1 3"/>
<path d="M0 -162l1 0 1-2 1-2 1-5 1-6 1-8 1-11 1-14 1-13 1-12 1-4 1 3 1 12 1 21 1 26 1 32 1 33 1 34 1 30 1 24 1 18 1 11 1 5 1 0 1-1 1-2 1-1 1-1"/>
<path d="M0 269l1 0 1 2 1 3 1 3 1 3 1 2 1-3 1-12 1-24 1-39 1-51 1-62 1-66 1-63 1-56 1-43 1-27 1-8 1 10 1 28 1 41 1 51 1 56 1 58 1 58 1 57 1 57 1 57"/>
<path d="M0 24l1 0 1 1 1 1 1 3 1 4 1 7 1 11 1 19 1 25 1 28 1 28 1 23 1 15 1 6 1-5 1-14 1-23 1-30 1-35 1-36 1-35 1-32 1-29 1-26 1-25 1-26 1-25 1-26"/>
<path d="M0 24l1 0 1 0 1 1 1 2 1 3 1 6 1 11 1 16 1 23 1 27 1 27 1 23 1 17 1 10 1 0 1-9 1-18 1-24 1-30 1-31 1-32 1-30 1-27 1-24 1-24 1-23 1-23 1-24"/>
<path d="M0 190l1 1 1 2 1 2 1 2 1 2 1-1 1-6 1-15 1-27 1-39 1-51 1-57 1-58 1-54 1-46 1-33 1-18 1-2 1 15 1 29 1 40 1 47 1 51 1 52 1 52 1 52 1 51 1 51"/>
<path d="M0 72l1 1 1 1 1 3 1 4 1 7 1 10 1 18 1 26 1 35 1 43 1 43 1 39 1 30 1 16 1 1 1-14 1-29 1-41 1-49 1-52 1-52 1-47 1-40 1-34 1-31 1-28 1-28 1-28"/>
<path d="M0 176l1 1 1 3 1 4 1 5 1 9 1 12 1 17 1 24 1 28 1 30 1 25 1 17 1 7 1-6 1-18 1-30 1-38 1-44 1-46 1-45 1-40 1-33 1-25 1-18 1-15 1-14 1-13 1-13"/>
<path d="M0 27l1-1 1 0 1 1 1 1 1 3 1 5 1 9 1 13 1 19 1 23 1 23 1 22 1 19 1 13 1 7 1 0 1-8 1-14 1-18 1-23 1-24 1-23 1-22 1-20 1-19 1-20 1-19 1-19"/>
<path d="M0 80l1 0 1 1 1 2 1 3 1 6 1 9 1 14 1 21 1 28 1 32 1 31 1 26 1 17 1 6 1-6 1-17 1-28 1-35 1-41 1-41 1-38 1-34 1-28 1-23 1-21 1-19 1-20 1-20"/>
<path d="M0 -57l1 0 1-1 1-1 1-1 1-3 1-3 1-5 1-5 1-4 1-5 1-3 1-3 1-1 1 0 1 0 1 2 1 3 1 3 1 4 1 4 1 3 1 2 1 0 1 0 1-2 1-2 1-3 1-2"/>
<path d="M0 126l1 1 1 2 1 3 1 3 1 5 1 5 1 6 1 5 1 4 1-1 1-5 1-12 1-18 1-23 1-26 1-27 1-27 1-25 1-19 1-15 1-8 1-1 1 3 1 7 1 9 1 9 1 11 1 10"/>
<path d="M0 108l1 1 1 0 1 1 1 1 1-1 1-3 1-10 1-17 1-26 1-35 1-39 1-38 1-35 1-28 1-19 1-7 1 5 1 16 1 26 1 33 1 38 1 40 1 41 1 40 1 41 1 42 1 43 1 43"/>
<path d="M0 224l1 1 1 3 1 4 1 6 1 8 1 10 1 13 1 16 1 18 1 16 1 9 1-1 1-13 1-24 1-36 1-43 1-46 1-47 1-42 1-34 1-24 1-12 1-2 1 7 1 11 1 13 1 14 1 14"/>
<path d="M0 -176l1-1 1-1 1-3 1-3 1-3 1-2 1 1 1 7 1 14 1 23 1 30 1 35 1 35 1 34 1 30 1 23 1 14 1 4 1-5 1-14 1-23 1-28 1-32 1-35 1-36 1-37 1-37 1-38"/>
<path d="M0 182l1 1 1 2 1 4 1 5 1 8 1 9 1 13 1 15 1 15 1 11 1 4 1-4 1-13 1-20 1-28 1-31 1-33 1-33 1-28 1-23 1-16 1-8 1-2 1 4 1 5 1 6 1 5 1 4"/>
<path d="M0 -319l1-1 1-4 1-5 1-7 1-10 1-14 1-17 1-21 1-23 1-20 1-11 1 3 1 18 1 35 1 48 1 58 1 63 1 63 1 57 1 47 1 33 1 18 1 4 1-7 1-13 1-15 1-16 1-15"/>
<path d="M0 71l1 0 1 1 1 1 1 2 1 2 1 1 1 1 1-1 1-6 1-10 1-16 1-21 1-23 1-23 1-22 1-18 1-14 1-8 1-2 1 4 1 10 1 13 1 14 1 15 1 14 1 14 1 13 1 13"/>
<path d="M0 109l1 1 1 2 1 2 1 5 1 6 1 11 1 17 1 25 1 31 1 34 1 30 1 22 1 10 1-3 1-16 1-28 1-38 1-45 1-48 1-47 1-42 1-37 1-29 1-25 1-22 1-23 1-22 1-24"/>
<path d="M0 -158l1 0 1-1 1-2 1-2 1-4 1-3 1-2 1 1 1 5 1 12 1 17 1 21 1 25 1 25 1 25 1 22 1 17 1 11 1 4 1-2 1-9 1-15 1-19 1-21 1-23 1-24 1-23 1-24"/>
<path d="M0 -319l1-1 1-2 1-4 1-5 1-6 1-4 1-2 1 6 1 18 1 31 1 45 1 55 1 60 1 60 1 56 1 47 1 34 1 19 1 2 1-13 1-28 1-39 1-46 1-50 1-51 1-52 1-51 1-50"/>
<path d="M0 -204l1-1 1-2 1-4 1-5 1-7 1-8 1-9 1-9 1-8 1-3 1 4 1 13 1 21 1 28 1 34 1 36 1 35 1 32 1 25 1 18 1 7 1-1 1-9 1-15 1-18 1-19 1-19 1-19"/>
<path d="M0 48l1 0 1 1 1 1 1 3 1 4 1 9 1 14 1 21 1 29 1 32 1 33 1 27 1 18 1 7 1-4 1-16 1-26 1-35 1-39 1-40 1-39 1-34 1-30 1-26 1-24 1-24 1-25 1-26"/>
<path d="M0 -49l1-1 1-2 1-2 1-4 1-6 1-11 1-18 1-28 1-37 1-44 1-45 1-39 1-28 1-15 1 0 1 15 1 30 1 41 1 50 1 54 1 54 1 50 1 44 1 41 1 37 1 37 1 38 1 37"/>
<path d="M0 -242l1-1 1-2 1-5 1-7 1-9 1-13 1-19 1-24 1-27 1-26 1-19 1-9 1 4 1 17 1 29 1 40 1 46 1 50 1 49 1 45 1 36 1 27 1 17 1 10 1 6 1 5 1 4 1 5"/>
<path d="M0 82l1 0 1-1 1 0 1-1 1-3 1-7 1-14 1-25 1-37 1-47 1-54 1-56 1-50 1-42 1-28 1-13 1 4 1 21 1 34 1 46 1 53 1 55 1 54 1 52 1 50 1 50 1 50 1 50"/>
<path d="M0 256l1 1 1 2 1 3 1 5 1 4 1 2 1-1 1-8 1-20 1-35 1-47 1-59 1-65 1-64 1-60 1-49 1-35 1-18 1 0 1 17 1 33 1 43 1 49 1 52 1 52 1 52 1 52 1 50"/>
<path d="M0 140l1 0 1 1 1 3 1 4 1 6 1 9 1 13 1 19 1 23 1 25 1 21 1 13 1 2 1-9 1-21 1-31 1-38 1-43 1-45 1-43 1-38 1-31 1-25 1-18 1-16 1-14 1-13 1-13"/>
<path d="M0 127l1 1 1 1 1 3 1 4 1 5 1 9 1 12 1 17 1 22 1 25 1 25 1 20 1 12 1 2 1-9 1-20 1-28 1-35 1-39 1-39 1-37 1-31 1-25 1-19 1-14 1-11 1-10 1-9"/>
<path d="M0 333l1 1 1 3 1 5 1 7 1 8 1 10 1 11 1 9 1 5 1-6 1-18 1-33 1-46 1-56 1-61 1-62 1-58 1-50 1-38 1-23 1-7 1 6 1 18 1 25 1 29 1 30 1 29 1 30"/>
<path d="M0 147l1 1 1 2 1 2 1 2 1 1 1-1 1-7 1-16 1-27 1-39 1-49 1-53 1-53 1-47 1-37 1-24 1-9 1 6 1 22 1 33 1 43 1 48 1 49 1 49 1 48 1 48 1 47 1 47"/>
<path d="M0 182l1 1 1 3 1 3 1 6 1 8 1 11 1 16 1 21 1 24 1 27 1 23 1 18 1 10 1-1 1-11 1-20 1-29 1-35 1-38 1-38 1-35 1-30 1-23 1-16 1-13 1-9 1-10 1-9"/>
<path d="M0 37l1 0 1 0 1 1 1 1 1 3 1 4 1 6 1 8 1 10 1 9 1 8 1 3 1 1 1-3 1-5 1-8 1-10 1-11 1-12 1-10 1-9 1-8 1-6 1-6 1-6 1-6 1-8 1-8"/>
<path d="M0 147l1 1 1 1 1 2 1 2 1 3 1 3 1 0 1-3 1-10 1-17 1-23 1-28 1-29 1-27 1-24 1-19 1-11 1-4 1 4 1 12 1 18 1 23 1 26 1 27 1 28 1 27 1 28 1 27"/>
<path d="M0 286l1 1 1 3 1 4 1 5 1 6 1 5 1 3 1-2 1-10 1-23 1-36 1-47 1-57 1-60 1-61 1-54 1-44 1-31 1-14 1 2 1 18 1 31 1 39 1 45 1 46 1 47 1 47 1 47"/>
<path d="M0 98l1 1 1 1 1 2 1 3 1 3 1 3 1 3 1 1 1-2 1-7 1-12 1-19 1-24 1-28 1-30 1-29 1-26 1-21 1-15 1-8 1-1 1 6 1 9 1 12 1 13 1 14 1 13 1 13"/>
<path d="M0 151l1 1 1 1 1 3 1 2 1 1 1-1 1-5 1-14 1-27 1-38 1-48 1-54 1-52 1-47 1-37 1-24 1-10 1 6 1 21 1 32 1 42 1 47 1 48 1 48 1 47 1 45 1 45 1 45"/>
<path d="M0 -222l1-1 1-2 1-4 1-6 1-9 1-13 1-20 1-29 1-37 1-41 1-38 1-29 1-13 1 4 1 22 1 39 1 53 1 63 1 67 1 66 1 61 1 52 1 40 1 31 1 25 1 23 1 21 1 22"/>
<path d="M0 259l1 1 1 1 1 3 1 4 1 3 1 0 1-5 1-14 1-27 1-42 1-54 1-62 1-64 1-59 1-51 1-37 1-22 1-3 1 15 1 30 1 44 1 51 1 57 1 59 1 58 1 59 1 58 1 59"/>
<path d="M0 167l1 0 1 2 1 1 1 2 1 0 1-3 1-8 1-19 1-33 1-46 1-57 1-61 1-60 1-52 1-41 1-25 1-7 1 10 1 27 1 40 1 51 1 56 1 57 1 56 1 55 1 54 1 53 1 53"/>
<path d="M0 -59l1 0 1 0 1-1 1-2 1-1 1-2 1-2 1-1 1 0 1 1 1 2 1 3 1 2 1 3 1 4 1 4 1 3 1 3 1 2 1 1 1-1 1-2 1-4 1-6 1-8 1-9 1-9 1-10"/>
<path d="M0 12l1 0 1 1 1 0 1 0 1 0 1-1 1-2 1-4 1-8 1-12 1-15 1-18 1-17 1-15 1-11 1-6 1-1 1 4 1 9 1 13 1 15 1 16 1 14 1 12 1 11 1 9 1 9 1 8"/>
<path d="M0 -61l1 0 1-1 1-1 1-2 1-3 1-3 1-3 1-5 1-6 1-6 1-3 1-1 1 6 1 11 1 15 1 20 1 21 1 21 1 20 1 17 1 12 1 8 1 3 1 0 1-2 1-4 1-4 1-4"/>
<path d="M0 244l1 2 1 3 1 5 1 7 1 9 1 12 1 13 1 15 1 12 1 7 1-3 1-14 1-26 1-34 1-42 1-45 1-46 1-43 1-36 1-28 1-17 1-6 1 2 1 8 1 11 1 13 1 12 1 11"/>
<path d="M0 -118l1 0 1-1 1-1 1-2 1-1 1-1 1 1 1 5 1 9 1 15 1 21 1 24 1 28 1 29 1 28 1 23 1 18 1 11 1 3 1-5 1-12 1-17 1-21 1-23 1-25 1-25 1-25 1-26"/>
<path d="M0 -213l1 0 1-3 1-3 1-4 1-4 1-4 1 0 1 5 1 14 1 25 1 37 1 44 1 49 1 48 1 44 1 35 1 23 1 11 1-4 1-16 1-28 1-35 1-40 1-42 1-42 1-42 1-41 1-41"/>
<path d="M0 -135l1-1 1-1 1-1 1-2 1-2 1 1 1 4 1 11 1 22 1 32 1 41 1 46 1 47 1 42 1 35 1 24 1 12 1-2 1-14 1-25 1-34 1-39 1-41 1-40 1-39 1-39 1-37 1-38"/>
<path d="M0 254l1 1 1 2 1 4 1 6 1 6 1 8 1 7 1 4 1-3 1-11 1-23 1-34 1-42 1-47 1-49 1-46 1-40 1-31 1-21 1-7 1 4 1 15 1 22 1 28 1 29 1 29 1 29 1 29"/>
<path d="M0 14l1 1 1 1 1 2 1 3 1 4 1 7 1 13 1 19 1 28 1 34 1 37 1 34 1 27 1 17 1 6 1-7 1-19 1-29 1-36 1-41 1-42 1-40 1-36 1-32 1-29 1-27 1-27 1-27"/>
<path d="M0 -217l1-1 1-3 1-4 1-5 1-7 1-7 1-8 1-6 1-4 1 2 1 8 1 17 1 24 1 30 1 34 1 35 1 35 1 30 1 25 1 17 1 9 1-1 1-8 1-14 1-18 1-19 1-20 1-21"/>
<path d="M0 -70l1 0 1 0 1 0 1 1 1 2 1 5 1 12 1 21 1 33 1 44 1 50 1 49 1 44 1 33 1 19 1 4 1-13 1-27 1-39 1-48 1-52 1-53 1-50 1-47 1-45 1-43 1-43 1-43"/>
<path d="M0 9l1 0 1 0 1 0 1-1 1-2 1-3 1-6 1-12 1-19 1-24 1-26 1-27 1-22 1-15 1-7 1 2 1 11 1 19 1 25 1 29 1 31 1 29 1 27 1 25 1 22 1 21 1 20 1 21"/>
<path d="M0 46l1 1 1 1 1 1 1 2 1 2 1 1 1 1 1 0 1-1 1-1 1-3 1-3 1-4 1-5 1-7 1-6 1-7 1-5 1-5 1-3 1-1 1 0 1 3 1 6 1 7 1 8 1 9 1 9"/>
<path d="M0 -158l1-1 1-2 1-3 1-4 1-6 1-7 1-10 1-11 1-10 1-9 1-2 1 5 1 14 1 21 1 28 1 32 1 34 1 32 1 29 1 23 1 15 1 7 1 1 1-4 1-7 1-8 1-7 1-8"/>
<path d="M0 -95l1 0 1 0 1-1 1 0 1 2 1 5 1 11 1 19 1 30 1 40 1 44 1 45 1 42 1 34 1 24 1 12 1-2 1-14 1-26 1-36 1-41 1-44 1-45 1-44 1-45 1-44 1-45 1-46"/>
<path d="M0 12l1-1 1 0 1 0 1 0 1-1 1-1 1-2 1-4 1-6 1-7 1-9 1-10 1-10 1-10 1-8 1-5 1-3 1 0 1 2 1 6 1 7 1 7 1 8 1 8 1 7 1 7 1 7 1 6"/>
<path d="M0 -233l1 0 1-2 1-3 1-3 1-3 1-1 1 2 1 10 1 20 1 32 1 43 1 50 1 55 1 55 1 49 1 40 1 27 1 13 1-3 1-17 1-30 1-40 1-45 1-48 1-50 1-50 1-50 1-51"/>
<path d="M0 -146l1-1 1-2 1-3 1-5 1-7 1-10 1-16 1-23 1-30 1-32 1-30 1-22 1-9 1 5 1 20 1 33 1 44 1 52 1 54 1 52 1 47 1 38 1 29 1 21 1 17 1 15 1 13 1 14"/>
<path d="M0 -101l1-1 1-1 1-2 1-3 1-3 1-2 1-1 1 1 1 5 1 10 1 13 1 16 1 17 1 17 1 16 1 12 1 9 1 3 1-1 1-6 1-10 1-14 1-17 1-18 1-20 1-20 1-20 1-21"/>
<path d="M0 116l1 0 1 1 1 2 1 4 1 4 1 6 1 9 1 10 1 10 1 7 1 3 1-3 1-10 1-15 1-19 1-23 1-23 1-22 1-20 1-15 1-10 1-4 1-1 1 3 1 4 1 3 1 3 1 3"/>
<path d="M0 -170l1-1 1-3 1-4 1-5 1-8 1-11 1-16 1-20 1-23 1-21 1-13 1-2 1 11 1 24 1 35 1 43 1 48 1 48 1 45 1 38 1 29 1 18 1 10 1 4 1 2 1 2 1 2 1 4"/>
<path d="M0 149l1 0 1 2 1 3 1 5 1 7 1 11 1 17 1 24 1 31 1 34 1 32 1 26 1 13 1 0 1-16 1-29 1-40 1-48 1-52 1-50 1-45 1-36 1-27 1-19 1-16 1-13 1-12 1-13"/>
<path d="M0 176l1 1 1 1 1 1 1 1 1-1 1-4 1-12 1-23 1-38 1-52 1-65 1-69 1-68 1-60 1-45 1-28 1-8 1 12 1 32 1 47 1 58 1 65 1 65 1 64 1 62 1 61 1 60 1 60"/>
<path d="M0 230l1 1 1 3 1 4 1 7 1 9 1 14 1 21 1 27 1 34 1 33 1 28 1 15 1 0 1-17 1-33 1-47 1-56 1-62 1-61 1-57 1-48 1-36 1-25 1-17 1-13 1-12 1-11 1-12"/>
<path d="M0 -109l1 0 1 0 1-1 1 0 1 1 1 5 1 10 1 19 1 31 1 42 1 50 1 54 1 53 1 45 1 34 1 20 1 3 1-13 1-27 1-40 1-48 1-51 1-50 1-49 1-47 1-47 1-46 1-46"/>
<path d="M0 -168l1-2 1-2 1-4 1-5 1-6 1-8 1-9 1-10 1-9 1-5 1 1 1 9 1 18 1 25 1 31 1 34 1 34 1 31 1 27 1 19 1 11 1 2 1-5 1-10 1-12 1-13 1-13 1-13"/>
<path d="M0 -190l1-2 1-2 1-3 1-5 1-4 1-4 1-2 1 2 1 9 1 15 1 22 1 28 1 31 1 32 1 32 1 28 1 22 1 14 1 7 1-3 1-11 1-18 1-24 1-28 1-31 1-33 1-33 1-34"/>
<path d="M0 82l1 1 1 1 1 2 1 3 1 4 1 7 1 9 1 13 1 16 1 17 1 13 1 7 1 0 1-8 1-15 1-21 1-27 1-29 1-30 1-28 1-24 1-20 1-16 1-13 1-11 1-10 1-11 1-11"/>
<path d="M0 -233l1 0 1-1 1-2 1-3 1-2 1 1 1 5 1 16 1 29 1 43 1 53 1 58 1 57 1 49 1 38 1 22 1 6 1-13 1-28 1-41 1-51 1-56 1-59 1-58 1-57 1-56 1-57 1-56"/>
<path d="M0 -147l1-1 1-1 1-2 1-2 1-1 1 2 1 8 1 17 1 31 1 43 1 55 1 61 1 60 1 54 1 42 1 28 1 11 1-6 1-24 1-37 1-48 1-54 1-55 1-54 1-52 1-51 1-50 1-50"/>
<path d="M0 -31l1-1 1-1 1-1 1-2 1-4 1-6 1-11 1-16 1-25 1-31 1-33 1-34 1-27 1-19 1-8 1 3 1 15 1 24 1 33 1 37 1 38 1 36 1 32 1 28 1 23 1 22 1 20 1 21"/>
<path d="M0 -256l1-1 1-2 1-5 1-6 1-8 1-10 1-12 1-13 1-12 1-6 1 4 1 16 1 30 1 40 1 48 1 53 1 52 1 48 1 39 1 28 1 15 1 3 1-8 1-15 1-18 1-19 1-19 1-19"/>
<path d="M0 18l1 0 1-1 1 0 1-1 1-2 1-5 1-10 1-16 1-22 1-28 1-30 1-28 1-24 1-17 1-9 1 0 1 9 1 18 1 24 1 29 1 31 1 31 1 29 1 27 1 27 1 27 1 27 1 27"/>
<path d="M0 -113l1-1 1-1 1-2 1-4 1-5 1-6 1-9 1-9 1-9 1-7 1-3 1 4 1 8 1 13 1 17 1 19 1 19 1 19 1 17 1 13 1 8 1 3 1-1 1-4 1-5 1-5 1-5 1-4"/>
<path d="M0 104l1 0 1 1 1 2 1 3 1 4 1 7 1 9 1 13 1 16 1 17 1 17 1 13 1 8 1 1 1-6 1-13 1-18 1-23 1-25 1-25 1-23 1-20 1-14 1-10 1-7 1-5 1-5 1-5"/>
<path d="M0 21l1 1 1 0 1 0 1 0 1 0 1 0 1-2 1-4 1-5 1-8 1-8 1-9 1-7 1-7 1-5 1-2 1 0 1 3 1 5 1 7 1 8 1 9 1 8 1 9 1 9 1 10 1 9 1 10"/>
<path d="M0 -142l1-1 1-3 1-3 1-5 1-8 1-11 1-17 1-25 1-32 1-35 1-31 1-23 1-10 1 6 1 22 1 35 1 47 1 54 1 57 1 54 1 49 1 40 1 30 1 23 1 19 1 17 1 17 1 17"/>
<path d="M0 169l1 1 1 2 1 3 1 5 1 8 1 12 1 17 1 26 1 32 1 37 1 36 1 29 1 17 1 3 1-12 1-27 1-39 1-49 1-54 1-54 1-51 1-43 1-34 1-25 1-20 1-17 1-17 1-16"/>
<path d="M0 105l1 0 1 1 1 2 1 3 1 4 1 6 1 9 1 11 1 15 1 17 1 16 1 14 1 9 1 3 1-4 1-11 1-16 1-21 1-23 1-24 1-23 1-18 1-15 1-9 1-7 1-4 1-3 1-3"/>
<path d="M0 -114l1-1 1-1 1-2 1-3 1-4 1-5 1-5 1-6 1-7 1-4 1-2 1 2 1 7 1 13 1 17 1 19 1 21 1 21 1 18 1 15 1 9 1 5 1-1 1-4 1-7 1-9 1-9 1-10"/>
<path d="M0 -159l1-1 1-2 1-3 1-5 1-7 1-10 1-13 1-18 1-23 1-23 1-21 1-13 1-3 1 10 1 21 1 32 1 39 1 44 1 45 1 42 1 36 1 29 1 19 1 12 1 8 1 5 1 5 1 4"/>
<path d="M0 -196l1 0 1-2 1-3 1-5 1-7 1-10 1-14 1-18 1-19 1-15 1-8 1 4 1 18 1 29 1 39 1 45 1 49 1 47 1 42 1 34 1 24 1 13 1 5 1-1 1-3 1-3 1-2 1-2"/>
<path d="M0 -235l1-1 1-3 1-3 1-4 1-4 1-2 1 1 1 9 1 17 1 27 1 37 1 42 1 46 1 47 1 42 1 35 1 25 1 13 1 0 1-13 1-24 1-34 1-40 1-44 1-48 1-49 1-50 1-50"/>
<path d="M0 -80l1 1 1 0 1 0 1 1 1 2 1 5 1 11 1 20 1 31 1 41 1 47 1 49 1 47 1 39 1 28 1 15 1 0 1-15 1-27 1-37 1-45 1-47 1-46 1-45 1-44 1-42 1-42 1-42"/>
<path d="M0 62l1 0 1 1 1 1 1 2 1 3 1 4 1 4 1 5 1 6 1 5 1 5 1 3 1 1 1-2 1-5 1-8 1-9 1-10 1-11 1-9 1-8 1-6 1-3 1 0 1 1 1 3 1 3 1 4"/>
<path d="M0 172l1 0 1 2 1 2 1 3 1 3 1 2 1-2 1-8 1-16 1-24 1-32 1-38 1-40 1-39 1-35 1-29 1-20 1-9 1 1 1 12 1 21 1 28 1 32 1 35 1 36 1 37 1 37 1 37"/>
<path d="M0 243l1 1 1 2 1 3 1 5 1 5 1 5 1 4 1-1 1-10 1-19 1-28 1-37 1-42 1-42 1-40 1-35 1-26 1-15 1-4 1 8 1 18 1 27 1 33 1 37 1 38 1 38 1 38 1 39"/>
<path d="M0 -28l1 0 1 0 1 0 1 0 1 1 1 3 1 6 1 10 1 14 1 17 1 20 1 19 1 18 1 14 1 11 1 5 1 0 1-5 1-11 1-14 1-17 1-18 1-19 1-18 1-18 1-19 1-19 1-19"/>
<path d="M0 -48l1-1 1 0 1-1 1 0 1 0 1 3 1 7 1 14 1 21 1 30 1 32 1 33 1 28 1 20 1 10 1 0 1-11 1-21 1-29 1-33 1-37 1-36 1-34 1-33 1-31 1-30 1-30 1-30"/>
<path d="M0 259l1 1 1 2 1 3 1 6 1 9 1 14 1 21 1 30 1 37 1 39 1 32 1 18 1 0 1-19 1-38 1-54 1-65 1-72 1-72 1-67 1-58 1-45 1-33 1-25 1-21 1-19 1-19 1-20"/>
<path d="M0 -244l1-1 1-2 1-4 1-5 1-7 1-7 1-6 1-5 1 1 1 7 1 16 1 23 1 29 1 34 1 35 1 34 1 31 1 25 1 17 1 8 1-1 1-10 1-18 1-23 1-27 1-28 1-29 1-29"/>
<path d="M0 426l1 1 1 2 1 3 1 5 1 5 1 4 1 0 1-8 1-21 1-37 1-53 1-68 1-75 1-76 1-71 1-61 1-46 1-28 1-8 1 12 1 31 1 44 1 54 1 58 1 59 1 59 1 58 1 57"/>
<path d="M0 294l1 0 1 1 1 2 1 2 1 1 1-2 1-9 1-20 1-34 1-50 1-61 1-68 1-69 1-64 1-53 1-38 1-19 1-1 1 19 1 36 1 50 1 58 1 64 1 66 1 66 1 66 1 66 1 66"/>
<path d="M0 149l1 0 1 2 1 2 1 2 1 3 1 1 1-1 1-8 1-15 1-23 1-29 1-34 1-34 1-31 1-25 1-19 1-10 1 0 1 9 1 17 1 24 1 28 1 32 1 33 1 33 1 34 1 33 1 34"/>
<path d="M0 -214l1-1 1-2 1-3 1-6 1-8 1-11 1-15 1-20 1-22 1-22 1-14 1-5 1 7 1 19 1 31 1 39 1 45 1 47 1 45 1 40 1 31 1 22 1 12 1 6 1 2 1 1 1 1 1 1"/>
<path d="M0 -98l1 0 1-1 1-1 1-1 1 1 1 3 1 9 1 18 1 27 1 38 1 46 1 50 1 49 1 43 1 35 1 22 1 8 1-6 1-20 1-32 1-40 1-44 1-45 1-45 1-43 1-43 1-43 1-42"/>
<path d="M0 -398l1-2 1-3 1-5 1-7 1-9 1-13 1-16 1-20 1-20 1-14 1-3 1 12 1 29 1 45 1 58 1 67 1 69 1 68 1 60 1 48 1 33 1 17 1 2 1-8 1-14 1-15 1-16 1-15"/>
<path d="M0 -28l1 0 1 0 1-1 1 0 1 0 1 0 1 2 1 5 1 8 1 12 1 16 1 18 1 18 1 16 1 13 1 9 1 4 1-1 1-6 1-11 1-13 1-14 1-14 1-14 1-12 1-11 1-11 1-11"/>
<path d="M0 -298l1 0 1-3 1-3 1-6 1-5 1-5 1-3 1 3 1 11 1 24 1 36 1 47 1 54 1 58 1 57 1 51 1 42 1 29 1 15 1-1 1-15 1-27 1-36 1-41 1-43 1-44 1-44 1-44"/>
<path d="M0 -37l1 0 1 0 1 0 1 1 1 2 1 5 1 11 1 20 1 28 1 35 1 38 1 37 1 31 1 21 1 11 1-1 1-14 1-24 1-33 1-38 1-41 1-40 1-38 1-35 1-35 1-35 1-34 1-36"/>
<path d="M0 -173l1-1 1-3 1-3 1-5 1-8 1-10 1-13 1-19 1-22 1-23 1-18 1-10 1 2 1 15 1 26 1 37 1 44 1 49 1 49 1 45 1 39 1 31 1 21 1 14 1 10 1 7 1 6 1 6"/>
<path d="M0 -117l1 0 1-1 1-2 1-3 1-3 1-5 1-5 1-6 1-4 1-2 1 3 1 7 1 12 1 16 1 19 1 21 1 21 1 19 1 16 1 11 1 7 1 2 1-2 1-5 1-7 1-7 1-8 1-8"/>
<path d="M0 165l1 1 1 2 1 3 1 4 1 4 1 4 1 3 1 1 1-5 1-12 1-20 1-29 1-36 1-41 1-42 1-40 1-34 1-28 1-18 1-7 1 3 1 12 1 18 1 22 1 24 1 24 1 24 1 25"/>
<path d="M0 -217l1-1 1-2 1-4 1-6 1-9 1-13 1-21 1-27 1-32 1-33 1-25 1-13 1 2 1 17 1 32 1 44 1 54 1 59 1 59 1 55 1 47 1 38 1 28 1 21 1 19 1 17 1 18 1 19"/>
<path d="M0 94l1 0 1 1 1 0 1 1 1 0 1-3 1-8 1-15 1-27 1-37 1-46 1-49 1-49 1-42 1-32 1-19 1-6 1 10 1 22 1 34 1 41 1 45 1 45 1 43 1 41 1 40 1 39 1 38"/>
<path d="M0 39l1 0 1 0 1 1 1 1 1 2 1 1 1 2 1 1 1-1 1-1 1-4 1-3 1-4 1-2 1-2 1-1 1 1 1 1 1 3 1 3 1 4 1 4 1 6 1 5 1 6 1 6 1 5 1 6"/>
<path d="M0 32l1 1 1 0 1 1 1 2 1 1 1 2 1 3 1 3 1 3 1 4 1 1 1 0 1-3 1-5 1-8 1-9 1-10 1-10 1-10 1-8 1-7 1-5 1-2 1-2 1-1 1 0 1 0 1 0"/>
<path d="M0 97l1 1 1 0 1 2 1 1 1 0 1-1 1-5 1-12 1-18 1-26 1-33 1-36 1-37 1-35 1-30 1-23 1-14 1-4 1 5 1 15 1 23 1 27 1 31 1 31 1 32 1 31 1 32 1 32"/>
<path d="M0 176l1 0 1 2 1 3 1 3 1 4 1 4 1 1 1-2 1-8 1-15 1-21 1-25 1-27 1-29 1-26 1-23 1-17 1-11 1-3 1 6 1 12 1 18 1 23 1 27 1 29 1 31 1 31 1 31"/>
<path d="M0 188l1 1 1 3 1 3 1 6 1 7 1 9 1 12 1 14 1 13 1 9 1 1 1-10 1-22 1-32 1-39 1-44 1-45 1-43 1-36 1-27 1-18 1-7 1 1 1 6 1 8 1 8 1 8 1 8"/>
<path d="M0 -221l1 0 1-3 1-3 1-5 1-7 1-7 1-7 1-7 1-4 1 3 1 12 1 24 1 34 1 42 1 47 1 48 1 45 1 38 1 29 1 16 1 4 1-8 1-16 1-22 1-25 1-25 1-26 1-25"/>
<path d="M0 -93l1-1 1-2 1-2 1-5 1-6 1-10 1-15 1-24 1-32 1-39 1-40 1-37 1-26 1-14 1 2 1 16 1 30 1 41 1 48 1 53 1 51 1 47 1 41 1 33 1 29 1 25 1 25 1 24"/>
<path d="M0 77l1 0 1 0 1 2 1 2 1 3 1 4 1 6 1 7 1 9 1 7 1 6 1 0 1-5 1-10 1-16 1-20 1-22 1-22 1-20 1-18 1-13 1-9 1-4 1-2 1 1 1 1 1 1 1 2"/>
<path d="M0 79l1 0 1 0 1 1 1 0 1 0 1-2 1-5 1-12 1-18 1-25 1-30 1-31 1-28 1-23 1-15 1-7 1 3 1 11 1 20 1 26 1 29 1 31 1 30 1 31 1 29 1 29 1 29 1 29"/>
<path d="M0 259l1 1 1 2 1 4 1 5 1 5 1 5 1 4 1 0 1-7 1-15 1-25 1-34 1-43 1-48 1-51 1-48 1-43 1-34 1-22 1-10 1 3 1 15 1 24 1 31 1 35 1 36 1 37 1 38"/>
<path d="M0 -263l1-2 1-3 1-4 1-7 1-8 1-10 1-12 1-13 1-11 1-6 1 2 1 14 1 27 1 37 1 46 1 52 1 52 1 49 1 42 1 32 1 19 1 7 1-4 1-12 1-17 1-18 1-20 1-19"/>
<path d="M0 116l1 0 1 0 1 0 1-2 1-3 1-8 1-17 1-30 1-45 1-59 1-68 1-68 1-61 1-48 1-30 1-10 1 12 1 33 1 49 1 63 1 69 1 72 1 69 1 65 1 64 1 61 1 62 1 61"/>
<path d="M0 -176l1-1 1-3 1-3 1-6 1-9 1-13 1-20 1-28 1-36 1-39 1-35 1-23 1-8 1 11 1 28 1 44 1 56 1 63 1 65 1 62 1 53 1 43 1 32 1 24 1 19 1 18 1 18 1 18"/>
<path d="M0 -290l1-1 1-3 1-5 1-7 1-9 1-11 1-14 1-15 1-14 1-10 1 0 1 10 1 22 1 33 1 42 1 48 1 49 1 48 1 42 1 32 1 22 1 9 1-2 1-10 1-16 1-17 1-18 1-18"/>
<path d="M0 65l1-1 1 1 1 1 1 1 1 2 1 1 1 0 1 0 1-2 1-3 1-7 1-11 1-14 1-18 1-19 1-19 1-18 1-14 1-11 1-5 1 0 1 4 1 8 1 9 1 11 1 12 1 12 1 13"/>
<path d="M0 280l1 0 1 3 1 3 1 5 1 5 1 4 1 1 1-5 1-13 1-23 1-36 1-46 1-54 1-57 1-57 1-51 1-41 1-28 1-13 1 3 1 19 1 30 1 40 1 46 1 48 1 50 1 50 1 51"/>
<path d="M0 432l1 2 1 2 1 5 1 6 1 10 1 14 1 21 1 27 1 31 1 28 1 16 1-2 1-24 1-47 1-66 1-80 1-88 1-90 1-83 1-71 1-54 1-35 1-19 1-8 1-2 1-1 1-1 1-1"/>
<path d="M0 232l1 1 1 2 1 3 1 3 1 3 1 2 1-4 1-12 1-24 1-37 1-47 1-54 1-56 1-53 1-45 1-34 1-20 1-6 1 10 1 23 1 35 1 44 1 47 1 50 1 51 1 51 1 50 1 51"/>
<path d="M0 67l1 0 1 0 1-1 1-1 1-3 1-8 1-15 1-26 1-39 1-50 1-55 1-54 1-48 1-37 1-22 1-5 1 12 1 29 1 41 1 52 1 56 1 58 1 55 1 52 1 51 1 51 1 50 1 51"/>
<path d="M0 -132l1-1 1-1 1-2 1-3 1-2 1-1 1 1 1 6 1 12 1 20 1 27 1 33 1 36 1 36 1 33 1 28 1 20 1 10 1 1 1-9 1-17 1-23 1-27 1-28 1-29 1-29 1-29 1-29"/>
<path d="M0 -366l1-1 1-3 1-4 1-7 1-7 1-9 1-7 1-6 1 1 1 10 1 23 1 35 1 47 1 56 1 61 1 60 1 55 1 46 1 33 1 17 1 1 1-14 1-27 1-35 1-39 1-42 1-42 1-42"/>
<path d="M0 -269l1-1 1-2 1-4 1-6 1-6 1-7 1-7 1-2 1 6 1 18 1 30 1 42 1 49 1 53 1 51 1 46 1 36 1 23 1 10 1-5 1-18 1-29 1-35 1-39 1-40 1-39 1-39 1-37"/>
<path d="M0 171l1 1 1 1 1 3 1 3 1 4 1 4 1 2 1 1 1-4 1-8 1-13 1-18 1-22 1-25 1-27 1-25 1-23 1-19 1-12 1-6 1 1 1 8 1 14 1 19 1 21 1 24 1 24 1 25"/>
<path d="M0 -236l1-2 1-2 1-5 1-6 1-9 1-13 1-17 1-23 1-25 1-22 1-15 1-2 1 13 1 27 1 39 1 50 1 54 1 57 1 53 1 47 1 36 1 25 1 15 1 8 1 4 1 3 1 3 1 4"/>
<path d="M0 167l1 1 1 1 1 3 1 5 1 7 1 13 1 19 1 28 1 35 1 38 1 35 1 28 1 16 1 3 1-11 1-25 1-36 1-45 1-50 1-51 1-48 1-41 1-34 1-29 1-25 1-24 1-25 1-25"/>
<path d="M0 -208l1-1 1-2 1-3 1-4 1-4 1-3 1 1 1 6 1 15 1 24 1 34 1 40 1 43 1 44 1 41 1 34 1 25 1 15 1 2 1-10 1-20 1-28 1-34 1-37 1-40 1-40 1-40 1-41"/>
<path d="M0 107l1 1 1 2 1 3 1 5 1 7 1 10 1 16 1 22 1 29 1 32 1 30 1 22 1 12 1-1 1-14 1-26 1-36 1-43 1-47 1-45 1-42 1-34 1-28 1-21 1-18 1-17 1-17 1-17"/>
<path d="M0 -88l1 0 1 0 1-1 1-3 1-4 1-6 1-11 1-16 1-21 1-25 1-23 1-19 1-11 1-2 1 9 1 18 1 27 1 32 1 36 1 36 1 33 1 29 1 24 1 19 1 16 1 15 1 14 1 15"/>
<path d="M0 -317l1-2 1-4 1-6 1-8 1-10 1-13 1-15 1-17 1-15 1-9 1 3 1 16 1 31 1 44 1 53 1 60 1 61 1 58 1 50 1 40 1 27 1 14 1 1 1-7 1-11 1-13 1-14 1-13"/>
<path d="M0 330l1 1 1 3 1 6 1 7 1 10 1 13 1 14 1 16 1 12 1 4 1-9 1-24 1-39 1-50 1-59 1-62 1-61 1-54 1-45 1-30 1-16 1-1 1 11 1 18 1 21 1 22 1 22 1 21"/>
<path d="M0 -6l1 0 1 1 1 0 1 1 1 1 1 2 1 2 1 5 1 5 1 7 1 8 1 8 1 7 1 7 1 5 1 4 1 1 1-1 1-3 1-5 1-6 1-7 1-6 1-6 1-6 1-6 1-6 1-7"/>
<path d="M0 -304l1-1 1-3 1-5 1-6 1-7 1-7 1-6 1-1 1 9 1 22 1 35 1 48 1 56 1 59 1 56 1 50 1 38 1 25 1 8 1-8 1-23 1-34 1-42 1-46 1-47 1-47 1-45 1-45"/>
<path d="M0 -110l1 0 1-1 1-1 1-2 1-1 1 0 1 2 1 8 1 15 1 23 1 28 1 32 1 30 1 27 1 21 1 14 1 6 1-3 1-12 1-19 1-24 1-27 1-29 1-29 1-29 1-28 1-28 1-28"/>
<path d="M0 293l1 1 1 3 1 5 1 6 1 9 1 10 1 11 1 12 1 8 1 1 1-8 1-19 1-30 1-39 1-45 1-48 1-44 1-39 1-30 1-17 1-4 1 8 1 19 1 26 1 31 1 32 1 32 1 33"/>
<path d="M0 211l1 0 1 2 1 2 1 3 1 2 1 0 1-5 1-13 1-25 1-36 1-44 1-49 1-49 1-44 1-37 1-25 1-12 1 2 1 16 1 28 1 37 1 44 1 47 1 50 1 50 1 51 1 52 1 51"/>
<path d="M0 -31l1 0 1-1 1 0 1-2 1-2 1-5 1-6 1-10 1-12 1-12 1-11 1-7 1-2 1 3 1 8 1 11 1 15 1 18 1 18 1 17 1 16 1 14 1 12 1 10 1 11 1 11 1 12 1 11"/>
<path d="M0 321l1 1 1 2 1 5 1 6 1 10 1 13 1 17 1 21 1 23 1 17 1 6 1-9 1-26 1-42 1-54 1-63 1-66 1-63 1-56 1-43 1-29 1-13 1-1 1 8 1 12 1 13 1 12 1 12"/>
<path d="M0 -110l1 0 1-2 1-2 1-3 1-3 1-4 1-4 1-5 1-4 1-3 1 1 1 4 1 9 1 15 1 18 1 22 1 22 1 23 1 20 1 16 1 12 1 7 1 1 1-4 1-6 1-9 1-9 1-10"/>
<path d="M0 170l1 0 1 2 1 1 1 2 1 0 1-2 1-9 1-19 1-31 1-43 1-52 1-56 1-54 1-49 1-37 1-25 1-8 1 7 1 22 1 35 1 44 1 51 1 52 1 53 1 53 1 54 1 53 1 53"/>
<path d="M0 -265l1-1 1-2 1-4 1-5 1-6 1-7 1-5 1-3 1 4 1 12 1 22 1 33 1 41 1 46 1 49 1 47 1 42 1 34 1 24 1 11 1 0 1-12 1-20 1-26 1-30 1-30 1-31 1-31"/>
<path d="M0 -28l1 0 1-1 1-1 1-1 1-3 1-3 1-5 1-8 1-9 1-9 1-10 1-9 1-7 1-5 1-2 1 1 1 4 1 6 1 8 1 9 1 10 1 9 1 7 1 7 1 6 1 5 1 6 1 6"/>
<path d="M0 -245l1-1 1-2 1-5 1-6 1-10 1-14 1-19 1-27 1-31 1-29 1-23 1-9 1 6 1 22 1 37 1 49 1 57 1 59 1 58 1 51 1 41 1 28 1 17 1 9 1 6 1 5 1 5 1 6"/>
<path d="M0 223l1 0 1 2 1 2 1 3 1 2 1 0 1-6 1-14 1-27 1-40 1-51 1-59 1-60 1-56 1-48 1-37 1-22 1-7 1 10 1 25 1 36 1 46 1 50 1 52 1 52 1 52 1 52 1 52"/>
<path d="M0 -64l1 0 1-2 1-2 1-3 1-5 1-9 1-13 1-20 1-26 1-28 1-27 1-20 1-11 1-2 1 8 1 18 1 26 1 33 1 36 1 36 1 34 1 30 1 26 1 23 1 21 1 21 1 22 1 22"/>
<path d="M0 -84l1 0 1-1 1-1 1-2 1-2 1 0 1 1 1 5 1 8 1 13 1 18 1 21 1 24 1 25 1 24 1 21 1 16 1 10 1 3 1-4 1-9 1-15 1-17 1-19 1-20 1-20 1-21 1-21"/>
<path d="M0 197l1 1 1 2 1 3 1 4 1 6 1 6 1 6 1 6 1 3 1-4 1-12 1-21 1-32 1-39 1-43 1-45 1-42 1-36 1-28 1-17 1-6 1 5 1 12 1 17 1 20 1 20 1 21 1 20"/>
<path d="M0 10l1 0 1 0 1 1 1 0 1 0 1 0 1-2 1-2 1-4 1-4 1-4 1-3 1-1 1 0 1 1 1 2 1 4 1 4 1 5 1 4 1 5 1 5 1 4 1 5 1 6 1 7 1 7 1 7"/>
<path d="M0 -168l1 0 1-1 1-1 1-1 1 1 1 3 1 10 1 20 1 33 1 45 1 55 1 59 1 57 1 50 1 39 1 24 1 7 1-11 1-26 1-39 1-49 1-54 1-56 1-55 1-55 1-54 1-54 1-53"/>
<path d="M0 -86l1 0 1 1 1 0 1 1 1 3 1 7 1 14 1 27 1 41 1 53 1 61 1 61 1 53 1 40 1 23 1 3 1-17 1-35 1-51 1-60 1-65 1-64 1-61 1-56 1-54 1-52 1-51 1-52"/>
<path d="M0 -111l1 0 1-2 1-2 1-4 1-6 1-8 1-12 1-17 1-22 1-24 1-24 1-20 1-14 1-5 1 3 1 12 1 21 1 26 1 30 1 32 1 30 1 26 1 21 1 15 1 13 1 11 1 10 1 10"/>
<path d="M0 -334l1-2 1-4 1-6 1-8 1-9 1-11 1-12 1-11 1-5 1 5 1 17 1 31 1 44 1 52 1 58 1 59 1 55 1 46 1 34 1 19 1 3 1-10 1-22 1-30 1-33 1-34 1-35 1-34"/>
<path d="M0 -199l1-1 1-2 1-2 1-4 1-3 1-1 1 2 1 9 1 17 1 27 1 38 1 44 1 49 1 50 1 46 1 39 1 29 1 16 1 2 1-11 1-23 1-32 1-38 1-41 1-43 1-44 1-44 1-44"/>
<path d="M0 50l1 0 1 0 1 1 1 1 1 0 1 1 1-1 1-3 1-6 1-11 1-14 1-19 1-20 1-20 1-19 1-16 1-12 1-6 1-1 1 5 1 9 1 11 1 14 1 13 1 12 1 13 1 12 1 11"/>
<path d="M0 51l1 0 1 1 1 0 1 2 1 2 1 2 1 2 1 3 1 3 1 2 1 1 1-2 1-5 1-9 1-10 1-13 1-14 1-13 1-12 1-10 1-7 1-4 1-2 1 1 1 2 1 3 1 3 1 4"/>
<path d="M0 -393l1-1 1-3 1-5 1-7 1-8 1-10 1-9 1-8 1-3 1 7 1 19 1 34 1 46 1 57 1 62 1 63 1 58 1 49 1 36 1 19 1 3 1-13 1-27 1-35 1-40 1-42 1-42 1-42"/>
<path d="M0 14l1 0 1 1 1 1 1 2 1 4 1 8 1 14 1 24 1 36 1 45 1 49 1 48 1 40 1 28 1 13 1-3 1-19 1-34 1-44 1-53 1-56 1-54 1-51 1-45 1-42 1-39 1-38 1-37"/>
<path d="M0 129l1 0 1 1 1 3 1 4 1 7 1 12 1 18 1 27 1 35 1 41 1 41 1 37 1 26 1 14 1-1 1-16 1-29 1-40 1-48 1-52 1-52 1-47 1-41 1-35 1-31 1-29 1-29 1-28"/>
<path d="M0 56l1 1 1 1 1 3 1 4 1 6 1 11 1 18 1 29 1 39 1 45 1 48 1 42 1 34 1 20 1 5 1-12 1-26 1-39 1-49 1-54 1-54 1-52 1-45 1-41 1-38 1-37 1-36 1-37"/>
<path d="M0 -206l1-1 1-2 1-3 1-6 1-8 1-14 1-20 1-28 1-34 1-36 1-32 1-21 1-9 1 6 1 20 1 35 1 44 1 52 1 54 1 52 1 46 1 37 1 27 1 20 1 17 1 16 1 15 1 17"/>
<path d="M0 -102l1-1 1-2 1-3 1-3 1-5 1-7 1-8 1-11 1-10 1-8 1-3 1 5 1 13 1 20 1 25 1 28 1 29 1 28 1 24 1 18 1 12 1 6 1 1 1-2 1-3 1-3 1-2 1-2"/>
<path d="M0 -173l1-1 1-1 1-3 1-2 1-3 1-1 1 3 1 9 1 17 1 28 1 36 1 42 1 45 1 43 1 37 1 30 1 19 1 7 1-5 1-17 1-26 1-33 1-37 1-39 1-39 1-40 1-40 1-40"/>
<path d="M0 228l1 1 1 1 1 2 1 2 1 2 1-2 1-8 1-17 1-28 1-40 1-49 1-53 1-52 1-49 1-41 1-30 1-17 1-2 1 13 1 26 1 36 1 45 1 50 1 52 1 55 1 56 1 57 1 57"/>
<path d="M0 115l1 1 1 1 1 1 1 1 1 0 1-2 1-6 1-15 1-24 1-34 1-43 1-48 1-48 1-43 1-36 1-24 1-10 1 3 1 17 1 29 1 37 1 41 1 44 1 42 1 42 1 41 1 40 1 41"/>
<path d="M0 -1l1 1 1 0 1 0 1-1 1-2 1-5 1-9 1-14 1-20 1-25 1-28 1-28 1-26 1-21 1-15 1-8 1 1 1 8 1 16 1 21 1 25 1 26 1 26 1 25 1 24 1 24 1 23 1 24"/>
<path d="M0 -33l1-1 1-1 1-1 1-1 1-3 1-4 1-6 1-9 1-13 1-15 1-15 1-12 1-7 1-1 1 6 1 12 1 18 1 21 1 24 1 23 1 22 1 19 1 16 1 12 1 11 1 10 1 9 1 9"/>
<path d="M0 -122l1 0 1-1 1-3 1-3 1-4 1-5 1-6 1-6 1-6 1-3 1 1 1 5 1 9 1 13 1 17 1 18 1 19 1 18 1 16 1 12 1 7 1 3 1-3 1-5 1-8 1-9 1-10 1-9"/>
</g>

</g>
<polyline points="93.4,260.7 96.0,260.6 98.6,260.5 101.2,260.5 103.7,260.3 106.3,260.2 108.9,260.1 111.5,259.9 114.1,259.8 116.7,259.6 119.2,259.3 121.8,259.1 124.4,258.8 127.0,258.5 129.6,258.1 132.2,257.7 134.7,257.3 137.3,256.8 139.9,256.2 142.5,255.6 145.1,254.9 147.7,254.0 150.2,253.1 152.8,252.1 155.4,251.0 158.0,249.7 160.6,248.3 163.2,246.8 165.8,245.0 168.3,243.1 170.9,241.0 173.5,238.6 176.1,236.0 178.7,233.1 181.3,229.9 183.8,226.4 186.4,222.6 189.0,218.5 191.6,214.1 194.2,209.3 196.8,204.1 199.3,198.6 201.9,192.8 204.5,186.6 207.1,180.2 209.7,173.4 212.3,166.4 214.8,159.3 217.4,151.9 220.0,144.4 222.6,136.9 225.2,129.4 227.8,121.9 230.4,114.6 232.9,107.4 235.5,100.4 238.1,93.6 240.7,87.1 243.3,80.9 245.9,75.1 248.4,69.5 251.0,64.4 253.6,59.6 256.2,55.1 258.8,51.0 261.4,47.1 263.9,43.7 266.5,40.5 269.1,37.6 271.7,34.9 274.3,32.5 276.9,30.4 279.4,28.4 282.0,26.7 284.6,25.1 287.2,23.7 289.8,22.5 292.4,21.3 295.0,20.3 297.5,19.4 300.1,18.6 302.7,17.9 305.3,17.3 307.9,16.7 310.5,16.2 313.0,15.8 315.6,15.4 318.2,15.1 320.8,14.8 323.4,14.6 326.0,14.4 328.5,14.2 331.1,14.1 333.7,13.9 336.3,13.8 338.9,13.8 341.5,13.7 344.0,13.7 346.6,13.7 349.2,13.8 351.8,13.8 354.4,13.9 357.0,14.0 359.6,14.2 362.1,14.3 364.7,14.5 367.3,14.8 369.9,15.0 372.5,15.3 375.1,15.7 377.6,16.1 380.2,16.5 382.8,17.0 385.4,17.6 388.0,18.2 390.6,19.0 393.1,19.8 395.7,20.7 398.3,21.7 400.9,22.8 403.5,24.0 406.1,25.4 408.6,27.0 411.2,28.7 413.8,30.5 416.4,32.6 419.0,34.9 421.6,37.4 424.2,40.2 426.7,43.2 429.3,46.5 431.9,50.1 434.5,54.0 437.1,58.2 439.7,62.7 442.2,67.5 444.8,72.7 447.4,78.1 450.0,83.9 452.6,90.0 455.2,96.3 457.7,102.9 460.3,109.6 462.9,116.6 465.5,123.7 468.1,130.9 470.7,138.1 473.2,145.3 475.8,152.4 478.4,159.4 481.0,166.3 483.6,173.0 486.2,179.5 488.8,185.7 491.3,191.7 493.9,197.4 496.5,202.7 499.1,207.7 501.7,212.4 504.3,216.8 506.8,220.9 509.4,224.7 512.0,228.1 514.6,231.3 517.2,234.2 519.8,236.9 522.3,239.3 524.9,241.6 527.5,243.6 530.1,245.4 532.7,247.0 535.3,248.5 537.8,249.8 540.4,251.0 543.0,252.1 545.6,253.1" fill="none" stroke="#d62728" stroke-width="2.1" stroke-linejoin="round"/>
<g stroke="#000" stroke-width="1.35" fill="none">
<rect x="68.6" y="0.65" width="501.4" height="273.25"/>
</g>
<g stroke="#000" stroke-width="1.1">
<path d="M93.4 273.9v4.9M158 273.9v4.9M222.6 273.9v4.9M287.2 273.9v4.9M351.8 273.9v4.9M416.4 273.9v4.9M481 273.9v4.9M545.6 273.9v4.9"/>
<path d="M68.6 15.3h-4.9M68.6 76.85h-4.9M68.6 138.4h-4.9M68.6 199.95h-4.9M68.6 261.5h-4.9"/>
<path d="M570 12.9h4.9M570 62.6h4.9M570 112.3h4.9M570 161.9h4.9M570 211.6h4.9M570 261.3h4.9"/>
</g>
<g font-size="16" fill="#000" color="#000" text-anchor="middle">
<text transform="translate(93.4 294.5) scale(1.10 1)">0.00</text>
<text transform="translate(158.0 294.5) scale(1.10 1)">0.05</text>
<text transform="translate(222.6 294.5) scale(1.10 1)">0.10</text>
<text transform="translate(287.2 294.5) scale(1.10 1)">0.15</text>
<text transform="translate(351.8 294.5) scale(1.10 1)">0.20</text>
<text transform="translate(416.4 294.5) scale(1.10 1)">0.25</text>
<text transform="translate(481.0 294.5) scale(1.10 1)">0.30</text>
<text transform="translate(545.6 294.5) scale(1.10 1)">0.35</text>
</g>
<g font-size="16" fill="#1f77b4" color="#1f77b4" text-anchor="end">
<text transform="translate(60.1 21.60) scale(1.13 1)">1.0</text>
<text transform="translate(60.1 83.15) scale(1.13 1)">0.5</text>
<text transform="translate(60.1 144.70) scale(1.13 1)">0.0</text>
<text transform="translate(60.1 206.25) scale(1.13 1)">0.5</text>
<text transform="translate(60.1 267.80) scale(1.13 1)">1.0</text>
</g>
<path d="M22.8 201h10.6M22.8 262.55h10.6" stroke="#1f77b4" stroke-width="1.45"/>
<g font-size="16" fill="#d62728" color="#d62728" text-anchor="start">
<text transform="translate(579 19.50) scale(1.10 1)">0.5</text>
<text transform="translate(579 69.20) scale(1.10 1)">0.4</text>
<text transform="translate(579 118.90) scale(1.10 1)">0.3</text>
<text transform="translate(579 168.50) scale(1.10 1)">0.2</text>
<text transform="translate(579 218.20) scale(1.10 1)">0.1</text>
<text transform="translate(579 267.90) scale(1.10 1)">0.0</text>
</g>
<text transform="translate(320 310.6) scale(1.15 1)" font-size="16" color="#000" text-anchor="middle"><tspan font-style="italic">z</tspan> [m]</text>
<text transform="translate(12.6 137.8) rotate(-90) scale(1.175 1)" font-size="16" fill="#1f77b4" color="#1f77b4" text-anchor="middle">Δ<tspan font-style="italic">x</tspan>, Δ<tspan font-style="italic">y</tspan> [mm]</text>
<text transform="translate(613.2 140) rotate(90) scale(1.2 1)" font-size="16" fill="#d62728" color="#d62728" text-anchor="middle"><tspan font-style="italic">B</tspan><tspan font-style="italic" font-size="11" dy="2.5">z</tspan><tspan dy="-2.5">(</tspan><tspan font-style="italic">z</tspan>) [T]</text>
<g font-size="16" font-style="italic">
<text transform="translate(448.6 14) scale(1.25 1)" fill="#1f77b4" color="#1f77b4">x</text>
<text transform="translate(447.6 30.2) scale(1.2 1)" fill="#2ca02c" color="#2ca02c">y</text>
</g>
<path d="M464 9.6h30" stroke="#1f77b4" stroke-width="2.1"/>
<path d="M464 26.6h30" stroke="#2ca02c" stroke-width="2.1"/>
</svg>
</body></html>
